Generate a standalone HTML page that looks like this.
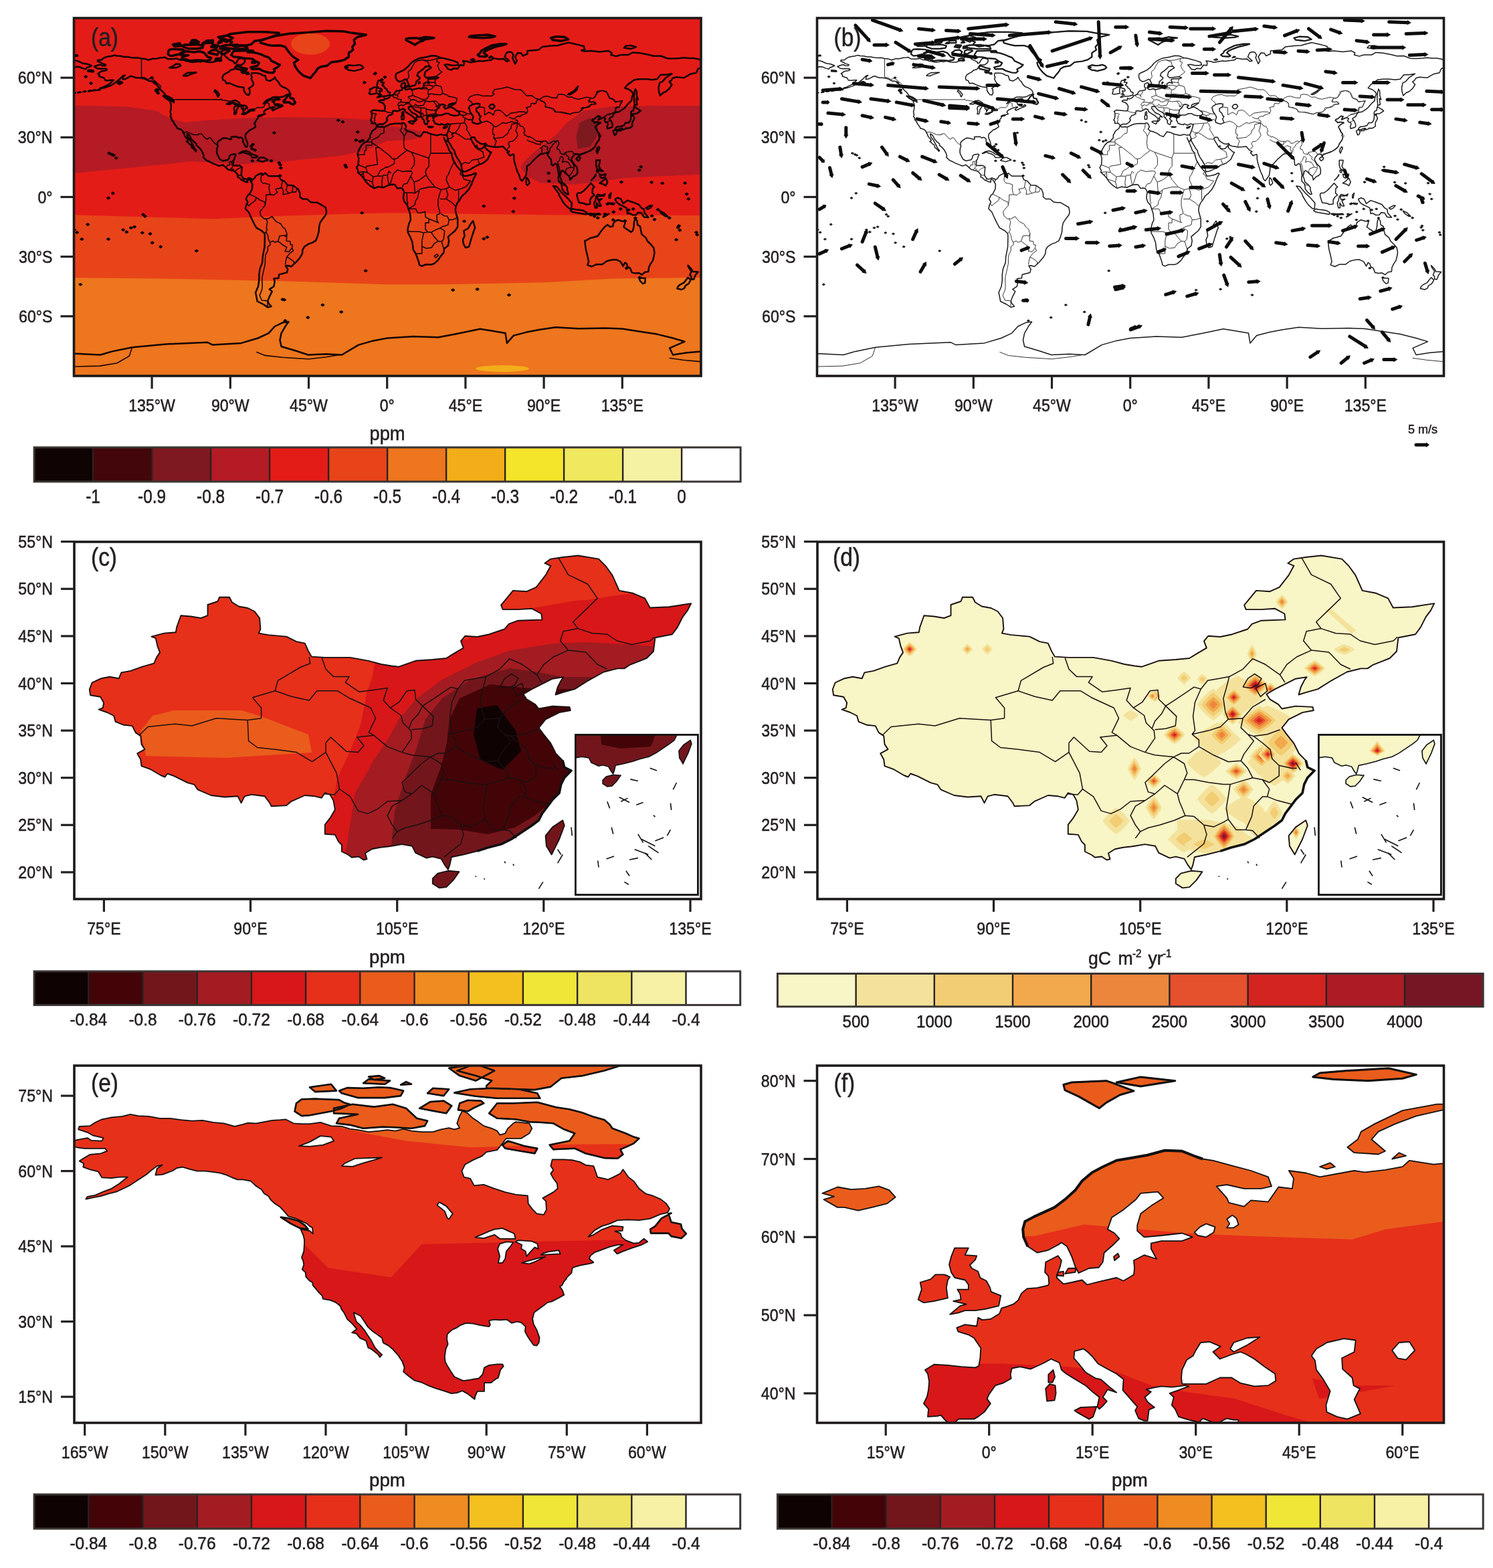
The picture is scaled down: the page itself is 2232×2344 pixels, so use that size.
<!DOCTYPE html>
<html><head><meta charset="utf-8"><title>figure</title><style>html,body{margin:0;padding:0;background:#fff;}svg{display:block;}</style></head><body>
<svg xmlns="http://www.w3.org/2000/svg" width="2232" height="2344" viewBox="0 0 2232 2344" font-family="Liberation Sans, Arial, Helvetica, sans-serif">
<rect width="2232" height="2344" fill="#fff"/>
<clipPath id="ca"><rect x="110.5" y="27" width="937.5" height="535"/></clipPath>
<g clip-path="url(#ca)">
<rect x="110.5" y="27" width="937.5" height="535" fill="#e41c18"/>
<path d="M107.3,321.2 L214.1,324.2 L318.3,327.2 L422.4,322.7 L578.7,318.3 L695.9,319.8 L813.1,321.2 L930.3,321.8 L1050.1,322.1 L1050.1,576.8 L107.3,576.8Z" fill="#e84419"/>
<path d="M107.3,415.2 L266.2,416.9 L422.4,420.2 L578.7,425.3 L656.8,425.3 L813.1,422.3 L917.3,416.4 L1050.1,414.9 L1050.1,576.8 L107.3,576.8Z" fill="#ed761e"/>
<path d="M107.3,157.8 L188.0,159.3 L232.3,165.2 L254.5,177.1 L276.6,183.1 L307.8,180.1 L371.9,176.2 L425.3,175.0 L505.3,176.2 L552.7,179.2 L578.7,188.1 L610.0,192.0 L630.0,196.4 L630.8,203.9 L615.2,208.9 L578.7,210.7 L545.4,225.3 L505.3,233.3 L425.3,241.3 L357.3,245.5 L287.0,241.3 L188.0,251.4 L113.3,258.5 L107.3,258.8ZM777.9,249.9 L782.4,242.5 L795.4,229.7 L833.9,199.1 L846.7,183.9 L872.0,165.8 L910.5,159.6 L987.6,158.1 L1050.1,158.1 L1050.1,260.6 L938.1,265.7 L860.0,275.8 L808.1,273.4 L787.6,263.0Z" fill="#b41b24"/>
<path d="M866.5,183.6 L881.9,176.2 L894.6,183.6 L892.3,204.2 L881.9,219.6 L864.1,222.3 L861.3,204.2Z" fill="#7e191f"/>
<ellipse cx="464.1" cy="65.7" rx="29" ry="16" fill="#e84419"/>
<ellipse cx="751.1" cy="551.0" rx="40" ry="5" fill="#f3ad19"/>
<path d="M211.5,87.4 L211.5,115.3 L216.7,116.2 L220.6,118.9 L225.8,116.8 L231.0,120.6 L237.5,126.6 L240.1,128.4 L240.1,131.0M258.1,148.9 L330.8,148.9 L330.8,147.7 L332.3,149.8 L336.5,150.1 L345.6,151.8 L357.8,156.3 L359.7,156.3 L364.1,159.9 L363.8,166.7 L362.3,169.7 L373.0,167.3 L372.7,165.5 L379.5,164.3 L384.2,160.8 L392.5,160.8 L394.8,159.0 L396.4,155.7 L398.5,153.5 L401.1,153.8 L402.1,154.8 L402.1,158.7 L403.9,160.5M273.7,197.9 L280.0,197.3 L289.6,201.5 L296.9,201.5 L296.9,200.0 L301.3,200.0 L306.5,206.2 L310.2,208.3 L312.0,205.9 L314.6,205.9 L319.6,212.8 L325.6,217.5M338.6,251.4 L338.8,249.6 L339.9,246.7 L343.3,246.7 L343.3,241.6 L346.5,241.6 L348.7,239.5M346.5,241.6 L346.4,247.2M349.0,247.8 L346.4,251.1 L345.3,252.3 L344.0,253.5M351.3,255.9 L354.7,253.2 L357.3,251.4 L362.0,249.9M355.5,261.5 L358.6,262.1 L361.0,262.1M362.8,270.4 L363.6,266.0M375.8,273.1 L377.6,268.9M345.9,251.7 L348.2,253.2 L350.0,253.2M393.0,259.4 L390.7,261.5 L389.9,269.8 L392.5,273.7 L396.4,274.0 L402.9,276.1 L402.1,281.1 L403.4,288.6 L404.5,290.9M404.5,290.9 L409.4,291.8 L412.0,289.2 L414.6,288.0 L412.0,282.6 L419.8,281.1 L420.6,279.0M420.6,279.0 L422.4,269.2M420.6,279.0 L423.7,285.6 L423.0,290.6 L427.6,290.0 L431.6,288.9M429.7,276.7 L427.6,284.1 L431.6,288.9M438.1,277.6 L436.8,287.1 L442.0,287.1 L444.3,282.3M431.6,288.9 L436.8,287.1M404.5,290.9 L397.7,291.2 L397.7,298.1 L396.4,307.0M373.2,290.3 L376.9,292.1 L382.1,294.5 L382.8,294.8M382.8,294.8 L388.6,299.0 L395.9,302.2 L396.4,307.0M369.6,304.6 L371.9,307.9 L374.8,304.6 L377.4,303.1 L382.1,299.3 L382.8,294.8M396.4,307.0 L388.6,316.2 L389.9,322.7 L395.1,327.2 L397.4,326.9M397.4,326.9 L399.8,331.6 L398.7,337.6 L398.2,340.6 L399.5,342.9 L397.7,346.5M397.7,346.5 L395.4,349.0M397.4,326.9 L400.3,327.2 L406.8,323.6 L409.4,327.2 L413.3,331.6 L419.8,334.6 L422.4,339.1 L426.9,342.9 L427.6,346.5 L428.9,348.6M397.7,346.5 L400.6,352.5 L401.3,357.8 L403.7,362.3M403.7,362.3 L408.1,360.2 L411.2,362.3 L415.7,360.5M415.7,360.5 L418.0,352.8 L424.8,351.9 L427.1,353.3 L428.9,348.6M428.9,348.6 L428.2,360.2 L433.6,360.8 L434.4,365.8 L437.3,366.1 L436.5,370.6M415.7,360.5 L422.4,365.8 L428.7,369.7 L426.1,375.6 L432.1,376.2 L436.5,370.6M436.5,370.6 L438.6,375.0 L433.6,378.3 L428.7,384.3M428.7,384.3 L427.1,391.1 L426.6,395.5M428.7,384.3 L432.9,386.3 L439.4,391.1 L439.6,394.7M403.7,362.3 L404.2,365.8 L400.3,368.8 L400.3,374.7 L397.2,380.7 L396.4,386.6 L396.4,394.1 L394.8,401.5 L393.5,407.4 L392.2,413.4 L391.7,419.3 L392.2,425.3 L391.7,432.7 L389.9,437.2 L388.1,441.6 L389.9,445.5 L391.4,449.0 L399.0,449.6 L400.0,450.8 L400.0,458.0M555.5,170.0 L557.3,169.4 L561.5,170.0 L562.6,170.9 L560.7,172.6 L560.5,176.5 L559.2,176.8 L560.5,178.9 L559.7,181.0 L559.4,183.9M574.0,165.5 L578.7,167.6 L582.6,168.2 L587.0,168.5M585.2,142.6 L589.6,145.9 L591.2,145.9 L593.8,147.4 L595.4,148.3 L600.1,148.9 L598.5,153.0 L596.7,153.3 L594.3,156.6 L596.9,158.1 L595.9,160.5 L596.9,163.1 L598.2,164.3M587.6,141.7 L590.4,141.4 L593.8,142.3 L594.3,143.5M594.3,143.5 L595.1,145.0 L594.6,145.6M594.3,143.5 L594.8,140.6 L596.9,139.1 L597.2,136.4M601.1,131.3 L604.5,131.6M615.7,134.3 L616.2,136.1 L616.7,138.2 L617.0,141.1 L617.8,142.9M617.8,142.9 L615.9,142.9 L610.2,145.0 L611.3,146.5 L614.6,149.5 L612.6,151.0 L612.6,153.3 L610.5,153.0 L606.0,153.3 L603.4,153.0 L601.1,152.7 L598.5,153.0M617.8,142.9 L621.7,144.7 L625.6,145.9 L628.2,147.4 L630.8,148.3 L637.3,148.6M614.6,149.5 L617.8,148.9 L622.7,150.1 L623.2,151.8M623.2,151.8 L627.7,152.4 L632.1,150.4 L636.3,150.7M606.0,155.1 L610.5,154.8 L614.4,156.3M596.7,158.1 L600.6,156.6 L602.1,158.1 L605.8,156.3 L606.0,155.1M614.4,156.3 L614.1,159.3M614.1,159.3 L619.1,158.4 L621.7,156.3 L620.6,155.1M636.3,150.7 L633.4,156.9 L631.6,157.5 L627.7,158.1 L623.8,158.1 L621.7,156.3M619.8,160.2 L624.3,160.5 L628.2,161.1 L629.2,163.1 L629.5,166.1 L626.9,168.2M628.2,161.1 L634.7,161.4 L637.8,163.1 L637.0,166.7 L638.3,169.7 L637.6,172.1 L633.4,172.9 L632.4,170.0 L629.7,168.2M630.8,176.5 L633.4,172.9M637.6,172.1 L642.5,171.2 L647.2,170.6 L648.0,171.8 L646.9,173.8M637.8,163.1 L643.8,164.6 L653.2,164.6M647.2,170.6 L651.6,169.7M636.3,150.7 L641.2,152.1 L648.0,151.2 L651.9,156.3 L652.1,159.3M648.0,151.2 L652.1,151.2 L654.2,153.3 L656.8,156.3 L652.1,159.3 L656.1,160.2M629.7,132.8 L638.1,132.8 L637.6,130.7 L634.2,130.4M637.3,148.6 L641.2,143.8 L640.2,141.1 L639.9,137.6 L640.9,134.3 L638.1,132.8M633.7,127.8 L641.2,127.2 L648.0,129.0M642.0,122.7 L647.7,123.3 L650.3,123.6M651.9,117.7 L650.1,122.1 L650.8,123.9 L651.9,127.5 L648.0,129.0 L646.4,131.3 L645.1,133.1 L640.9,134.3M651.9,127.5 L659.2,129.3 L661.5,137.0 L661.5,139.7 L658.1,141.7 L650.3,141.1 L644.3,140.3 L640.2,141.1M661.5,139.7 L668.3,142.0 L670.9,144.1 L676.6,145.0 L683.1,147.1 L682.1,152.4 L678.2,154.5M608.4,119.2 L611.3,114.7 L610.7,111.1 L610.2,107.3 L614.9,103.1 L616.5,99.2 L620.4,93.0 L625.6,90.6 L631.6,89.4M631.6,89.4 L640.2,92.7 L641.5,98.9M631.6,89.4 L637.3,90.6 L645.6,89.7 L653.7,87.4M653.7,87.4 L652.9,91.8 L656.8,93.3 L654.2,98.3 L656.8,104.3 L660.7,107.6 L651.1,114.7M653.7,87.4 L658.9,87.1M706.3,156.3 L705.5,153.3 L701.9,150.4 L699.8,148.9 L702.4,144.7 L708.9,142.0 L715.4,141.4 L721.9,143.5 L728.5,143.2 L735.0,143.5 L738.9,140.6 L736.3,138.5 L737.6,137.0 L738.9,134.0 L749.3,132.2 L758.4,130.1 L770.1,134.0 L777.9,134.0 L781.8,137.0 L787.1,143.2 L794.9,142.9 L801.4,147.4 L806.1,148.6M806.1,148.6 L813.1,144.4 L818.3,143.8 L824.8,145.9 L832.6,146.5 L833.9,141.4 L839.1,140.8 L844.3,142.0 L849.6,145.3 L854.8,145.0 L860.0,147.4 L865.2,148.3 L870.4,147.1 L876.9,145.3 L882.6,146.2M882.6,146.2 L885.8,147.1 L889.1,145.0 L891.2,140.3 L895.1,137.0 L900.3,135.5 L906.9,137.9 L910.8,146.5 L917.3,149.2 L919.9,152.7 L925.1,151.5 L929.5,151.0 L927.7,154.8 L925.3,160.5 L922.0,159.9 L919.9,161.1 L919.9,167.0 L918.8,168.5M918.8,168.5 L914.7,169.7 L912.1,170.0 L908.2,171.2 L904.2,174.1 L902.4,175.9M907.1,182.5 L909.5,181.6 L912.8,179.8M806.1,148.6 L807.9,150.1 L813.1,152.4 L815.7,156.0 L814.9,159.3 L820.9,161.1 L827.4,162.8 L831.3,167.3 L839.1,167.9 L844.3,169.1 L852.2,170.9 L857.4,168.5 L865.2,167.9 L869.1,164.6 L873.0,161.4 L880.8,159.9 L884.7,156.0 L890.7,155.7 L887.3,152.1 L884.2,152.7 L880.8,152.4 L882.6,146.2M724.3,160.8 L724.5,171.8 L731.1,167.9 L735.0,169.7 L737.6,172.1 L740.2,165.2 L746.7,164.6 L750.6,167.0 L757.1,173.8 L763.6,169.1 L770.1,168.2 L776.6,167.0 L784.4,167.3 L787.6,169.4M724.3,160.8 L716.7,159.9M719.1,183.6 L727.2,181.0 L732.4,183.1 L736.3,186.0 L738.1,188.7M738.1,188.7 L741.5,189.6 L746.7,186.6 L751.9,183.3M751.9,183.3 L755.8,184.5 L761.0,183.1 L764.9,181.9 L770.1,183.3 L773.8,183.9M761.0,175.0 L766.2,177.4 L770.6,177.4M773.8,183.9 L764.9,186.0 L763.9,192.0 L761.0,194.0 L759.2,199.7 L751.9,205.3 L740.2,206.8 L737.6,205.9M738.1,188.7 L736.3,194.9 L737.0,200.9 L739.4,201.2 L737.6,205.9M737.6,205.9 L742.0,210.7 L739.1,219.6M773.8,183.9 L772.7,191.1 L770.9,195.8 L772.7,197.9 L774.0,202.4 L771.2,206.8 L766.2,211.3 L761.8,211.6 L759.7,215.1 L762.3,218.7 L757.9,223.2M787.3,208.9 L792.3,211.6 L797.5,213.1 L802.7,215.4 L808.1,216.0 L808.4,211.9M809.7,229.1 L810.5,223.2 L808.1,221.4 L810.5,219.6 L812.6,217.5 L819.1,219.9 L817.8,222.6 L819.6,226.1 L819.1,231.5M819.1,231.5 L821.7,226.1 L822.2,221.7 L825.1,218.7 L826.6,215.7 L832.1,211.6M835.2,264.8 L837.1,258.8 L836.5,252.9 L835.2,246.9 L833.4,242.5 L836.3,239.5 L837.8,234.5 L839.4,233.9M839.4,233.9 L842.3,236.5 L840.4,242.5 L844.3,241.3 L849.6,242.8 L851.6,245.8 L853.7,249.9M844.9,227.9 L847.0,232.1 L850.9,235.1 L849.6,237.4 L853.5,240.4 L856.3,244.0 L858.7,249.9M853.7,249.9 L847.0,252.0 L845.4,255.9 L846.7,260.0M858.7,251.1 L855.5,257.4 L850.9,263.3M853.7,249.9 L858.7,251.1M839.4,275.2 L843.8,277.6 L844.6,276.1M672.5,188.1 L674.3,185.1 L677.7,185.1 L682.9,184.5 L688.9,184.2M688.9,184.2 L694.1,183.9 L695.4,176.5M687.0,171.2 L692.0,172.4 L692.3,175.3 L695.4,176.5M688.9,184.2 L685.5,192.3 L680.3,198.5 L674.5,198.5 L671.4,195.5M695.4,183.9 L697.2,188.1 L698.5,190.5 L697.2,193.5 L699.8,197.0 L703.7,203.9M680.3,198.5 L685.5,201.2 L695.1,207.7 L699.8,208.0 L703.7,208.3M680.3,198.5 L675.1,200.9 L677.7,203.9 L673.8,206.8 L669.9,207.1M690.2,245.8 L694.6,242.8 L701.1,244.3 L706.3,239.2 L714.1,238.0 L723.5,235.1 L721.9,227.0 L713.1,222.3M714.1,238.0 L717.0,245.2M682.9,165.5 L688.1,166.1 L693.3,167.6 L698.5,170.0 L705.0,170.3M695.4,176.5 L699.8,178.9 L703.7,178.6 L706.1,180.4M698.5,170.0 L695.9,172.1 L692.0,172.4M671.4,195.5 L670.1,196.1M574.3,190.2 L574.0,198.8 L569.3,200.3 L564.4,205.6 L556.0,209.2 L556.0,212.2M601.1,184.8 L600.6,191.4 L598.2,194.9 L602.1,199.4 L604.2,203.9 L603.4,214.3 L604.7,221.7 L608.7,224.7M608.7,195.8 L604.2,203.9M556.0,212.2 L556.0,213.4 L566.2,220.2 L581.8,232.1 L587.0,237.7 L589.6,237.4 L593.8,236.8 L598.2,232.7 L608.7,224.7M556.0,212.2 L544.3,212.2M556.0,213.4 L556.0,217.2 L547.4,217.2 L547.4,224.7 L544.8,226.1 L544.8,231.2 L534.4,231.2M566.2,220.2 L561.8,220.5 L564.4,245.8 L548.7,248.4 L546.9,250.8M546.9,250.8 L535.7,246.4M589.6,237.4 L589.6,244.6 L580.0,249.9 L577.4,249.6 L573.5,252.3 L568.3,255.0 L564.4,263.3 L557.9,264.2 L549.3,257.9 L546.9,250.8M549.3,257.9 L543.0,256.8 L535.2,257.6M543.0,256.8 L544.1,267.8 L548.7,269.2 L551.4,269.8 L556.6,272.2 L559.2,281.4M539.6,261.8 L543.0,258.8M557.9,264.2 L556.6,272.2M571.4,279.6 L570.9,272.2 L572.2,263.3 L564.4,263.3M581.8,276.4 L580.0,269.2 L579.2,261.8M582.9,276.1 L585.7,267.8 L588.1,259.7M572.2,262.1 L579.2,261.8 L581.3,256.2 L584.7,258.8M588.1,259.7 L594.3,254.1 L602.1,256.5 L611.3,255.6 L615.2,255.9M601.1,280.5 L603.7,275.2 L608.7,274.0 L611.3,269.2 L613.9,263.3 L616.5,258.8 L615.2,255.9M608.7,224.7 L615.2,227.6 L619.1,235.1 L619.6,241.0 L619.1,246.9 L614.4,252.9M615.2,227.6 L641.2,236.5 L641.2,235.1M641.2,236.5 L641.2,248.4 L637.3,252.9 L636.0,257.4 L637.3,261.8M613.9,263.3 L619.1,272.2 L626.9,269.2 L634.7,263.3 L637.3,261.8M643.8,200.6 L643.8,229.1 L641.2,235.1M643.8,229.1 L674.8,229.1M679.2,241.0 L673.8,252.0M673.8,252.0 L669.9,261.8 L668.0,263.3M637.3,261.8 L641.2,268.6 L650.3,279.6 L659.4,283.5 L667.0,282.0 L671.9,279.6 L667.2,269.2 L668.0,263.3M690.7,261.8 L693.3,267.8 L703.7,270.7 L695.9,279.6 L688.1,282.6 L685.5,282.9M685.5,282.9 L680.3,284.4 L671.9,279.6M685.5,282.9 L685.5,299.6M690.4,261.8 L687.6,260.3 L689.1,257.4M667.0,282.0 L669.6,291.5 L667.2,297.5 L676.4,303.4 L680.8,308.2M658.1,297.5 L667.2,297.5M659.4,283.5 L656.8,291.5 L655.0,299.0 L655.0,307.9 L658.1,319.2M658.1,319.2 L652.9,321.2 L653.4,330.2 L655.5,333.1 L649.0,330.2 L641.2,327.2 L636.0,324.2 L635.5,316.2 L629.5,318.3 L624.3,318.3 L621.7,312.3 L610.7,312.3M650.3,279.6 L641.2,279.6 L628.2,282.6 L626.9,284.1 L624.3,296.0 L621.2,300.4 L620.1,306.4 L610.7,312.3M620.4,288.6 L619.1,272.2M604.2,287.7 L608.1,288.0 L613.3,288.0 L620.4,288.6 L626.9,284.1M608.1,288.0 L608.7,301.9 L610.0,303.4 L607.6,306.1M609.4,345.9 L615.2,346.2 L626.9,346.2 L633.1,348.0 L639.6,346.8M641.2,327.2 L641.2,333.1 L636.0,333.1 L636.0,342.9 L639.6,346.8M630.8,359.9 L630.8,368.2 L630.8,378.9 L621.7,379.5M630.8,359.9 L633.4,348.0M630.8,368.2 L637.3,371.2 L645.1,370.3 L649.0,364.3 L655.0,360.5 L660.2,361.1M644.6,347.4 L651.6,343.5 L657.9,340.9 L664.6,345.0 L664.1,351.0 L663.1,357.8 L660.2,361.1M639.6,346.8 L644.6,347.4 L649.0,353.9 L655.0,360.5M660.2,361.1 L662.0,367.3 L664.4,374.4M657.9,340.9 L662.0,338.5 L665.9,337.6 L669.9,336.1 L671.2,328.7 L668.6,323.0 L664.6,322.7 L659.4,319.8M671.2,328.7 L677.7,328.1 L683.9,325.7M649.0,382.8 L652.9,379.8 L655.3,381.9 L651.6,385.4 L649.0,382.8M770.2,177.5 L770.9,175.4 L773.3,174.1 L775.5,173.6 L778.0,174.1 L778.7,172.2 L781.1,171.7 L784.2,170.4 L787.4,169.3 L788.0,167.5 L788.9,165.9 L788.3,163.8 L787.8,161.4 L786.7,160.9 L790.1,159.8 L793.2,159.6 L793.4,158.0 L794.5,154.3 L797.2,154.6 L799.9,155.1 L801.7,154.3 L801.7,150.9 L804.3,149.8 L804.8,148.5 L807.5,148.5 L808.1,150.1 L809.9,151.4 L812.4,151.9 L814.2,153.0 L815.5,155.1 L815.7,158.5 L815.3,159.8 L817.7,160.4 L822.7,160.9 L825.3,162.5 L827.6,163.0 L828.5,165.4 L829.4,167.2 L832.9,167.5 L839.6,167.5 L844.5,168.5 L847.9,169.6 L850.7,170.2 L852.5,170.4 L857.1,168.5 L861.6,168.2 L865.3,167.7 L867.1,166.4 L869.8,164.5 L869.1,162.3 L870.3,160.7 L873.5,161.0 L876.7,160.2 L880.8,158.6 L881.9,157.0 L884.4,155.9 L890.8,155.6 L890.6,153.7 L888.1,152.1 L884.4,152.4 L880.3,152.4 L879.9,151.0 L883.1,146.5 L886.7,146.7 L889.2,145.4 L891.7,141.6 L893.1,138.6 L891.5,137.8 L893.1,136.5 L896.3,136.0 L900.4,135.4 L905.9,136.5 L907.7,138.6 L909.5,141.6 L911.3,146.5 L915.0,147.3 L918.2,148.9 L919.6,151.8 L924.6,151.6 L930.5,150.5 L929.6,152.6 L928.2,154.8 L926.9,158.0 L925.5,160.2 L920.9,161.3 L920.5,165.6 L918.6,167.7 L916.4,168.8 L914.1,169.9 L912.7,171.0 L910.9,171.0 L907.2,172.0 L903.1,174.7 L899.5,177.4 L896.3,178.5 L894.4,179.2 L894.9,176.9 L895.8,174.7 L896.5,173.7 L893.6,174.2 L891.7,175.3 L888.1,177.4 L885.8,179.0 L886.7,180.7 L889.0,182.3 L889.9,183.6 L893.6,182.8 L898.1,183.1 L898.3,184.2 L895.4,184.8 L891.7,187.0 L889.9,189.6 L891.3,191.8 L893.1,194.5 L894.5,197.7 L896.3,199.9 L896.7,202.0 L898.6,203.1 L896.7,205.3 L895.8,207.4 L895.4,210.1 L893.6,212.3 L892.2,214.4 L890.8,216.6 L889.9,218.7 L888.1,220.3 L885.3,222.5 L882.6,224.7 L879.9,226.3 L876.2,227.3 L873.5,228.4 L869.8,229.5 L866.6,230.3 L866.2,232.7 L865.7,234.2 L864.8,232.7 L863.9,230.9 L861.6,230.2 L860.0,230.6 L857.1,229.0 L856.1,226.8 L853.4,226.3 L850.7,226.8 L849.7,227.0 L847.7,227.2 L845.4,227.8 L843.7,229.1 L844.1,230.9 L843.2,231.2 L841.9,230.1 L840.1,230.4 L839.2,229.6 L837.4,228.6 L837.4,226.4 L836.5,225.4 L835.6,223.3 L832.9,223.0 L832.9,220.1 L834.3,218.0 L835.6,215.4 L835.2,212.5 L834.3,210.6 L832.9,210.1 L832.0,211.7 L830.3,211.1 L827.6,210.9 L824.0,212.7 L822.7,214.0 L818.6,214.3 L818.2,213.3 L816.9,211.1 L813.3,210.6 L811.5,211.1 L810.6,213.3 L809.7,211.1 L806.1,211.4 L802.6,210.9 L799.0,209.0 L798.1,207.5 L796.3,206.9 L792.7,204.8 L790.9,204.0 L790.3,205.1 L789.2,204.6 L786.5,202.7 L784.0,201.7 L783.8,199.5 L782.9,197.7 L784.9,196.4 L784.0,194.8 L783.8,192.2 L782.5,191.1 L781.6,189.0 L779.3,188.7 L777.1,187.7 L776.7,185.8 L774.9,184.8 L772.6,183.8 L773.8,183.3 L774.0,181.7 L773.1,179.9 L770.4,179.4M109.9,548.0 L149.0,547.1 L175.0,542.7 L193.2,532.3 L197.7,519.2M383.4,526.3 L396.4,531.4 L422.4,534.3 L461.5,536.7 L487.5,533.7 L505.8,530.8M1000.6,535.2 L1021.4,538.2 L1047.5,540.6" fill="none" stroke="#1a0606" stroke-width="1.6" stroke-linejoin="round"/>
<path d="M338.6,251.4 L335.2,248.1 L332.6,246.4 L330.0,247.5 L327.4,248.0 L323.5,246.4 L319.6,244.9 L315.7,243.1 L312.5,241.3 L309.1,240.1 L306.5,237.7 L303.9,235.1 L304.5,232.7 L303.4,229.1 L301.3,225.3 L298.7,221.7 L296.6,219.6 L294.0,217.8 L293.5,215.1 L290.9,212.8 L289.1,211.3 L286.5,208.3 L284.9,205.3 L283.1,202.1 L279.7,200.0 L280.2,202.4 L281.0,205.3 L283.1,207.7 L284.9,210.4 L286.5,213.4 L288.3,216.6 L290.1,220.8 L291.4,222.6 L293.5,225.0 L292.5,226.4 L291.4,224.7 L288.3,221.7 L286.7,220.8 L285.7,216.6 L282.8,215.1 L281.0,212.5 L278.9,211.9 L281.3,209.8 L279.2,206.8 L276.6,203.9 L275.0,200.0 L273.7,197.9 L273.2,196.1 L271.4,194.3 L270.1,193.5 L268.0,192.6 L264.9,192.0 L264.3,189.9 L262.8,188.1 L261.2,185.7 L259.9,183.9 L259.7,182.2 L258.4,181.3 L256.5,178.9 L256.3,176.2 L254.7,174.4 L255.5,171.8 L255.2,169.7 L254.5,167.3 L255.5,163.7 L255.8,159.3 L255.8,156.9 L255.2,154.2 L253.9,150.7 L258.4,151.5 L259.9,153.3 L259.7,149.8 L258.4,148.9 L257.1,147.4 L254.5,145.9 L251.8,144.4 L247.9,142.9 L245.9,140.0 L244.0,137.6 L241.4,135.5 L239.3,133.1 L238.3,131.0 L236.2,129.6 L234.9,127.2 L232.3,125.1 L229.7,122.1 L225.8,121.2 L223.2,121.2 L220.6,120.0 L218.0,118.6 L214.9,117.4 L211.5,116.8 L207.6,116.2 L203.7,116.2 L199.8,115.0 L196.6,113.8 L193.8,114.4 L191.9,115.9 L189.3,117.1 L186.7,118.3 L183.4,118.6 L184.1,114.7 L186.7,112.6 L184.1,113.2 L181.5,115.6 L178.9,118.3 L177.1,119.7 L173.7,122.4 L171.1,124.5 L167.7,126.6 L164.6,128.4 L160.7,129.6 L156.8,131.0 L152.9,131.9 L149.5,132.8 L150.3,131.3 L154.2,130.4 L158.1,128.4 L162.0,126.6 L165.9,123.6 L168.2,121.2 L169.8,119.7 L165.9,119.7 L162.0,120.3 L157.3,120.0 L155.5,116.5 L151.6,115.3 L148.2,113.8 L148.5,111.7 L146.4,110.2 L149.5,107.9 L151.6,106.4 L156.8,105.8 L159.9,104.3 L158.9,102.8 L152.9,102.8 L149.0,102.8 L145.1,102.2 L142.5,100.7 L140.9,99.5 L145.1,97.8 L150.3,96.6 L152.1,98.1 L157.3,98.3 L158.1,96.6 L152.9,95.1 L150.3,93.3 L145.8,91.5 L146.4,89.7 L151.6,89.4 L154.2,87.4 L157.3,85.6 L162.0,84.4 L167.2,83.8 L171.1,82.6 L175.0,83.5 L180.2,83.8 L185.4,85.0 L190.6,85.0 L195.9,85.9 L201.1,86.5 L206.3,86.2 L211.5,87.4 L216.7,87.9 L221.9,89.7 L225.8,88.5 L228.4,87.6 L232.3,87.9 L236.2,87.1 L240.1,86.2 L244.0,85.9 L246.6,85.6 L250.5,87.9 L254.5,88.2 L258.4,88.2 L263.6,87.4 L268.8,89.4 L274.0,89.7 L277.9,91.2 L281.8,91.8 L287.0,93.0 L292.2,92.4 L296.1,91.8 L300.0,92.4 L303.9,91.2 L307.8,92.4 L313.1,93.0 L318.3,93.0 L322.2,91.5 L326.1,90.6 L328.7,91.5 L331.3,90.6 L330.0,87.9 L331.3,83.5 L332.6,80.5 L335.2,82.0 L337.8,85.0 L340.4,87.1 L343.0,89.4 L346.9,90.9 L349.5,92.4 L350.8,94.8 L353.4,93.9 L354.7,90.9 L357.3,87.9 L358.6,87.1 L365.1,87.9 L366.4,90.9 L365.1,93.9 L361.2,96.9 L353.9,96.9 L352.1,99.8 L349.5,103.7 L344.3,104.9 L342.2,107.3 L337.8,109.6 L333.9,112.3 L332.3,116.2 L333.4,119.7 L336.5,120.6 L338.3,124.8 L343.0,124.2 L348.2,126.6 L353.4,128.7 L358.6,130.1 L364.4,130.7 L364.6,135.5 L366.4,138.5 L368.8,141.4 L372.2,142.0 L373.5,139.1 L373.2,134.0 L371.7,132.2 L376.9,128.7 L378.9,126.6 L378.7,123.6 L376.9,120.6 L375.6,117.7 L376.9,115.6 L375.6,113.2 L376.3,109.3 L382.1,109.3 L386.0,109.6 L389.9,110.8 L392.5,112.6 L396.4,113.2 L397.7,117.7 L398.2,119.7 L401.6,120.6 L403.4,121.2 L406.0,119.7 L409.4,117.7 L410.7,115.3 L413.3,119.7 L415.9,122.1 L418.5,126.6 L421.7,129.6 L425.0,130.7 L428.9,132.8 L431.6,135.2 L433.4,138.5 L432.3,140.8 L428.9,141.7 L423.7,144.4 L418.5,145.3 L413.3,145.0 L408.1,145.3 L404.2,147.4 L400.3,148.9 L396.9,151.2 L393.8,155.1 L396.4,153.9 L400.3,151.0 L405.5,148.6 L410.7,149.2 L410.5,151.5 L406.8,151.8 L409.4,153.0 L410.2,155.4 L412.0,157.2 L415.9,159.0 L418.5,158.7 L420.9,156.3 L422.7,158.1 L419.8,159.9 L414.6,161.9 L410.7,163.7 L407.9,165.2 L406.3,163.1 L410.7,159.9 L408.1,159.9 L404.2,161.1 L400.3,162.8 L396.9,164.3 L394.8,166.4 L394.3,168.2 L396.4,170.3 L395.1,170.9 L392.5,171.5 L389.9,172.1 L386.5,173.2 L386.0,174.1 L385.7,176.5 L383.6,178.9 L383.1,180.1 L382.1,181.6 L381.0,183.9 L380.0,184.5 L381.3,186.9 L382.1,189.6 L379.5,191.4 L376.1,193.5 L374.0,194.0 L372.2,195.8 L369.8,197.9 L367.5,200.0 L366.7,203.9 L367.2,206.8 L368.8,210.4 L370.1,214.9 L369.8,217.8 L368.8,219.6 L367.2,219.3 L365.7,216.6 L364.4,214.3 L363.1,211.3 L363.3,208.3 L361.2,205.9 L359.1,205.3 L356.5,206.2 L354.2,204.2 L350.8,204.4 L348.2,204.2 L345.6,204.7 L346.1,207.4 L345.6,208.3 L343.8,208.0 L340.9,207.4 L337.8,206.5 L334.4,206.2 L331.8,207.4 L330.0,208.9 L327.4,210.4 L325.3,212.8 L325.0,215.7 L325.6,218.7 L324.5,221.7 L324.0,226.1 L324.3,229.1 L325.3,231.5 L327.4,235.7 L328.7,238.0 L331.3,239.5 L333.1,240.4 L336.5,239.8 L339.1,239.2 L340.7,238.9 L342.5,236.5 L343.3,232.7 L345.6,231.2 L349.5,230.6 L352.1,230.6 L352.6,231.8 L351.1,234.2 L350.6,236.5 L350.0,238.6 L348.7,239.5 L349.0,242.5 L348.2,246.9 L350.8,247.5 L354.7,247.2 L358.6,247.5 L361.8,249.9 L361.2,255.9 L360.7,261.8 L362.5,264.8 L365.1,267.8 L369.0,267.5 L371.7,266.0 L375.6,267.2 L377.1,268.9 L380.8,266.3 L382.1,263.3 L386.0,260.9 L391.2,258.8 L392.5,261.8 L396.4,258.8 L401.6,263.3 L412.0,263.3 L417.2,263.3 L419.8,268.9 L425.0,270.7 L430.2,276.7 L438.1,277.3 L443.3,281.1 L445.9,282.6 L448.5,289.2 L448.5,294.5 L452.4,297.5 L458.9,297.5 L464.1,301.9 L469.3,302.8 L474.5,302.8 L479.7,305.8 L486.8,310.0 L488.1,316.8 L487.0,321.2 L482.3,327.2 L478.4,333.1 L477.1,339.1 L476.6,346.5 L474.5,353.9 L471.9,359.9 L466.7,362.9 L461.5,364.6 L455.0,368.8 L452.4,373.3 L451.9,379.2 L448.5,385.1 L443.3,391.1 L439.6,394.7 L435.5,398.5 L430.2,397.0 L426.9,397.3 L430.2,402.4 L428.9,407.4 L417.2,410.4 L416.4,415.8 L409.4,416.4 L410.7,420.8 L409.4,428.2 L402.9,432.4 L406.8,435.7 L402.9,443.1 L400.3,449.9 L401.6,453.5 L405.5,458.0 L400.3,459.4 L393.8,455.0 L384.7,450.5 L382.1,437.2 L386.0,428.2 L387.3,419.3 L387.3,410.4 L388.6,401.5 L392.2,392.6 L392.7,383.7 L395.6,368.8 L395.9,353.9 L395.6,349.2 L391.2,345.0 L383.4,340.6 L380.0,334.6 L375.6,325.7 L371.7,316.8 L367.0,312.3 L367.7,307.9 L370.3,301.9 L367.7,297.5 L370.3,292.1 L373.0,290.0 L376.9,282.6 L377.4,275.2 L375.8,273.1 L374.3,269.8 L371.7,268.0 L369.3,270.7 L370.3,272.2 L367.2,271.9 L363.8,270.1 L361.2,269.2 L357.3,265.4 L355.2,264.8 L355.5,261.5 L353.4,258.8 L350.6,255.9 L348.2,255.3 L344.8,254.4 L340.7,253.2ZM464.1,116.8 L453.7,113.2 L448.5,108.8 L444.6,104.3 L440.7,98.3 L439.4,93.9 L445.9,89.4 L438.1,85.0 L435.5,82.0 L431.6,77.5 L426.3,70.1 L419.8,68.0 L406.8,68.3 L400.3,67.1 L389.9,64.2 L388.6,61.2 L401.6,56.7 L414.6,53.2 L432.9,50.2 L461.5,48.4 L487.5,46.3 L513.6,46.9 L526.6,49.3 L547.4,52.0 L534.4,55.3 L529.2,59.7 L530.5,65.7 L526.6,70.1 L527.9,74.6 L521.4,79.0 L521.4,85.0 L514.9,89.4 L507.1,91.5 L495.4,93.0 L488.8,98.3 L479.7,99.8 L474.5,102.8 L471.9,107.3 L468.0,111.7ZM521.4,104.9 L516.2,101.9 L520.1,100.7 L515.7,99.5 L521.4,97.2 L526.6,98.1 L531.8,97.8 L537.0,96.9 L540.9,98.3 L543.3,101.0 L540.2,103.4 L534.4,104.9 L529.2,106.1 L524.0,104.9ZM357.3,229.4 L362.5,226.4 L367.7,225.5 L373.0,227.6 L376.9,230.6 L381.8,232.1 L385.5,234.2 L383.4,235.4 L376.9,235.4 L375.6,233.0 L371.7,230.3 L366.4,228.8 L363.8,227.3 L359.9,229.1ZM384.7,239.8 L389.1,235.4 L393.8,235.4 L399.0,238.0 L400.6,239.2 L396.4,240.4 L392.5,241.9 L387.3,240.4ZM564.1,187.5 L562.3,186.0 L560.5,183.9 L559.2,184.2 L555.5,184.5 L555.8,181.6 L554.0,179.5 L555.3,176.8 L555.8,174.1 L556.0,171.2 L555.5,168.2 L554.5,166.7 L557.9,164.6 L563.1,164.9 L568.3,165.5 L573.5,165.8 L574.8,165.2 L575.3,162.2 L575.6,158.4 L573.0,154.5 L570.9,153.3 L567.0,152.1 L566.5,150.7 L569.6,149.5 L574.0,150.1 L574.5,146.8 L576.1,147.7 L579.2,147.4 L582.6,145.3 L583.4,143.2 L585.2,142.6 L587.8,141.7 L589.6,140.3 L590.9,137.6 L593.0,135.8 L596.9,135.5 L600.8,134.6 L601.4,134.0 L601.1,131.0 L599.8,129.6 L600.1,125.7 L604.7,123.3 L606.0,125.1 L605.5,127.5 L604.7,129.6 L604.2,131.6 L606.8,134.0 L610.0,133.4 L613.9,132.5 L615.7,134.3 L620.4,133.1 L626.9,131.6 L629.5,132.8 L633.4,130.4 L633.7,128.1 L633.4,125.1 L637.3,123.0 L642.0,124.5 L639.9,120.6 L639.9,118.6 L643.8,117.7 L651.6,117.7 L655.5,116.2 L651.6,114.7 L643.8,115.6 L637.3,116.2 L634.7,113.8 L634.7,111.7 L636.0,107.3 L639.9,104.3 L644.6,101.3 L642.5,98.9 L636.0,99.5 L634.2,101.9 L629.5,105.8 L625.1,108.8 L623.5,113.2 L626.1,114.7 L627.9,116.8 L625.6,119.2 L622.2,122.1 L621.7,125.7 L620.1,127.8 L616.5,128.1 L612.6,129.9 L611.3,127.5 L610.0,123.6 L608.1,119.7 L606.0,118.3 L604.7,119.2 L600.8,121.2 L596.9,122.1 L593.3,119.7 L591.7,116.2 L591.5,113.2 L592.2,110.2 L595.6,108.5 L599.5,106.7 L603.4,104.9 L607.3,101.9 L611.3,98.3 L613.9,94.8 L617.8,91.5 L621.7,89.4 L626.9,87.1 L632.1,86.2 L638.6,85.0 L645.1,83.2 L651.6,83.5 L656.8,85.6 L659.4,86.5 L663.3,87.1 L669.9,88.8 L677.7,90.9 L684.2,93.3 L685.5,96.9 L681.6,97.8 L675.1,97.8 L668.6,96.3 L664.6,96.9 L668.6,101.3 L669.3,103.1 L675.1,104.6 L677.7,102.2 L684.2,102.8 L688.1,97.2 L693.3,97.8 L693.8,93.9 L692.0,90.9 L698.5,91.8 L703.7,93.3 L716.7,90.9 L720.6,91.5 L728.5,90.6 L735.0,89.4 L737.6,87.1 L746.7,88.5 L753.2,87.9 L757.1,91.8 L761.0,90.9 L754.5,85.0 L757.1,79.0 L761.0,77.5 L764.9,78.1 L767.5,82.0 L766.2,86.5 L770.1,95.4 L772.7,90.9 L770.1,85.0 L774.0,79.0 L779.2,79.6 L781.8,83.5 L788.4,80.5 L788.4,76.1 L805.3,74.6 L810.5,70.1 L823.5,68.6 L833.9,68.0 L841.7,65.7 L850.3,63.6 L854.8,64.8 L865.2,67.1 L873.0,69.2 L874.3,74.6 L869.1,75.2 L874.3,76.7 L883.4,76.1 L896.4,77.5 L909.5,76.1 L914.7,79.0 L913.4,82.0 L921.2,84.1 L927.7,82.0 L939.4,82.0 L945.9,78.4 L956.3,79.3 L969.4,81.7 L977.2,83.8 L987.6,83.5 L995.4,86.5 L999.3,87.6 L1008.4,87.4 L1016.2,87.1 L1022.8,86.2 L1029.3,87.1 L1037.1,87.1 L1043.6,88.2 L1047.5,89.7 L1047.5,101.3 L1043.6,102.8 L1041.0,108.8 L1031.9,110.8 L1026.7,113.8 L1022.8,116.2 L1011.0,115.3 L1005.8,116.8 L1003.2,120.6 L1000.6,122.1 L1004.5,126.6 L1000.6,132.5 L995.4,137.0 L991.5,138.5 L986.8,142.9 L985.0,137.0 L984.5,131.0 L986.3,123.6 L990.2,122.1 L995.4,116.2 L1004.5,110.2 L995.4,111.7 L987.6,111.7 L982.4,118.3 L974.6,119.2 L966.8,118.3 L956.3,118.3 L948.5,119.2 L944.6,122.1 L938.1,126.6 L934.2,131.6 L940.7,134.0 L944.6,137.0 L946.7,140.0 L944.6,145.9 L944.1,150.4 L939.4,154.8 L932.9,162.2 L925.1,167.3 L919.9,167.9 L916.8,171.2 L916.0,174.1 L912.1,176.2 L910.8,177.7 L913.4,180.7 L915.7,186.0 L915.4,189.6 L913.4,190.8 L908.2,192.3 L907.6,189.0 L908.9,186.0 L908.2,183.1 L905.0,182.5 L903.7,180.1 L905.3,177.1 L902.4,175.9 L898.5,176.8 L894.4,179.2 L895.4,177.1 L897.2,174.1 L893.8,173.2 L891.2,175.6 L889.1,177.7 L886.0,178.3 L885.2,180.1 L887.3,181.6 L888.6,183.6 L892.5,182.2 L897.7,183.3 L895.1,185.1 L892.5,186.9 L889.9,189.6 L892.5,194.9 L893.8,197.9 L896.2,200.0 L895.1,202.4 L896.4,205.3 L895.7,208.3 L893.8,211.3 L891.2,214.9 L889.9,218.7 L887.3,221.7 L883.4,224.7 L879.5,226.7 L875.6,228.2 L873.0,229.1 L869.1,230.6 L866.5,232.1 L865.7,234.2 L864.4,230.6 L861.3,230.3 L858.7,231.2 L856.1,234.2 L854.0,238.0 L856.1,242.5 L858.7,246.1 L862.1,249.3 L863.4,254.4 L863.1,259.7 L860.0,262.7 L856.8,263.9 L852.2,268.9 L851.6,265.4 L850.9,263.3 L847.0,260.3 L844.3,257.4 L841.2,255.0 L839.1,255.9 L837.1,263.3 L838.6,267.2 L839.9,272.2 L842.5,274.3 L845.1,276.4 L848.0,280.2 L848.0,284.1 L850.1,290.3 L848.0,290.6 L844.3,287.7 L840.4,282.6 L839.9,278.2 L839.1,274.9 L835.2,270.7 L834.7,266.3 L835.5,261.8 L833.9,252.9 L832.6,245.5 L830.0,244.6 L826.6,247.5 L824.6,246.4 L824.0,238.6 L820.9,235.1 L818.8,232.1 L817.8,228.2 L814.4,229.1 L811.8,229.7 L807.9,230.3 L805.0,232.7 L800.1,237.1 L794.9,242.5 L792.3,245.5 L787.8,248.4 L787.6,254.4 L786.5,261.8 L785.2,263.9 L782.4,268.0 L780.5,270.4 L777.9,267.8 L776.1,261.8 L773.5,256.5 L771.4,249.9 L769.6,244.0 L768.3,238.0 L768.3,232.1 L767.5,230.6 L762.3,232.7 L758.4,228.2 L761.0,226.7 L757.1,224.7 L754.5,221.7 L752.2,219.0 L746.7,219.6 L740.2,219.9 L736.3,219.3 L731.1,218.4 L727.9,217.5 L725.8,214.3 L723.2,215.4 L719.3,215.1 L715.4,212.8 L711.5,209.8 L709.4,205.3 L705.0,205.3 L703.7,206.8 L705.0,209.8 L707.6,214.3 L709.4,217.2 L711.0,220.2 L712.8,217.5 L713.1,221.7 L716.7,222.6 L720.6,222.3 L724.5,217.8 L725.6,216.3 L725.3,220.8 L728.5,223.8 L732.4,227.3 L734.4,227.6 L731.1,233.6 L729.2,238.0 L725.8,241.0 L721.9,244.0 L715.4,246.4 L708.9,249.6 L703.7,252.9 L697.2,255.9 L692.0,256.8 L690.2,251.4 L689.4,245.5 L686.8,241.0 L682.9,235.1 L680.3,229.7 L679.0,224.7 L676.4,221.7 L673.8,217.2 L670.4,211.3 L669.6,206.8 L667.8,201.5 L669.3,197.9 L670.1,195.8 L671.4,192.0 L672.2,189.0 L673.0,185.7 L671.2,185.7 L668.6,185.1 L664.6,187.2 L659.4,185.1 L658.1,186.6 L654.2,185.7 L650.3,184.5 L649.0,181.6 L647.7,180.1 L648.5,177.1 L646.9,175.6 L650.3,174.4 L654.2,172.9 L652.9,172.6 L647.7,173.2 L643.8,172.9 L640.7,173.5 L638.1,174.1 L639.9,175.0 L637.6,177.1 L638.6,178.9 L641.2,181.0 L639.1,181.9 L638.6,186.0 L637.3,186.0 L635.2,185.1 L633.9,182.2 L634.7,180.7 L632.9,178.6 L630.8,176.2 L629.2,174.4 L629.5,170.3 L626.9,168.2 L623.0,166.1 L619.8,164.3 L617.8,161.7 L615.9,159.9 L614.4,158.7 L611.0,159.6 L610.7,162.2 L612.6,164.3 L615.2,167.6 L619.1,170.0 L620.9,170.3 L624.3,173.2 L626.9,175.3 L623.5,174.1 L621.7,177.1 L623.2,178.6 L621.7,180.4 L620.4,181.6 L619.6,180.7 L620.4,177.1 L617.8,175.0 L615.2,172.6 L611.3,170.3 L607.9,168.2 L606.0,166.7 L605.3,164.0 L602.1,162.5 L599.5,164.0 L596.9,165.2 L594.3,166.4 L590.4,165.5 L587.3,166.1 L586.8,168.5 L587.0,170.0 L583.9,171.8 L581.0,172.6 L578.7,175.9 L577.9,177.7 L579.2,179.5 L576.9,182.8 L574.5,184.5 L573.0,185.4 L567.2,185.4 L564.9,187.2ZM109.9,89.7 L117.7,91.8 L124.2,94.8 L130.7,95.7 L136.0,97.8 L136.7,98.3 L133.3,99.8 L129.4,101.3 L128.1,103.4 L122.9,101.9 L119.0,100.1 L113.8,99.8 L109.9,101.3ZM565.7,189.9 L570.9,189.6 L574.8,189.9 L578.7,187.8 L583.9,185.7 L589.1,184.8 L594.3,184.5 L599.5,184.8 L603.4,183.6 L606.0,186.0 L607.3,189.9 L605.3,192.9 L608.7,195.8 L612.6,196.7 L619.1,199.4 L623.0,202.4 L628.2,204.4 L630.8,200.9 L633.4,197.0 L638.6,197.9 L643.8,200.3 L652.9,202.4 L656.8,201.5 L659.4,200.9 L663.3,202.1 L667.8,201.5 L669.6,206.8 L668.0,211.3 L665.9,211.3 L663.6,205.9 L667.2,214.3 L669.9,220.2 L671.4,224.7 L675.1,229.1 L675.8,233.6 L677.7,239.5 L680.3,244.0 L682.9,248.4 L686.8,252.9 L690.2,256.8 L691.5,259.7 L693.3,263.3 L698.5,262.7 L705.0,261.2 L710.2,258.8 L712.0,259.4 L708.4,266.3 L705.0,275.2 L701.1,282.6 L695.9,288.6 L690.7,293.0 L686.8,299.6 L683.7,303.4 L681.6,308.8 L680.8,313.8 L681.6,318.3 L684.2,327.2 L684.2,339.1 L680.3,345.0 L673.8,350.4 L669.9,353.9 L671.2,359.9 L669.9,367.3 L664.1,371.8 L663.3,377.7 L659.4,382.2 L654.2,389.6 L649.0,394.1 L645.1,395.5 L636.0,395.5 L630.8,397.9 L626.9,396.1 L626.1,392.0 L624.3,386.6 L621.7,379.5 L617.8,373.3 L616.5,362.6 L613.9,355.4 L610.0,348.0 L609.4,343.5 L611.3,334.6 L613.9,328.7 L613.1,319.8 L610.7,312.3 L608.7,306.4 L604.7,301.9 L602.9,296.0 L603.4,291.5 L604.2,287.1 L601.6,282.0 L598.2,281.1 L594.3,281.7 L590.4,276.1 L586.5,275.8 L581.3,276.7 L573.5,280.2 L565.7,279.3 L559.2,281.4 L552.7,277.3 L547.4,272.2 L543.5,266.3 L539.6,261.8 L534.9,257.9 L535.2,254.4 L533.1,250.8 L535.7,245.5 L536.2,236.5 L534.4,230.6 L537.0,223.2 L540.9,216.6 L544.3,213.4 L548.7,211.3 L553.4,205.9 L553.2,202.4 L556.6,195.8 L561.8,192.0 L563.3,188.1ZM876.9,359.3 L882.1,356.0 L887.3,354.8 L893.8,352.8 L897.0,348.0 L900.3,343.5 L904.2,339.1 L908.2,336.1 L912.1,339.1 L916.0,338.5 L917.3,333.1 L919.9,330.8 L923.8,328.7 L930.3,330.8 L935.0,330.8 L934.2,334.6 L932.4,339.1 L935.5,341.8 L940.7,345.0 L943.3,347.1 L945.9,345.0 L947.5,339.1 L948.0,331.6 L949.8,326.3 L952.4,330.2 L953.2,336.1 L957.1,338.5 L957.6,342.1 L959.5,350.4 L965.5,355.4 L968.1,360.8 L972.0,364.3 L977.2,370.3 L978.5,377.7 L977.4,383.7 L975.9,389.6 L972.7,394.1 L969.9,400.0 L969.4,405.9 L964.2,406.8 L959.7,410.7 L955.0,408.0 L949.8,408.6 L944.6,407.4 L942.0,400.9 L938.1,398.5 L936.8,394.1 L934.2,392.6 L931.6,397.9 L927.7,391.1 L921.2,388.1 L914.7,388.4 L906.9,390.5 L900.3,395.3 L891.2,395.3 L884.7,398.5 L878.2,396.1 L880.0,391.1 L878.2,382.2 L875.6,371.8 L874.3,359.9ZM109.9,528.4 L150.0,530.5 L167.5,525.4 L197.7,519.2 L247.7,514.4 L310.4,511.8 L318.0,515.6 L360.7,512.9 L385.7,505.5 L401.6,498.1 L410.7,488.0 L422.4,482.3 L431.6,481.1 L427.6,486.2 L420.6,498.1 L418.5,508.5 L420.6,518.0 L443.3,524.8 L460.7,530.5 L487.5,529.3 L511.0,530.5 L536.0,515.6 L557.9,509.4 L578.7,505.5 L617.8,503.1 L655.3,504.3 L682.9,499.0 L717.8,491.8 L735.0,494.5 L755.5,498.1 L757.9,512.9 L767.8,501.6 L787.1,496.6 L805.5,493.0 L830.5,489.2 L865.2,491.2 L905.8,490.4 L930.3,491.5 L955.8,495.4 L982.4,499.6 L1006.1,505.5 L1023.5,510.6 L1001.1,520.4 L1006.1,530.5 L1026.7,527.2 L1047.5,525.4 L1047.5,562.0 L109.9,562.0ZM567.8,142.3 L570.1,141.7 L565.2,140.6 L568.0,140.0 L567.8,137.9 L566.7,136.1 L570.9,136.1 L570.9,134.3 L569.6,132.5 L565.7,131.6 L564.4,129.6 L563.6,126.6 L564.4,123.6 L565.7,120.3 L570.9,120.3 L569.6,123.0 L574.0,123.3 L573.5,124.8 L571.4,126.9 L572.2,128.1 L574.5,129.3 L575.3,131.6 L577.7,132.8 L579.0,135.2 L579.5,137.0 L583.1,138.5 L582.3,142.3 L577.4,143.5 L573.5,144.1 L569.6,144.1 L567.0,145.0 L563.9,145.6ZM557.9,140.6 L554.0,141.1 L551.9,140.0 L553.2,136.1 L552.7,133.4 L556.6,132.2 L558.4,130.4 L561.8,130.4 L563.9,131.3 L563.1,132.5 L562.6,135.5 L563.1,139.4ZM608.7,128.1 L611.5,128.1 L611.3,129.6 L607.3,130.1ZM604.7,129.6 L606.8,129.3 L606.8,131.0 L604.2,130.7ZM625.8,123.6 L627.4,122.4 L627.9,123.6 L626.1,125.1ZM611.0,182.2 L613.3,181.0 L619.3,180.7 L618.0,184.5 L616.5,185.4 L611.8,182.8ZM600.6,178.6 L600.1,173.8 L601.6,172.1 L603.7,172.6 L604.0,175.6 L603.4,178.3ZM601.1,171.5 L601.1,168.5 L602.9,166.7 L603.6,169.4 L602.7,171.5ZM639.9,189.6 L642.5,189.3 L647.2,189.6 L645.1,190.5 L641.2,190.2ZM662.8,191.4 L663.3,190.2 L665.9,189.6 L668.8,188.4 L667.2,190.8 L664.6,191.7ZM606.8,58.2 L610.0,57.3 L623.0,56.7 L625.6,57.6 L633.4,60.6 L628.2,62.1 L623.0,65.1 L620.4,67.1 L612.6,62.7 L607.3,60.3ZM636.0,55.3 L649.0,56.7 L636.0,58.8 L626.9,57.3ZM718.0,79.0 L719.3,76.1 L724.5,73.1 L735.0,68.0 L748.0,65.7 L757.1,65.7 L753.2,67.1 L740.2,70.1 L732.4,73.1 L725.8,76.1 L723.2,79.0 L728.5,83.5 L725.8,84.7 L716.7,84.1 L714.1,82.0ZM703.7,53.8 L714.1,52.9 L729.8,52.0 L740.2,54.4 L735.0,55.8 L721.9,56.7 L708.9,56.1 L701.1,55.3ZM823.5,56.7 L831.3,54.7 L844.3,55.3 L849.6,58.8 L839.1,61.2 L826.1,59.7ZM935.5,68.6 L943.3,68.0 L951.1,70.1 L943.3,73.1 L932.9,71.6ZM109.9,83.5 L115.1,82.0 L116.4,83.5 L112.5,84.1ZM703.7,89.4 L707.6,87.9 L709.4,89.4 L706.3,90.3ZM733.7,84.1 L736.3,85.3 L731.1,86.5ZM919.9,192.0 L922.5,189.6 L927.7,189.0 L932.9,187.5 L935.0,183.6 L939.4,183.6 L942.0,181.0 L943.3,177.1 L943.3,173.2 L946.7,171.5 L947.2,174.1 L948.5,176.8 L947.5,179.2 L945.9,181.6 L944.9,185.1 L945.4,188.4 L942.8,190.5 L940.2,191.7 L935.5,191.4 L935.0,192.6 L930.8,194.0 L930.3,191.7 L926.4,192.6 L922.5,194.0 L919.6,193.5ZM943.3,168.8 L944.1,166.1 L947.0,165.2 L948.0,159.3 L955.0,163.7 L957.6,165.8 L951.9,169.7 L946.4,170.3 L943.3,171.2ZM919.9,193.7 L922.5,196.4 L920.7,201.2 L918.6,201.8 L916.5,195.8ZM925.1,192.9 L929.5,192.9 L928.2,195.5 L923.8,195.5ZM948.5,153.3 L947.7,147.4 L948.5,138.5 L949.8,133.1 L951.7,136.1 L951.9,142.9 L953.7,148.9 L951.1,147.4 L952.4,156.3 L948.5,157.8ZM892.8,221.7 L895.1,219.3 L896.2,221.4 L893.8,226.7 L893.1,229.1 L891.5,226.1ZM863.1,235.1 L866.5,234.8 L867.8,236.0 L866.5,238.9 L864.1,240.4 L861.5,237.4ZM787.1,265.4 L789.7,268.0 L791.7,273.7 L788.6,277.0 L786.8,275.2 L786.5,270.7ZM891.2,239.5 L897.0,239.5 L896.4,244.0 L895.1,248.4 L897.7,252.9 L901.6,255.9 L899.0,255.9 L895.1,253.5 L892.8,252.3 L891.2,247.5ZM896.4,273.7 L900.3,271.3 L905.6,266.3 L908.2,272.2 L905.6,277.6 L901.6,275.2ZM896.4,260.3 L900.3,261.8 L905.6,260.3 L904.2,264.8 L900.3,266.3 L897.7,264.8ZM892.0,254.4 L895.1,255.3 L894.4,257.9 L892.5,257.4ZM887.3,266.3 L890.7,260.9 L889.9,263.3 L883.9,269.5ZM862.6,290.0 L864.1,288.6 L867.8,288.6 L873.0,285.0 L876.9,281.1 L880.8,276.7 L883.4,273.7 L887.3,278.2 L888.6,279.6 L886.0,281.7 L885.5,288.6 L888.6,291.5 L884.7,294.5 L882.1,299.0 L882.1,304.9 L876.9,305.8 L873.0,304.0 L869.1,303.4 L865.7,303.1 L863.9,297.5 L862.6,293.0ZM826.9,277.9 L832.6,279.0 L835.8,283.2 L840.4,288.6 L848.3,296.0 L850.9,299.0 L854.8,303.4 L854.2,311.7 L850.9,311.7 L845.1,306.4 L841.7,301.9 L839.1,297.5 L836.5,293.0 L835.2,289.2 L831.3,284.1ZM852.7,314.7 L856.1,312.3 L860.8,313.2 L866.5,313.8 L871.7,314.7 L876.9,317.7 L876.1,320.4 L867.8,318.9 L860.0,317.7 L854.8,316.5ZM888.1,303.4 L889.9,300.4 L891.2,293.9 L893.8,290.6 L902.9,293.0 L904.2,290.0 L899.0,293.0 L892.5,293.0 L893.8,298.4 L899.8,297.5 L895.1,300.4 L898.5,307.9 L895.1,307.9 L892.0,303.4 L892.5,310.8 L889.9,310.8ZM919.9,297.5 L923.8,295.7 L928.2,297.5 L931.6,304.3 L938.1,299.6 L945.9,302.2 L955.0,305.8 L958.9,310.8 L962.8,312.9 L963.6,318.3 L969.4,325.1 L962.8,324.5 L958.9,318.3 L953.7,317.7 L951.1,321.2 L945.9,321.5 L940.7,318.6 L938.1,319.5 L936.8,310.8 L930.3,307.6 L926.4,305.8 L922.5,302.8 L919.9,299.0ZM901.6,324.5 L904.2,321.2 L910.2,319.5 L905.6,322.7ZM878.2,319.5 L882.1,319.2 L888.6,319.8 L896.4,319.2 L897.7,320.7 L889.9,321.0 L882.1,321.0ZM910.8,291.5 L913.4,288.6 L912.1,296.0 L910.8,296.0ZM912.1,303.4 L918.6,304.0 L917.3,305.8 L912.6,304.9ZM965.5,310.8 L972.0,307.3 L975.1,307.3 L972.0,310.8 L968.1,312.9ZM986.3,315.3 L992.8,318.3 L998.0,323.6 L995.4,323.6 L988.9,319.2ZM707.1,330.2 L710.2,340.6 L708.4,345.0 L705.0,355.4 L701.1,368.8 L695.9,370.3 L692.8,364.3 L692.0,358.4 L694.6,352.5 L693.3,345.0 L699.8,341.5 L703.7,334.6ZM1028.5,396.7 L1033.2,401.5 L1035.8,405.9 L1043.6,406.5 L1039.7,411.0 L1037.1,417.8 L1033.9,417.2 L1033.2,412.8 L1031.3,411.0 L1033.7,405.9 L1029.3,399.4ZM1028.5,414.9 L1032.6,418.4 L1030.6,422.3 L1028.7,424.7 L1024.8,426.8 L1023.0,430.9 L1018.8,433.0 L1012.3,431.2 L1013.6,428.2 L1017.0,425.3 L1022.8,422.3 L1025.4,418.7ZM955.3,415.5 L964.9,416.1 L964.2,422.9 L961.0,424.1 L956.9,419.9ZM287.0,61.8 L297.4,62.7 L294.8,64.8 L284.4,64.2ZM287.0,60.3 L292.2,59.7 L294.8,61.2 L289.6,62.1ZM305.2,63.3 L307.8,64.8 L302.6,65.1ZM418.5,96.9 L415.9,99.8 L413.3,101.3 L409.4,103.4 L410.7,106.4 L408.1,108.8 L401.6,108.5 L392.5,105.8 L387.3,102.8 L376.9,103.4 L375.0,100.7 L384.7,98.3 L387.3,93.9 L382.1,91.5 L376.9,87.9 L370.3,87.4 L365.1,87.1 L358.6,85.6 L349.5,85.0 L345.6,82.0 L349.5,76.1 L357.3,76.1 L369.0,75.5 L378.2,78.4 L384.7,79.6 L391.2,81.7 L396.4,84.1 L401.6,85.9 L404.2,88.5 L405.5,90.9 L412.0,93.9 L415.9,96.0ZM314.4,89.4 L307.8,90.9 L300.0,90.3 L293.5,90.0 L284.4,90.9 L277.9,88.8 L271.4,87.9 L272.7,85.0 L281.8,82.6 L270.1,82.0 L270.1,79.0 L279.2,76.7 L289.6,78.1 L298.7,76.7 L305.2,79.0 L310.4,85.0 L315.7,86.5ZM251.8,76.1 L254.5,73.7 L261.0,73.4 L266.2,73.7 L272.7,74.0 L275.3,75.8 L277.9,76.7 L274.0,79.0 L268.8,80.8 L263.6,82.0 L258.4,83.2 L254.5,83.5 L251.1,80.8ZM344.3,65.7 L346.9,62.7 L339.1,59.7 L330.0,56.7 L336.5,53.8 L344.3,50.8 L370.3,47.8 L396.4,47.8 L417.2,49.3 L417.2,51.4 L409.4,53.8 L401.6,56.7 L391.2,59.7 L380.8,61.2 L375.6,66.3 L367.7,68.0 L354.7,67.4 L344.3,67.1ZM370.3,73.1 L359.9,73.1 L349.5,73.1 L339.1,71.9 L328.7,69.8 L336.5,67.7 L346.9,67.1 L359.9,67.7 L369.0,70.1ZM335.2,80.8 L330.5,79.9 L331.3,76.1 L335.2,74.3 L341.7,74.6 L343.0,76.1 L337.8,79.0ZM324.8,82.0 L318.3,80.5 L311.7,79.0 L317.0,75.2 L323.5,74.6 L327.4,77.5ZM272.7,68.6 L276.6,66.8 L284.4,67.1 L292.2,66.5 L297.4,66.8 L303.9,68.6 L302.6,71.6 L294.8,72.8 L281.8,72.8 L274.0,70.1ZM339.1,62.7 L331.3,59.7 L326.1,55.3 L339.1,52.9 L348.2,56.7ZM323.5,71.6 L315.7,70.1 L318.3,67.1 L326.1,67.7ZM271.4,68.6 L261.0,69.2 L258.4,66.5 L268.8,64.8ZM352.1,100.7 L354.7,98.3 L358.6,99.8 L362.5,101.3 L369.0,102.8 L367.7,105.8 L353.4,102.8ZM424.0,150.7 L426.3,148.9 L429.5,144.1 L434.2,141.1 L432.9,141.4 L434.2,146.5 L438.8,147.7 L439.4,150.4 L441.4,153.3 L439.1,156.0 L434.2,154.8 L432.9,153.0 L424.3,153.0ZM257.6,150.7 L253.7,150.1 L249.2,147.4 L244.3,143.5 L247.9,144.1 L253.2,145.9 L256.0,148.3ZM322.2,88.2 L326.1,87.1 L330.0,87.9 L328.7,90.0 L322.2,90.9ZM330.0,70.1 L335.2,70.1 L335.2,71.9 L328.7,72.5ZM370.3,75.8 L378.2,75.8 L379.5,78.4 L370.3,78.1ZM361.2,107.3 L366.4,107.3 L367.7,108.8 L362.5,108.8ZM369.0,109.0 L371.1,108.8 L371.7,110.5 L369.0,110.5ZM376.9,92.4 L380.8,91.8 L381.3,93.9 L376.9,93.9ZM307.8,61.2 L318.3,60.3 L318.3,64.2 L307.8,64.2ZM328.7,61.2 L331.3,63.3 L326.1,64.2ZM410.7,148.3 L417.2,147.7 L418.0,148.6 L413.3,148.9ZM411.0,156.0 L417.2,156.3 L415.9,157.5 L412.0,156.9ZM387.3,172.9 L391.4,172.4 L391.2,172.6 L386.0,173.8ZM232.3,135.5 L233.6,133.7 L237.0,134.0 L234.9,136.4ZM176.3,122.7 L180.2,122.1 L181.5,123.6 L176.3,124.2ZM132.0,105.2 L137.3,105.5 L139.1,106.7 L132.0,106.4ZM319.6,67.4 L323.5,68.9 L318.3,69.8ZM346.9,67.7 L354.7,66.8 L359.9,68.6 L352.1,69.8ZM651.4,169.7 L651.6,166.7 L653.4,162.8 L655.8,161.4 L656.8,159.3 L658.7,156.3 L662.0,156.0 L666.2,157.8 L663.3,159.9 L665.9,162.5 L670.6,160.8 L673.8,159.9 L675.8,160.8 L679.0,162.5 L682.9,165.5 L686.8,168.2 L687.0,170.9 L684.2,172.6 L679.0,172.9 L673.8,171.8 L670.4,169.7 L665.9,169.7 L660.7,172.1 L654.2,172.1 L651.6,172.1ZM671.2,156.3 L676.4,154.5 L681.1,154.2 L676.4,157.2 L671.2,159.9 L669.9,158.7ZM706.3,156.3 L712.8,154.8 L717.3,155.4 L716.7,159.9 L712.0,162.2 L712.3,166.4 L716.0,169.7 L716.5,172.6 L718.8,173.8 L716.7,178.0 L719.1,183.3 L714.1,185.4 L710.2,184.5 L706.3,182.8 L706.1,180.1 L707.6,174.7 L705.0,170.3 L702.4,166.7 L701.9,163.1 L700.6,161.4 L702.4,158.7 L705.0,157.2ZM731.1,159.3 L733.7,156.3 L737.6,156.0 L739.7,159.3 L736.3,162.8 L733.1,162.2ZM849.0,141.1 L853.5,138.5 L858.7,135.5 L863.9,129.0 L862.6,134.0 L857.4,138.5 L852.2,141.4ZM341.7,153.9 L345.6,151.8 L348.2,150.7 L352.1,150.1 L355.2,151.8 L357.8,153.3 L358.4,156.3 L357.3,156.3 L350.8,156.3 L348.2,153.9 L343.0,156.0 L338.8,155.4ZM350.0,170.6 L350.8,166.7 L349.8,162.2 L350.8,159.3 L353.9,158.1 L357.3,158.4 L356.0,160.8 L353.9,163.7 L353.4,168.2 L352.1,170.6ZM358.4,158.1 L359.9,157.2 L366.4,157.8 L369.0,159.3 L369.6,162.2 L367.7,161.4 L365.9,163.7 L363.8,166.7 L363.3,163.7 L361.2,162.2 L361.5,159.9ZM363.8,169.7 L369.0,167.9 L373.0,167.0 L367.7,170.0 L365.1,171.2 L361.5,170.6ZM371.9,164.9 L374.3,164.0 L379.5,163.1 L380.2,165.2 L375.6,165.5 L370.9,165.8ZM325.3,144.1 L324.0,140.0 L320.3,136.4 L321.4,134.6 L324.8,137.0 L327.9,141.4 L326.1,144.7ZM275.3,111.7 L280.5,108.8 L287.0,108.5 L293.5,108.2 L289.6,109.6 L284.4,111.4 L279.2,113.5 L274.0,113.2ZM253.2,101.3 L258.4,98.9 L263.6,95.4 L268.8,96.0 L270.1,98.3 L264.9,100.7 L258.4,101.6ZM145.1,134.9 L147.7,133.7 L149.5,134.3ZM138.6,135.5 L141.2,134.3 L143.0,134.9ZM132.0,136.4 L134.6,135.2 L136.5,135.8ZM124.2,137.3 L126.8,136.1 L128.7,136.7ZM116.4,138.5 L119.0,137.3 L120.8,137.9ZM108.6,139.4 L111.2,138.2 L113.0,138.8ZM100.8,139.7 L103.4,138.5 L105.2,139.1ZM93.0,139.1 L95.6,137.9 L97.4,138.5ZM85.2,137.9 L87.8,136.7 L89.6,137.3ZM77.4,137.0 L80.0,135.8 L81.8,136.4ZM69.5,136.4 L72.1,135.2 L74.0,135.8ZM172.2,236.2 L173.7,235.2 L175.3,236.2 L173.7,237.3ZM168.2,232.1 L169.8,231.0 L171.4,232.1 L169.8,233.2ZM165.6,230.9 L167.2,229.8 L168.8,230.9 L167.2,232.0ZM161.7,229.1 L163.3,228.0 L164.9,229.1 L163.3,230.2ZM187.8,346.8 L189.3,345.7 L190.9,346.8 L189.3,347.9ZM182.6,343.5 L184.1,342.5 L185.7,343.5 L184.1,344.6ZM212.5,320.7 L214.1,319.6 L215.6,320.7 L214.1,321.7ZM215.1,323.3 L216.7,322.3 L218.3,323.3 L216.7,324.4ZM199.5,339.1 L201.1,338.0 L202.6,339.1 L201.1,340.1ZM194.3,340.6 L195.9,339.5 L197.4,340.6 L195.9,341.6ZM211.2,348.0 L212.8,346.9 L214.3,348.0 L212.8,349.1ZM222.9,349.5 L224.5,348.4 L226.1,349.5 L224.5,350.6ZM226.1,362.9 L227.6,361.8 L229.2,362.9 L227.6,363.9ZM238.6,368.8 L240.1,367.7 L241.7,368.8 L240.1,369.9ZM292.2,375.0 L293.8,374.0 L295.3,375.0 L293.8,376.1ZM160.4,357.5 L162.0,356.4 L163.6,357.5 L162.0,358.6ZM129.7,335.5 L131.3,334.4 L132.8,335.5 L131.3,336.6ZM120.8,357.5 L122.4,356.4 L124.0,357.5 L122.4,358.6ZM113.6,347.4 L115.1,346.3 L116.7,347.4 L115.1,348.5ZM109.6,343.5 L111.2,342.5 L112.8,343.5 L111.2,344.6ZM1039.4,347.4 L1041.0,346.3 L1042.5,347.4 L1041.0,348.5ZM1012.1,340.0 L1013.6,338.9 L1015.2,340.0 L1013.6,341.0ZM1014.7,344.1 L1016.2,343.1 L1017.8,344.1 L1016.2,345.2ZM1009.5,358.4 L1011.0,357.3 L1012.6,358.4 L1011.0,359.5ZM988.6,274.0 L990.2,272.9 L991.8,274.0 L990.2,275.1ZM972.5,272.5 L974.0,271.4 L975.6,272.5 L974.0,273.6ZM927.4,272.2 L929.0,271.1 L930.6,272.2 L929.0,273.3ZM956.6,249.3 L958.2,248.3 L959.7,249.3 L958.2,250.4ZM954.3,254.4 L955.8,253.3 L957.4,254.4 L955.8,255.4ZM1022.5,273.7 L1024.1,272.6 L1025.6,273.7 L1024.1,274.8ZM1025.1,290.0 L1026.7,289.0 L1028.2,290.0 L1026.7,291.1ZM1027.7,297.5 L1029.3,296.4 L1030.8,297.5 L1029.3,298.5ZM167.2,288.9 L168.8,287.8 L170.3,288.9 L168.8,289.9ZM160.4,296.0 L162.0,294.9 L163.6,296.0 L162.0,297.1ZM118.8,425.3 L120.3,424.2 L121.9,425.3 L120.3,426.3ZM418.3,251.1 L419.8,250.0 L421.4,251.1 L419.8,252.2ZM417.5,246.4 L419.1,245.3 L420.6,246.4 L419.1,247.4ZM415.7,243.4 L417.2,242.3 L418.8,243.4 L417.2,244.5ZM403.9,240.4 L405.5,239.3 L407.1,240.4 L405.5,241.5ZM375.8,240.4 L377.4,239.3 L378.9,240.4 L377.4,241.5ZM417.0,262.7 L418.5,261.6 L420.1,262.7 L418.5,263.8ZM375.3,222.6 L376.9,221.5 L378.4,222.6 L376.9,223.6ZM374.0,218.7 L375.6,217.6 L377.1,218.7 L375.6,219.8ZM376.6,215.7 L378.2,214.7 L379.7,215.7 L378.2,216.8ZM379.7,224.4 L381.3,223.3 L382.8,224.4 L381.3,225.4ZM408.4,198.5 L409.9,197.4 L411.5,198.5 L409.9,199.6ZM510.7,182.2 L512.3,181.1 L513.9,182.2 L512.3,183.2ZM504.2,179.8 L505.8,178.7 L507.3,179.8 L505.8,180.9ZM533.1,197.3 L534.7,196.2 L536.2,197.3 L534.7,198.4ZM536.8,211.3 L538.3,210.2 L539.9,211.3 L538.3,212.4ZM540.7,209.8 L542.2,208.7 L543.8,209.8 L542.2,210.9ZM530.8,209.5 L532.3,208.4 L533.9,209.5 L532.3,210.6ZM514.6,246.9 L516.2,245.9 L517.8,246.9 L516.2,248.0ZM515.9,249.9 L517.5,248.9 L519.1,249.9 L517.5,251.0ZM562.3,341.8 L563.9,340.7 L565.4,341.8 L563.9,342.8ZM539.6,318.3 L541.2,317.2 L542.8,318.3 L541.2,319.3ZM545.1,404.8 L546.7,403.7 L548.2,404.8 L546.7,405.8ZM721.7,356.9 L723.2,355.8 L724.8,356.9 L723.2,358.0ZM726.9,354.5 L728.5,353.5 L730.0,354.5 L728.5,355.6ZM692.5,330.8 L694.1,329.7 L695.6,330.8 L694.1,331.8ZM721.7,308.2 L723.2,307.1 L724.8,308.2 L723.2,309.2ZM768.6,282.0 L770.1,280.9 L771.7,282.0 L770.1,283.1ZM767.3,296.3 L768.8,295.2 L770.4,296.3 L768.8,297.4ZM765.7,316.2 L767.3,315.1 L768.8,316.2 L767.3,317.3ZM818.6,258.8 L820.1,257.8 L821.7,258.8 L820.1,259.9ZM819.3,270.7 L820.9,269.7 L822.5,270.7 L820.9,271.8ZM759.4,441.0 L761.0,439.9 L762.6,441.0 L761.0,442.1ZM712.0,432.4 L713.6,431.3 L715.2,432.4 L713.6,433.5ZM675.6,433.6 L677.1,432.5 L678.7,433.6 L677.1,434.7ZM480.8,455.9 L482.3,454.8 L483.9,455.9 L482.3,456.9ZM423.5,448.2 L425.0,447.1 L426.6,448.2 L425.0,449.2ZM420.9,447.6 L422.4,446.5 L424.0,447.6 L422.4,448.6ZM508.6,466.3 L510.2,465.2 L511.8,466.3 L510.2,467.4ZM458.6,474.6 L460.2,473.5 L461.8,474.6 L460.2,475.7ZM424.8,479.4 L426.3,478.3 L427.9,479.4 L426.3,480.4ZM543.3,123.3 L544.8,122.2 L546.4,123.3 L544.8,124.4ZM558.9,110.2 L560.5,109.2 L562.0,110.2 L560.5,111.3ZM559.4,109.6 L561.0,108.6 L562.6,109.6 L561.0,110.7ZM573.8,115.3 L575.3,114.2 L576.9,115.3 L575.3,116.4ZM569.3,119.2 L570.9,118.1 L572.4,119.2 L570.9,120.2ZM902.7,320.1 L904.2,319.0 L905.8,320.1 L904.2,321.1ZM915.7,316.8 L917.3,315.7 L918.8,316.8 L917.3,317.9ZM926.1,312.3 L927.7,311.3 L929.3,312.3 L927.7,313.4ZM907.9,304.3 L909.5,303.2 L911.0,304.3 L909.5,305.4ZM906.6,304.9 L908.2,303.8 L909.7,304.9 L908.2,306.0ZM892.3,325.7 L893.8,324.6 L895.4,325.7 L893.8,326.8ZM887.1,323.3 L888.6,322.3 L890.2,323.3 L888.6,324.4ZM881.9,321.2 L883.4,320.2 L885.0,321.2 L883.4,322.3ZM938.1,313.8 L939.7,312.7 L941.2,313.8 L939.7,314.9ZM945.1,312.3 L946.7,311.3 L948.3,312.3 L946.7,313.4ZM973.0,322.7 L974.6,321.7 L976.1,322.7 L974.6,323.8ZM976.9,328.1 L978.5,327.0 L980.0,328.1 L978.5,329.2ZM982.1,313.2 L983.7,312.2 L985.2,313.2 L983.7,314.3ZM993.8,322.4 L995.4,321.4 L997.0,322.4 L995.4,323.5ZM999.1,325.7 L1000.6,324.6 L1002.2,325.7 L1000.6,326.8ZM1013.4,337.6 L1014.9,336.5 L1016.5,337.6 L1014.9,338.7ZM1040.7,351.0 L1042.3,349.9 L1043.8,351.0 L1042.3,352.0ZM225.5,116.2 L227.1,115.1 L228.7,116.2 L227.1,117.2ZM251.6,146.5 L253.2,145.4 L254.7,146.5 L253.2,147.6ZM233.4,137.0 L234.9,135.9 L236.5,137.0 L234.9,138.1ZM234.7,139.1 L236.2,138.0 L237.8,139.1 L236.2,140.1ZM229.4,123.6 L231.0,122.5 L232.6,123.6 L231.0,124.7ZM180.0,123.6 L181.5,122.5 L183.1,123.6 L181.5,124.7ZM177.4,125.1 L178.9,124.0 L180.5,125.1 L178.9,126.2ZM137.0,106.4 L138.6,105.3 L140.1,106.4 L138.6,107.4ZM134.4,124.5 L136.0,123.4 L137.5,124.5 L136.0,125.6ZM126.6,114.7 L128.1,113.6 L129.7,114.7 L128.1,115.8ZM948.3,326.0 L949.8,324.9 L951.4,326.0 L949.8,327.1ZM915.2,328.7 L916.8,327.6 L918.3,328.7 L916.8,329.7ZM932.6,330.2 L934.2,329.1 L935.8,330.2 L934.2,331.2ZM935.2,400.9 L936.8,399.8 L938.4,400.9 L936.8,402.0ZM954.8,414.9 L956.3,413.8 L957.9,414.9 L956.3,415.9Z" fill="none" stroke="#150404" stroke-width="2.5" stroke-linejoin="round"/>
<path d="M287.0,61.8 L297.4,62.7 L294.8,64.8 L284.4,64.2ZM287.0,60.3 L292.2,59.7 L294.8,61.2 L289.6,62.1ZM305.2,63.3 L307.8,64.8 L302.6,65.1ZM418.5,96.9 L415.9,99.8 L413.3,101.3 L409.4,103.4 L410.7,106.4 L408.1,108.8 L401.6,108.5 L392.5,105.8 L387.3,102.8 L376.9,103.4 L375.0,100.7 L384.7,98.3 L387.3,93.9 L382.1,91.5 L376.9,87.9 L370.3,87.4 L365.1,87.1 L358.6,85.6 L349.5,85.0 L345.6,82.0 L349.5,76.1 L357.3,76.1 L369.0,75.5 L378.2,78.4 L384.7,79.6 L391.2,81.7 L396.4,84.1 L401.6,85.9 L404.2,88.5 L405.5,90.9 L412.0,93.9 L415.9,96.0ZM314.4,89.4 L307.8,90.9 L300.0,90.3 L293.5,90.0 L284.4,90.9 L277.9,88.8 L271.4,87.9 L272.7,85.0 L281.8,82.6 L270.1,82.0 L270.1,79.0 L279.2,76.7 L289.6,78.1 L298.7,76.7 L305.2,79.0 L310.4,85.0 L315.7,86.5ZM251.8,76.1 L254.5,73.7 L261.0,73.4 L266.2,73.7 L272.7,74.0 L275.3,75.8 L277.9,76.7 L274.0,79.0 L268.8,80.8 L263.6,82.0 L258.4,83.2 L254.5,83.5 L251.1,80.8ZM344.3,65.7 L346.9,62.7 L339.1,59.7 L330.0,56.7 L336.5,53.8 L344.3,50.8 L370.3,47.8 L396.4,47.8 L417.2,49.3 L417.2,51.4 L409.4,53.8 L401.6,56.7 L391.2,59.7 L380.8,61.2 L375.6,66.3 L367.7,68.0 L354.7,67.4 L344.3,67.1ZM370.3,73.1 L359.9,73.1 L349.5,73.1 L339.1,71.9 L328.7,69.8 L336.5,67.7 L346.9,67.1 L359.9,67.7 L369.0,70.1ZM335.2,80.8 L330.5,79.9 L331.3,76.1 L335.2,74.3 L341.7,74.6 L343.0,76.1 L337.8,79.0ZM324.8,82.0 L318.3,80.5 L311.7,79.0 L317.0,75.2 L323.5,74.6 L327.4,77.5ZM272.7,68.6 L276.6,66.8 L284.4,67.1 L292.2,66.5 L297.4,66.8 L303.9,68.6 L302.6,71.6 L294.8,72.8 L281.8,72.8 L274.0,70.1ZM339.1,62.7 L331.3,59.7 L326.1,55.3 L339.1,52.9 L348.2,56.7ZM323.5,71.6 L315.7,70.1 L318.3,67.1 L326.1,67.7ZM271.4,68.6 L261.0,69.2 L258.4,66.5 L268.8,64.8ZM352.1,100.7 L354.7,98.3 L358.6,99.8 L362.5,101.3 L369.0,102.8 L367.7,105.8 L353.4,102.8ZM424.0,150.7 L426.3,148.9 L429.5,144.1 L434.2,141.1 L432.9,141.4 L434.2,146.5 L438.8,147.7 L439.4,150.4 L441.4,153.3 L439.1,156.0 L434.2,154.8 L432.9,153.0 L424.3,153.0ZM257.6,150.7 L253.7,150.1 L249.2,147.4 L244.3,143.5 L247.9,144.1 L253.2,145.9 L256.0,148.3ZM322.2,88.2 L326.1,87.1 L330.0,87.9 L328.7,90.0 L322.2,90.9ZM330.0,70.1 L335.2,70.1 L335.2,71.9 L328.7,72.5ZM370.3,75.8 L378.2,75.8 L379.5,78.4 L370.3,78.1ZM361.2,107.3 L366.4,107.3 L367.7,108.8 L362.5,108.8ZM369.0,109.0 L371.1,108.8 L371.7,110.5 L369.0,110.5ZM376.9,92.4 L380.8,91.8 L381.3,93.9 L376.9,93.9ZM307.8,61.2 L318.3,60.3 L318.3,64.2 L307.8,64.2ZM328.7,61.2 L331.3,63.3 L326.1,64.2ZM410.7,148.3 L417.2,147.7 L418.0,148.6 L413.3,148.9ZM411.0,156.0 L417.2,156.3 L415.9,157.5 L412.0,156.9ZM387.3,172.9 L391.4,172.4 L391.2,172.6 L386.0,173.8ZM232.3,135.5 L233.6,133.7 L237.0,134.0 L234.9,136.4ZM176.3,122.7 L180.2,122.1 L181.5,123.6 L176.3,124.2ZM132.0,105.2 L137.3,105.5 L139.1,106.7 L132.0,106.4ZM319.6,67.4 L323.5,68.9 L318.3,69.8ZM346.9,67.7 L354.7,66.8 L359.9,68.6 L352.1,69.8ZM464.1,116.8 L453.7,113.2 L448.5,108.8 L444.6,104.3 L440.7,98.3 L439.4,93.9 L445.9,89.4 L438.1,85.0 L435.5,82.0 L431.6,77.5 L426.3,70.1 L419.8,68.0 L406.8,68.3 L400.3,67.1 L389.9,64.2 L388.6,61.2 L401.6,56.7 L414.6,53.2 L432.9,50.2 L461.5,48.4 L487.5,46.3 L513.6,46.9 L526.6,49.3 L547.4,52.0 L534.4,55.3 L529.2,59.7 L530.5,65.7 L526.6,70.1 L527.9,74.6 L521.4,79.0 L521.4,85.0 L514.9,89.4 L507.1,91.5 L495.4,93.0 L488.8,98.3 L479.7,99.8 L474.5,102.8 L471.9,107.3 L468.0,111.7ZM606.8,58.2 L610.0,57.3 L623.0,56.7 L625.6,57.6 L633.4,60.6 L628.2,62.1 L623.0,65.1 L620.4,67.1 L612.6,62.7 L607.3,60.3ZM636.0,55.3 L649.0,56.7 L636.0,58.8 L626.9,57.3ZM718.0,79.0 L719.3,76.1 L724.5,73.1 L735.0,68.0 L748.0,65.7 L757.1,65.7 L753.2,67.1 L740.2,70.1 L732.4,73.1 L725.8,76.1 L723.2,79.0 L728.5,83.5 L725.8,84.7 L716.7,84.1 L714.1,82.0ZM703.7,53.8 L714.1,52.9 L729.8,52.0 L740.2,54.4 L735.0,55.8 L721.9,56.7 L708.9,56.1 L701.1,55.3ZM823.5,56.7 L831.3,54.7 L844.3,55.3 L849.6,58.8 L839.1,61.2 L826.1,59.7Z" fill="none" stroke="#150404" stroke-width="3.4" stroke-linejoin="round"/>
</g>
<rect x="110.5" y="27.0" width="937.5" height="535.0" fill="none" stroke="#1e1a1a" stroke-width="3.6"/>
<text x="136.0" y="68.9" font-size="38" text-anchor="start" textLength="40.9" lengthAdjust="spacingAndGlyphs" fill="#231f20" stroke="#231f20" stroke-width="0.55">(a)</text>
<line x1="227.1" y1="562.0" x2="227.1" y2="581.0" stroke="#231f20" stroke-width="3.2"/>
<text x="227.1" y="615.0" font-size="26" text-anchor="middle" textLength="69.7" lengthAdjust="spacingAndGlyphs" fill="#231f20" stroke="#231f20" stroke-width="0.55">135°W</text>
<line x1="344.3" y1="562.0" x2="344.3" y2="581.0" stroke="#231f20" stroke-width="3.2"/>
<text x="344.3" y="615.0" font-size="26" text-anchor="middle" textLength="56.8" lengthAdjust="spacingAndGlyphs" fill="#231f20" stroke="#231f20" stroke-width="0.55">90°W</text>
<line x1="461.5" y1="562.0" x2="461.5" y2="581.0" stroke="#231f20" stroke-width="3.2"/>
<text x="461.5" y="615.0" font-size="26" text-anchor="middle" textLength="56.8" lengthAdjust="spacingAndGlyphs" fill="#231f20" stroke="#231f20" stroke-width="0.55">45°W</text>
<line x1="578.7" y1="562.0" x2="578.7" y2="581.0" stroke="#231f20" stroke-width="3.2"/>
<text x="578.7" y="615.0" font-size="26" text-anchor="middle" textLength="22.1" lengthAdjust="spacingAndGlyphs" fill="#231f20" stroke="#231f20" stroke-width="0.55">0°</text>
<line x1="695.9" y1="562.0" x2="695.9" y2="581.0" stroke="#231f20" stroke-width="3.2"/>
<text x="695.9" y="615.0" font-size="26" text-anchor="middle" textLength="50.4" lengthAdjust="spacingAndGlyphs" fill="#231f20" stroke="#231f20" stroke-width="0.55">45°E</text>
<line x1="813.1" y1="562.0" x2="813.1" y2="581.0" stroke="#231f20" stroke-width="3.2"/>
<text x="813.1" y="615.0" font-size="26" text-anchor="middle" textLength="50.4" lengthAdjust="spacingAndGlyphs" fill="#231f20" stroke="#231f20" stroke-width="0.55">90°E</text>
<line x1="930.3" y1="562.0" x2="930.3" y2="581.0" stroke="#231f20" stroke-width="3.2"/>
<text x="930.3" y="615.0" font-size="26" text-anchor="middle" textLength="63.3" lengthAdjust="spacingAndGlyphs" fill="#231f20" stroke="#231f20" stroke-width="0.55">135°E</text>
<line x1="90.5" y1="116.2" x2="110.5" y2="116.2" stroke="#231f20" stroke-width="3.2"/>
<text x="78.5" y="125.3" font-size="26" text-anchor="end" textLength="51.7" lengthAdjust="spacingAndGlyphs" fill="#231f20" stroke="#231f20" stroke-width="0.55">60°N</text>
<line x1="90.5" y1="205.3" x2="110.5" y2="205.3" stroke="#231f20" stroke-width="3.2"/>
<text x="78.5" y="214.4" font-size="26" text-anchor="end" textLength="51.7" lengthAdjust="spacingAndGlyphs" fill="#231f20" stroke="#231f20" stroke-width="0.55">30°N</text>
<line x1="90.5" y1="294.5" x2="110.5" y2="294.5" stroke="#231f20" stroke-width="3.2"/>
<text x="78.5" y="303.6" font-size="26" text-anchor="end" textLength="22.1" lengthAdjust="spacingAndGlyphs" fill="#231f20" stroke="#231f20" stroke-width="0.55">0°</text>
<line x1="90.5" y1="383.7" x2="110.5" y2="383.7" stroke="#231f20" stroke-width="3.2"/>
<text x="78.5" y="392.8" font-size="26" text-anchor="end" textLength="50.4" lengthAdjust="spacingAndGlyphs" fill="#231f20" stroke="#231f20" stroke-width="0.55">30°S</text>
<line x1="90.5" y1="472.8" x2="110.5" y2="472.8" stroke="#231f20" stroke-width="3.2"/>
<text x="78.5" y="481.9" font-size="26" text-anchor="end" textLength="50.4" lengthAdjust="spacingAndGlyphs" fill="#231f20" stroke="#231f20" stroke-width="0.55">60°S</text>
<clipPath id="cb"><rect x="1221.5" y="27" width="937.0" height="535"/></clipPath>
<g clip-path="url(#cb)">
<path d="M1322.5,87.4 L1322.5,115.3 L1327.7,116.2 L1331.6,118.9 L1336.8,116.8 L1342.0,120.6 L1348.5,126.6 L1351.1,128.4 L1351.1,131.0M1369.1,148.9 L1441.8,148.9 L1441.8,147.7 L1443.3,149.8 L1447.5,150.1 L1456.6,151.8 L1468.8,156.3 L1470.7,156.3 L1475.1,159.9 L1474.8,166.7 L1473.3,169.7 L1484.0,167.3 L1483.7,165.5 L1490.5,164.3 L1495.2,160.8 L1503.5,160.8 L1505.8,159.0 L1507.4,155.7 L1509.5,153.5 L1512.1,153.8 L1513.1,154.8 L1513.1,158.7 L1514.9,160.5M1384.7,197.9 L1391.0,197.3 L1400.6,201.5 L1407.9,201.5 L1407.9,200.0 L1412.3,200.0 L1417.5,206.2 L1421.2,208.3 L1423.0,205.9 L1425.6,205.9 L1430.6,212.8 L1436.6,217.5M1449.6,251.4 L1449.8,249.6 L1450.9,246.7 L1454.3,246.7 L1454.3,241.6 L1457.5,241.6 L1459.7,239.5M1457.5,241.6 L1457.4,247.2M1460.0,247.8 L1457.4,251.1 L1456.3,252.3 L1455.0,253.5M1462.3,255.9 L1465.7,253.2 L1468.3,251.4 L1473.0,249.9M1466.5,261.5 L1469.6,262.1 L1472.0,262.1M1473.8,270.4 L1474.6,266.0M1486.8,273.1 L1488.6,268.9M1456.9,251.7 L1459.2,253.2 L1461.0,253.2M1504.0,259.4 L1501.7,261.5 L1500.9,269.8 L1503.5,273.7 L1507.4,274.0 L1513.9,276.1 L1513.1,281.1 L1514.4,288.6 L1515.5,290.9M1515.5,290.9 L1520.4,291.8 L1523.0,289.2 L1525.6,288.0 L1523.0,282.6 L1530.8,281.1 L1531.6,279.0M1531.6,279.0 L1533.4,269.2M1531.6,279.0 L1534.7,285.6 L1534.0,290.6 L1538.6,290.0 L1542.6,288.9M1540.7,276.7 L1538.6,284.1 L1542.6,288.9M1549.1,277.6 L1547.8,287.1 L1553.0,287.1 L1555.3,282.3M1542.6,288.9 L1547.8,287.1M1515.5,290.9 L1508.7,291.2 L1508.7,298.1 L1507.4,307.0M1484.2,290.3 L1487.9,292.1 L1493.1,294.5 L1493.8,294.8M1493.8,294.8 L1499.6,299.0 L1506.9,302.2 L1507.4,307.0M1480.6,304.6 L1482.9,307.9 L1485.8,304.6 L1488.4,303.1 L1493.1,299.3 L1493.8,294.8M1507.4,307.0 L1499.6,316.2 L1500.9,322.7 L1506.1,327.2 L1508.4,326.9M1508.4,326.9 L1510.8,331.6 L1509.7,337.6 L1509.2,340.6 L1510.5,342.9 L1508.7,346.5M1508.7,346.5 L1506.4,349.0M1508.4,326.9 L1511.3,327.2 L1517.8,323.6 L1520.4,327.2 L1524.3,331.6 L1530.8,334.6 L1533.4,339.1 L1537.9,342.9 L1538.6,346.5 L1539.9,348.6M1508.7,346.5 L1511.6,352.5 L1512.3,357.8 L1514.7,362.3M1514.7,362.3 L1519.1,360.2 L1522.2,362.3 L1526.7,360.5M1526.7,360.5 L1529.0,352.8 L1535.8,351.9 L1538.1,353.3 L1539.9,348.6M1539.9,348.6 L1539.2,360.2 L1544.6,360.8 L1545.4,365.8 L1548.3,366.1 L1547.5,370.6M1526.7,360.5 L1533.4,365.8 L1539.7,369.7 L1537.1,375.6 L1543.1,376.2 L1547.5,370.6M1547.5,370.6 L1549.6,375.0 L1544.6,378.3 L1539.7,384.3M1539.7,384.3 L1538.1,391.1 L1537.6,395.5M1539.7,384.3 L1543.9,386.3 L1550.4,391.1 L1550.6,394.7M1514.7,362.3 L1515.2,365.8 L1511.3,368.8 L1511.3,374.7 L1508.2,380.7 L1507.4,386.6 L1507.4,394.1 L1505.8,401.5 L1504.5,407.4 L1503.2,413.4 L1502.7,419.3 L1503.2,425.3 L1502.7,432.7 L1500.9,437.2 L1499.1,441.6 L1500.9,445.5 L1502.4,449.0 L1510.0,449.6 L1511.0,450.8 L1511.0,458.0M1666.5,170.0 L1668.3,169.4 L1672.5,170.0 L1673.6,170.9 L1671.7,172.6 L1671.5,176.5 L1670.2,176.8 L1671.5,178.9 L1670.7,181.0 L1670.4,183.9M1685.0,165.5 L1689.7,167.6 L1693.6,168.2 L1698.0,168.5M1696.2,142.6 L1700.6,145.9 L1702.2,145.9 L1704.8,147.4 L1706.4,148.3 L1711.1,148.9 L1709.5,153.0 L1707.7,153.3 L1705.3,156.6 L1707.9,158.1 L1706.9,160.5 L1707.9,163.1 L1709.2,164.3M1698.6,141.7 L1701.4,141.4 L1704.8,142.3 L1705.3,143.5M1705.3,143.5 L1706.1,145.0 L1705.6,145.6M1705.3,143.5 L1705.8,140.6 L1707.9,139.1 L1708.2,136.4M1712.1,131.3 L1715.5,131.6M1726.7,134.3 L1727.2,136.1 L1727.7,138.2 L1728.0,141.1 L1728.8,142.9M1728.8,142.9 L1726.9,142.9 L1721.2,145.0 L1722.3,146.5 L1725.6,149.5 L1723.6,151.0 L1723.6,153.3 L1721.5,153.0 L1717.0,153.3 L1714.4,153.0 L1712.1,152.7 L1709.5,153.0M1728.8,142.9 L1732.7,144.7 L1736.6,145.9 L1739.2,147.4 L1741.8,148.3 L1748.3,148.6M1725.6,149.5 L1728.8,148.9 L1733.7,150.1 L1734.2,151.8M1734.2,151.8 L1738.7,152.4 L1743.1,150.4 L1747.3,150.7M1717.0,155.1 L1721.5,154.8 L1725.4,156.3M1707.7,158.1 L1711.6,156.6 L1713.1,158.1 L1716.8,156.3 L1717.0,155.1M1725.4,156.3 L1725.1,159.3M1725.1,159.3 L1730.1,158.4 L1732.7,156.3 L1731.6,155.1M1747.3,150.7 L1744.4,156.9 L1742.6,157.5 L1738.7,158.1 L1734.8,158.1 L1732.7,156.3M1730.8,160.2 L1735.3,160.5 L1739.2,161.1 L1740.2,163.1 L1740.5,166.1 L1737.9,168.2M1739.2,161.1 L1745.7,161.4 L1748.8,163.1 L1748.0,166.7 L1749.3,169.7 L1748.6,172.1 L1744.4,172.9 L1743.4,170.0 L1740.7,168.2M1741.8,176.5 L1744.4,172.9M1748.6,172.1 L1753.5,171.2 L1758.2,170.6 L1759.0,171.8 L1757.9,173.8M1748.8,163.1 L1754.8,164.6 L1764.2,164.6M1758.2,170.6 L1762.6,169.7M1747.3,150.7 L1752.2,152.1 L1759.0,151.2 L1762.9,156.3 L1763.1,159.3M1759.0,151.2 L1763.1,151.2 L1765.2,153.3 L1767.8,156.3 L1763.1,159.3 L1767.1,160.2M1740.7,132.8 L1749.1,132.8 L1748.6,130.7 L1745.2,130.4M1748.3,148.6 L1752.2,143.8 L1751.2,141.1 L1750.9,137.6 L1751.9,134.3 L1749.1,132.8M1744.7,127.8 L1752.2,127.2 L1759.0,129.0M1753.0,122.7 L1758.7,123.3 L1761.3,123.6M1762.9,117.7 L1761.1,122.1 L1761.8,123.9 L1762.9,127.5 L1759.0,129.0 L1757.4,131.3 L1756.1,133.1 L1751.9,134.3M1762.9,127.5 L1770.2,129.3 L1772.5,137.0 L1772.5,139.7 L1769.1,141.7 L1761.3,141.1 L1755.3,140.3 L1751.2,141.1M1772.5,139.7 L1779.3,142.0 L1781.9,144.1 L1787.6,145.0 L1794.1,147.1 L1793.1,152.4 L1789.2,154.5M1719.4,119.2 L1722.3,114.7 L1721.7,111.1 L1721.2,107.3 L1725.9,103.1 L1727.5,99.2 L1731.4,93.0 L1736.6,90.6 L1742.6,89.4M1742.6,89.4 L1751.2,92.7 L1752.5,98.9M1742.6,89.4 L1748.3,90.6 L1756.6,89.7 L1764.7,87.4M1764.7,87.4 L1763.9,91.8 L1767.8,93.3 L1765.2,98.3 L1767.8,104.3 L1771.7,107.6 L1762.1,114.7M1764.7,87.4 L1769.9,87.1M1817.3,156.3 L1816.5,153.3 L1812.9,150.4 L1810.8,148.9 L1813.4,144.7 L1819.9,142.0 L1826.4,141.4 L1832.9,143.5 L1839.5,143.2 L1846.0,143.5 L1849.9,140.6 L1847.3,138.5 L1848.6,137.0 L1849.9,134.0 L1860.3,132.2 L1869.4,130.1 L1881.1,134.0 L1888.9,134.0 L1892.8,137.0 L1898.1,143.2 L1905.9,142.9 L1912.4,147.4 L1917.1,148.6M1917.1,148.6 L1924.1,144.4 L1929.3,143.8 L1935.8,145.9 L1943.6,146.5 L1944.9,141.4 L1950.1,140.8 L1955.3,142.0 L1960.6,145.3 L1965.8,145.0 L1971.0,147.4 L1976.2,148.3 L1981.4,147.1 L1987.9,145.3 L1993.6,146.2M1993.6,146.2 L1996.8,147.1 L2000.1,145.0 L2002.2,140.3 L2006.1,137.0 L2011.3,135.5 L2017.9,137.9 L2021.8,146.5 L2028.3,149.2 L2030.9,152.7 L2036.1,151.5 L2040.5,151.0 L2038.7,154.8 L2036.3,160.5 L2033.0,159.9 L2030.9,161.1 L2030.9,167.0 L2029.8,168.5M2029.8,168.5 L2025.7,169.7 L2023.1,170.0 L2019.2,171.2 L2015.2,174.1 L2013.4,175.9M2018.1,182.5 L2020.5,181.6 L2023.8,179.8M1917.1,148.6 L1918.9,150.1 L1924.1,152.4 L1926.7,156.0 L1925.9,159.3 L1931.9,161.1 L1938.4,162.8 L1942.3,167.3 L1950.1,167.9 L1955.3,169.1 L1963.2,170.9 L1968.4,168.5 L1976.2,167.9 L1980.1,164.6 L1984.0,161.4 L1991.8,159.9 L1995.7,156.0 L2001.7,155.7 L1998.3,152.1 L1995.2,152.7 L1991.8,152.4 L1993.6,146.2M1835.3,160.8 L1835.5,171.8 L1842.1,167.9 L1846.0,169.7 L1848.6,172.1 L1851.2,165.2 L1857.7,164.6 L1861.6,167.0 L1868.1,173.8 L1874.6,169.1 L1881.1,168.2 L1887.6,167.0 L1895.4,167.3 L1898.6,169.4M1835.3,160.8 L1827.7,159.9M1830.1,183.6 L1838.2,181.0 L1843.4,183.1 L1847.3,186.0 L1849.1,188.7M1849.1,188.7 L1852.5,189.6 L1857.7,186.6 L1862.9,183.3M1862.9,183.3 L1866.8,184.5 L1872.0,183.1 L1875.9,181.9 L1881.1,183.3 L1884.8,183.9M1872.0,175.0 L1877.2,177.4 L1881.6,177.4M1884.8,183.9 L1875.9,186.0 L1874.9,192.0 L1872.0,194.0 L1870.2,199.7 L1862.9,205.3 L1851.2,206.8 L1848.6,205.9M1849.1,188.7 L1847.3,194.9 L1848.0,200.9 L1850.4,201.2 L1848.6,205.9M1848.6,205.9 L1853.0,210.7 L1850.1,219.6M1884.8,183.9 L1883.7,191.1 L1881.9,195.8 L1883.7,197.9 L1885.0,202.4 L1882.2,206.8 L1877.2,211.3 L1872.8,211.6 L1870.7,215.1 L1873.3,218.7 L1868.9,223.2M1898.3,208.9 L1903.3,211.6 L1908.5,213.1 L1913.7,215.4 L1919.1,216.0 L1919.4,211.9M1920.7,229.1 L1921.5,223.2 L1919.1,221.4 L1921.5,219.6 L1923.6,217.5 L1930.1,219.9 L1928.8,222.6 L1930.6,226.1 L1930.1,231.5M1930.1,231.5 L1932.7,226.1 L1933.2,221.7 L1936.1,218.7 L1937.6,215.7 L1943.1,211.6M1946.2,264.8 L1948.1,258.8 L1947.5,252.9 L1946.2,246.9 L1944.4,242.5 L1947.3,239.5 L1948.8,234.5 L1950.4,233.9M1950.4,233.9 L1953.3,236.5 L1951.4,242.5 L1955.3,241.3 L1960.6,242.8 L1962.6,245.8 L1964.7,249.9M1955.9,227.9 L1958.0,232.1 L1961.9,235.1 L1960.6,237.4 L1964.5,240.4 L1967.3,244.0 L1969.7,249.9M1964.7,249.9 L1958.0,252.0 L1956.4,255.9 L1957.7,260.0M1969.7,251.1 L1966.5,257.4 L1961.9,263.3M1964.7,249.9 L1969.7,251.1M1950.4,275.2 L1954.8,277.6 L1955.6,276.1M1783.5,188.1 L1785.3,185.1 L1788.7,185.1 L1793.9,184.5 L1799.9,184.2M1799.9,184.2 L1805.1,183.9 L1806.4,176.5M1798.0,171.2 L1803.0,172.4 L1803.3,175.3 L1806.4,176.5M1799.9,184.2 L1796.5,192.3 L1791.3,198.5 L1785.5,198.5 L1782.4,195.5M1806.4,183.9 L1808.2,188.1 L1809.5,190.5 L1808.2,193.5 L1810.8,197.0 L1814.7,203.9M1791.3,198.5 L1796.5,201.2 L1806.1,207.7 L1810.8,208.0 L1814.7,208.3M1791.3,198.5 L1786.1,200.9 L1788.7,203.9 L1784.8,206.8 L1780.9,207.1M1801.2,245.8 L1805.6,242.8 L1812.1,244.3 L1817.3,239.2 L1825.1,238.0 L1834.5,235.1 L1832.9,227.0 L1824.1,222.3M1825.1,238.0 L1828.0,245.2M1793.9,165.5 L1799.1,166.1 L1804.3,167.6 L1809.5,170.0 L1816.0,170.3M1806.4,176.5 L1810.8,178.9 L1814.7,178.6 L1817.1,180.4M1809.5,170.0 L1806.9,172.1 L1803.0,172.4M1782.4,195.5 L1781.1,196.1M1685.3,190.2 L1685.0,198.8 L1680.3,200.3 L1675.4,205.6 L1667.0,209.2 L1667.0,212.2M1712.1,184.8 L1711.6,191.4 L1709.2,194.9 L1713.1,199.4 L1715.2,203.9 L1714.4,214.3 L1715.7,221.7 L1719.7,224.7M1719.7,195.8 L1715.2,203.9M1667.0,212.2 L1667.0,213.4 L1677.2,220.2 L1692.8,232.1 L1698.0,237.7 L1700.6,237.4 L1704.8,236.8 L1709.2,232.7 L1719.7,224.7M1667.0,212.2 L1655.3,212.2M1667.0,213.4 L1667.0,217.2 L1658.4,217.2 L1658.4,224.7 L1655.8,226.1 L1655.8,231.2 L1645.4,231.2M1677.2,220.2 L1672.8,220.5 L1675.4,245.8 L1659.7,248.4 L1657.9,250.8M1657.9,250.8 L1646.7,246.4M1700.6,237.4 L1700.6,244.6 L1691.0,249.9 L1688.4,249.6 L1684.5,252.3 L1679.3,255.0 L1675.4,263.3 L1668.9,264.2 L1660.3,257.9 L1657.9,250.8M1660.3,257.9 L1654.0,256.8 L1646.2,257.6M1654.0,256.8 L1655.1,267.8 L1659.7,269.2 L1662.4,269.8 L1667.6,272.2 L1670.2,281.4M1650.6,261.8 L1654.0,258.8M1668.9,264.2 L1667.6,272.2M1682.4,279.6 L1681.9,272.2 L1683.2,263.3 L1675.4,263.3M1692.8,276.4 L1691.0,269.2 L1690.2,261.8M1693.9,276.1 L1696.7,267.8 L1699.1,259.7M1683.2,262.1 L1690.2,261.8 L1692.3,256.2 L1695.7,258.8M1699.1,259.7 L1705.3,254.1 L1713.1,256.5 L1722.3,255.6 L1726.2,255.9M1712.1,280.5 L1714.7,275.2 L1719.7,274.0 L1722.3,269.2 L1724.9,263.3 L1727.5,258.8 L1726.2,255.9M1719.7,224.7 L1726.2,227.6 L1730.1,235.1 L1730.6,241.0 L1730.1,246.9 L1725.4,252.9M1726.2,227.6 L1752.2,236.5 L1752.2,235.1M1752.2,236.5 L1752.2,248.4 L1748.3,252.9 L1747.0,257.4 L1748.3,261.8M1724.9,263.3 L1730.1,272.2 L1737.9,269.2 L1745.7,263.3 L1748.3,261.8M1754.8,200.6 L1754.8,229.1 L1752.2,235.1M1754.8,229.1 L1785.8,229.1M1790.2,241.0 L1784.8,252.0M1784.8,252.0 L1780.9,261.8 L1779.0,263.3M1748.3,261.8 L1752.2,268.6 L1761.3,279.6 L1770.4,283.5 L1778.0,282.0 L1782.9,279.6 L1778.2,269.2 L1779.0,263.3M1801.7,261.8 L1804.3,267.8 L1814.7,270.7 L1806.9,279.6 L1799.1,282.6 L1796.5,282.9M1796.5,282.9 L1791.3,284.4 L1782.9,279.6M1796.5,282.9 L1796.5,299.6M1801.4,261.8 L1798.6,260.3 L1800.1,257.4M1778.0,282.0 L1780.6,291.5 L1778.2,297.5 L1787.4,303.4 L1791.8,308.2M1769.1,297.5 L1778.2,297.5M1770.4,283.5 L1767.8,291.5 L1766.0,299.0 L1766.0,307.9 L1769.1,319.2M1769.1,319.2 L1763.9,321.2 L1764.4,330.2 L1766.5,333.1 L1760.0,330.2 L1752.2,327.2 L1747.0,324.2 L1746.5,316.2 L1740.5,318.3 L1735.3,318.3 L1732.7,312.3 L1721.7,312.3M1761.3,279.6 L1752.2,279.6 L1739.2,282.6 L1737.9,284.1 L1735.3,296.0 L1732.2,300.4 L1731.1,306.4 L1721.7,312.3M1731.4,288.6 L1730.1,272.2M1715.2,287.7 L1719.1,288.0 L1724.3,288.0 L1731.4,288.6 L1737.9,284.1M1719.1,288.0 L1719.7,301.9 L1721.0,303.4 L1718.6,306.1M1720.4,345.9 L1726.2,346.2 L1737.9,346.2 L1744.1,348.0 L1750.6,346.8M1752.2,327.2 L1752.2,333.1 L1747.0,333.1 L1747.0,342.9 L1750.6,346.8M1741.8,359.9 L1741.8,368.2 L1741.8,378.9 L1732.7,379.5M1741.8,359.9 L1744.4,348.0M1741.8,368.2 L1748.3,371.2 L1756.1,370.3 L1760.0,364.3 L1766.0,360.5 L1771.2,361.1M1755.6,347.4 L1762.6,343.5 L1768.9,340.9 L1775.6,345.0 L1775.1,351.0 L1774.1,357.8 L1771.2,361.1M1750.6,346.8 L1755.6,347.4 L1760.0,353.9 L1766.0,360.5M1771.2,361.1 L1773.0,367.3 L1775.4,374.4M1768.9,340.9 L1773.0,338.5 L1776.9,337.6 L1780.9,336.1 L1782.2,328.7 L1779.6,323.0 L1775.6,322.7 L1770.4,319.8M1782.2,328.7 L1788.7,328.1 L1794.9,325.7M1760.0,382.8 L1763.9,379.8 L1766.3,381.9 L1762.6,385.4 L1760.0,382.8M1881.2,177.5 L1881.9,175.4 L1884.3,174.1 L1886.5,173.6 L1889.0,174.1 L1889.7,172.2 L1892.1,171.7 L1895.2,170.4 L1898.4,169.3 L1899.0,167.5 L1899.9,165.9 L1899.3,163.8 L1898.8,161.4 L1897.7,160.9 L1901.1,159.8 L1904.2,159.6 L1904.4,158.0 L1905.5,154.3 L1908.2,154.6 L1910.9,155.1 L1912.7,154.3 L1912.7,150.9 L1915.3,149.8 L1915.8,148.5 L1918.5,148.5 L1919.1,150.1 L1920.9,151.4 L1923.4,151.9 L1925.2,153.0 L1926.5,155.1 L1926.7,158.5 L1926.3,159.8 L1928.7,160.4 L1933.7,160.9 L1936.3,162.5 L1938.6,163.0 L1939.5,165.4 L1940.4,167.2 L1943.9,167.5 L1950.6,167.5 L1955.5,168.5 L1958.9,169.6 L1961.7,170.2 L1963.5,170.4 L1968.1,168.5 L1972.6,168.2 L1976.3,167.7 L1978.1,166.4 L1980.8,164.5 L1980.1,162.3 L1981.3,160.7 L1984.5,161.0 L1987.7,160.2 L1991.8,158.6 L1992.9,157.0 L1995.4,155.9 L2001.8,155.6 L2001.6,153.7 L1999.1,152.1 L1995.4,152.4 L1991.3,152.4 L1990.9,151.0 L1994.1,146.5 L1997.7,146.7 L2000.2,145.4 L2002.7,141.6 L2004.1,138.6 L2002.5,137.8 L2004.1,136.5 L2007.3,136.0 L2011.4,135.4 L2016.9,136.5 L2018.7,138.6 L2020.5,141.6 L2022.3,146.5 L2026.0,147.3 L2029.2,148.9 L2030.6,151.8 L2035.6,151.6 L2041.5,150.5 L2040.6,152.6 L2039.2,154.8 L2037.9,158.0 L2036.5,160.2 L2031.9,161.3 L2031.5,165.6 L2029.6,167.7 L2027.4,168.8 L2025.1,169.9 L2023.7,171.0 L2021.9,171.0 L2018.2,172.0 L2014.1,174.7 L2010.5,177.4 L2007.3,178.5 L2005.4,179.2 L2005.9,176.9 L2006.8,174.7 L2007.5,173.7 L2004.6,174.2 L2002.7,175.3 L1999.1,177.4 L1996.8,179.0 L1997.7,180.7 L2000.0,182.3 L2000.9,183.6 L2004.6,182.8 L2009.1,183.1 L2009.3,184.2 L2006.4,184.8 L2002.7,187.0 L2000.9,189.6 L2002.3,191.8 L2004.1,194.5 L2005.5,197.7 L2007.3,199.9 L2007.7,202.0 L2009.6,203.1 L2007.7,205.3 L2006.8,207.4 L2006.4,210.1 L2004.6,212.3 L2003.2,214.4 L2001.8,216.6 L2000.9,218.7 L1999.1,220.3 L1996.3,222.5 L1993.6,224.7 L1990.9,226.3 L1987.2,227.3 L1984.5,228.4 L1980.8,229.5 L1977.6,230.3 L1977.2,232.7 L1976.7,234.2 L1975.8,232.7 L1974.9,230.9 L1972.6,230.2 L1971.0,230.6 L1968.1,229.0 L1967.1,226.8 L1964.4,226.3 L1961.7,226.8 L1960.7,227.0 L1958.7,227.2 L1956.4,227.8 L1954.7,229.1 L1955.1,230.9 L1954.2,231.2 L1952.9,230.1 L1951.1,230.4 L1950.2,229.6 L1948.4,228.6 L1948.4,226.4 L1947.5,225.4 L1946.6,223.3 L1943.9,223.0 L1943.9,220.1 L1945.3,218.0 L1946.6,215.4 L1946.2,212.5 L1945.3,210.6 L1943.9,210.1 L1943.0,211.7 L1941.3,211.1 L1938.6,210.9 L1935.0,212.7 L1933.7,214.0 L1929.6,214.3 L1929.2,213.3 L1927.9,211.1 L1924.3,210.6 L1922.5,211.1 L1921.6,213.3 L1920.7,211.1 L1917.1,211.4 L1913.6,210.9 L1910.0,209.0 L1909.1,207.5 L1907.3,206.9 L1903.7,204.8 L1901.9,204.0 L1901.3,205.1 L1900.2,204.6 L1897.5,202.7 L1895.0,201.7 L1894.8,199.5 L1893.9,197.7 L1895.9,196.4 L1895.0,194.8 L1894.8,192.2 L1893.5,191.1 L1892.6,189.0 L1890.3,188.7 L1888.1,187.7 L1887.7,185.8 L1885.9,184.8 L1883.6,183.8 L1884.8,183.3 L1885.0,181.7 L1884.1,179.9 L1881.4,179.4M1220.9,548.0 L1260.0,547.1 L1286.0,542.7 L1304.2,532.3 L1308.7,519.2M1494.4,526.3 L1507.4,531.4 L1533.4,534.3 L1572.5,536.7 L1598.5,533.7 L1616.8,530.8M2111.6,535.2 L2132.4,538.2 L2158.5,540.6" fill="none" stroke="#333" stroke-width="1.0" stroke-linejoin="round"/>
<path d="M1449.6,251.4 L1446.2,248.1 L1443.6,246.4 L1441.0,247.5 L1438.4,248.0 L1434.5,246.4 L1430.6,244.9 L1426.7,243.1 L1423.5,241.3 L1420.1,240.1 L1417.5,237.7 L1414.9,235.1 L1415.5,232.7 L1414.4,229.1 L1412.3,225.3 L1409.7,221.7 L1407.6,219.6 L1405.0,217.8 L1404.5,215.1 L1401.9,212.8 L1400.1,211.3 L1397.5,208.3 L1395.9,205.3 L1394.1,202.1 L1390.7,200.0 L1391.2,202.4 L1392.0,205.3 L1394.1,207.7 L1395.9,210.4 L1397.5,213.4 L1399.3,216.6 L1401.1,220.8 L1402.4,222.6 L1404.5,225.0 L1403.5,226.4 L1402.4,224.7 L1399.3,221.7 L1397.7,220.8 L1396.7,216.6 L1393.8,215.1 L1392.0,212.5 L1389.9,211.9 L1392.3,209.8 L1390.2,206.8 L1387.6,203.9 L1386.0,200.0 L1384.7,197.9 L1384.2,196.1 L1382.4,194.3 L1381.1,193.5 L1379.0,192.6 L1375.9,192.0 L1375.3,189.9 L1373.8,188.1 L1372.2,185.7 L1370.9,183.9 L1370.7,182.2 L1369.4,181.3 L1367.5,178.9 L1367.3,176.2 L1365.7,174.4 L1366.5,171.8 L1366.2,169.7 L1365.5,167.3 L1366.5,163.7 L1366.8,159.3 L1366.8,156.9 L1366.2,154.2 L1364.9,150.7 L1369.4,151.5 L1370.9,153.3 L1370.7,149.8 L1369.4,148.9 L1368.1,147.4 L1365.5,145.9 L1362.8,144.4 L1358.9,142.9 L1356.9,140.0 L1355.0,137.6 L1352.4,135.5 L1350.3,133.1 L1349.3,131.0 L1347.2,129.6 L1345.9,127.2 L1343.3,125.1 L1340.7,122.1 L1336.8,121.2 L1334.2,121.2 L1331.6,120.0 L1329.0,118.6 L1325.9,117.4 L1322.5,116.8 L1318.6,116.2 L1314.7,116.2 L1310.8,115.0 L1307.6,113.8 L1304.8,114.4 L1302.9,115.9 L1300.3,117.1 L1297.7,118.3 L1294.4,118.6 L1295.1,114.7 L1297.7,112.6 L1295.1,113.2 L1292.5,115.6 L1289.9,118.3 L1288.1,119.7 L1284.7,122.4 L1282.1,124.5 L1278.7,126.6 L1275.6,128.4 L1271.7,129.6 L1267.8,131.0 L1263.9,131.9 L1260.5,132.8 L1261.3,131.3 L1265.2,130.4 L1269.1,128.4 L1273.0,126.6 L1276.9,123.6 L1279.2,121.2 L1280.8,119.7 L1276.9,119.7 L1273.0,120.3 L1268.3,120.0 L1266.5,116.5 L1262.6,115.3 L1259.2,113.8 L1259.5,111.7 L1257.4,110.2 L1260.5,107.9 L1262.6,106.4 L1267.8,105.8 L1270.9,104.3 L1269.9,102.8 L1263.9,102.8 L1260.0,102.8 L1256.1,102.2 L1253.5,100.7 L1251.9,99.5 L1256.1,97.8 L1261.3,96.6 L1263.1,98.1 L1268.3,98.3 L1269.1,96.6 L1263.9,95.1 L1261.3,93.3 L1256.8,91.5 L1257.4,89.7 L1262.6,89.4 L1265.2,87.4 L1268.3,85.6 L1273.0,84.4 L1278.2,83.8 L1282.1,82.6 L1286.0,83.5 L1291.2,83.8 L1296.4,85.0 L1301.6,85.0 L1306.9,85.9 L1312.1,86.5 L1317.3,86.2 L1322.5,87.4 L1327.7,87.9 L1332.9,89.7 L1336.8,88.5 L1339.4,87.6 L1343.3,87.9 L1347.2,87.1 L1351.1,86.2 L1355.0,85.9 L1357.6,85.6 L1361.5,87.9 L1365.5,88.2 L1369.4,88.2 L1374.6,87.4 L1379.8,89.4 L1385.0,89.7 L1388.9,91.2 L1392.8,91.8 L1398.0,93.0 L1403.2,92.4 L1407.1,91.8 L1411.0,92.4 L1414.9,91.2 L1418.8,92.4 L1424.1,93.0 L1429.3,93.0 L1433.2,91.5 L1437.1,90.6 L1439.7,91.5 L1442.3,90.6 L1441.0,87.9 L1442.3,83.5 L1443.6,80.5 L1446.2,82.0 L1448.8,85.0 L1451.4,87.1 L1454.0,89.4 L1457.9,90.9 L1460.5,92.4 L1461.8,94.8 L1464.4,93.9 L1465.7,90.9 L1468.3,87.9 L1469.6,87.1 L1476.1,87.9 L1477.4,90.9 L1476.1,93.9 L1472.2,96.9 L1464.9,96.9 L1463.1,99.8 L1460.5,103.7 L1455.3,104.9 L1453.2,107.3 L1448.8,109.6 L1444.9,112.3 L1443.3,116.2 L1444.4,119.7 L1447.5,120.6 L1449.3,124.8 L1454.0,124.2 L1459.2,126.6 L1464.4,128.7 L1469.6,130.1 L1475.4,130.7 L1475.6,135.5 L1477.4,138.5 L1479.8,141.4 L1483.2,142.0 L1484.5,139.1 L1484.2,134.0 L1482.7,132.2 L1487.9,128.7 L1489.9,126.6 L1489.7,123.6 L1487.9,120.6 L1486.6,117.7 L1487.9,115.6 L1486.6,113.2 L1487.3,109.3 L1493.1,109.3 L1497.0,109.6 L1500.9,110.8 L1503.5,112.6 L1507.4,113.2 L1508.7,117.7 L1509.2,119.7 L1512.6,120.6 L1514.4,121.2 L1517.0,119.7 L1520.4,117.7 L1521.7,115.3 L1524.3,119.7 L1526.9,122.1 L1529.5,126.6 L1532.7,129.6 L1536.0,130.7 L1539.9,132.8 L1542.6,135.2 L1544.4,138.5 L1543.3,140.8 L1539.9,141.7 L1534.7,144.4 L1529.5,145.3 L1524.3,145.0 L1519.1,145.3 L1515.2,147.4 L1511.3,148.9 L1507.9,151.2 L1504.8,155.1 L1507.4,153.9 L1511.3,151.0 L1516.5,148.6 L1521.7,149.2 L1521.5,151.5 L1517.8,151.8 L1520.4,153.0 L1521.2,155.4 L1523.0,157.2 L1526.9,159.0 L1529.5,158.7 L1531.9,156.3 L1533.7,158.1 L1530.8,159.9 L1525.6,161.9 L1521.7,163.7 L1518.9,165.2 L1517.3,163.1 L1521.7,159.9 L1519.1,159.9 L1515.2,161.1 L1511.3,162.8 L1507.9,164.3 L1505.8,166.4 L1505.3,168.2 L1507.4,170.3 L1506.1,170.9 L1503.5,171.5 L1500.9,172.1 L1497.5,173.2 L1497.0,174.1 L1496.7,176.5 L1494.6,178.9 L1494.1,180.1 L1493.1,181.6 L1492.0,183.9 L1491.0,184.5 L1492.3,186.9 L1493.1,189.6 L1490.5,191.4 L1487.1,193.5 L1485.0,194.0 L1483.2,195.8 L1480.8,197.9 L1478.5,200.0 L1477.7,203.9 L1478.2,206.8 L1479.8,210.4 L1481.1,214.9 L1480.8,217.8 L1479.8,219.6 L1478.2,219.3 L1476.7,216.6 L1475.4,214.3 L1474.1,211.3 L1474.3,208.3 L1472.2,205.9 L1470.1,205.3 L1467.5,206.2 L1465.2,204.2 L1461.8,204.4 L1459.2,204.2 L1456.6,204.7 L1457.1,207.4 L1456.6,208.3 L1454.8,208.0 L1451.9,207.4 L1448.8,206.5 L1445.4,206.2 L1442.8,207.4 L1441.0,208.9 L1438.4,210.4 L1436.3,212.8 L1436.0,215.7 L1436.6,218.7 L1435.5,221.7 L1435.0,226.1 L1435.3,229.1 L1436.3,231.5 L1438.4,235.7 L1439.7,238.0 L1442.3,239.5 L1444.1,240.4 L1447.5,239.8 L1450.1,239.2 L1451.7,238.9 L1453.5,236.5 L1454.3,232.7 L1456.6,231.2 L1460.5,230.6 L1463.1,230.6 L1463.6,231.8 L1462.1,234.2 L1461.6,236.5 L1461.0,238.6 L1459.7,239.5 L1460.0,242.5 L1459.2,246.9 L1461.8,247.5 L1465.7,247.2 L1469.6,247.5 L1472.8,249.9 L1472.2,255.9 L1471.7,261.8 L1473.5,264.8 L1476.1,267.8 L1480.0,267.5 L1482.7,266.0 L1486.6,267.2 L1488.1,268.9 L1491.8,266.3 L1493.1,263.3 L1497.0,260.9 L1502.2,258.8 L1503.5,261.8 L1507.4,258.8 L1512.6,263.3 L1523.0,263.3 L1528.2,263.3 L1530.8,268.9 L1536.0,270.7 L1541.2,276.7 L1549.1,277.3 L1554.3,281.1 L1556.9,282.6 L1559.5,289.2 L1559.5,294.5 L1563.4,297.5 L1569.9,297.5 L1575.1,301.9 L1580.3,302.8 L1585.5,302.8 L1590.7,305.8 L1597.8,310.0 L1599.1,316.8 L1598.0,321.2 L1593.3,327.2 L1589.4,333.1 L1588.1,339.1 L1587.6,346.5 L1585.5,353.9 L1582.9,359.9 L1577.7,362.9 L1572.5,364.6 L1566.0,368.8 L1563.4,373.3 L1562.9,379.2 L1559.5,385.1 L1554.3,391.1 L1550.6,394.7 L1546.5,398.5 L1541.2,397.0 L1537.9,397.3 L1541.2,402.4 L1539.9,407.4 L1528.2,410.4 L1527.4,415.8 L1520.4,416.4 L1521.7,420.8 L1520.4,428.2 L1513.9,432.4 L1517.8,435.7 L1513.9,443.1 L1511.3,449.9 L1512.6,453.5 L1516.5,458.0 L1511.3,459.4 L1504.8,455.0 L1495.7,450.5 L1493.1,437.2 L1497.0,428.2 L1498.3,419.3 L1498.3,410.4 L1499.6,401.5 L1503.2,392.6 L1503.7,383.7 L1506.6,368.8 L1506.9,353.9 L1506.6,349.2 L1502.2,345.0 L1494.4,340.6 L1491.0,334.6 L1486.6,325.7 L1482.7,316.8 L1478.0,312.3 L1478.7,307.9 L1481.3,301.9 L1478.7,297.5 L1481.3,292.1 L1484.0,290.0 L1487.9,282.6 L1488.4,275.2 L1486.8,273.1 L1485.3,269.8 L1482.7,268.0 L1480.3,270.7 L1481.3,272.2 L1478.2,271.9 L1474.8,270.1 L1472.2,269.2 L1468.3,265.4 L1466.2,264.8 L1466.5,261.5 L1464.4,258.8 L1461.6,255.9 L1459.2,255.3 L1455.8,254.4 L1451.7,253.2ZM1575.1,116.8 L1564.7,113.2 L1559.5,108.8 L1555.6,104.3 L1551.7,98.3 L1550.4,93.9 L1556.9,89.4 L1549.1,85.0 L1546.5,82.0 L1542.6,77.5 L1537.3,70.1 L1530.8,68.0 L1517.8,68.3 L1511.3,67.1 L1500.9,64.2 L1499.6,61.2 L1512.6,56.7 L1525.6,53.2 L1543.9,50.2 L1572.5,48.4 L1598.5,46.3 L1624.6,46.9 L1637.6,49.3 L1658.4,52.0 L1645.4,55.3 L1640.2,59.7 L1641.5,65.7 L1637.6,70.1 L1638.9,74.6 L1632.4,79.0 L1632.4,85.0 L1625.9,89.4 L1618.1,91.5 L1606.4,93.0 L1599.8,98.3 L1590.7,99.8 L1585.5,102.8 L1582.9,107.3 L1579.0,111.7ZM1632.4,104.9 L1627.2,101.9 L1631.1,100.7 L1626.7,99.5 L1632.4,97.2 L1637.6,98.1 L1642.8,97.8 L1648.0,96.9 L1651.9,98.3 L1654.3,101.0 L1651.2,103.4 L1645.4,104.9 L1640.2,106.1 L1635.0,104.9ZM1468.3,229.4 L1473.5,226.4 L1478.7,225.5 L1484.0,227.6 L1487.9,230.6 L1492.8,232.1 L1496.5,234.2 L1494.4,235.4 L1487.9,235.4 L1486.6,233.0 L1482.7,230.3 L1477.4,228.8 L1474.8,227.3 L1470.9,229.1ZM1495.7,239.8 L1500.1,235.4 L1504.8,235.4 L1510.0,238.0 L1511.6,239.2 L1507.4,240.4 L1503.5,241.9 L1498.3,240.4ZM1675.1,187.5 L1673.3,186.0 L1671.5,183.9 L1670.2,184.2 L1666.5,184.5 L1666.8,181.6 L1665.0,179.5 L1666.3,176.8 L1666.8,174.1 L1667.0,171.2 L1666.5,168.2 L1665.5,166.7 L1668.9,164.6 L1674.1,164.9 L1679.3,165.5 L1684.5,165.8 L1685.8,165.2 L1686.3,162.2 L1686.6,158.4 L1684.0,154.5 L1681.9,153.3 L1678.0,152.1 L1677.5,150.7 L1680.6,149.5 L1685.0,150.1 L1685.5,146.8 L1687.1,147.7 L1690.2,147.4 L1693.6,145.3 L1694.4,143.2 L1696.2,142.6 L1698.8,141.7 L1700.6,140.3 L1701.9,137.6 L1704.0,135.8 L1707.9,135.5 L1711.8,134.6 L1712.4,134.0 L1712.1,131.0 L1710.8,129.6 L1711.1,125.7 L1715.7,123.3 L1717.0,125.1 L1716.5,127.5 L1715.7,129.6 L1715.2,131.6 L1717.8,134.0 L1721.0,133.4 L1724.9,132.5 L1726.7,134.3 L1731.4,133.1 L1737.9,131.6 L1740.5,132.8 L1744.4,130.4 L1744.7,128.1 L1744.4,125.1 L1748.3,123.0 L1753.0,124.5 L1750.9,120.6 L1750.9,118.6 L1754.8,117.7 L1762.6,117.7 L1766.5,116.2 L1762.6,114.7 L1754.8,115.6 L1748.3,116.2 L1745.7,113.8 L1745.7,111.7 L1747.0,107.3 L1750.9,104.3 L1755.6,101.3 L1753.5,98.9 L1747.0,99.5 L1745.2,101.9 L1740.5,105.8 L1736.1,108.8 L1734.5,113.2 L1737.1,114.7 L1738.9,116.8 L1736.6,119.2 L1733.2,122.1 L1732.7,125.7 L1731.1,127.8 L1727.5,128.1 L1723.6,129.9 L1722.3,127.5 L1721.0,123.6 L1719.1,119.7 L1717.0,118.3 L1715.7,119.2 L1711.8,121.2 L1707.9,122.1 L1704.3,119.7 L1702.7,116.2 L1702.5,113.2 L1703.2,110.2 L1706.6,108.5 L1710.5,106.7 L1714.4,104.9 L1718.3,101.9 L1722.3,98.3 L1724.9,94.8 L1728.8,91.5 L1732.7,89.4 L1737.9,87.1 L1743.1,86.2 L1749.6,85.0 L1756.1,83.2 L1762.6,83.5 L1767.8,85.6 L1770.4,86.5 L1774.3,87.1 L1780.9,88.8 L1788.7,90.9 L1795.2,93.3 L1796.5,96.9 L1792.6,97.8 L1786.1,97.8 L1779.6,96.3 L1775.6,96.9 L1779.6,101.3 L1780.3,103.1 L1786.1,104.6 L1788.7,102.2 L1795.2,102.8 L1799.1,97.2 L1804.3,97.8 L1804.8,93.9 L1803.0,90.9 L1809.5,91.8 L1814.7,93.3 L1827.7,90.9 L1831.6,91.5 L1839.5,90.6 L1846.0,89.4 L1848.6,87.1 L1857.7,88.5 L1864.2,87.9 L1868.1,91.8 L1872.0,90.9 L1865.5,85.0 L1868.1,79.0 L1872.0,77.5 L1875.9,78.1 L1878.5,82.0 L1877.2,86.5 L1881.1,95.4 L1883.7,90.9 L1881.1,85.0 L1885.0,79.0 L1890.2,79.6 L1892.8,83.5 L1899.4,80.5 L1899.4,76.1 L1916.3,74.6 L1921.5,70.1 L1934.5,68.6 L1944.9,68.0 L1952.7,65.7 L1961.3,63.6 L1965.8,64.8 L1976.2,67.1 L1984.0,69.2 L1985.3,74.6 L1980.1,75.2 L1985.3,76.7 L1994.4,76.1 L2007.4,77.5 L2020.5,76.1 L2025.7,79.0 L2024.4,82.0 L2032.2,84.1 L2038.7,82.0 L2050.4,82.0 L2056.9,78.4 L2067.3,79.3 L2080.4,81.7 L2088.2,83.8 L2098.6,83.5 L2106.4,86.5 L2110.3,87.6 L2119.4,87.4 L2127.2,87.1 L2133.8,86.2 L2140.3,87.1 L2148.1,87.1 L2154.6,88.2 L2158.5,89.7 L2158.5,101.3 L2154.6,102.8 L2152.0,108.8 L2142.9,110.8 L2137.7,113.8 L2133.8,116.2 L2122.0,115.3 L2116.8,116.8 L2114.2,120.6 L2111.6,122.1 L2115.5,126.6 L2111.6,132.5 L2106.4,137.0 L2102.5,138.5 L2097.8,142.9 L2096.0,137.0 L2095.5,131.0 L2097.3,123.6 L2101.2,122.1 L2106.4,116.2 L2115.5,110.2 L2106.4,111.7 L2098.6,111.7 L2093.4,118.3 L2085.6,119.2 L2077.8,118.3 L2067.3,118.3 L2059.5,119.2 L2055.6,122.1 L2049.1,126.6 L2045.2,131.6 L2051.7,134.0 L2055.6,137.0 L2057.7,140.0 L2055.6,145.9 L2055.1,150.4 L2050.4,154.8 L2043.9,162.2 L2036.1,167.3 L2030.9,167.9 L2027.8,171.2 L2027.0,174.1 L2023.1,176.2 L2021.8,177.7 L2024.4,180.7 L2026.7,186.0 L2026.4,189.6 L2024.4,190.8 L2019.2,192.3 L2018.6,189.0 L2019.9,186.0 L2019.2,183.1 L2016.0,182.5 L2014.7,180.1 L2016.3,177.1 L2013.4,175.9 L2009.5,176.8 L2005.4,179.2 L2006.4,177.1 L2008.2,174.1 L2004.8,173.2 L2002.2,175.6 L2000.1,177.7 L1997.0,178.3 L1996.2,180.1 L1998.3,181.6 L1999.6,183.6 L2003.5,182.2 L2008.7,183.3 L2006.1,185.1 L2003.5,186.9 L2000.9,189.6 L2003.5,194.9 L2004.8,197.9 L2007.2,200.0 L2006.1,202.4 L2007.4,205.3 L2006.7,208.3 L2004.8,211.3 L2002.2,214.9 L2000.9,218.7 L1998.3,221.7 L1994.4,224.7 L1990.5,226.7 L1986.6,228.2 L1984.0,229.1 L1980.1,230.6 L1977.5,232.1 L1976.7,234.2 L1975.4,230.6 L1972.3,230.3 L1969.7,231.2 L1967.1,234.2 L1965.0,238.0 L1967.1,242.5 L1969.7,246.1 L1973.1,249.3 L1974.4,254.4 L1974.1,259.7 L1971.0,262.7 L1967.8,263.9 L1963.2,268.9 L1962.6,265.4 L1961.9,263.3 L1958.0,260.3 L1955.3,257.4 L1952.2,255.0 L1950.1,255.9 L1948.1,263.3 L1949.6,267.2 L1950.9,272.2 L1953.5,274.3 L1956.1,276.4 L1959.0,280.2 L1959.0,284.1 L1961.1,290.3 L1959.0,290.6 L1955.3,287.7 L1951.4,282.6 L1950.9,278.2 L1950.1,274.9 L1946.2,270.7 L1945.7,266.3 L1946.5,261.8 L1944.9,252.9 L1943.6,245.5 L1941.0,244.6 L1937.6,247.5 L1935.6,246.4 L1935.0,238.6 L1931.9,235.1 L1929.8,232.1 L1928.8,228.2 L1925.4,229.1 L1922.8,229.7 L1918.9,230.3 L1916.0,232.7 L1911.1,237.1 L1905.9,242.5 L1903.3,245.5 L1898.8,248.4 L1898.6,254.4 L1897.5,261.8 L1896.2,263.9 L1893.4,268.0 L1891.5,270.4 L1888.9,267.8 L1887.1,261.8 L1884.5,256.5 L1882.4,249.9 L1880.6,244.0 L1879.3,238.0 L1879.3,232.1 L1878.5,230.6 L1873.3,232.7 L1869.4,228.2 L1872.0,226.7 L1868.1,224.7 L1865.5,221.7 L1863.2,219.0 L1857.7,219.6 L1851.2,219.9 L1847.3,219.3 L1842.1,218.4 L1838.9,217.5 L1836.8,214.3 L1834.2,215.4 L1830.3,215.1 L1826.4,212.8 L1822.5,209.8 L1820.4,205.3 L1816.0,205.3 L1814.7,206.8 L1816.0,209.8 L1818.6,214.3 L1820.4,217.2 L1822.0,220.2 L1823.8,217.5 L1824.1,221.7 L1827.7,222.6 L1831.6,222.3 L1835.5,217.8 L1836.6,216.3 L1836.3,220.8 L1839.5,223.8 L1843.4,227.3 L1845.4,227.6 L1842.1,233.6 L1840.2,238.0 L1836.8,241.0 L1832.9,244.0 L1826.4,246.4 L1819.9,249.6 L1814.7,252.9 L1808.2,255.9 L1803.0,256.8 L1801.2,251.4 L1800.4,245.5 L1797.8,241.0 L1793.9,235.1 L1791.3,229.7 L1790.0,224.7 L1787.4,221.7 L1784.8,217.2 L1781.4,211.3 L1780.6,206.8 L1778.8,201.5 L1780.3,197.9 L1781.1,195.8 L1782.4,192.0 L1783.2,189.0 L1784.0,185.7 L1782.2,185.7 L1779.6,185.1 L1775.6,187.2 L1770.4,185.1 L1769.1,186.6 L1765.2,185.7 L1761.3,184.5 L1760.0,181.6 L1758.7,180.1 L1759.5,177.1 L1757.9,175.6 L1761.3,174.4 L1765.2,172.9 L1763.9,172.6 L1758.7,173.2 L1754.8,172.9 L1751.7,173.5 L1749.1,174.1 L1750.9,175.0 L1748.6,177.1 L1749.6,178.9 L1752.2,181.0 L1750.1,181.9 L1749.6,186.0 L1748.3,186.0 L1746.2,185.1 L1744.9,182.2 L1745.7,180.7 L1743.9,178.6 L1741.8,176.2 L1740.2,174.4 L1740.5,170.3 L1737.9,168.2 L1734.0,166.1 L1730.8,164.3 L1728.8,161.7 L1726.9,159.9 L1725.4,158.7 L1722.0,159.6 L1721.7,162.2 L1723.6,164.3 L1726.2,167.6 L1730.1,170.0 L1731.9,170.3 L1735.3,173.2 L1737.9,175.3 L1734.5,174.1 L1732.7,177.1 L1734.2,178.6 L1732.7,180.4 L1731.4,181.6 L1730.6,180.7 L1731.4,177.1 L1728.8,175.0 L1726.2,172.6 L1722.3,170.3 L1718.9,168.2 L1717.0,166.7 L1716.3,164.0 L1713.1,162.5 L1710.5,164.0 L1707.9,165.2 L1705.3,166.4 L1701.4,165.5 L1698.3,166.1 L1697.8,168.5 L1698.0,170.0 L1694.9,171.8 L1692.0,172.6 L1689.7,175.9 L1688.9,177.7 L1690.2,179.5 L1687.9,182.8 L1685.5,184.5 L1684.0,185.4 L1678.2,185.4 L1675.9,187.2ZM1220.9,89.7 L1228.7,91.8 L1235.2,94.8 L1241.7,95.7 L1247.0,97.8 L1247.7,98.3 L1244.3,99.8 L1240.4,101.3 L1239.1,103.4 L1233.9,101.9 L1230.0,100.1 L1224.8,99.8 L1220.9,101.3ZM1676.7,189.9 L1681.9,189.6 L1685.8,189.9 L1689.7,187.8 L1694.9,185.7 L1700.1,184.8 L1705.3,184.5 L1710.5,184.8 L1714.4,183.6 L1717.0,186.0 L1718.3,189.9 L1716.3,192.9 L1719.7,195.8 L1723.6,196.7 L1730.1,199.4 L1734.0,202.4 L1739.2,204.4 L1741.8,200.9 L1744.4,197.0 L1749.6,197.9 L1754.8,200.3 L1763.9,202.4 L1767.8,201.5 L1770.4,200.9 L1774.3,202.1 L1778.8,201.5 L1780.6,206.8 L1779.0,211.3 L1776.9,211.3 L1774.6,205.9 L1778.2,214.3 L1780.9,220.2 L1782.4,224.7 L1786.1,229.1 L1786.8,233.6 L1788.7,239.5 L1791.3,244.0 L1793.9,248.4 L1797.8,252.9 L1801.2,256.8 L1802.5,259.7 L1804.3,263.3 L1809.5,262.7 L1816.0,261.2 L1821.2,258.8 L1823.0,259.4 L1819.4,266.3 L1816.0,275.2 L1812.1,282.6 L1806.9,288.6 L1801.7,293.0 L1797.8,299.6 L1794.7,303.4 L1792.6,308.8 L1791.8,313.8 L1792.6,318.3 L1795.2,327.2 L1795.2,339.1 L1791.3,345.0 L1784.8,350.4 L1780.9,353.9 L1782.2,359.9 L1780.9,367.3 L1775.1,371.8 L1774.3,377.7 L1770.4,382.2 L1765.2,389.6 L1760.0,394.1 L1756.1,395.5 L1747.0,395.5 L1741.8,397.9 L1737.9,396.1 L1737.1,392.0 L1735.3,386.6 L1732.7,379.5 L1728.8,373.3 L1727.5,362.6 L1724.9,355.4 L1721.0,348.0 L1720.4,343.5 L1722.3,334.6 L1724.9,328.7 L1724.1,319.8 L1721.7,312.3 L1719.7,306.4 L1715.7,301.9 L1713.9,296.0 L1714.4,291.5 L1715.2,287.1 L1712.6,282.0 L1709.2,281.1 L1705.3,281.7 L1701.4,276.1 L1697.5,275.8 L1692.3,276.7 L1684.5,280.2 L1676.7,279.3 L1670.2,281.4 L1663.7,277.3 L1658.4,272.2 L1654.5,266.3 L1650.6,261.8 L1645.9,257.9 L1646.2,254.4 L1644.1,250.8 L1646.7,245.5 L1647.2,236.5 L1645.4,230.6 L1648.0,223.2 L1651.9,216.6 L1655.3,213.4 L1659.7,211.3 L1664.4,205.9 L1664.2,202.4 L1667.6,195.8 L1672.8,192.0 L1674.3,188.1ZM1987.9,359.3 L1993.1,356.0 L1998.3,354.8 L2004.8,352.8 L2008.0,348.0 L2011.3,343.5 L2015.2,339.1 L2019.2,336.1 L2023.1,339.1 L2027.0,338.5 L2028.3,333.1 L2030.9,330.8 L2034.8,328.7 L2041.3,330.8 L2046.0,330.8 L2045.2,334.6 L2043.4,339.1 L2046.5,341.8 L2051.7,345.0 L2054.3,347.1 L2056.9,345.0 L2058.5,339.1 L2059.0,331.6 L2060.8,326.3 L2063.4,330.2 L2064.2,336.1 L2068.1,338.5 L2068.6,342.1 L2070.5,350.4 L2076.5,355.4 L2079.1,360.8 L2083.0,364.3 L2088.2,370.3 L2089.5,377.7 L2088.4,383.7 L2086.9,389.6 L2083.7,394.1 L2080.9,400.0 L2080.4,405.9 L2075.2,406.8 L2070.7,410.7 L2066.0,408.0 L2060.8,408.6 L2055.6,407.4 L2053.0,400.9 L2049.1,398.5 L2047.8,394.1 L2045.2,392.6 L2042.6,397.9 L2038.7,391.1 L2032.2,388.1 L2025.7,388.4 L2017.9,390.5 L2011.3,395.3 L2002.2,395.3 L1995.7,398.5 L1989.2,396.1 L1991.0,391.1 L1989.2,382.2 L1986.6,371.8 L1985.3,359.9ZM1220.9,528.4 L1261.0,530.5 L1278.5,525.4 L1308.7,519.2 L1358.7,514.4 L1421.4,511.8 L1429.0,515.6 L1471.7,512.9 L1496.7,505.5 L1512.6,498.1 L1521.7,488.0 L1533.4,482.3 L1542.6,481.1 L1538.6,486.2 L1531.6,498.1 L1529.5,508.5 L1531.6,518.0 L1554.3,524.8 L1571.7,530.5 L1598.5,529.3 L1622.0,530.5 L1647.0,515.6 L1668.9,509.4 L1689.7,505.5 L1728.8,503.1 L1766.3,504.3 L1793.9,499.0 L1828.8,491.8 L1846.0,494.5 L1866.5,498.1 L1868.9,512.9 L1878.8,501.6 L1898.1,496.6 L1916.5,493.0 L1941.5,489.2 L1976.2,491.2 L2016.8,490.4 L2041.3,491.5 L2066.8,495.4 L2093.4,499.6 L2117.1,505.5 L2134.5,510.6 L2112.1,520.4 L2117.1,530.5 L2137.7,527.2 L2158.5,525.4 L2158.5,562.0 L1220.9,562.0ZM1678.8,142.3 L1681.1,141.7 L1676.2,140.6 L1679.0,140.0 L1678.8,137.9 L1677.7,136.1 L1681.9,136.1 L1681.9,134.3 L1680.6,132.5 L1676.7,131.6 L1675.4,129.6 L1674.6,126.6 L1675.4,123.6 L1676.7,120.3 L1681.9,120.3 L1680.6,123.0 L1685.0,123.3 L1684.5,124.8 L1682.4,126.9 L1683.2,128.1 L1685.5,129.3 L1686.3,131.6 L1688.7,132.8 L1690.0,135.2 L1690.5,137.0 L1694.1,138.5 L1693.3,142.3 L1688.4,143.5 L1684.5,144.1 L1680.6,144.1 L1678.0,145.0 L1674.9,145.6ZM1668.9,140.6 L1665.0,141.1 L1662.9,140.0 L1664.2,136.1 L1663.7,133.4 L1667.6,132.2 L1669.4,130.4 L1672.8,130.4 L1674.9,131.3 L1674.1,132.5 L1673.6,135.5 L1674.1,139.4ZM1719.7,128.1 L1722.5,128.1 L1722.3,129.6 L1718.3,130.1ZM1715.7,129.6 L1717.8,129.3 L1717.8,131.0 L1715.2,130.7ZM1736.8,123.6 L1738.4,122.4 L1738.9,123.6 L1737.1,125.1ZM1722.0,182.2 L1724.3,181.0 L1730.3,180.7 L1729.0,184.5 L1727.5,185.4 L1722.8,182.8ZM1711.6,178.6 L1711.1,173.8 L1712.6,172.1 L1714.7,172.6 L1715.0,175.6 L1714.4,178.3ZM1712.1,171.5 L1712.1,168.5 L1713.9,166.7 L1714.6,169.4 L1713.7,171.5ZM1750.9,189.6 L1753.5,189.3 L1758.2,189.6 L1756.1,190.5 L1752.2,190.2ZM1773.8,191.4 L1774.3,190.2 L1776.9,189.6 L1779.8,188.4 L1778.2,190.8 L1775.6,191.7ZM1717.8,58.2 L1721.0,57.3 L1734.0,56.7 L1736.6,57.6 L1744.4,60.6 L1739.2,62.1 L1734.0,65.1 L1731.4,67.1 L1723.6,62.7 L1718.3,60.3ZM1747.0,55.3 L1760.0,56.7 L1747.0,58.8 L1737.9,57.3ZM1829.0,79.0 L1830.3,76.1 L1835.5,73.1 L1846.0,68.0 L1859.0,65.7 L1868.1,65.7 L1864.2,67.1 L1851.2,70.1 L1843.4,73.1 L1836.8,76.1 L1834.2,79.0 L1839.5,83.5 L1836.8,84.7 L1827.7,84.1 L1825.1,82.0ZM1814.7,53.8 L1825.1,52.9 L1840.8,52.0 L1851.2,54.4 L1846.0,55.8 L1832.9,56.7 L1819.9,56.1 L1812.1,55.3ZM1934.5,56.7 L1942.3,54.7 L1955.3,55.3 L1960.6,58.8 L1950.1,61.2 L1937.1,59.7ZM2046.5,68.6 L2054.3,68.0 L2062.1,70.1 L2054.3,73.1 L2043.9,71.6ZM1220.9,83.5 L1226.1,82.0 L1227.4,83.5 L1223.5,84.1ZM1814.7,89.4 L1818.6,87.9 L1820.4,89.4 L1817.3,90.3ZM1844.7,84.1 L1847.3,85.3 L1842.1,86.5ZM2030.9,192.0 L2033.5,189.6 L2038.7,189.0 L2043.9,187.5 L2046.0,183.6 L2050.4,183.6 L2053.0,181.0 L2054.3,177.1 L2054.3,173.2 L2057.7,171.5 L2058.2,174.1 L2059.5,176.8 L2058.5,179.2 L2056.9,181.6 L2055.9,185.1 L2056.4,188.4 L2053.8,190.5 L2051.2,191.7 L2046.5,191.4 L2046.0,192.6 L2041.8,194.0 L2041.3,191.7 L2037.4,192.6 L2033.5,194.0 L2030.6,193.5ZM2054.3,168.8 L2055.1,166.1 L2058.0,165.2 L2059.0,159.3 L2066.0,163.7 L2068.6,165.8 L2062.9,169.7 L2057.4,170.3 L2054.3,171.2ZM2030.9,193.7 L2033.5,196.4 L2031.7,201.2 L2029.6,201.8 L2027.5,195.8ZM2036.1,192.9 L2040.5,192.9 L2039.2,195.5 L2034.8,195.5ZM2059.5,153.3 L2058.7,147.4 L2059.5,138.5 L2060.8,133.1 L2062.7,136.1 L2062.9,142.9 L2064.7,148.9 L2062.1,147.4 L2063.4,156.3 L2059.5,157.8ZM2003.8,221.7 L2006.1,219.3 L2007.2,221.4 L2004.8,226.7 L2004.1,229.1 L2002.5,226.1ZM1974.1,235.1 L1977.5,234.8 L1978.8,236.0 L1977.5,238.9 L1975.1,240.4 L1972.5,237.4ZM1898.1,265.4 L1900.7,268.0 L1902.7,273.7 L1899.6,277.0 L1897.8,275.2 L1897.5,270.7ZM2002.2,239.5 L2008.0,239.5 L2007.4,244.0 L2006.1,248.4 L2008.7,252.9 L2012.6,255.9 L2010.0,255.9 L2006.1,253.5 L2003.8,252.3 L2002.2,247.5ZM2007.4,273.7 L2011.3,271.3 L2016.6,266.3 L2019.2,272.2 L2016.6,277.6 L2012.6,275.2ZM2007.4,260.3 L2011.3,261.8 L2016.6,260.3 L2015.2,264.8 L2011.3,266.3 L2008.7,264.8ZM2003.0,254.4 L2006.1,255.3 L2005.4,257.9 L2003.5,257.4ZM1998.3,266.3 L2001.7,260.9 L2000.9,263.3 L1994.9,269.5ZM1973.6,290.0 L1975.1,288.6 L1978.8,288.6 L1984.0,285.0 L1987.9,281.1 L1991.8,276.7 L1994.4,273.7 L1998.3,278.2 L1999.6,279.6 L1997.0,281.7 L1996.5,288.6 L1999.6,291.5 L1995.7,294.5 L1993.1,299.0 L1993.1,304.9 L1987.9,305.8 L1984.0,304.0 L1980.1,303.4 L1976.7,303.1 L1974.9,297.5 L1973.6,293.0ZM1937.9,277.9 L1943.6,279.0 L1946.8,283.2 L1951.4,288.6 L1959.3,296.0 L1961.9,299.0 L1965.8,303.4 L1965.2,311.7 L1961.9,311.7 L1956.1,306.4 L1952.7,301.9 L1950.1,297.5 L1947.5,293.0 L1946.2,289.2 L1942.3,284.1ZM1963.7,314.7 L1967.1,312.3 L1971.8,313.2 L1977.5,313.8 L1982.7,314.7 L1987.9,317.7 L1987.1,320.4 L1978.8,318.9 L1971.0,317.7 L1965.8,316.5ZM1999.1,303.4 L2000.9,300.4 L2002.2,293.9 L2004.8,290.6 L2013.9,293.0 L2015.2,290.0 L2010.0,293.0 L2003.5,293.0 L2004.8,298.4 L2010.8,297.5 L2006.1,300.4 L2009.5,307.9 L2006.1,307.9 L2003.0,303.4 L2003.5,310.8 L2000.9,310.8ZM2030.9,297.5 L2034.8,295.7 L2039.2,297.5 L2042.6,304.3 L2049.1,299.6 L2056.9,302.2 L2066.0,305.8 L2069.9,310.8 L2073.8,312.9 L2074.6,318.3 L2080.4,325.1 L2073.8,324.5 L2069.9,318.3 L2064.7,317.7 L2062.1,321.2 L2056.9,321.5 L2051.7,318.6 L2049.1,319.5 L2047.8,310.8 L2041.3,307.6 L2037.4,305.8 L2033.5,302.8 L2030.9,299.0ZM2012.6,324.5 L2015.2,321.2 L2021.2,319.5 L2016.6,322.7ZM1989.2,319.5 L1993.1,319.2 L1999.6,319.8 L2007.4,319.2 L2008.7,320.7 L2000.9,321.0 L1993.1,321.0ZM2021.8,291.5 L2024.4,288.6 L2023.1,296.0 L2021.8,296.0ZM2023.1,303.4 L2029.6,304.0 L2028.3,305.8 L2023.6,304.9ZM2076.5,310.8 L2083.0,307.3 L2086.1,307.3 L2083.0,310.8 L2079.1,312.9ZM2097.3,315.3 L2103.8,318.3 L2109.0,323.6 L2106.4,323.6 L2099.9,319.2ZM1818.1,330.2 L1821.2,340.6 L1819.4,345.0 L1816.0,355.4 L1812.1,368.8 L1806.9,370.3 L1803.8,364.3 L1803.0,358.4 L1805.6,352.5 L1804.3,345.0 L1810.8,341.5 L1814.7,334.6ZM2139.5,396.7 L2144.2,401.5 L2146.8,405.9 L2154.6,406.5 L2150.7,411.0 L2148.1,417.8 L2144.9,417.2 L2144.2,412.8 L2142.3,411.0 L2144.7,405.9 L2140.3,399.4ZM2139.5,414.9 L2143.6,418.4 L2141.6,422.3 L2139.7,424.7 L2135.8,426.8 L2134.0,430.9 L2129.8,433.0 L2123.3,431.2 L2124.6,428.2 L2128.0,425.3 L2133.8,422.3 L2136.4,418.7ZM2066.3,415.5 L2075.9,416.1 L2075.2,422.9 L2072.0,424.1 L2067.9,419.9ZM1398.0,61.8 L1408.4,62.7 L1405.8,64.8 L1395.4,64.2ZM1398.0,60.3 L1403.2,59.7 L1405.8,61.2 L1400.6,62.1ZM1416.2,63.3 L1418.8,64.8 L1413.6,65.1ZM1529.5,96.9 L1526.9,99.8 L1524.3,101.3 L1520.4,103.4 L1521.7,106.4 L1519.1,108.8 L1512.6,108.5 L1503.5,105.8 L1498.3,102.8 L1487.9,103.4 L1486.0,100.7 L1495.7,98.3 L1498.3,93.9 L1493.1,91.5 L1487.9,87.9 L1481.3,87.4 L1476.1,87.1 L1469.6,85.6 L1460.5,85.0 L1456.6,82.0 L1460.5,76.1 L1468.3,76.1 L1480.0,75.5 L1489.2,78.4 L1495.7,79.6 L1502.2,81.7 L1507.4,84.1 L1512.6,85.9 L1515.2,88.5 L1516.5,90.9 L1523.0,93.9 L1526.9,96.0ZM1425.4,89.4 L1418.8,90.9 L1411.0,90.3 L1404.5,90.0 L1395.4,90.9 L1388.9,88.8 L1382.4,87.9 L1383.7,85.0 L1392.8,82.6 L1381.1,82.0 L1381.1,79.0 L1390.2,76.7 L1400.6,78.1 L1409.7,76.7 L1416.2,79.0 L1421.4,85.0 L1426.7,86.5ZM1362.8,76.1 L1365.5,73.7 L1372.0,73.4 L1377.2,73.7 L1383.7,74.0 L1386.3,75.8 L1388.9,76.7 L1385.0,79.0 L1379.8,80.8 L1374.6,82.0 L1369.4,83.2 L1365.5,83.5 L1362.1,80.8ZM1455.3,65.7 L1457.9,62.7 L1450.1,59.7 L1441.0,56.7 L1447.5,53.8 L1455.3,50.8 L1481.3,47.8 L1507.4,47.8 L1528.2,49.3 L1528.2,51.4 L1520.4,53.8 L1512.6,56.7 L1502.2,59.7 L1491.8,61.2 L1486.6,66.3 L1478.7,68.0 L1465.7,67.4 L1455.3,67.1ZM1481.3,73.1 L1470.9,73.1 L1460.5,73.1 L1450.1,71.9 L1439.7,69.8 L1447.5,67.7 L1457.9,67.1 L1470.9,67.7 L1480.0,70.1ZM1446.2,80.8 L1441.5,79.9 L1442.3,76.1 L1446.2,74.3 L1452.7,74.6 L1454.0,76.1 L1448.8,79.0ZM1435.8,82.0 L1429.3,80.5 L1422.7,79.0 L1428.0,75.2 L1434.5,74.6 L1438.4,77.5ZM1383.7,68.6 L1387.6,66.8 L1395.4,67.1 L1403.2,66.5 L1408.4,66.8 L1414.9,68.6 L1413.6,71.6 L1405.8,72.8 L1392.8,72.8 L1385.0,70.1ZM1450.1,62.7 L1442.3,59.7 L1437.1,55.3 L1450.1,52.9 L1459.2,56.7ZM1434.5,71.6 L1426.7,70.1 L1429.3,67.1 L1437.1,67.7ZM1382.4,68.6 L1372.0,69.2 L1369.4,66.5 L1379.8,64.8ZM1463.1,100.7 L1465.7,98.3 L1469.6,99.8 L1473.5,101.3 L1480.0,102.8 L1478.7,105.8 L1464.4,102.8ZM1535.0,150.7 L1537.3,148.9 L1540.5,144.1 L1545.2,141.1 L1543.9,141.4 L1545.2,146.5 L1549.8,147.7 L1550.4,150.4 L1552.4,153.3 L1550.1,156.0 L1545.2,154.8 L1543.9,153.0 L1535.3,153.0ZM1368.6,150.7 L1364.7,150.1 L1360.2,147.4 L1355.3,143.5 L1358.9,144.1 L1364.2,145.9 L1367.0,148.3ZM1433.2,88.2 L1437.1,87.1 L1441.0,87.9 L1439.7,90.0 L1433.2,90.9ZM1441.0,70.1 L1446.2,70.1 L1446.2,71.9 L1439.7,72.5ZM1481.3,75.8 L1489.2,75.8 L1490.5,78.4 L1481.3,78.1ZM1472.2,107.3 L1477.4,107.3 L1478.7,108.8 L1473.5,108.8ZM1480.0,109.0 L1482.1,108.8 L1482.7,110.5 L1480.0,110.5ZM1487.9,92.4 L1491.8,91.8 L1492.3,93.9 L1487.9,93.9ZM1418.8,61.2 L1429.3,60.3 L1429.3,64.2 L1418.8,64.2ZM1439.7,61.2 L1442.3,63.3 L1437.1,64.2ZM1521.7,148.3 L1528.2,147.7 L1529.0,148.6 L1524.3,148.9ZM1522.0,156.0 L1528.2,156.3 L1526.9,157.5 L1523.0,156.9ZM1498.3,172.9 L1502.4,172.4 L1502.2,172.6 L1497.0,173.8ZM1343.3,135.5 L1344.6,133.7 L1348.0,134.0 L1345.9,136.4ZM1287.3,122.7 L1291.2,122.1 L1292.5,123.6 L1287.3,124.2ZM1243.0,105.2 L1248.3,105.5 L1250.1,106.7 L1243.0,106.4ZM1430.6,67.4 L1434.5,68.9 L1429.3,69.8ZM1457.9,67.7 L1465.7,66.8 L1470.9,68.6 L1463.1,69.8ZM1762.4,169.7 L1762.6,166.7 L1764.4,162.8 L1766.8,161.4 L1767.8,159.3 L1769.7,156.3 L1773.0,156.0 L1777.2,157.8 L1774.3,159.9 L1776.9,162.5 L1781.6,160.8 L1784.8,159.9 L1786.8,160.8 L1790.0,162.5 L1793.9,165.5 L1797.8,168.2 L1798.0,170.9 L1795.2,172.6 L1790.0,172.9 L1784.8,171.8 L1781.4,169.7 L1776.9,169.7 L1771.7,172.1 L1765.2,172.1 L1762.6,172.1ZM1782.2,156.3 L1787.4,154.5 L1792.1,154.2 L1787.4,157.2 L1782.2,159.9 L1780.9,158.7ZM1817.3,156.3 L1823.8,154.8 L1828.3,155.4 L1827.7,159.9 L1823.0,162.2 L1823.3,166.4 L1827.0,169.7 L1827.5,172.6 L1829.8,173.8 L1827.7,178.0 L1830.1,183.3 L1825.1,185.4 L1821.2,184.5 L1817.3,182.8 L1817.1,180.1 L1818.6,174.7 L1816.0,170.3 L1813.4,166.7 L1812.9,163.1 L1811.6,161.4 L1813.4,158.7 L1816.0,157.2ZM1842.1,159.3 L1844.7,156.3 L1848.6,156.0 L1850.7,159.3 L1847.3,162.8 L1844.1,162.2ZM1960.0,141.1 L1964.5,138.5 L1969.7,135.5 L1974.9,129.0 L1973.6,134.0 L1968.4,138.5 L1963.2,141.4ZM1452.7,153.9 L1456.6,151.8 L1459.2,150.7 L1463.1,150.1 L1466.2,151.8 L1468.8,153.3 L1469.4,156.3 L1468.3,156.3 L1461.8,156.3 L1459.2,153.9 L1454.0,156.0 L1449.8,155.4ZM1461.0,170.6 L1461.8,166.7 L1460.8,162.2 L1461.8,159.3 L1464.9,158.1 L1468.3,158.4 L1467.0,160.8 L1464.9,163.7 L1464.4,168.2 L1463.1,170.6ZM1469.4,158.1 L1470.9,157.2 L1477.4,157.8 L1480.0,159.3 L1480.6,162.2 L1478.7,161.4 L1476.9,163.7 L1474.8,166.7 L1474.3,163.7 L1472.2,162.2 L1472.5,159.9ZM1474.8,169.7 L1480.0,167.9 L1484.0,167.0 L1478.7,170.0 L1476.1,171.2 L1472.5,170.6ZM1482.9,164.9 L1485.3,164.0 L1490.5,163.1 L1491.2,165.2 L1486.6,165.5 L1481.9,165.8ZM1436.3,144.1 L1435.0,140.0 L1431.3,136.4 L1432.4,134.6 L1435.8,137.0 L1438.9,141.4 L1437.1,144.7ZM1386.3,111.7 L1391.5,108.8 L1398.0,108.5 L1404.5,108.2 L1400.6,109.6 L1395.4,111.4 L1390.2,113.5 L1385.0,113.2ZM1364.2,101.3 L1369.4,98.9 L1374.6,95.4 L1379.8,96.0 L1381.1,98.3 L1375.9,100.7 L1369.4,101.6ZM1256.1,134.9 L1258.7,133.7 L1260.5,134.3ZM1249.6,135.5 L1252.2,134.3 L1254.0,134.9ZM1243.0,136.4 L1245.6,135.2 L1247.5,135.8ZM1235.2,137.3 L1237.8,136.1 L1239.7,136.7ZM1227.4,138.5 L1230.0,137.3 L1231.8,137.9ZM1219.6,139.4 L1222.2,138.2 L1224.0,138.8ZM1211.8,139.7 L1214.4,138.5 L1216.2,139.1ZM1204.0,139.1 L1206.6,137.9 L1208.4,138.5ZM1196.2,137.9 L1198.8,136.7 L1200.6,137.3ZM1188.4,137.0 L1191.0,135.8 L1192.8,136.4ZM1180.5,136.4 L1183.1,135.2 L1185.0,135.8ZM1283.2,236.2 L1284.7,235.2 L1286.3,236.2 L1284.7,237.3ZM1279.2,232.1 L1280.8,231.0 L1282.4,232.1 L1280.8,233.2ZM1276.6,230.9 L1278.2,229.8 L1279.8,230.9 L1278.2,232.0ZM1272.7,229.1 L1274.3,228.0 L1275.9,229.1 L1274.3,230.2ZM1298.8,346.8 L1300.3,345.7 L1301.9,346.8 L1300.3,347.9ZM1293.6,343.5 L1295.1,342.5 L1296.7,343.5 L1295.1,344.6ZM1323.5,320.7 L1325.1,319.6 L1326.6,320.7 L1325.1,321.7ZM1326.1,323.3 L1327.7,322.3 L1329.3,323.3 L1327.7,324.4ZM1310.5,339.1 L1312.1,338.0 L1313.6,339.1 L1312.1,340.1ZM1305.3,340.6 L1306.9,339.5 L1308.4,340.6 L1306.9,341.6ZM1322.2,348.0 L1323.8,346.9 L1325.3,348.0 L1323.8,349.1ZM1333.9,349.5 L1335.5,348.4 L1337.1,349.5 L1335.5,350.6ZM1337.1,362.9 L1338.6,361.8 L1340.2,362.9 L1338.6,363.9ZM1349.6,368.8 L1351.1,367.7 L1352.7,368.8 L1351.1,369.9ZM1403.2,375.0 L1404.8,374.0 L1406.3,375.0 L1404.8,376.1ZM1271.4,357.5 L1273.0,356.4 L1274.6,357.5 L1273.0,358.6ZM1240.7,335.5 L1242.3,334.4 L1243.8,335.5 L1242.3,336.6ZM1231.8,357.5 L1233.4,356.4 L1235.0,357.5 L1233.4,358.6ZM1224.6,347.4 L1226.1,346.3 L1227.7,347.4 L1226.1,348.5ZM1220.6,343.5 L1222.2,342.5 L1223.8,343.5 L1222.2,344.6ZM2150.4,347.4 L2152.0,346.3 L2153.5,347.4 L2152.0,348.5ZM2123.1,340.0 L2124.6,338.9 L2126.2,340.0 L2124.6,341.0ZM2125.7,344.1 L2127.2,343.1 L2128.8,344.1 L2127.2,345.2ZM2120.5,358.4 L2122.0,357.3 L2123.6,358.4 L2122.0,359.5ZM2099.6,274.0 L2101.2,272.9 L2102.8,274.0 L2101.2,275.1ZM2083.5,272.5 L2085.0,271.4 L2086.6,272.5 L2085.0,273.6ZM2038.4,272.2 L2040.0,271.1 L2041.6,272.2 L2040.0,273.3ZM2067.6,249.3 L2069.2,248.3 L2070.7,249.3 L2069.2,250.4ZM2065.3,254.4 L2066.8,253.3 L2068.4,254.4 L2066.8,255.4ZM2133.5,273.7 L2135.1,272.6 L2136.6,273.7 L2135.1,274.8ZM2136.1,290.0 L2137.7,289.0 L2139.2,290.0 L2137.7,291.1ZM2138.7,297.5 L2140.3,296.4 L2141.8,297.5 L2140.3,298.5ZM1278.2,288.9 L1279.8,287.8 L1281.3,288.9 L1279.8,289.9ZM1271.4,296.0 L1273.0,294.9 L1274.6,296.0 L1273.0,297.1ZM1229.8,425.3 L1231.3,424.2 L1232.9,425.3 L1231.3,426.3ZM1529.3,251.1 L1530.8,250.0 L1532.4,251.1 L1530.8,252.2ZM1528.5,246.4 L1530.1,245.3 L1531.6,246.4 L1530.1,247.4ZM1526.7,243.4 L1528.2,242.3 L1529.8,243.4 L1528.2,244.5ZM1514.9,240.4 L1516.5,239.3 L1518.1,240.4 L1516.5,241.5ZM1486.8,240.4 L1488.4,239.3 L1489.9,240.4 L1488.4,241.5ZM1528.0,262.7 L1529.5,261.6 L1531.1,262.7 L1529.5,263.8ZM1486.3,222.6 L1487.9,221.5 L1489.4,222.6 L1487.9,223.6ZM1485.0,218.7 L1486.6,217.6 L1488.1,218.7 L1486.6,219.8ZM1487.6,215.7 L1489.2,214.7 L1490.7,215.7 L1489.2,216.8ZM1490.7,224.4 L1492.3,223.3 L1493.8,224.4 L1492.3,225.4ZM1519.4,198.5 L1520.9,197.4 L1522.5,198.5 L1520.9,199.6ZM1621.7,182.2 L1623.3,181.1 L1624.9,182.2 L1623.3,183.2ZM1615.2,179.8 L1616.8,178.7 L1618.3,179.8 L1616.8,180.9ZM1644.1,197.3 L1645.7,196.2 L1647.2,197.3 L1645.7,198.4ZM1647.8,211.3 L1649.3,210.2 L1650.9,211.3 L1649.3,212.4ZM1651.7,209.8 L1653.2,208.7 L1654.8,209.8 L1653.2,210.9ZM1641.8,209.5 L1643.3,208.4 L1644.9,209.5 L1643.3,210.6ZM1625.6,246.9 L1627.2,245.9 L1628.8,246.9 L1627.2,248.0ZM1626.9,249.9 L1628.5,248.9 L1630.1,249.9 L1628.5,251.0ZM1673.3,341.8 L1674.9,340.7 L1676.4,341.8 L1674.9,342.8ZM1650.6,318.3 L1652.2,317.2 L1653.8,318.3 L1652.2,319.3ZM1656.1,404.8 L1657.7,403.7 L1659.2,404.8 L1657.7,405.8ZM1832.7,356.9 L1834.2,355.8 L1835.8,356.9 L1834.2,358.0ZM1837.9,354.5 L1839.5,353.5 L1841.0,354.5 L1839.5,355.6ZM1803.5,330.8 L1805.1,329.7 L1806.6,330.8 L1805.1,331.8ZM1832.7,308.2 L1834.2,307.1 L1835.8,308.2 L1834.2,309.2ZM1879.6,282.0 L1881.1,280.9 L1882.7,282.0 L1881.1,283.1ZM1878.3,296.3 L1879.8,295.2 L1881.4,296.3 L1879.8,297.4ZM1876.7,316.2 L1878.3,315.1 L1879.8,316.2 L1878.3,317.3ZM1929.6,258.8 L1931.1,257.8 L1932.7,258.8 L1931.1,259.9ZM1930.3,270.7 L1931.9,269.7 L1933.5,270.7 L1931.9,271.8ZM1870.4,441.0 L1872.0,439.9 L1873.6,441.0 L1872.0,442.1ZM1823.0,432.4 L1824.6,431.3 L1826.2,432.4 L1824.6,433.5ZM1786.6,433.6 L1788.1,432.5 L1789.7,433.6 L1788.1,434.7ZM1591.8,455.9 L1593.3,454.8 L1594.9,455.9 L1593.3,456.9ZM1534.5,448.2 L1536.0,447.1 L1537.6,448.2 L1536.0,449.2ZM1531.9,447.6 L1533.4,446.5 L1535.0,447.6 L1533.4,448.6ZM1619.6,466.3 L1621.2,465.2 L1622.8,466.3 L1621.2,467.4ZM1569.6,474.6 L1571.2,473.5 L1572.8,474.6 L1571.2,475.7ZM1535.8,479.4 L1537.3,478.3 L1538.9,479.4 L1537.3,480.4ZM1654.3,123.3 L1655.8,122.2 L1657.4,123.3 L1655.8,124.4ZM1669.9,110.2 L1671.5,109.2 L1673.0,110.2 L1671.5,111.3ZM1670.4,109.6 L1672.0,108.6 L1673.6,109.6 L1672.0,110.7ZM1684.8,115.3 L1686.3,114.2 L1687.9,115.3 L1686.3,116.4ZM1680.3,119.2 L1681.9,118.1 L1683.4,119.2 L1681.9,120.2ZM2013.7,320.1 L2015.2,319.0 L2016.8,320.1 L2015.2,321.1ZM2026.7,316.8 L2028.3,315.7 L2029.8,316.8 L2028.3,317.9ZM2037.1,312.3 L2038.7,311.3 L2040.3,312.3 L2038.7,313.4ZM2018.9,304.3 L2020.5,303.2 L2022.0,304.3 L2020.5,305.4ZM2017.6,304.9 L2019.2,303.8 L2020.7,304.9 L2019.2,306.0ZM2003.3,325.7 L2004.8,324.6 L2006.4,325.7 L2004.8,326.8ZM1998.1,323.3 L1999.6,322.3 L2001.2,323.3 L1999.6,324.4ZM1992.9,321.2 L1994.4,320.2 L1996.0,321.2 L1994.4,322.3ZM2049.1,313.8 L2050.7,312.7 L2052.2,313.8 L2050.7,314.9ZM2056.1,312.3 L2057.7,311.3 L2059.3,312.3 L2057.7,313.4ZM2084.0,322.7 L2085.6,321.7 L2087.1,322.7 L2085.6,323.8ZM2087.9,328.1 L2089.5,327.0 L2091.0,328.1 L2089.5,329.2ZM2093.1,313.2 L2094.7,312.2 L2096.2,313.2 L2094.7,314.3ZM2104.8,322.4 L2106.4,321.4 L2108.0,322.4 L2106.4,323.5ZM2110.1,325.7 L2111.6,324.6 L2113.2,325.7 L2111.6,326.8ZM2124.4,337.6 L2125.9,336.5 L2127.5,337.6 L2125.9,338.7ZM2151.7,351.0 L2153.3,349.9 L2154.8,351.0 L2153.3,352.0ZM1336.5,116.2 L1338.1,115.1 L1339.7,116.2 L1338.1,117.2ZM1362.6,146.5 L1364.2,145.4 L1365.7,146.5 L1364.2,147.6ZM1344.4,137.0 L1345.9,135.9 L1347.5,137.0 L1345.9,138.1ZM1345.7,139.1 L1347.2,138.0 L1348.8,139.1 L1347.2,140.1ZM1340.4,123.6 L1342.0,122.5 L1343.6,123.6 L1342.0,124.7ZM1291.0,123.6 L1292.5,122.5 L1294.1,123.6 L1292.5,124.7ZM1288.4,125.1 L1289.9,124.0 L1291.5,125.1 L1289.9,126.2ZM1248.0,106.4 L1249.6,105.3 L1251.1,106.4 L1249.6,107.4ZM1245.4,124.5 L1247.0,123.4 L1248.5,124.5 L1247.0,125.6ZM1237.6,114.7 L1239.1,113.6 L1240.7,114.7 L1239.1,115.8ZM2059.3,326.0 L2060.8,324.9 L2062.4,326.0 L2060.8,327.1ZM2026.2,328.7 L2027.8,327.6 L2029.3,328.7 L2027.8,329.7ZM2043.6,330.2 L2045.2,329.1 L2046.8,330.2 L2045.2,331.2ZM2046.2,400.9 L2047.8,399.8 L2049.4,400.9 L2047.8,402.0ZM2065.8,414.9 L2067.3,413.8 L2068.9,414.9 L2067.3,415.9Z" fill="none" stroke="#1a1a1a" stroke-width="1.5" stroke-linejoin="round"/>
<path d="M1398.0,61.8 L1408.4,62.7 L1405.8,64.8 L1395.4,64.2ZM1398.0,60.3 L1403.2,59.7 L1405.8,61.2 L1400.6,62.1ZM1416.2,63.3 L1418.8,64.8 L1413.6,65.1ZM1529.5,96.9 L1526.9,99.8 L1524.3,101.3 L1520.4,103.4 L1521.7,106.4 L1519.1,108.8 L1512.6,108.5 L1503.5,105.8 L1498.3,102.8 L1487.9,103.4 L1486.0,100.7 L1495.7,98.3 L1498.3,93.9 L1493.1,91.5 L1487.9,87.9 L1481.3,87.4 L1476.1,87.1 L1469.6,85.6 L1460.5,85.0 L1456.6,82.0 L1460.5,76.1 L1468.3,76.1 L1480.0,75.5 L1489.2,78.4 L1495.7,79.6 L1502.2,81.7 L1507.4,84.1 L1512.6,85.9 L1515.2,88.5 L1516.5,90.9 L1523.0,93.9 L1526.9,96.0ZM1425.4,89.4 L1418.8,90.9 L1411.0,90.3 L1404.5,90.0 L1395.4,90.9 L1388.9,88.8 L1382.4,87.9 L1383.7,85.0 L1392.8,82.6 L1381.1,82.0 L1381.1,79.0 L1390.2,76.7 L1400.6,78.1 L1409.7,76.7 L1416.2,79.0 L1421.4,85.0 L1426.7,86.5ZM1362.8,76.1 L1365.5,73.7 L1372.0,73.4 L1377.2,73.7 L1383.7,74.0 L1386.3,75.8 L1388.9,76.7 L1385.0,79.0 L1379.8,80.8 L1374.6,82.0 L1369.4,83.2 L1365.5,83.5 L1362.1,80.8ZM1455.3,65.7 L1457.9,62.7 L1450.1,59.7 L1441.0,56.7 L1447.5,53.8 L1455.3,50.8 L1481.3,47.8 L1507.4,47.8 L1528.2,49.3 L1528.2,51.4 L1520.4,53.8 L1512.6,56.7 L1502.2,59.7 L1491.8,61.2 L1486.6,66.3 L1478.7,68.0 L1465.7,67.4 L1455.3,67.1ZM1481.3,73.1 L1470.9,73.1 L1460.5,73.1 L1450.1,71.9 L1439.7,69.8 L1447.5,67.7 L1457.9,67.1 L1470.9,67.7 L1480.0,70.1ZM1446.2,80.8 L1441.5,79.9 L1442.3,76.1 L1446.2,74.3 L1452.7,74.6 L1454.0,76.1 L1448.8,79.0ZM1435.8,82.0 L1429.3,80.5 L1422.7,79.0 L1428.0,75.2 L1434.5,74.6 L1438.4,77.5ZM1383.7,68.6 L1387.6,66.8 L1395.4,67.1 L1403.2,66.5 L1408.4,66.8 L1414.9,68.6 L1413.6,71.6 L1405.8,72.8 L1392.8,72.8 L1385.0,70.1ZM1450.1,62.7 L1442.3,59.7 L1437.1,55.3 L1450.1,52.9 L1459.2,56.7ZM1434.5,71.6 L1426.7,70.1 L1429.3,67.1 L1437.1,67.7ZM1382.4,68.6 L1372.0,69.2 L1369.4,66.5 L1379.8,64.8ZM1463.1,100.7 L1465.7,98.3 L1469.6,99.8 L1473.5,101.3 L1480.0,102.8 L1478.7,105.8 L1464.4,102.8ZM1535.0,150.7 L1537.3,148.9 L1540.5,144.1 L1545.2,141.1 L1543.9,141.4 L1545.2,146.5 L1549.8,147.7 L1550.4,150.4 L1552.4,153.3 L1550.1,156.0 L1545.2,154.8 L1543.9,153.0 L1535.3,153.0ZM1368.6,150.7 L1364.7,150.1 L1360.2,147.4 L1355.3,143.5 L1358.9,144.1 L1364.2,145.9 L1367.0,148.3ZM1433.2,88.2 L1437.1,87.1 L1441.0,87.9 L1439.7,90.0 L1433.2,90.9ZM1441.0,70.1 L1446.2,70.1 L1446.2,71.9 L1439.7,72.5ZM1481.3,75.8 L1489.2,75.8 L1490.5,78.4 L1481.3,78.1ZM1472.2,107.3 L1477.4,107.3 L1478.7,108.8 L1473.5,108.8ZM1480.0,109.0 L1482.1,108.8 L1482.7,110.5 L1480.0,110.5ZM1487.9,92.4 L1491.8,91.8 L1492.3,93.9 L1487.9,93.9ZM1418.8,61.2 L1429.3,60.3 L1429.3,64.2 L1418.8,64.2ZM1439.7,61.2 L1442.3,63.3 L1437.1,64.2ZM1521.7,148.3 L1528.2,147.7 L1529.0,148.6 L1524.3,148.9ZM1522.0,156.0 L1528.2,156.3 L1526.9,157.5 L1523.0,156.9ZM1498.3,172.9 L1502.4,172.4 L1502.2,172.6 L1497.0,173.8ZM1343.3,135.5 L1344.6,133.7 L1348.0,134.0 L1345.9,136.4ZM1287.3,122.7 L1291.2,122.1 L1292.5,123.6 L1287.3,124.2ZM1243.0,105.2 L1248.3,105.5 L1250.1,106.7 L1243.0,106.4ZM1430.6,67.4 L1434.5,68.9 L1429.3,69.8ZM1457.9,67.7 L1465.7,66.8 L1470.9,68.6 L1463.1,69.8ZM1575.1,116.8 L1564.7,113.2 L1559.5,108.8 L1555.6,104.3 L1551.7,98.3 L1550.4,93.9 L1556.9,89.4 L1549.1,85.0 L1546.5,82.0 L1542.6,77.5 L1537.3,70.1 L1530.8,68.0 L1517.8,68.3 L1511.3,67.1 L1500.9,64.2 L1499.6,61.2 L1512.6,56.7 L1525.6,53.2 L1543.9,50.2 L1572.5,48.4 L1598.5,46.3 L1624.6,46.9 L1637.6,49.3 L1658.4,52.0 L1645.4,55.3 L1640.2,59.7 L1641.5,65.7 L1637.6,70.1 L1638.9,74.6 L1632.4,79.0 L1632.4,85.0 L1625.9,89.4 L1618.1,91.5 L1606.4,93.0 L1599.8,98.3 L1590.7,99.8 L1585.5,102.8 L1582.9,107.3 L1579.0,111.7ZM1717.8,58.2 L1721.0,57.3 L1734.0,56.7 L1736.6,57.6 L1744.4,60.6 L1739.2,62.1 L1734.0,65.1 L1731.4,67.1 L1723.6,62.7 L1718.3,60.3ZM1747.0,55.3 L1760.0,56.7 L1747.0,58.8 L1737.9,57.3ZM1829.0,79.0 L1830.3,76.1 L1835.5,73.1 L1846.0,68.0 L1859.0,65.7 L1868.1,65.7 L1864.2,67.1 L1851.2,70.1 L1843.4,73.1 L1836.8,76.1 L1834.2,79.0 L1839.5,83.5 L1836.8,84.7 L1827.7,84.1 L1825.1,82.0ZM1814.7,53.8 L1825.1,52.9 L1840.8,52.0 L1851.2,54.4 L1846.0,55.8 L1832.9,56.7 L1819.9,56.1 L1812.1,55.3ZM1934.5,56.7 L1942.3,54.7 L1955.3,55.3 L1960.6,58.8 L1950.1,61.2 L1937.1,59.7ZM1632.4,104.9 L1627.2,101.9 L1631.1,100.7 L1626.7,99.5 L1632.4,97.2 L1637.6,98.1 L1642.8,97.8 L1648.0,96.9 L1651.9,98.3 L1654.3,101.0 L1651.2,103.4 L1645.4,104.9 L1640.2,106.1 L1635.0,104.9Z" fill="none" stroke="#1a1a1a" stroke-width="2.2" stroke-linejoin="round"/>
<line x1="1304.4" y1="30.1" x2="1344.9" y2="44.7" stroke="#0d0d0d" stroke-width="5.0" stroke-linecap="round"/>
<path d="M1350.5,46.8 L1343.6,48.1 L1346.1,41.3Z" fill="#0d0d0d"/>
<line x1="1373.5" y1="42.9" x2="1393.1" y2="44.9" stroke="#0d0d0d" stroke-width="5.0" stroke-linecap="round"/>
<path d="M1399.1,45.5 L1392.8,48.5 L1393.5,41.3Z" fill="#0d0d0d"/>
<line x1="1414.5" y1="45.5" x2="1431.5" y2="46.4" stroke="#0d0d0d" stroke-width="5.0" stroke-linecap="round"/>
<path d="M1437.5,46.8 L1431.3,50.0 L1431.7,42.8Z" fill="#0d0d0d"/>
<line x1="1447.7" y1="42.9" x2="1503.2" y2="37.1" stroke="#0d0d0d" stroke-width="5.0" stroke-linecap="round"/>
<path d="M1509.2,36.5 L1503.6,40.7 L1502.8,33.6Z" fill="#0d0d0d"/>
<line x1="1578.2" y1="32.7" x2="1605.5" y2="35.8" stroke="#0d0d0d" stroke-width="5.0" stroke-linecap="round"/>
<path d="M1611.5,36.5 L1605.1,39.4 L1606.0,32.3Z" fill="#0d0d0d"/>
<line x1="1667.8" y1="40.4" x2="1682.3" y2="40.4" stroke="#0d0d0d" stroke-width="5.0" stroke-linecap="round"/>
<path d="M1688.3,40.4 L1682.3,44.0 L1682.3,36.8Z" fill="#0d0d0d"/>
<line x1="1278.9" y1="37.8" x2="1297.9" y2="58.9" stroke="#0d0d0d" stroke-width="5.0" stroke-linecap="round"/>
<path d="M1301.9,63.4 L1295.2,61.3 L1300.5,56.5Z" fill="#0d0d0d"/>
<line x1="1307.0" y1="67.2" x2="1324.0" y2="67.2" stroke="#0d0d0d" stroke-width="5.0" stroke-linecap="round"/>
<path d="M1330.0,67.2 L1324.0,70.8 L1324.0,63.6Z" fill="#0d0d0d"/>
<line x1="1339.0" y1="63.4" x2="1358.2" y2="75.5" stroke="#0d0d0d" stroke-width="5.0" stroke-linecap="round"/>
<path d="M1363.3,78.7 L1356.3,78.6 L1360.1,72.5Z" fill="#0d0d0d"/>
<line x1="1509.2" y1="53.1" x2="1567.1" y2="48.5" stroke="#0d0d0d" stroke-width="5.0" stroke-linecap="round"/>
<path d="M1573.1,48.0 L1567.4,52.1 L1566.9,44.9Z" fill="#0d0d0d"/>
<line x1="1573.1" y1="76.2" x2="1628.8" y2="57.6" stroke="#0d0d0d" stroke-width="5.0" stroke-linecap="round"/>
<path d="M1634.5,55.7 L1630.0,61.0 L1627.7,54.2Z" fill="#0d0d0d"/>
<line x1="1642.2" y1="32.7" x2="1644.5" y2="83.0" stroke="#0d0d0d" stroke-width="5.0" stroke-linecap="round"/>
<path d="M1644.8,89.0 L1640.9,83.1 L1648.1,82.8Z" fill="#0d0d0d"/>
<line x1="1660.1" y1="78.7" x2="1672.8" y2="71.5" stroke="#0d0d0d" stroke-width="5.0" stroke-linecap="round"/>
<path d="M1678.0,68.5 L1674.6,74.6 L1671.0,68.4Z" fill="#0d0d0d"/>
<line x1="1289.1" y1="89.0" x2="1299.1" y2="90.6" stroke="#0d0d0d" stroke-width="5.0" stroke-linecap="round"/>
<path d="M1304.4,91.5 L1298.5,94.2 L1299.7,87.1Z" fill="#0d0d0d"/>
<line x1="1327.5" y1="96.6" x2="1334.1" y2="95.0" stroke="#0d0d0d" stroke-width="5.0" stroke-linecap="round"/>
<path d="M1337.7,94.1 L1335.0,98.5 L1333.3,91.5Z" fill="#0d0d0d"/>
<line x1="1365.9" y1="96.6" x2="1393.2" y2="100.9" stroke="#0d0d0d" stroke-width="5.0" stroke-linecap="round"/>
<path d="M1399.1,101.8 L1392.6,104.4 L1393.7,97.3Z" fill="#0d0d0d"/>
<line x1="1539.9" y1="68.5" x2="1557.2" y2="96.7" stroke="#0d0d0d" stroke-width="5.0" stroke-linecap="round"/>
<path d="M1560.3,101.8 L1554.1,98.5 L1560.2,94.8Z" fill="#0d0d0d"/>
<line x1="1565.4" y1="99.2" x2="1592.9" y2="92.9" stroke="#0d0d0d" stroke-width="5.0" stroke-linecap="round"/>
<path d="M1598.7,91.5 L1593.7,96.4 L1592.1,89.4Z" fill="#0d0d0d"/>
<line x1="1675.5" y1="101.8" x2="1687.4" y2="101.8" stroke="#0d0d0d" stroke-width="5.0" stroke-linecap="round"/>
<path d="M1693.4,101.8 L1687.4,105.4 L1687.4,98.2Z" fill="#0d0d0d"/>
<line x1="1230.2" y1="135.0" x2="1255.0" y2="133.0" stroke="#0d0d0d" stroke-width="5.0" stroke-linecap="round"/>
<path d="M1260.9,132.5 L1255.3,136.6 L1254.7,129.4Z" fill="#0d0d0d"/>
<line x1="1276.3" y1="124.8" x2="1301.0" y2="126.9" stroke="#0d0d0d" stroke-width="5.0" stroke-linecap="round"/>
<path d="M1307.0,127.4 L1300.7,130.4 L1301.3,123.3Z" fill="#0d0d0d"/>
<line x1="1327.5" y1="127.4" x2="1382.9" y2="132.0" stroke="#0d0d0d" stroke-width="5.0" stroke-linecap="round"/>
<path d="M1388.9,132.5 L1382.6,135.6 L1383.2,128.4Z" fill="#0d0d0d"/>
<line x1="1404.2" y1="129.9" x2="1459.7" y2="132.2" stroke="#0d0d0d" stroke-width="5.0" stroke-linecap="round"/>
<path d="M1465.6,132.5 L1459.5,135.8 L1459.8,128.6Z" fill="#0d0d0d"/>
<line x1="1475.9" y1="127.4" x2="1490.4" y2="127.4" stroke="#0d0d0d" stroke-width="5.0" stroke-linecap="round"/>
<path d="M1496.4,127.4 L1490.4,131.0 L1490.4,123.8Z" fill="#0d0d0d"/>
<line x1="1537.3" y1="114.6" x2="1551.9" y2="118.2" stroke="#0d0d0d" stroke-width="5.0" stroke-linecap="round"/>
<path d="M1557.8,119.7 L1551.1,121.7 L1552.8,114.7Z" fill="#0d0d0d"/>
<line x1="1583.4" y1="132.5" x2="1603.2" y2="138.4" stroke="#0d0d0d" stroke-width="5.0" stroke-linecap="round"/>
<path d="M1608.9,140.1 L1602.2,141.9 L1604.2,135.0Z" fill="#0d0d0d"/>
<line x1="1616.6" y1="129.9" x2="1639.0" y2="136.0" stroke="#0d0d0d" stroke-width="5.0" stroke-linecap="round"/>
<path d="M1644.8,137.6 L1638.0,139.5 L1639.9,132.5Z" fill="#0d0d0d"/>
<line x1="1649.9" y1="124.8" x2="1674.6" y2="126.9" stroke="#0d0d0d" stroke-width="5.0" stroke-linecap="round"/>
<path d="M1680.6,127.4 L1674.3,130.4 L1674.9,123.3Z" fill="#0d0d0d"/>
<line x1="1230.2" y1="152.9" x2="1236.9" y2="152.9" stroke="#0d0d0d" stroke-width="5.0" stroke-linecap="round"/>
<path d="M1240.5,152.9 L1236.9,156.5 L1236.9,149.3Z" fill="#0d0d0d"/>
<line x1="1258.4" y1="147.8" x2="1283.2" y2="152.0" stroke="#0d0d0d" stroke-width="5.0" stroke-linecap="round"/>
<path d="M1289.1,152.9 L1282.6,155.5 L1283.8,148.4Z" fill="#0d0d0d"/>
<line x1="1301.9" y1="147.8" x2="1326.6" y2="150.9" stroke="#0d0d0d" stroke-width="5.0" stroke-linecap="round"/>
<path d="M1332.6,151.7 L1326.2,154.5 L1327.1,147.3Z" fill="#0d0d0d"/>
<line x1="1340.3" y1="152.9" x2="1362.5" y2="157.0" stroke="#0d0d0d" stroke-width="5.0" stroke-linecap="round"/>
<path d="M1368.4,158.1 L1361.9,160.5 L1363.2,153.4Z" fill="#0d0d0d"/>
<line x1="1381.2" y1="150.4" x2="1408.6" y2="156.7" stroke="#0d0d0d" stroke-width="5.0" stroke-linecap="round"/>
<path d="M1414.5,158.1 L1407.8,160.2 L1409.4,153.2Z" fill="#0d0d0d"/>
<line x1="1419.6" y1="158.1" x2="1444.3" y2="160.1" stroke="#0d0d0d" stroke-width="5.0" stroke-linecap="round"/>
<path d="M1450.3,160.6 L1444.0,163.7 L1444.6,156.5Z" fill="#0d0d0d"/>
<line x1="1458.0" y1="152.9" x2="1483.0" y2="161.3" stroke="#0d0d0d" stroke-width="5.0" stroke-linecap="round"/>
<path d="M1488.7,163.2 L1481.8,164.7 L1484.1,157.9Z" fill="#0d0d0d"/>
<line x1="1491.2" y1="147.8" x2="1544.1" y2="152.4" stroke="#0d0d0d" stroke-width="5.0" stroke-linecap="round"/>
<path d="M1550.1,152.9 L1543.8,156.0 L1544.4,148.8Z" fill="#0d0d0d"/>
<line x1="1552.7" y1="140.1" x2="1577.5" y2="146.4" stroke="#0d0d0d" stroke-width="5.0" stroke-linecap="round"/>
<path d="M1583.4,147.8 L1576.7,149.9 L1578.4,142.9Z" fill="#0d0d0d"/>
<line x1="1647.3" y1="150.4" x2="1655.6" y2="157.0" stroke="#0d0d0d" stroke-width="5.0" stroke-linecap="round"/>
<path d="M1660.1,160.6 L1653.4,159.8 L1657.9,154.2Z" fill="#0d0d0d"/>
<line x1="1368.4" y1="65.9" x2="1393.1" y2="63.9" stroke="#0d0d0d" stroke-width="5.0" stroke-linecap="round"/>
<path d="M1399.1,63.4 L1393.4,67.5 L1392.8,60.3Z" fill="#0d0d0d"/>
<line x1="1399.1" y1="60.8" x2="1431.6" y2="56.5" stroke="#0d0d0d" stroke-width="5.0" stroke-linecap="round"/>
<path d="M1437.5,55.7 L1432.0,60.1 L1431.1,52.9Z" fill="#0d0d0d"/>
<line x1="1437.5" y1="58.3" x2="1469.9" y2="58.3" stroke="#0d0d0d" stroke-width="5.0" stroke-linecap="round"/>
<path d="M1475.9,58.3 L1469.9,61.9 L1469.9,54.7Z" fill="#0d0d0d"/>
<line x1="1386.3" y1="76.2" x2="1408.7" y2="82.3" stroke="#0d0d0d" stroke-width="5.0" stroke-linecap="round"/>
<path d="M1414.5,83.9 L1407.7,85.7 L1409.6,78.8Z" fill="#0d0d0d"/>
<line x1="1424.7" y1="81.3" x2="1457.1" y2="85.6" stroke="#0d0d0d" stroke-width="5.0" stroke-linecap="round"/>
<path d="M1463.1,86.4 L1456.7,89.2 L1457.6,82.1Z" fill="#0d0d0d"/>
<line x1="1450.3" y1="50.6" x2="1482.7" y2="52.7" stroke="#0d0d0d" stroke-width="5.0" stroke-linecap="round"/>
<path d="M1488.7,53.1 L1482.5,56.3 L1482.9,49.2Z" fill="#0d0d0d"/>
<line x1="1373.5" y1="83.9" x2="1393.1" y2="85.8" stroke="#0d0d0d" stroke-width="5.0" stroke-linecap="round"/>
<path d="M1399.1,86.4 L1392.8,89.4 L1393.5,82.2Z" fill="#0d0d0d"/>
<line x1="2010.1" y1="30.1" x2="2034.8" y2="31.1" stroke="#0d0d0d" stroke-width="5.0" stroke-linecap="round"/>
<path d="M2040.8,31.4 L2034.7,34.7 L2035.0,27.6Z" fill="#0d0d0d"/>
<line x1="2076.6" y1="32.7" x2="2103.9" y2="33.7" stroke="#0d0d0d" stroke-width="5.0" stroke-linecap="round"/>
<path d="M2109.9,34.0 L2103.8,37.3 L2104.0,30.1Z" fill="#0d0d0d"/>
<line x1="1749.1" y1="40.4" x2="1771.2" y2="41.4" stroke="#0d0d0d" stroke-width="5.0" stroke-linecap="round"/>
<path d="M1777.2,41.6 L1771.1,45.0 L1771.4,37.8Z" fill="#0d0d0d"/>
<line x1="1779.8" y1="42.9" x2="1812.2" y2="42.9" stroke="#0d0d0d" stroke-width="5.0" stroke-linecap="round"/>
<path d="M1818.2,42.9 L1812.2,46.5 L1812.2,39.3Z" fill="#0d0d0d"/>
<line x1="1807.9" y1="54.4" x2="1837.9" y2="49.1" stroke="#0d0d0d" stroke-width="5.0" stroke-linecap="round"/>
<path d="M1843.8,48.0 L1838.5,52.6 L1837.2,45.5Z" fill="#0d0d0d"/>
<line x1="1823.3" y1="63.4" x2="1839.9" y2="43.7" stroke="#0d0d0d" stroke-width="5.0" stroke-linecap="round"/>
<path d="M1843.8,39.1 L1842.7,46.0 L1837.1,41.3Z" fill="#0d0d0d"/>
<line x1="1843.8" y1="46.8" x2="1876.2" y2="43.5" stroke="#0d0d0d" stroke-width="5.0" stroke-linecap="round"/>
<path d="M1882.1,42.9 L1876.5,47.1 L1875.8,39.9Z" fill="#0d0d0d"/>
<line x1="1889.8" y1="39.1" x2="1904.3" y2="40.9" stroke="#0d0d0d" stroke-width="5.0" stroke-linecap="round"/>
<path d="M1910.3,41.6 L1903.9,44.5 L1904.8,37.3Z" fill="#0d0d0d"/>
<line x1="1920.5" y1="53.1" x2="1938.0" y2="46.4" stroke="#0d0d0d" stroke-width="5.0" stroke-linecap="round"/>
<path d="M1943.6,44.2 L1939.3,49.7 L1936.7,43.0Z" fill="#0d0d0d"/>
<line x1="1956.4" y1="42.9" x2="1972.0" y2="54.7" stroke="#0d0d0d" stroke-width="5.0" stroke-linecap="round"/>
<path d="M1976.8,58.3 L1969.9,57.5 L1974.2,51.8Z" fill="#0d0d0d"/>
<line x1="1989.6" y1="44.2" x2="2001.9" y2="48.6" stroke="#0d0d0d" stroke-width="5.0" stroke-linecap="round"/>
<path d="M2007.5,50.6 L2000.7,52.0 L2003.1,45.2Z" fill="#0d0d0d"/>
<line x1="2053.6" y1="51.9" x2="2073.2" y2="51.9" stroke="#0d0d0d" stroke-width="5.0" stroke-linecap="round"/>
<path d="M2079.2,51.9 L2073.2,55.5 L2073.2,48.3Z" fill="#0d0d0d"/>
<line x1="2102.2" y1="50.6" x2="2129.5" y2="49.5" stroke="#0d0d0d" stroke-width="5.0" stroke-linecap="round"/>
<path d="M2135.5,49.3 L2129.6,53.1 L2129.3,45.9Z" fill="#0d0d0d"/>
<line x1="1697.9" y1="53.1" x2="1699.6" y2="65.1" stroke="#0d0d0d" stroke-width="5.0" stroke-linecap="round"/>
<path d="M1700.5,71.1 L1696.1,65.6 L1703.2,64.6Z" fill="#0d0d0d"/>
<line x1="1718.4" y1="48.0" x2="1732.9" y2="49.8" stroke="#0d0d0d" stroke-width="5.0" stroke-linecap="round"/>
<path d="M1738.9,50.6 L1732.5,53.4 L1733.3,46.3Z" fill="#0d0d0d"/>
<line x1="1718.4" y1="58.3" x2="1750.8" y2="60.4" stroke="#0d0d0d" stroke-width="5.0" stroke-linecap="round"/>
<path d="M1756.8,60.8 L1750.5,64.0 L1751.0,56.8Z" fill="#0d0d0d"/>
<line x1="1769.6" y1="67.2" x2="1781.5" y2="67.2" stroke="#0d0d0d" stroke-width="5.0" stroke-linecap="round"/>
<path d="M1787.5,67.2 L1781.5,70.8 L1781.5,63.6Z" fill="#0d0d0d"/>
<line x1="1800.3" y1="73.6" x2="1812.2" y2="73.6" stroke="#0d0d0d" stroke-width="5.0" stroke-linecap="round"/>
<path d="M1818.2,73.6 L1812.2,77.2 L1812.2,70.0Z" fill="#0d0d0d"/>
<line x1="1905.2" y1="77.5" x2="1919.7" y2="78.4" stroke="#0d0d0d" stroke-width="5.0" stroke-linecap="round"/>
<path d="M1925.6,78.7 L1919.4,82.0 L1919.9,74.8Z" fill="#0d0d0d"/>
<line x1="1941.0" y1="76.2" x2="1952.9" y2="77.0" stroke="#0d0d0d" stroke-width="5.0" stroke-linecap="round"/>
<path d="M1958.9,77.5 L1952.7,80.6 L1953.2,73.4Z" fill="#0d0d0d"/>
<line x1="1969.2" y1="74.9" x2="1986.2" y2="74.0" stroke="#0d0d0d" stroke-width="5.0" stroke-linecap="round"/>
<path d="M1992.2,73.6 L1986.4,77.5 L1986.0,70.4Z" fill="#0d0d0d"/>
<line x1="2028.0" y1="60.8" x2="2042.5" y2="62.6" stroke="#0d0d0d" stroke-width="5.0" stroke-linecap="round"/>
<path d="M2048.5,63.4 L2042.1,66.2 L2043.0,59.1Z" fill="#0d0d0d"/>
<line x1="2051.0" y1="71.1" x2="2096.2" y2="71.1" stroke="#0d0d0d" stroke-width="5.0" stroke-linecap="round"/>
<path d="M2102.2,71.1 L2096.2,74.7 L2096.2,67.5Z" fill="#0d0d0d"/>
<line x1="2107.3" y1="82.6" x2="2129.5" y2="81.6" stroke="#0d0d0d" stroke-width="5.0" stroke-linecap="round"/>
<path d="M2135.5,81.3 L2129.6,85.2 L2129.3,78.0Z" fill="#0d0d0d"/>
<line x1="1680.0" y1="101.8" x2="1690.0" y2="101.8" stroke="#0d0d0d" stroke-width="5.0" stroke-linecap="round"/>
<path d="M1695.4,101.8 L1690.0,105.4 L1690.0,98.2Z" fill="#0d0d0d"/>
<line x1="1782.4" y1="109.4" x2="1801.9" y2="109.4" stroke="#0d0d0d" stroke-width="5.0" stroke-linecap="round"/>
<path d="M1807.9,109.4 L1801.9,113.0 L1801.9,105.8Z" fill="#0d0d0d"/>
<line x1="1815.6" y1="112.0" x2="1835.2" y2="112.0" stroke="#0d0d0d" stroke-width="5.0" stroke-linecap="round"/>
<path d="M1841.2,112.0 L1835.2,115.6 L1835.2,108.4Z" fill="#0d0d0d"/>
<line x1="1851.4" y1="115.8" x2="1901.8" y2="121.6" stroke="#0d0d0d" stroke-width="5.0" stroke-linecap="round"/>
<path d="M1907.7,122.2 L1901.4,125.1 L1902.2,118.0Z" fill="#0d0d0d"/>
<line x1="1981.9" y1="106.9" x2="1993.9" y2="108.6" stroke="#0d0d0d" stroke-width="5.0" stroke-linecap="round"/>
<path d="M1999.9,109.4 L1993.4,112.2 L1994.4,105.0Z" fill="#0d0d0d"/>
<line x1="2007.5" y1="123.5" x2="2024.6" y2="123.5" stroke="#0d0d0d" stroke-width="5.0" stroke-linecap="round"/>
<path d="M2030.6,123.5 L2024.6,127.1 L2024.6,119.9Z" fill="#0d0d0d"/>
<line x1="2053.6" y1="123.5" x2="2073.2" y2="123.5" stroke="#0d0d0d" stroke-width="5.0" stroke-linecap="round"/>
<path d="M2079.2,123.5 L2073.2,127.1 L2073.2,119.9Z" fill="#0d0d0d"/>
<line x1="1918.0" y1="127.4" x2="1942.8" y2="131.5" stroke="#0d0d0d" stroke-width="5.0" stroke-linecap="round"/>
<path d="M1948.7,132.5 L1942.2,135.0 L1943.4,127.9Z" fill="#0d0d0d"/>
<line x1="1951.2" y1="124.8" x2="1973.6" y2="130.9" stroke="#0d0d0d" stroke-width="5.0" stroke-linecap="round"/>
<path d="M1979.4,132.5 L1972.7,134.4 L1974.5,127.4Z" fill="#0d0d0d"/>
<line x1="1795.1" y1="136.3" x2="1850.6" y2="137.5" stroke="#0d0d0d" stroke-width="5.0" stroke-linecap="round"/>
<path d="M1856.6,137.6 L1850.5,141.1 L1850.6,133.9Z" fill="#0d0d0d"/>
<line x1="1861.7" y1="144.0" x2="1883.8" y2="145.0" stroke="#0d0d0d" stroke-width="5.0" stroke-linecap="round"/>
<path d="M1889.8,145.3 L1883.7,148.6 L1884.0,141.4Z" fill="#0d0d0d"/>
<line x1="1894.9" y1="147.8" x2="1914.6" y2="149.8" stroke="#0d0d0d" stroke-width="5.0" stroke-linecap="round"/>
<path d="M1920.5,150.4 L1914.2,153.4 L1914.9,146.2Z" fill="#0d0d0d"/>
<line x1="2132.9" y1="136.3" x2="2154.0" y2="137.3" stroke="#0d0d0d" stroke-width="5.0" stroke-linecap="round"/>
<path d="M2160.0,137.6 L2153.9,140.9 L2154.2,133.7Z" fill="#0d0d0d"/>
<line x1="2033.1" y1="144.0" x2="2050.2" y2="144.9" stroke="#0d0d0d" stroke-width="5.0" stroke-linecap="round"/>
<path d="M2056.2,145.3 L2050.0,148.5 L2050.4,141.3Z" fill="#0d0d0d"/>
<line x1="2074.1" y1="149.1" x2="2093.7" y2="149.1" stroke="#0d0d0d" stroke-width="5.0" stroke-linecap="round"/>
<path d="M2099.7,149.1 L2093.7,152.7 L2093.7,145.5Z" fill="#0d0d0d"/>
<line x1="2104.8" y1="156.8" x2="2126.9" y2="156.8" stroke="#0d0d0d" stroke-width="5.0" stroke-linecap="round"/>
<path d="M2132.9,156.8 L2126.9,160.4 L2126.9,153.2Z" fill="#0d0d0d"/>
<line x1="1938.4" y1="155.5" x2="1955.5" y2="157.4" stroke="#0d0d0d" stroke-width="5.0" stroke-linecap="round"/>
<path d="M1961.5,158.1 L1955.1,161.0 L1955.9,153.8Z" fill="#0d0d0d"/>
<line x1="1718.4" y1="127.4" x2="1740.6" y2="129.4" stroke="#0d0d0d" stroke-width="5.0" stroke-linecap="round"/>
<path d="M1746.5,129.9 L1740.2,133.0 L1740.9,125.8Z" fill="#0d0d0d"/>
<line x1="1744.0" y1="142.7" x2="1776.4" y2="144.9" stroke="#0d0d0d" stroke-width="5.0" stroke-linecap="round"/>
<path d="M1782.4,145.3 L1776.1,148.5 L1776.6,141.3Z" fill="#0d0d0d"/>
<line x1="1237.9" y1="169.0" x2="1258.8" y2="170.9" stroke="#0d0d0d" stroke-width="5.0" stroke-linecap="round"/>
<path d="M1264.8,171.5 L1258.5,174.5 L1259.1,167.4Z" fill="#0d0d0d"/>
<line x1="1289.1" y1="172.8" x2="1301.1" y2="175.4" stroke="#0d0d0d" stroke-width="5.0" stroke-linecap="round"/>
<path d="M1307.0,176.6 L1300.4,178.9 L1301.9,171.9Z" fill="#0d0d0d"/>
<line x1="1323.6" y1="175.4" x2="1334.4" y2="177.8" stroke="#0d0d0d" stroke-width="5.0" stroke-linecap="round"/>
<path d="M1340.3,179.2 L1333.6,181.4 L1335.3,174.3Z" fill="#0d0d0d"/>
<line x1="1371.0" y1="177.9" x2="1383.0" y2="180.5" stroke="#0d0d0d" stroke-width="5.0" stroke-linecap="round"/>
<path d="M1388.9,181.8 L1382.3,184.0 L1383.8,177.0Z" fill="#0d0d0d"/>
<line x1="1406.8" y1="181.8" x2="1416.8" y2="183.4" stroke="#0d0d0d" stroke-width="5.0" stroke-linecap="round"/>
<path d="M1422.1,184.3 L1416.2,187.0 L1417.4,179.9Z" fill="#0d0d0d"/>
<line x1="1447.7" y1="184.3" x2="1459.7" y2="185.2" stroke="#0d0d0d" stroke-width="5.0" stroke-linecap="round"/>
<path d="M1465.6,185.6 L1459.4,188.8 L1459.9,181.6Z" fill="#0d0d0d"/>
<line x1="1481.0" y1="185.6" x2="1491.0" y2="182.3" stroke="#0d0d0d" stroke-width="5.0" stroke-linecap="round"/>
<path d="M1496.4,180.5 L1492.1,185.7 L1489.8,178.8Z" fill="#0d0d0d"/>
<line x1="1514.3" y1="177.9" x2="1526.2" y2="177.9" stroke="#0d0d0d" stroke-width="5.0" stroke-linecap="round"/>
<path d="M1532.2,177.9 L1526.2,181.5 L1526.2,174.3Z" fill="#0d0d0d"/>
<line x1="1547.5" y1="174.1" x2="1557.5" y2="176.6" stroke="#0d0d0d" stroke-width="5.0" stroke-linecap="round"/>
<path d="M1562.9,177.9 L1556.6,180.1 L1558.4,173.1Z" fill="#0d0d0d"/>
<line x1="1578.2" y1="169.0" x2="1590.2" y2="170.7" stroke="#0d0d0d" stroke-width="5.0" stroke-linecap="round"/>
<path d="M1596.2,171.5 L1589.7,174.2 L1590.7,167.1Z" fill="#0d0d0d"/>
<line x1="1608.9" y1="162.6" x2="1620.9" y2="163.4" stroke="#0d0d0d" stroke-width="5.0" stroke-linecap="round"/>
<path d="M1626.9,163.8 L1620.6,167.0 L1621.1,159.8Z" fill="#0d0d0d"/>
<line x1="1419.6" y1="161.3" x2="1444.3" y2="162.3" stroke="#0d0d0d" stroke-width="5.0" stroke-linecap="round"/>
<path d="M1450.3,162.6 L1444.2,165.9 L1444.5,158.7Z" fill="#0d0d0d"/>
<line x1="1264.8" y1="190.7" x2="1264.8" y2="201.5" stroke="#0d0d0d" stroke-width="5.0" stroke-linecap="round"/>
<path d="M1264.8,207.3 L1261.2,201.5 L1268.4,201.5Z" fill="#0d0d0d"/>
<line x1="1223.8" y1="185.6" x2="1228.0" y2="185.6" stroke="#0d0d0d" stroke-width="5.0" stroke-linecap="round"/>
<path d="M1230.2,185.6 L1228.0,189.2 L1228.0,182.0Z" fill="#0d0d0d"/>
<line x1="1255.8" y1="220.1" x2="1257.5" y2="230.9" stroke="#0d0d0d" stroke-width="5.0" stroke-linecap="round"/>
<path d="M1258.4,236.8 L1253.9,231.5 L1261.0,230.4Z" fill="#0d0d0d"/>
<line x1="1318.5" y1="220.1" x2="1325.2" y2="229.4" stroke="#0d0d0d" stroke-width="5.0" stroke-linecap="round"/>
<path d="M1328.8,234.2 L1322.3,231.5 L1328.1,227.2Z" fill="#0d0d0d"/>
<line x1="1345.4" y1="234.2" x2="1355.4" y2="239.2" stroke="#0d0d0d" stroke-width="5.0" stroke-linecap="round"/>
<path d="M1360.7,241.9 L1353.8,242.4 L1357.0,236.0Z" fill="#0d0d0d"/>
<line x1="1378.6" y1="234.2" x2="1396.1" y2="241.0" stroke="#0d0d0d" stroke-width="5.0" stroke-linecap="round"/>
<path d="M1401.7,243.2 L1394.8,244.3 L1397.4,237.6Z" fill="#0d0d0d"/>
<line x1="1289.1" y1="249.6" x2="1299.1" y2="245.4" stroke="#0d0d0d" stroke-width="5.0" stroke-linecap="round"/>
<path d="M1304.4,243.2 L1300.5,248.7 L1297.7,242.1Z" fill="#0d0d0d"/>
<line x1="1240.5" y1="250.8" x2="1243.0" y2="260.8" stroke="#0d0d0d" stroke-width="5.0" stroke-linecap="round"/>
<path d="M1244.3,266.2 L1239.5,261.7 L1246.5,259.9Z" fill="#0d0d0d"/>
<line x1="1225.1" y1="235.5" x2="1230.1" y2="240.5" stroke="#0d0d0d" stroke-width="5.0" stroke-linecap="round"/>
<path d="M1232.8,243.2 L1227.6,243.0 L1232.7,237.9Z" fill="#0d0d0d"/>
<line x1="1516.8" y1="199.7" x2="1518.6" y2="212.9" stroke="#0d0d0d" stroke-width="5.0" stroke-linecap="round"/>
<path d="M1519.4,218.9 L1515.0,213.4 L1522.2,212.4Z" fill="#0d0d0d"/>
<line x1="1475.9" y1="215.0" x2="1496.9" y2="232.9" stroke="#0d0d0d" stroke-width="5.0" stroke-linecap="round"/>
<path d="M1501.5,236.8 L1494.6,235.6 L1499.2,230.1Z" fill="#0d0d0d"/>
<line x1="1562.9" y1="232.9" x2="1572.9" y2="235.4" stroke="#0d0d0d" stroke-width="5.0" stroke-linecap="round"/>
<path d="M1578.2,236.8 L1572.0,238.9 L1573.7,231.9Z" fill="#0d0d0d"/>
<line x1="1601.3" y1="229.1" x2="1611.3" y2="234.1" stroke="#0d0d0d" stroke-width="5.0" stroke-linecap="round"/>
<path d="M1616.6,236.8 L1609.6,237.3 L1612.9,230.9Z" fill="#0d0d0d"/>
<line x1="1632.0" y1="221.4" x2="1644.5" y2="227.7" stroke="#0d0d0d" stroke-width="5.0" stroke-linecap="round"/>
<path d="M1649.9,230.4 L1642.9,230.9 L1646.1,224.5Z" fill="#0d0d0d"/>
<line x1="1299.3" y1="275.1" x2="1311.4" y2="277.7" stroke="#0d0d0d" stroke-width="5.0" stroke-linecap="round"/>
<path d="M1317.2,279.0 L1310.6,281.2 L1312.1,274.2Z" fill="#0d0d0d"/>
<line x1="1335.1" y1="268.8" x2="1342.6" y2="277.1" stroke="#0d0d0d" stroke-width="5.0" stroke-linecap="round"/>
<path d="M1346.7,281.5 L1340.0,279.5 L1345.3,274.7Z" fill="#0d0d0d"/>
<line x1="1364.6" y1="258.5" x2="1374.0" y2="266.2" stroke="#0d0d0d" stroke-width="5.0" stroke-linecap="round"/>
<path d="M1378.6,270.0 L1371.7,269.0 L1376.3,263.4Z" fill="#0d0d0d"/>
<line x1="1404.2" y1="261.1" x2="1414.4" y2="267.0" stroke="#0d0d0d" stroke-width="5.0" stroke-linecap="round"/>
<path d="M1419.6,270.0 L1412.6,270.1 L1416.2,263.9Z" fill="#0d0d0d"/>
<line x1="1436.2" y1="262.4" x2="1446.6" y2="269.3" stroke="#0d0d0d" stroke-width="5.0" stroke-linecap="round"/>
<path d="M1451.6,272.6 L1444.6,272.3 L1448.6,266.3Z" fill="#0d0d0d"/>
<line x1="1588.5" y1="261.1" x2="1597.0" y2="269.6" stroke="#0d0d0d" stroke-width="5.0" stroke-linecap="round"/>
<path d="M1601.3,273.9 L1594.5,272.2 L1599.6,267.1Z" fill="#0d0d0d"/>
<line x1="1619.2" y1="254.7" x2="1627.7" y2="263.2" stroke="#0d0d0d" stroke-width="5.0" stroke-linecap="round"/>
<path d="M1632.0,267.5 L1625.2,265.8 L1630.3,260.7Z" fill="#0d0d0d"/>
<line x1="1498.9" y1="249.6" x2="1504.2" y2="262.0" stroke="#0d0d0d" stroke-width="5.0" stroke-linecap="round"/>
<path d="M1506.6,267.5 L1500.9,263.4 L1507.5,260.5Z" fill="#0d0d0d"/>
<line x1="1915.4" y1="176.6" x2="1929.9" y2="177.5" stroke="#0d0d0d" stroke-width="5.0" stroke-linecap="round"/>
<path d="M1935.9,177.9 L1929.7,181.1 L1930.1,173.9Z" fill="#0d0d0d"/>
<line x1="1971.7" y1="171.5" x2="1983.7" y2="173.2" stroke="#0d0d0d" stroke-width="5.0" stroke-linecap="round"/>
<path d="M1989.6,174.1 L1983.2,176.8 L1984.2,169.7Z" fill="#0d0d0d"/>
<line x1="2086.9" y1="177.9" x2="2098.8" y2="179.6" stroke="#0d0d0d" stroke-width="5.0" stroke-linecap="round"/>
<path d="M2104.8,180.5 L2098.3,183.2 L2099.3,176.1Z" fill="#0d0d0d"/>
<line x1="2122.7" y1="183.0" x2="2134.7" y2="184.7" stroke="#0d0d0d" stroke-width="5.0" stroke-linecap="round"/>
<path d="M2140.6,185.6 L2134.1,188.3 L2135.2,181.2Z" fill="#0d0d0d"/>
<line x1="2010.1" y1="163.8" x2="2024.6" y2="164.7" stroke="#0d0d0d" stroke-width="5.0" stroke-linecap="round"/>
<path d="M2030.6,165.1 L2024.4,168.3 L2024.8,161.2Z" fill="#0d0d0d"/>
<line x1="2140.6" y1="163.8" x2="2154.0" y2="163.8" stroke="#0d0d0d" stroke-width="5.0" stroke-linecap="round"/>
<path d="M2160.0,163.8 L2154.0,167.4 L2154.0,160.2Z" fill="#0d0d0d"/>
<line x1="1946.1" y1="198.4" x2="1947.8" y2="208.4" stroke="#0d0d0d" stroke-width="5.0" stroke-linecap="round"/>
<path d="M1948.7,213.7 L1944.2,209.0 L1951.3,207.8Z" fill="#0d0d0d"/>
<line x1="1979.4" y1="213.7" x2="1976.1" y2="223.7" stroke="#0d0d0d" stroke-width="5.0" stroke-linecap="round"/>
<path d="M1974.3,229.1 L1972.6,222.6 L1979.5,224.9Z" fill="#0d0d0d"/>
<line x1="1910.3" y1="213.7" x2="1931.6" y2="235.1" stroke="#0d0d0d" stroke-width="5.0" stroke-linecap="round"/>
<path d="M1935.9,239.3 L1929.1,237.6 L1934.2,232.5Z" fill="#0d0d0d"/>
<line x1="1767.0" y1="248.3" x2="1781.6" y2="251.0" stroke="#0d0d0d" stroke-width="5.0" stroke-linecap="round"/>
<path d="M1787.5,252.1 L1780.9,254.6 L1782.2,247.5Z" fill="#0d0d0d"/>
<line x1="1797.7" y1="249.6" x2="1817.3" y2="249.6" stroke="#0d0d0d" stroke-width="5.0" stroke-linecap="round"/>
<path d="M1823.3,249.6 L1817.3,253.2 L1817.3,246.0Z" fill="#0d0d0d"/>
<line x1="1851.4" y1="245.7" x2="1871.1" y2="249.7" stroke="#0d0d0d" stroke-width="5.0" stroke-linecap="round"/>
<path d="M1877.0,250.8 L1870.4,253.2 L1871.9,246.1Z" fill="#0d0d0d"/>
<line x1="1889.8" y1="244.4" x2="1907.2" y2="250.2" stroke="#0d0d0d" stroke-width="5.0" stroke-linecap="round"/>
<path d="M1912.9,252.1 L1906.0,253.6 L1908.3,246.8Z" fill="#0d0d0d"/>
<line x1="2099.7" y1="245.7" x2="2116.9" y2="250.5" stroke="#0d0d0d" stroke-width="5.0" stroke-linecap="round"/>
<path d="M2122.7,252.1 L2115.9,254.0 L2117.9,247.0Z" fill="#0d0d0d"/>
<line x1="2068.9" y1="254.7" x2="2086.1" y2="257.5" stroke="#0d0d0d" stroke-width="5.0" stroke-linecap="round"/>
<path d="M2092.0,258.5 L2085.5,261.1 L2086.6,254.0Z" fill="#0d0d0d"/>
<line x1="2043.4" y1="267.5" x2="2053.3" y2="270.8" stroke="#0d0d0d" stroke-width="5.0" stroke-linecap="round"/>
<path d="M2058.7,272.6 L2052.2,274.2 L2054.5,267.4Z" fill="#0d0d0d"/>
<line x1="2125.2" y1="259.8" x2="2140.9" y2="271.5" stroke="#0d0d0d" stroke-width="5.0" stroke-linecap="round"/>
<path d="M2145.7,275.1 L2138.8,274.4 L2143.1,268.7Z" fill="#0d0d0d"/>
<line x1="2086.9" y1="277.7" x2="2099.6" y2="285.0" stroke="#0d0d0d" stroke-width="5.0" stroke-linecap="round"/>
<path d="M2104.8,287.9 L2097.8,288.1 L2101.3,281.8Z" fill="#0d0d0d"/>
<line x1="1841.2" y1="273.9" x2="1856.4" y2="282.4" stroke="#0d0d0d" stroke-width="5.0" stroke-linecap="round"/>
<path d="M1861.7,285.4 L1854.7,285.6 L1858.2,279.3Z" fill="#0d0d0d"/>
<line x1="1874.5" y1="266.2" x2="1887.7" y2="276.6" stroke="#0d0d0d" stroke-width="5.0" stroke-linecap="round"/>
<path d="M1892.4,280.3 L1885.4,279.4 L1889.9,273.7Z" fill="#0d0d0d"/>
<line x1="1905.2" y1="267.5" x2="1916.3" y2="278.6" stroke="#0d0d0d" stroke-width="5.0" stroke-linecap="round"/>
<path d="M1920.5,282.8 L1913.7,281.1 L1918.8,276.0Z" fill="#0d0d0d"/>
<line x1="1964.0" y1="224.0" x2="1974.4" y2="217.1" stroke="#0d0d0d" stroke-width="5.0" stroke-linecap="round"/>
<path d="M1979.4,213.7 L1976.4,220.1 L1972.4,214.1Z" fill="#0d0d0d"/>
<line x1="1736.3" y1="259.8" x2="1748.2" y2="260.6" stroke="#0d0d0d" stroke-width="5.0" stroke-linecap="round"/>
<path d="M1754.2,261.1 L1748.0,264.2 L1748.5,257.1Z" fill="#0d0d0d"/>
<line x1="1685.1" y1="244.4" x2="1691.8" y2="247.8" stroke="#0d0d0d" stroke-width="5.0" stroke-linecap="round"/>
<path d="M1695.4,249.6 L1690.2,251.0 L1693.4,244.5Z" fill="#0d0d0d"/>
<line x1="1685.1" y1="285.4" x2="1695.1" y2="285.4" stroke="#0d0d0d" stroke-width="5.0" stroke-linecap="round"/>
<path d="M1700.5,285.4 L1695.1,289.0 L1695.1,281.8Z" fill="#0d0d0d"/>
<line x1="1718.4" y1="286.7" x2="1730.4" y2="288.4" stroke="#0d0d0d" stroke-width="5.0" stroke-linecap="round"/>
<path d="M1736.3,289.2 L1729.8,291.9 L1730.9,284.8Z" fill="#0d0d0d"/>
<line x1="1751.6" y1="287.9" x2="1763.6" y2="287.9" stroke="#0d0d0d" stroke-width="5.0" stroke-linecap="round"/>
<path d="M1769.6,287.9 L1763.6,291.5 L1763.6,284.3Z" fill="#0d0d0d"/>
<line x1="1779.8" y1="280.3" x2="1794.3" y2="280.3" stroke="#0d0d0d" stroke-width="5.0" stroke-linecap="round"/>
<path d="M1800.3,280.3 L1794.3,283.9 L1794.3,276.7Z" fill="#0d0d0d"/>
<line x1="2010.1" y1="254.7" x2="2013.4" y2="263.0" stroke="#0d0d0d" stroke-width="5.0" stroke-linecap="round"/>
<path d="M2015.2,267.5 L2010.1,264.3 L2016.8,261.7Z" fill="#0d0d0d"/>
<line x1="2120.1" y1="293.1" x2="2126.8" y2="296.4" stroke="#0d0d0d" stroke-width="5.0" stroke-linecap="round"/>
<path d="M2130.4,298.2 L2125.2,299.6 L2128.4,293.2Z" fill="#0d0d0d"/>
<line x1="1744.0" y1="170.2" x2="1758.6" y2="173.9" stroke="#0d0d0d" stroke-width="5.0" stroke-linecap="round"/>
<path d="M1764.4,175.4 L1757.7,177.4 L1759.5,170.4Z" fill="#0d0d0d"/>
<line x1="1795.1" y1="175.4" x2="1807.3" y2="178.8" stroke="#0d0d0d" stroke-width="5.0" stroke-linecap="round"/>
<path d="M1813.1,180.5 L1806.3,182.3 L1808.3,175.4Z" fill="#0d0d0d"/>
<line x1="1225.1" y1="312.9" x2="1231.8" y2="308.8" stroke="#0d0d0d" stroke-width="5.0" stroke-linecap="round"/>
<path d="M1235.4,306.5 L1233.7,311.8 L1229.9,305.7Z" fill="#0d0d0d"/>
<line x1="1308.3" y1="304.0" x2="1320.0" y2="312.1" stroke="#0d0d0d" stroke-width="5.0" stroke-linecap="round"/>
<path d="M1324.9,315.5 L1317.9,315.0 L1322.0,309.1Z" fill="#0d0d0d"/>
<line x1="1289.1" y1="361.5" x2="1294.5" y2="347.9" stroke="#0d0d0d" stroke-width="5.0" stroke-linecap="round"/>
<path d="M1296.8,342.3 L1297.9,349.2 L1291.2,346.6Z" fill="#0d0d0d"/>
<line x1="1258.4" y1="371.8" x2="1269.4" y2="367.5" stroke="#0d0d0d" stroke-width="5.0" stroke-linecap="round"/>
<path d="M1275.0,365.4 L1270.7,370.9 L1268.1,364.2Z" fill="#0d0d0d"/>
<line x1="1225.1" y1="379.4" x2="1234.3" y2="375.3" stroke="#0d0d0d" stroke-width="5.0" stroke-linecap="round"/>
<path d="M1239.2,373.0 L1235.8,378.6 L1232.8,372.0Z" fill="#0d0d0d"/>
<line x1="1308.3" y1="369.2" x2="1311.9" y2="383.9" stroke="#0d0d0d" stroke-width="5.0" stroke-linecap="round"/>
<path d="M1313.4,389.7 L1308.5,384.7 L1315.4,383.0Z" fill="#0d0d0d"/>
<line x1="1364.6" y1="357.7" x2="1369.7" y2="346.5" stroke="#0d0d0d" stroke-width="5.0" stroke-linecap="round"/>
<path d="M1372.3,341.1 L1373.0,348.0 L1366.5,345.0Z" fill="#0d0d0d"/>
<line x1="1281.4" y1="396.1" x2="1291.0" y2="404.8" stroke="#0d0d0d" stroke-width="5.0" stroke-linecap="round"/>
<path d="M1295.5,408.9 L1288.6,407.5 L1293.5,402.2Z" fill="#0d0d0d"/>
<line x1="1376.1" y1="406.3" x2="1382.0" y2="396.1" stroke="#0d0d0d" stroke-width="5.0" stroke-linecap="round"/>
<path d="M1385.0,391.0 L1385.1,398.0 L1378.9,394.3Z" fill="#0d0d0d"/>
<line x1="1427.3" y1="394.8" x2="1435.6" y2="388.1" stroke="#0d0d0d" stroke-width="5.0" stroke-linecap="round"/>
<path d="M1440.1,384.6 L1437.8,391.0 L1433.3,385.3Z" fill="#0d0d0d"/>
<line x1="1664.0" y1="314.2" x2="1677.3" y2="311.5" stroke="#0d0d0d" stroke-width="5.0" stroke-linecap="round"/>
<path d="M1683.2,310.4 L1678.0,315.1 L1676.6,308.0Z" fill="#0d0d0d"/>
<line x1="1611.5" y1="334.7" x2="1628.6" y2="331.8" stroke="#0d0d0d" stroke-width="5.0" stroke-linecap="round"/>
<path d="M1634.5,330.8 L1629.2,335.4 L1628.0,328.3Z" fill="#0d0d0d"/>
<line x1="1674.2" y1="344.9" x2="1694.2" y2="339.9" stroke="#0d0d0d" stroke-width="5.0" stroke-linecap="round"/>
<path d="M1700.0,338.5 L1695.1,343.4 L1693.4,336.4Z" fill="#0d0d0d"/>
<line x1="1593.6" y1="356.4" x2="1608.1" y2="356.4" stroke="#0d0d0d" stroke-width="5.0" stroke-linecap="round"/>
<path d="M1614.1,356.4 L1608.1,360.0 L1608.1,352.8Z" fill="#0d0d0d"/>
<line x1="1624.3" y1="362.8" x2="1638.8" y2="362.8" stroke="#0d0d0d" stroke-width="5.0" stroke-linecap="round"/>
<path d="M1644.8,362.8 L1638.8,366.4 L1638.8,359.2Z" fill="#0d0d0d"/>
<line x1="1658.8" y1="367.9" x2="1672.0" y2="367.0" stroke="#0d0d0d" stroke-width="5.0" stroke-linecap="round"/>
<path d="M1678.0,366.6 L1672.3,370.6 L1671.8,363.5Z" fill="#0d0d0d"/>
<line x1="1527.1" y1="374.3" x2="1535.4" y2="371.0" stroke="#0d0d0d" stroke-width="5.0" stroke-linecap="round"/>
<path d="M1539.9,369.2 L1536.7,374.3 L1534.0,367.7Z" fill="#0d0d0d"/>
<line x1="1519.4" y1="420.4" x2="1531.4" y2="422.1" stroke="#0d0d0d" stroke-width="5.0" stroke-linecap="round"/>
<path d="M1537.3,422.9 L1530.8,425.7 L1531.9,418.5Z" fill="#0d0d0d"/>
<line x1="1666.5" y1="429.3" x2="1677.3" y2="427.7" stroke="#0d0d0d" stroke-width="5.0" stroke-linecap="round"/>
<path d="M1683.2,426.8 L1677.9,431.2 L1676.8,424.1Z" fill="#0d0d0d"/>
<line x1="1697.9" y1="318.0" x2="1710.0" y2="315.4" stroke="#0d0d0d" stroke-width="5.0" stroke-linecap="round"/>
<path d="M1715.8,314.2 L1710.7,319.0 L1709.2,311.9Z" fill="#0d0d0d"/>
<line x1="1736.3" y1="319.3" x2="1748.3" y2="317.6" stroke="#0d0d0d" stroke-width="5.0" stroke-linecap="round"/>
<path d="M1754.2,316.8 L1748.8,321.2 L1747.8,314.0Z" fill="#0d0d0d"/>
<line x1="1680.0" y1="343.6" x2="1694.6" y2="340.0" stroke="#0d0d0d" stroke-width="5.0" stroke-linecap="round"/>
<path d="M1700.5,338.5 L1695.5,343.4 L1693.8,336.5Z" fill="#0d0d0d"/>
<line x1="1713.3" y1="343.6" x2="1730.3" y2="341.7" stroke="#0d0d0d" stroke-width="5.0" stroke-linecap="round"/>
<path d="M1736.3,341.1 L1730.7,345.3 L1729.9,338.1Z" fill="#0d0d0d"/>
<line x1="1744.0" y1="350.0" x2="1766.3" y2="344.9" stroke="#0d0d0d" stroke-width="5.0" stroke-linecap="round"/>
<path d="M1772.1,343.6 L1767.1,348.5 L1765.5,341.4Z" fill="#0d0d0d"/>
<line x1="1697.9" y1="369.2" x2="1707.9" y2="367.5" stroke="#0d0d0d" stroke-width="5.0" stroke-linecap="round"/>
<path d="M1713.3,366.6 L1708.5,371.1 L1707.3,364.0Z" fill="#0d0d0d"/>
<line x1="1731.2" y1="376.9" x2="1739.5" y2="373.6" stroke="#0d0d0d" stroke-width="5.0" stroke-linecap="round"/>
<path d="M1744.0,371.8 L1740.8,376.9 L1738.2,370.2Z" fill="#0d0d0d"/>
<line x1="1761.9" y1="383.3" x2="1774.3" y2="378.0" stroke="#0d0d0d" stroke-width="5.0" stroke-linecap="round"/>
<path d="M1779.8,375.6 L1775.7,381.3 L1772.9,374.7Z" fill="#0d0d0d"/>
<line x1="1792.6" y1="371.8" x2="1807.4" y2="366.2" stroke="#0d0d0d" stroke-width="5.0" stroke-linecap="round"/>
<path d="M1813.1,364.1 L1808.7,369.6 L1806.2,362.8Z" fill="#0d0d0d"/>
<line x1="1805.4" y1="343.6" x2="1823.2" y2="333.7" stroke="#0d0d0d" stroke-width="5.0" stroke-linecap="round"/>
<path d="M1828.4,330.8 L1824.9,336.9 L1821.4,330.6Z" fill="#0d0d0d"/>
<line x1="1828.4" y1="305.2" x2="1835.9" y2="313.6" stroke="#0d0d0d" stroke-width="5.0" stroke-linecap="round"/>
<path d="M1839.9,318.0 L1833.2,316.0 L1838.6,311.2Z" fill="#0d0d0d"/>
<line x1="1861.7" y1="301.4" x2="1866.7" y2="311.4" stroke="#0d0d0d" stroke-width="5.0" stroke-linecap="round"/>
<path d="M1869.4,316.8 L1863.5,313.0 L1869.9,309.8Z" fill="#0d0d0d"/>
<line x1="1894.9" y1="297.6" x2="1897.4" y2="307.5" stroke="#0d0d0d" stroke-width="5.0" stroke-linecap="round"/>
<path d="M1898.8,312.9 L1893.9,308.4 L1900.9,306.7Z" fill="#0d0d0d"/>
<line x1="1925.6" y1="315.5" x2="1929.9" y2="304.4" stroke="#0d0d0d" stroke-width="5.0" stroke-linecap="round"/>
<path d="M1932.0,298.8 L1933.3,305.7 L1926.5,303.1Z" fill="#0d0d0d"/>
<line x1="1833.5" y1="369.2" x2="1840.4" y2="358.8" stroke="#0d0d0d" stroke-width="5.0" stroke-linecap="round"/>
<path d="M1843.8,353.9 L1843.4,360.8 L1837.4,356.8Z" fill="#0d0d0d"/>
<line x1="1861.7" y1="360.3" x2="1870.4" y2="369.9" stroke="#0d0d0d" stroke-width="5.0" stroke-linecap="round"/>
<path d="M1874.5,374.3 L1867.8,372.3 L1873.1,367.5Z" fill="#0d0d0d"/>
<line x1="1823.3" y1="380.7" x2="1825.0" y2="392.7" stroke="#0d0d0d" stroke-width="5.0" stroke-linecap="round"/>
<path d="M1825.9,398.6 L1821.4,393.2 L1828.6,392.2Z" fill="#0d0d0d"/>
<line x1="1839.9" y1="384.6" x2="1852.2" y2="395.8" stroke="#0d0d0d" stroke-width="5.0" stroke-linecap="round"/>
<path d="M1856.6,399.9 L1849.7,398.5 L1854.6,393.2Z" fill="#0d0d0d"/>
<line x1="1907.7" y1="362.8" x2="1919.7" y2="364.5" stroke="#0d0d0d" stroke-width="5.0" stroke-linecap="round"/>
<path d="M1925.6,365.4 L1919.2,368.1 L1920.2,361.0Z" fill="#0d0d0d"/>
<line x1="1955.1" y1="366.6" x2="1968.3" y2="367.5" stroke="#0d0d0d" stroke-width="5.0" stroke-linecap="round"/>
<path d="M1974.3,367.9 L1968.0,371.1 L1968.5,363.9Z" fill="#0d0d0d"/>
<line x1="1932.0" y1="344.9" x2="1946.6" y2="342.2" stroke="#0d0d0d" stroke-width="5.0" stroke-linecap="round"/>
<path d="M1952.5,341.1 L1947.3,345.7 L1946.0,338.6Z" fill="#0d0d0d"/>
<line x1="1961.5" y1="337.2" x2="1986.2" y2="337.2" stroke="#0d0d0d" stroke-width="5.0" stroke-linecap="round"/>
<path d="M1992.2,337.2 L1986.2,340.8 L1986.2,333.6Z" fill="#0d0d0d"/>
<line x1="2007.5" y1="344.9" x2="2024.9" y2="339.1" stroke="#0d0d0d" stroke-width="5.0" stroke-linecap="round"/>
<path d="M2030.6,337.2 L2026.0,342.5 L2023.7,335.7Z" fill="#0d0d0d"/>
<line x1="2048.5" y1="350.0" x2="2065.9" y2="343.2" stroke="#0d0d0d" stroke-width="5.0" stroke-linecap="round"/>
<path d="M2071.5,341.1 L2067.2,346.6 L2064.6,339.9Z" fill="#0d0d0d"/>
<line x1="2086.9" y1="357.7" x2="2100.5" y2="344.0" stroke="#0d0d0d" stroke-width="5.0" stroke-linecap="round"/>
<path d="M2104.8,339.8 L2103.1,346.6 L2098.0,341.5Z" fill="#0d0d0d"/>
<line x1="1987.1" y1="361.5" x2="1999.0" y2="363.2" stroke="#0d0d0d" stroke-width="5.0" stroke-linecap="round"/>
<path d="M2005.0,364.1 L1998.5,366.8 L1999.5,359.7Z" fill="#0d0d0d"/>
<line x1="2030.6" y1="367.9" x2="2042.5" y2="367.9" stroke="#0d0d0d" stroke-width="5.0" stroke-linecap="round"/>
<path d="M2048.5,367.9 L2042.5,371.5 L2042.5,364.3Z" fill="#0d0d0d"/>
<line x1="2066.4" y1="376.9" x2="2081.4" y2="370.3" stroke="#0d0d0d" stroke-width="5.0" stroke-linecap="round"/>
<path d="M2086.9,367.9 L2082.8,373.6 L2079.9,367.0Z" fill="#0d0d0d"/>
<line x1="2099.7" y1="391.0" x2="2108.2" y2="382.4" stroke="#0d0d0d" stroke-width="5.0" stroke-linecap="round"/>
<path d="M2112.4,378.2 L2110.7,385.0 L2105.7,379.9Z" fill="#0d0d0d"/>
<line x1="2117.6" y1="359.0" x2="2127.5" y2="355.6" stroke="#0d0d0d" stroke-width="5.0" stroke-linecap="round"/>
<path d="M2132.9,353.9 L2128.7,359.1 L2126.4,352.2Z" fill="#0d0d0d"/>
<line x1="2130.4" y1="393.5" x2="2133.7" y2="404.4" stroke="#0d0d0d" stroke-width="5.0" stroke-linecap="round"/>
<path d="M2135.5,410.1 L2130.3,405.5 L2137.2,403.4Z" fill="#0d0d0d"/>
<line x1="1829.7" y1="411.4" x2="1834.1" y2="423.7" stroke="#0d0d0d" stroke-width="5.0" stroke-linecap="round"/>
<path d="M1836.1,429.3 L1830.7,424.9 L1837.5,422.5Z" fill="#0d0d0d"/>
<line x1="1866.8" y1="421.7" x2="1878.7" y2="420.8" stroke="#0d0d0d" stroke-width="5.0" stroke-linecap="round"/>
<path d="M1884.7,420.4 L1879.0,424.4 L1878.5,417.2Z" fill="#0d0d0d"/>
<line x1="2125.2" y1="297.6" x2="2126.9" y2="302.5" stroke="#0d0d0d" stroke-width="5.0" stroke-linecap="round"/>
<path d="M2127.8,305.2 L2123.5,303.7 L2130.3,301.4Z" fill="#0d0d0d"/>
<line x1="1667.8" y1="432.7" x2="1677.8" y2="430.2" stroke="#0d0d0d" stroke-width="5.0" stroke-linecap="round"/>
<path d="M1683.2,428.8 L1678.7,433.7 L1676.9,426.7Z" fill="#0d0d0d"/>
<line x1="1626.9" y1="485.1" x2="1629.4" y2="474.3" stroke="#0d0d0d" stroke-width="5.0" stroke-linecap="round"/>
<path d="M1630.7,468.5 L1632.9,475.1 L1625.8,473.5Z" fill="#0d0d0d"/>
<line x1="1690.8" y1="491.5" x2="1696.8" y2="489.0" stroke="#0d0d0d" stroke-width="5.0" stroke-linecap="round"/>
<path d="M1700.0,487.7 L1698.2,492.4 L1695.4,485.7Z" fill="#0d0d0d"/>
<line x1="1529.6" y1="449.3" x2="1535.4" y2="449.3" stroke="#0d0d0d" stroke-width="5.0" stroke-linecap="round"/>
<path d="M1538.6,449.3 L1535.4,452.9 L1535.4,445.7Z" fill="#0d0d0d"/>
<line x1="1742.7" y1="440.4" x2="1753.6" y2="437.0" stroke="#0d0d0d" stroke-width="5.0" stroke-linecap="round"/>
<path d="M1759.3,435.2 L1754.6,440.4 L1752.5,433.6Z" fill="#0d0d0d"/>
<line x1="1774.7" y1="442.9" x2="1786.8" y2="439.4" stroke="#0d0d0d" stroke-width="5.0" stroke-linecap="round"/>
<path d="M1792.6,437.8 L1787.8,442.9 L1785.8,436.0Z" fill="#0d0d0d"/>
<line x1="1690.2" y1="492.8" x2="1702.5" y2="488.4" stroke="#0d0d0d" stroke-width="5.0" stroke-linecap="round"/>
<path d="M1708.1,486.4 L1703.7,491.8 L1701.3,485.0Z" fill="#0d0d0d"/>
<line x1="2033.1" y1="446.8" x2="2045.1" y2="445.0" stroke="#0d0d0d" stroke-width="5.0" stroke-linecap="round"/>
<path d="M2051.0,444.2 L2045.6,448.6 L2044.6,441.5Z" fill="#0d0d0d"/>
<line x1="2063.8" y1="435.2" x2="2076.0" y2="431.8" stroke="#0d0d0d" stroke-width="5.0" stroke-linecap="round"/>
<path d="M2081.7,430.1 L2077.0,435.2 L2075.0,428.3Z" fill="#0d0d0d"/>
<line x1="2081.7" y1="462.1" x2="2091.7" y2="458.8" stroke="#0d0d0d" stroke-width="5.0" stroke-linecap="round"/>
<path d="M2097.1,457.0 L2092.9,462.2 L2090.6,455.4Z" fill="#0d0d0d"/>
<line x1="2043.4" y1="478.7" x2="2052.1" y2="488.4" stroke="#0d0d0d" stroke-width="5.0" stroke-linecap="round"/>
<path d="M2056.2,492.8 L2049.5,490.8 L2054.8,485.9Z" fill="#0d0d0d"/>
<line x1="2017.8" y1="503.0" x2="2040.9" y2="517.7" stroke="#0d0d0d" stroke-width="5.0" stroke-linecap="round"/>
<path d="M2045.9,521.0 L2038.9,520.8 L2042.8,514.7Z" fill="#0d0d0d"/>
<line x1="2066.4" y1="496.6" x2="2075.3" y2="507.4" stroke="#0d0d0d" stroke-width="5.0" stroke-linecap="round"/>
<path d="M2079.2,512.0 L2072.6,509.7 L2078.1,505.1Z" fill="#0d0d0d"/>
<line x1="1958.9" y1="533.8" x2="1969.3" y2="526.8" stroke="#0d0d0d" stroke-width="5.0" stroke-linecap="round"/>
<path d="M1974.3,523.5 L1971.3,529.8 L1967.3,523.8Z" fill="#0d0d0d"/>
<line x1="2005.0" y1="542.7" x2="2014.4" y2="535.0" stroke="#0d0d0d" stroke-width="5.0" stroke-linecap="round"/>
<path d="M2019.0,531.2 L2016.7,537.8 L2012.1,532.2Z" fill="#0d0d0d"/>
<line x1="2039.5" y1="542.7" x2="2049.5" y2="538.5" stroke="#0d0d0d" stroke-width="5.0" stroke-linecap="round"/>
<path d="M2054.9,536.3 L2050.9,541.9 L2048.1,535.2Z" fill="#0d0d0d"/>
<line x1="2068.9" y1="537.6" x2="2083.4" y2="537.6" stroke="#0d0d0d" stroke-width="5.0" stroke-linecap="round"/>
<path d="M2089.4,537.6 L2083.4,541.2 L2083.4,534.0Z" fill="#0d0d0d"/>
</g>
<rect x="1221.5" y="27.0" width="937.0" height="535.0" fill="none" stroke="#1e1a1a" stroke-width="3.6"/>
<text x="1246.5" y="68.9" font-size="38" text-anchor="start" textLength="40.9" lengthAdjust="spacingAndGlyphs" fill="#231f20" stroke="#231f20" stroke-width="0.55">(b)</text>
<line x1="1338.1" y1="562.0" x2="1338.1" y2="581.0" stroke="#231f20" stroke-width="3.2"/>
<text x="1338.1" y="615.0" font-size="26" text-anchor="middle" textLength="69.7" lengthAdjust="spacingAndGlyphs" fill="#231f20" stroke="#231f20" stroke-width="0.55">135°W</text>
<line x1="1455.3" y1="562.0" x2="1455.3" y2="581.0" stroke="#231f20" stroke-width="3.2"/>
<text x="1455.3" y="615.0" font-size="26" text-anchor="middle" textLength="56.8" lengthAdjust="spacingAndGlyphs" fill="#231f20" stroke="#231f20" stroke-width="0.55">90°W</text>
<line x1="1572.5" y1="562.0" x2="1572.5" y2="581.0" stroke="#231f20" stroke-width="3.2"/>
<text x="1572.5" y="615.0" font-size="26" text-anchor="middle" textLength="56.8" lengthAdjust="spacingAndGlyphs" fill="#231f20" stroke="#231f20" stroke-width="0.55">45°W</text>
<line x1="1689.7" y1="562.0" x2="1689.7" y2="581.0" stroke="#231f20" stroke-width="3.2"/>
<text x="1689.7" y="615.0" font-size="26" text-anchor="middle" textLength="22.1" lengthAdjust="spacingAndGlyphs" fill="#231f20" stroke="#231f20" stroke-width="0.55">0°</text>
<line x1="1806.9" y1="562.0" x2="1806.9" y2="581.0" stroke="#231f20" stroke-width="3.2"/>
<text x="1806.9" y="615.0" font-size="26" text-anchor="middle" textLength="50.4" lengthAdjust="spacingAndGlyphs" fill="#231f20" stroke="#231f20" stroke-width="0.55">45°E</text>
<line x1="1924.1" y1="562.0" x2="1924.1" y2="581.0" stroke="#231f20" stroke-width="3.2"/>
<text x="1924.1" y="615.0" font-size="26" text-anchor="middle" textLength="50.4" lengthAdjust="spacingAndGlyphs" fill="#231f20" stroke="#231f20" stroke-width="0.55">90°E</text>
<line x1="2041.3" y1="562.0" x2="2041.3" y2="581.0" stroke="#231f20" stroke-width="3.2"/>
<text x="2041.3" y="615.0" font-size="26" text-anchor="middle" textLength="63.3" lengthAdjust="spacingAndGlyphs" fill="#231f20" stroke="#231f20" stroke-width="0.55">135°E</text>
<line x1="1201.5" y1="116.2" x2="1221.5" y2="116.2" stroke="#231f20" stroke-width="3.2"/>
<text x="1189.5" y="125.3" font-size="26" text-anchor="end" textLength="51.7" lengthAdjust="spacingAndGlyphs" fill="#231f20" stroke="#231f20" stroke-width="0.55">60°N</text>
<line x1="1201.5" y1="205.3" x2="1221.5" y2="205.3" stroke="#231f20" stroke-width="3.2"/>
<text x="1189.5" y="214.4" font-size="26" text-anchor="end" textLength="51.7" lengthAdjust="spacingAndGlyphs" fill="#231f20" stroke="#231f20" stroke-width="0.55">30°N</text>
<line x1="1201.5" y1="294.5" x2="1221.5" y2="294.5" stroke="#231f20" stroke-width="3.2"/>
<text x="1189.5" y="303.6" font-size="26" text-anchor="end" textLength="22.1" lengthAdjust="spacingAndGlyphs" fill="#231f20" stroke="#231f20" stroke-width="0.55">0°</text>
<line x1="1201.5" y1="383.7" x2="1221.5" y2="383.7" stroke="#231f20" stroke-width="3.2"/>
<text x="1189.5" y="392.8" font-size="26" text-anchor="end" textLength="50.4" lengthAdjust="spacingAndGlyphs" fill="#231f20" stroke="#231f20" stroke-width="0.55">30°S</text>
<line x1="1201.5" y1="472.8" x2="1221.5" y2="472.8" stroke="#231f20" stroke-width="3.2"/>
<text x="1189.5" y="481.9" font-size="26" text-anchor="end" textLength="50.4" lengthAdjust="spacingAndGlyphs" fill="#231f20" stroke="#231f20" stroke-width="0.55">60°S</text>
<text x="2127.0" y="648.0" font-size="19" text-anchor="middle" textLength="44.1" lengthAdjust="spacingAndGlyphs" fill="#231f20" stroke="#231f20" stroke-width="0.55">5 m/s</text>
<line x1="2117.0" y1="665.0" x2="2132.0" y2="665.0" stroke="#0d0d0d" stroke-width="5" stroke-linecap="round"/>
<path d="M2137.0,665.0 L2132.0,668.8 L2132.0,661.2Z" fill="#0d0d0d"/>
<clipPath id="clc"><path d="M133.8,1030.5 L137.6,1020.5 L151.3,1014.2 L163.9,1011.7 L177.7,1014.2 L181.4,1005.4 L195.2,1002.9 L212.7,996.7 L230.3,991.7 L234.0,982.9 L239.0,975.4 L235.3,965.3 L232.8,954.1 L226.5,951.6 L245.3,946.6 L262.8,945.3 L264.1,937.8 L270.4,920.2 L285.4,921.5 L300.4,924.0 L310.5,920.2 L310.5,904.0 L325.5,899.0 L328.0,892.7 L343.0,892.7 L346.8,900.2 L356.8,906.5 L370.6,909.0 L380.6,914.0 L388.1,924.0 L389.4,940.3 L386.9,946.6 L400.7,949.1 L428.2,951.6 L443.2,959.1 L455.8,961.6 L460.8,972.9 L465.8,981.6 L485.8,982.9 L523.4,982.9 L551.0,987.9 L570.0,993.0 L585.4,995.5 L595.6,996.8 L621.2,987.8 L646.8,986.0 L667.2,984.0 L677.5,977.6 L692.8,968.6 L689.0,958.4 L695.4,950.7 L713.3,952.0 L731.2,948.2 L754.2,940.5 L760.6,932.8 L774.7,927.7 L810.5,926.4 L809.3,917.5 L795.2,909.8 L774.7,911.1 L751.7,911.1 L749.1,904.7 L767.0,882.9 L787.5,884.2 L801.6,877.8 L815.6,859.9 L823.3,845.8 L814.4,842.0 L823.3,835.6 L841.2,833.0 L864.3,830.5 L895.0,835.6 L905.2,845.8 L915.4,859.9 L925.7,882.9 L946.2,886.8 L964.1,894.4 L971.7,908.5 L999.9,907.2 L1033.2,902.1 L1028.0,912.4 L1020.4,922.6 L1012.7,937.9 L1005.0,948.2 L979.4,953.3 L976.9,973.8 L966.6,984.0 L953.8,989.1 L941.0,994.2 L933.4,999.4 L923.1,999.4 L902.7,1004.5 L879.6,1017.3 L859.2,1030.1 L841.2,1035.2 L830.5,1038.5 L833.6,1027.5 L838.7,1017.3 L842.5,1012.1 L825.9,1014.7 L815.6,1019.8 L795.2,1030.1 L782.4,1037.7 L787.5,1045.4 L800.3,1053.1 L805.4,1059.5 L825.9,1055.6 L851.5,1056.9 L852.8,1062.0 L836.1,1065.1 L815.6,1075.4 L805.4,1088.1 L813.1,1098.4 L823.3,1111.2 L831.0,1126.5 L841.2,1136.8 L843.8,1147.0 L854.0,1152.1 L843.8,1162.4 L838.7,1172.6 L836.1,1185.4 L825.9,1195.6 L818.2,1205.9 L810.5,1216.1 L805.4,1226.3 L795.2,1234.0 L779.8,1244.2 L764.5,1254.5 L749.1,1262.1 L728.6,1267.3 L713.3,1272.4 L692.8,1277.5 L674.9,1281.3 L672.4,1292.9 L669.8,1299.8 L664.7,1292.9 L659.6,1283.9 L646.8,1280.6 L637.6,1282.6 L621.2,1274.9 L616.1,1264.7 L600.7,1262.1 L585.4,1264.7 L580.0,1265.5 L568.5,1266.7 L556.0,1269.2 L546.0,1275.5 L548.5,1284.3 L543.5,1285.5 L536.0,1280.5 L525.9,1281.7 L520.9,1278.0 L510.9,1273.0 L510.9,1263.0 L505.9,1257.9 L500.9,1247.9 L485.8,1246.7 L485.8,1232.9 L493.4,1222.9 L500.9,1210.3 L498.4,1196.6 L493.4,1187.8 L485.8,1185.3 L480.8,1192.8 L470.8,1190.3 L455.8,1189.0 L435.7,1197.8 L428.2,1204.1 L405.7,1205.3 L403.2,1200.3 L395.6,1190.3 L375.6,1187.8 L365.6,1190.3 L360.6,1200.3 L355.6,1190.3 L335.5,1191.5 L315.5,1189.0 L295.4,1180.3 L290.4,1172.8 L280.4,1170.2 L260.3,1160.2 L250.3,1156.5 L246.6,1161.5 L240.3,1159.0 L225.3,1150.2 L211.5,1145.2 L210.2,1135.2 L205.2,1126.4 L216.5,1120.1 L211.5,1112.6 L210.2,1100.1 L202.7,1095.1 L197.7,1085.1 L185.2,1083.8 L172.6,1078.8 L170.1,1070.0 L160.1,1065.0 L147.6,1060.6 L153.8,1058.1 L155.1,1050.5 L150.1,1041.8 L135.1,1039.3ZM841.2,1226.3 L843.8,1234.0 L836.1,1254.5 L828.4,1269.8 L824.6,1277.5 L816.9,1264.7 L815.6,1249.4 L825.9,1236.6ZM646.8,1313.3 L654.4,1305.6 L669.8,1301.8 L686.4,1303.1 L677.5,1315.9 L667.2,1326.1 L657.0,1327.4 L646.8,1321.0Z"/></clipPath>
<g clip-path="url(#clc)">
<rect x="111" y="810" width="937" height="534" fill="#e6301a"/>
<path d="M210.0,1093.0 L228.0,1070.0 L260.0,1062.0 L361.0,1062.0 L388.0,1070.0 L461.0,1098.0 L466.0,1125.0 L336.0,1133.0 L218.0,1130.0Z" fill="#ea5c1c"/>
<path d="M556.6,1013.0 L560.0,990.0 L700.0,955.0 L748.5,918.4 L802.2,908.1 L860.0,898.0 L877.0,897.0 L928.0,889.0 L1060.0,880.0 L1060.0,1350.0 L470.0,1350.0 L484.8,1250.0 L505.6,1160.7 L523.3,1123.1 L538.6,1084.7 L543.8,1059.1 L548.9,1033.5Z" fill="#d81719"/>
<path d="M546.0,1160.0 L559.0,1136.0 L580.0,1105.0 L597.0,1074.0 L623.0,1044.0 L661.0,1016.0 L713.0,990.0 L764.0,972.0 L826.0,962.0 L877.0,960.0 L980.0,966.0 L1060.0,966.0 L1060.0,1350.0 L500.0,1350.0 L516.0,1278.0 L523.0,1235.0 L531.0,1185.0Z" fill="#a31c22"/>
<path d="M585.0,1265.0 L590.0,1213.0 L606.0,1162.0 L621.0,1124.0 L636.0,1075.0 L661.0,1044.0 L700.0,1018.0 L729.0,1008.0 L762.0,999.0 L800.0,1004.0 L843.0,1012.0 L1060.0,1012.0 L1060.0,1350.0 L570.0,1350.0Z" fill="#73161c"/>
<path d="M644.0,1239.0 L644.0,1188.0 L660.0,1144.0 L668.0,1110.0 L672.0,1075.0 L687.0,1044.0 L733.0,1023.0 L800.0,1030.0 L880.0,1030.0 L880.0,1200.0 L813.0,1208.0 L800.0,1219.0 L770.0,1237.0 L729.0,1247.0 L685.0,1240.0Z" fill="#430408"/>
<path d="M713.0,1059.0 L743.0,1054.0 L771.0,1092.0 L779.0,1123.0 L751.0,1151.0 L718.0,1136.0 L708.0,1097.0Z" fill="#0f0203"/>
</g>
<path d="M208.0,1099.2 L221.1,1086.5 L262.1,1082.2 L286.9,1085.0 L323.4,1073.7 L370.2,1076.6 L390.6,1073.7M390.6,1073.7 L390.6,1058.2 L377.5,1042.7 L411.1,1032.8 L415.5,1017.3 L449.1,997.5 L463.7,991.8 L462.2,982.0M370.2,1076.6 L371.6,1107.6 L384.8,1117.5 L411.1,1120.3 L443.2,1124.6 L466.6,1138.7 L487.0,1124.6 L487.0,1110.5M487.0,1124.6 L503.1,1155.6 L507.5,1179.6 L500.2,1188.1 L484.1,1186.7M487.0,1110.5 L494.4,1102.0 L517.7,1123.2 L535.3,1124.6 L544.0,1114.7 L533.8,1102.0 L558.6,1099.2 L551.3,1094.9 L561.6,1073.7 L554.3,1058.2 L520.6,1042.7 L504.6,1032.8 L473.9,1032.8 L462.2,1046.9 L435.9,1041.3 L411.1,1032.8M481.2,983.4 L487.0,1000.3 L498.7,1011.6 L522.1,1011.6 L516.3,1020.1 L536.7,1034.2 L558.6,1031.4 L579.1,1028.6 L573.2,1046.9 L583.5,1058.2M583.5,1058.2 L596.6,1049.7 L608.3,1032.8 L620.0,1031.4 L621.5,1045.5 L631.7,1055.4 L625.8,1066.7 L615.6,1078.0 L611.2,1089.3 L602.5,1080.8 L599.5,1069.5 L583.5,1058.2M558.6,1099.2 L579.1,1116.1 L601.0,1124.6 L615.6,1103.4 L614.2,1092.1 L611.2,1089.3M631.7,1055.4 L647.8,1070.9 L646.3,1085.0 L631.7,1089.3 L615.6,1090.7M631.7,1055.4 L644.8,1046.9 L674.1,1027.1 L684.3,1030.0M684.3,1030.0 L675.5,1049.7 L672.6,1070.9 L675.5,1092.1 L671.1,1097.7M671.1,1097.7 L681.4,1106.2 L681.4,1116.1 L666.7,1126.0 L655.1,1126.0 L643.4,1131.6M601.0,1124.6 L615.6,1128.8 L630.2,1130.2 L643.4,1131.6M643.4,1131.6 L630.2,1141.5 L612.7,1158.5 L601.0,1169.8 L605.4,1183.9 L615.6,1186.7M684.3,1030.0 L694.5,1017.3 L710.6,1014.4 L726.7,1011.6M726.7,1011.6 L722.3,1028.6 L717.9,1044.1 L720.8,1063.9 L725.2,1075.2M725.2,1075.2 L713.5,1086.5 L696.0,1092.1 L671.1,1097.7M726.7,1011.6 L747.1,1000.3 L761.7,984.8 L780.7,993.3 L802.6,1008.8 L809.9,1020.1M780.7,1045.5 L761.7,1056.8 L747.1,1073.7 L725.2,1075.2M747.1,1027.1 L754.4,1014.4 L764.6,1007.4 L774.9,1014.4 L769.0,1024.3 L758.8,1028.6 L747.1,1027.1M766.1,1028.6 L780.7,1021.5 L783.6,1032.8 L773.4,1041.3 L766.1,1028.6M681.4,1116.1 L703.3,1128.8 L725.2,1138.7 L744.2,1137.3M744.2,1137.3 L748.6,1127.4 L763.2,1107.6 L754.4,1097.7M754.4,1097.7 L744.2,1087.9 L747.1,1073.7M802.6,1090.7 L783.6,1097.7 L763.2,1100.6 L754.4,1097.7M763.2,1100.6 L776.3,1110.5 L788.0,1120.3 L790.9,1134.5 L801.2,1144.3M801.2,1144.3 L820.2,1148.6 L827.5,1148.6M826.0,1140.1 L833.3,1151.4M744.2,1137.3 L754.4,1148.6 L761.7,1162.7 L776.3,1165.5 L786.6,1169.8 L801.2,1159.9 L801.2,1144.3M643.4,1131.6 L659.4,1141.5 L663.8,1155.6 L659.4,1165.5M659.4,1165.5 L674.1,1165.5 L696.0,1169.8 L717.9,1172.6 L728.1,1172.6M728.1,1172.6 L747.1,1166.9 L761.7,1162.7M728.1,1172.6 L725.2,1190.9 L722.3,1207.9 L725.2,1224.8 L717.9,1229.1M717.9,1229.1 L703.3,1236.1 L688.7,1233.3M688.7,1233.3 L674.1,1220.6 L660.9,1219.2M660.9,1219.2 L652.1,1198.0 L649.2,1186.7 L659.4,1165.5M776.3,1165.5 L786.6,1179.6 L783.6,1190.9M783.6,1190.9 L776.3,1190.9 L763.2,1205.1 L760.3,1220.6 L751.5,1240.4M751.5,1240.4 L736.9,1240.4 L725.2,1224.8M783.6,1190.9 L798.2,1196.6 L820.2,1202.2M751.5,1240.4 L761.7,1241.8 L771.9,1253.1M688.7,1233.3 L693.0,1247.4 L688.7,1261.5 L663.8,1281.3M660.9,1219.2 L644.8,1226.2 L622.9,1233.3 L605.4,1237.5 L593.7,1243.2 L586.4,1253.1M593.7,1243.2 L586.4,1233.3 L579.1,1219.2 L586.4,1205.1 L601.0,1196.6M601.0,1196.6 L615.6,1186.7 L630.2,1174.0 L649.2,1186.7M507.5,1179.6 L523.6,1190.9 L535.3,1212.1 L549.9,1216.4 L564.5,1209.3 L579.1,1198.0 L601.0,1196.6M834.8,833.7 L849.4,859.1 L878.6,873.2 L893.2,894.4 L871.3,915.6 L856.7,929.7 L864.0,939.6M864.0,939.6 L842.1,943.8 L837.7,958.0 L849.4,972.1M849.4,972.1 L827.5,982.0 L812.8,993.3 L802.6,1008.8M864.0,939.6 L885.9,946.7 L907.8,948.1 L922.4,958.0 L944.3,963.6 L972.1,958.0 L977.9,952.3M849.4,972.1 L875.7,974.9 L893.2,993.3 L907.8,1000.3" fill="none" stroke="#1a1010" stroke-width="1.5" stroke-linejoin="round"/>
<path d="M133.8,1030.5 L137.6,1020.5 L151.3,1014.2 L163.9,1011.7 L177.7,1014.2 L181.4,1005.4 L195.2,1002.9 L212.7,996.7 L230.3,991.7 L234.0,982.9 L239.0,975.4 L235.3,965.3 L232.8,954.1 L226.5,951.6 L245.3,946.6 L262.8,945.3 L264.1,937.8 L270.4,920.2 L285.4,921.5 L300.4,924.0 L310.5,920.2 L310.5,904.0 L325.5,899.0 L328.0,892.7 L343.0,892.7 L346.8,900.2 L356.8,906.5 L370.6,909.0 L380.6,914.0 L388.1,924.0 L389.4,940.3 L386.9,946.6 L400.7,949.1 L428.2,951.6 L443.2,959.1 L455.8,961.6 L460.8,972.9 L465.8,981.6 L485.8,982.9 L523.4,982.9 L551.0,987.9 L570.0,993.0 L585.4,995.5 L595.6,996.8 L621.2,987.8 L646.8,986.0 L667.2,984.0 L677.5,977.6 L692.8,968.6 L689.0,958.4 L695.4,950.7 L713.3,952.0 L731.2,948.2 L754.2,940.5 L760.6,932.8 L774.7,927.7 L810.5,926.4 L809.3,917.5 L795.2,909.8 L774.7,911.1 L751.7,911.1 L749.1,904.7 L767.0,882.9 L787.5,884.2 L801.6,877.8 L815.6,859.9 L823.3,845.8 L814.4,842.0 L823.3,835.6 L841.2,833.0 L864.3,830.5 L895.0,835.6 L905.2,845.8 L915.4,859.9 L925.7,882.9 L946.2,886.8 L964.1,894.4 L971.7,908.5 L999.9,907.2 L1033.2,902.1 L1028.0,912.4 L1020.4,922.6 L1012.7,937.9 L1005.0,948.2 L979.4,953.3 L976.9,973.8 L966.6,984.0 L953.8,989.1 L941.0,994.2 L933.4,999.4 L923.1,999.4 L902.7,1004.5 L879.6,1017.3 L859.2,1030.1 L841.2,1035.2 L830.5,1038.5 L833.6,1027.5 L838.7,1017.3 L842.5,1012.1 L825.9,1014.7 L815.6,1019.8 L795.2,1030.1 L782.4,1037.7 L787.5,1045.4 L800.3,1053.1 L805.4,1059.5 L825.9,1055.6 L851.5,1056.9 L852.8,1062.0 L836.1,1065.1 L815.6,1075.4 L805.4,1088.1 L813.1,1098.4 L823.3,1111.2 L831.0,1126.5 L841.2,1136.8 L843.8,1147.0 L854.0,1152.1 L843.8,1162.4 L838.7,1172.6 L836.1,1185.4 L825.9,1195.6 L818.2,1205.9 L810.5,1216.1 L805.4,1226.3 L795.2,1234.0 L779.8,1244.2 L764.5,1254.5 L749.1,1262.1 L728.6,1267.3 L713.3,1272.4 L692.8,1277.5 L674.9,1281.3 L672.4,1292.9 L669.8,1299.8 L664.7,1292.9 L659.6,1283.9 L646.8,1280.6 L637.6,1282.6 L621.2,1274.9 L616.1,1264.7 L600.7,1262.1 L585.4,1264.7 L580.0,1265.5 L568.5,1266.7 L556.0,1269.2 L546.0,1275.5 L548.5,1284.3 L543.5,1285.5 L536.0,1280.5 L525.9,1281.7 L520.9,1278.0 L510.9,1273.0 L510.9,1263.0 L505.9,1257.9 L500.9,1247.9 L485.8,1246.7 L485.8,1232.9 L493.4,1222.9 L500.9,1210.3 L498.4,1196.6 L493.4,1187.8 L485.8,1185.3 L480.8,1192.8 L470.8,1190.3 L455.8,1189.0 L435.7,1197.8 L428.2,1204.1 L405.7,1205.3 L403.2,1200.3 L395.6,1190.3 L375.6,1187.8 L365.6,1190.3 L360.6,1200.3 L355.6,1190.3 L335.5,1191.5 L315.5,1189.0 L295.4,1180.3 L290.4,1172.8 L280.4,1170.2 L260.3,1160.2 L250.3,1156.5 L246.6,1161.5 L240.3,1159.0 L225.3,1150.2 L211.5,1145.2 L210.2,1135.2 L205.2,1126.4 L216.5,1120.1 L211.5,1112.6 L210.2,1100.1 L202.7,1095.1 L197.7,1085.1 L185.2,1083.8 L172.6,1078.8 L170.1,1070.0 L160.1,1065.0 L147.6,1060.6 L153.8,1058.1 L155.1,1050.5 L150.1,1041.8 L135.1,1039.3ZM841.2,1226.3 L843.8,1234.0 L836.1,1254.5 L828.4,1269.8 L824.6,1277.5 L816.9,1264.7 L815.6,1249.4 L825.9,1236.6ZM646.8,1313.3 L654.4,1305.6 L669.8,1301.8 L686.4,1303.1 L677.5,1315.9 L667.2,1326.1 L657.0,1327.4 L646.8,1321.0Z" fill="none" stroke="#1a1010" stroke-width="1.9" stroke-linejoin="round"/>
<path d="M841.2,1136.8 L843.8,1147.0 L854.0,1152.1 L843.8,1162.4 L838.7,1172.6 L836.1,1185.4 L825.9,1195.6 L818.2,1205.9 L810.5,1216.1 L805.4,1226.3 L795.2,1234.0 L779.8,1244.2 L764.5,1254.5 L749.1,1262.1 L728.6,1267.3 L713.3,1272.4" fill="none" stroke="#111" stroke-width="3.6" stroke-linejoin="round"/>
<line x1="854.0" y1="1236.6" x2="855.3" y2="1249.4" stroke="#111" stroke-width="1.6"/>
<line x1="833.6" y1="1290.3" x2="841.2" y2="1277.5" stroke="#111" stroke-width="1.6"/>
<line x1="805.4" y1="1328.7" x2="811.8" y2="1318.4" stroke="#111" stroke-width="1.6"/>
<line x1="754.2" y1="1287.7" x2="755.5" y2="1290.3" stroke="#111" stroke-width="1.6"/>
<line x1="767.0" y1="1291.6" x2="768.3" y2="1294.1" stroke="#111" stroke-width="1.6"/>
<line x1="710.7" y1="1309.5" x2="712.0" y2="1310.8" stroke="#111" stroke-width="1.6"/>
<line x1="723.5" y1="1313.3" x2="724.8" y2="1314.6" stroke="#111" stroke-width="1.6"/>
<line x1="833.6" y1="1269.8" x2="838.7" y2="1277.5" stroke="#111" stroke-width="1.6"/>
<clipPath id="insc"><rect x="860.4" y="1098.4" width="183.0000000000001" height="239.19999999999982"/></clipPath>
<rect x="860.4" y="1098.4" width="183.0000000000001" height="239.19999999999982" fill="#fff"/>
<g clip-path="url(#insc)">
<clipPath id="inslc"><path d="M555.2,972.5 L557.8,965.7 L567.1,961.4 L575.5,959.7 L584.8,961.4 L587.3,955.4 L596.6,953.6 L608.5,949.4 L620.3,945.9 L622.8,939.9 L626.2,934.8 L623.7,927.9 L622.0,920.2 L617.7,918.5 L630.4,915.0 L642.2,914.2 L643.1,909.0 L647.3,897.0 L657.4,897.9 L667.6,899.6 L674.3,897.0 L674.3,885.9 L684.5,882.4 L686.2,878.1 L696.3,878.1 L698.8,883.3 L705.6,887.6 L714.9,889.3 L721.6,892.7 L726.7,899.6 L727.6,910.7 L725.9,915.0 L735.2,916.8 L753.7,918.5 L763.9,923.6 L772.3,925.3 L775.7,933.1 L779.1,939.1 L792.6,939.9 L817.9,939.9 L836.5,943.4 L849.3,946.8 L859.7,948.6 L866.6,949.4 L883.8,943.3 L901.1,942.1 L914.9,940.7 L921.8,936.3 L932.1,930.2 L929.5,923.2 L933.9,917.9 L945.9,918.8 L958.0,916.1 L973.5,910.9 L977.9,905.6 L987.3,902.1 L1011.5,901.3 L1010.6,895.1 L1001.1,889.9 L987.3,890.7 L971.8,890.7 L970.1,886.4 L982.2,871.5 L996.0,872.3 L1005.5,868.0 L1014.9,855.7 L1020.1,846.1 L1014.1,843.4 L1020.1,839.0 L1032.2,837.3 L1047.7,835.5 L1068.4,839.0 L1075.3,846.1 L1082.2,855.7 L1089.1,871.5 L1102.9,874.1 L1115.0,879.3 L1120.2,889.0 L1139.2,888.1 L1161.6,884.6 L1158.1,891.6 L1153.0,898.6 L1147.8,909.1 L1142.6,916.1 L1125.4,919.7 L1123.6,933.7 L1116.7,940.7 L1108.1,944.2 L1099.5,947.7 L1094.3,951.2 L1087.4,951.2 L1073.6,954.7 L1058.1,963.5 L1044.3,972.2 L1032.2,975.7 L1024.9,978.0 L1027.0,970.5 L1030.5,963.5 L1033.1,960.0 L1021.8,961.7 L1014.9,965.2 L1001.1,972.2 L992.5,977.5 L996.0,982.7 L1004.6,988.0 L1008.0,992.4 L1021.8,989.8 L1039.1,990.6 L1040.0,994.1 L1028.7,996.2 L1014.9,1003.2 L1008.0,1012.0 L1013.2,1019.0 L1020.1,1027.8 L1025.3,1038.3 L1032.2,1045.3 L1033.9,1052.3 L1040.8,1055.8 L1033.9,1062.8 L1030.5,1069.8 L1028.7,1078.6 L1021.8,1085.6 L1016.7,1092.6 L1011.5,1099.6 L1008.0,1106.6 L1001.1,1111.9 L990.8,1118.9 L980.4,1125.9 L970.1,1131.2 L956.3,1134.7 L945.9,1138.2 L932.1,1141.7 L920.1,1144.3 L918.3,1152.2 L916.6,1156.9 L913.2,1152.2 L909.7,1146.1 L901.1,1143.8 L894.9,1145.2 L883.8,1139.9 L880.4,1132.9 L870.0,1131.2 L859.7,1132.9 L856.1,1133.4 L848.3,1134.3 L839.9,1136.0 L833.1,1140.3 L834.8,1146.3 L831.4,1147.2 L826.4,1143.7 L819.6,1144.6 L816.2,1142.0 L809.5,1138.6 L809.5,1131.7 L806.1,1128.3 L802.7,1121.4 L792.6,1120.6 L792.6,1111.1 L797.7,1104.3 L802.7,1095.7 L801.0,1086.3 L797.7,1080.2 L792.6,1078.5 L789.2,1083.7 L782.5,1082.0 L772.3,1081.1 L758.8,1087.1 L753.7,1091.4 L738.5,1092.3 L736.8,1088.8 L731.8,1082.0 L718.3,1080.2 L711.5,1082.0 L708.1,1088.8 L704.7,1082.0 L691.2,1082.8 L677.7,1081.1 L664.2,1075.1 L660.8,1069.9 L654.1,1068.2 L640.6,1061.4 L633.8,1058.8 L631.3,1062.2 L627.0,1060.5 L616.9,1054.5 L607.6,1051.1 L606.8,1044.2 L603.4,1038.2 L611.0,1033.9 L607.6,1028.8 L606.8,1020.2 L601.7,1016.8 L598.3,1009.9 L589.9,1009.0 L581.4,1005.6 L579.7,999.6 L573.0,996.2 L564.5,993.1 L568.8,991.4 L569.6,986.3 L566.2,980.2 L556.1,978.5ZM1032.2,1106.6 L1033.9,1111.9 L1028.7,1125.9 L1023.6,1136.4 L1021.0,1141.7 L1015.8,1132.9 L1014.9,1122.4 L1021.8,1113.6ZM901.1,1166.2 L906.3,1161.0 L916.6,1158.3 L927.8,1159.2 L921.8,1168.0 L914.9,1175.0 L908.0,1175.9 L901.1,1171.5Z"/></clipPath>
<path d="M555.2,972.5 L557.8,965.7 L567.1,961.4 L575.5,959.7 L584.8,961.4 L587.3,955.4 L596.6,953.6 L608.5,949.4 L620.3,945.9 L622.8,939.9 L626.2,934.8 L623.7,927.9 L622.0,920.2 L617.7,918.5 L630.4,915.0 L642.2,914.2 L643.1,909.0 L647.3,897.0 L657.4,897.9 L667.6,899.6 L674.3,897.0 L674.3,885.9 L684.5,882.4 L686.2,878.1 L696.3,878.1 L698.8,883.3 L705.6,887.6 L714.9,889.3 L721.6,892.7 L726.7,899.6 L727.6,910.7 L725.9,915.0 L735.2,916.8 L753.7,918.5 L763.9,923.6 L772.3,925.3 L775.7,933.1 L779.1,939.1 L792.6,939.9 L817.9,939.9 L836.5,943.4 L849.3,946.8 L859.7,948.6 L866.6,949.4 L883.8,943.3 L901.1,942.1 L914.9,940.7 L921.8,936.3 L932.1,930.2 L929.5,923.2 L933.9,917.9 L945.9,918.8 L958.0,916.1 L973.5,910.9 L977.9,905.6 L987.3,902.1 L1011.5,901.3 L1010.6,895.1 L1001.1,889.9 L987.3,890.7 L971.8,890.7 L970.1,886.4 L982.2,871.5 L996.0,872.3 L1005.5,868.0 L1014.9,855.7 L1020.1,846.1 L1014.1,843.4 L1020.1,839.0 L1032.2,837.3 L1047.7,835.5 L1068.4,839.0 L1075.3,846.1 L1082.2,855.7 L1089.1,871.5 L1102.9,874.1 L1115.0,879.3 L1120.2,889.0 L1139.2,888.1 L1161.6,884.6 L1158.1,891.6 L1153.0,898.6 L1147.8,909.1 L1142.6,916.1 L1125.4,919.7 L1123.6,933.7 L1116.7,940.7 L1108.1,944.2 L1099.5,947.7 L1094.3,951.2 L1087.4,951.2 L1073.6,954.7 L1058.1,963.5 L1044.3,972.2 L1032.2,975.7 L1024.9,978.0 L1027.0,970.5 L1030.5,963.5 L1033.1,960.0 L1021.8,961.7 L1014.9,965.2 L1001.1,972.2 L992.5,977.5 L996.0,982.7 L1004.6,988.0 L1008.0,992.4 L1021.8,989.8 L1039.1,990.6 L1040.0,994.1 L1028.7,996.2 L1014.9,1003.2 L1008.0,1012.0 L1013.2,1019.0 L1020.1,1027.8 L1025.3,1038.3 L1032.2,1045.3 L1033.9,1052.3 L1040.8,1055.8 L1033.9,1062.8 L1030.5,1069.8 L1028.7,1078.6 L1021.8,1085.6 L1016.7,1092.6 L1011.5,1099.6 L1008.0,1106.6 L1001.1,1111.9 L990.8,1118.9 L980.4,1125.9 L970.1,1131.2 L956.3,1134.7 L945.9,1138.2 L932.1,1141.7 L920.1,1144.3 L918.3,1152.2 L916.6,1156.9 L913.2,1152.2 L909.7,1146.1 L901.1,1143.8 L894.9,1145.2 L883.8,1139.9 L880.4,1132.9 L870.0,1131.2 L859.7,1132.9 L856.1,1133.4 L848.3,1134.3 L839.9,1136.0 L833.1,1140.3 L834.8,1146.3 L831.4,1147.2 L826.4,1143.7 L819.6,1144.6 L816.2,1142.0 L809.5,1138.6 L809.5,1131.7 L806.1,1128.3 L802.7,1121.4 L792.6,1120.6 L792.6,1111.1 L797.7,1104.3 L802.7,1095.7 L801.0,1086.3 L797.7,1080.2 L792.6,1078.5 L789.2,1083.7 L782.5,1082.0 L772.3,1081.1 L758.8,1087.1 L753.7,1091.4 L738.5,1092.3 L736.8,1088.8 L731.8,1082.0 L718.3,1080.2 L711.5,1082.0 L708.1,1088.8 L704.7,1082.0 L691.2,1082.8 L677.7,1081.1 L664.2,1075.1 L660.8,1069.9 L654.1,1068.2 L640.6,1061.4 L633.8,1058.8 L631.3,1062.2 L627.0,1060.5 L616.9,1054.5 L607.6,1051.1 L606.8,1044.2 L603.4,1038.2 L611.0,1033.9 L607.6,1028.8 L606.8,1020.2 L601.7,1016.8 L598.3,1009.9 L589.9,1009.0 L581.4,1005.6 L579.7,999.6 L573.0,996.2 L564.5,993.1 L568.8,991.4 L569.6,986.3 L566.2,980.2 L556.1,978.5ZM1032.2,1106.6 L1033.9,1111.9 L1028.7,1125.9 L1023.6,1136.4 L1021.0,1141.7 L1015.8,1132.9 L1014.9,1122.4 L1021.8,1113.6ZM901.1,1166.2 L906.3,1161.0 L916.6,1158.3 L927.8,1159.2 L921.8,1168.0 L914.9,1175.0 L908.0,1175.9 L901.1,1171.5Z" fill="#73161c"/>
<path clip-path="url(#inslc)" d="M898,1098 L980,1098 L973,1116 L928,1119 L899,1113Z" fill="#430408"/>
<path d="M555.2,972.5 L557.8,965.7 L567.1,961.4 L575.5,959.7 L584.8,961.4 L587.3,955.4 L596.6,953.6 L608.5,949.4 L620.3,945.9 L622.8,939.9 L626.2,934.8 L623.7,927.9 L622.0,920.2 L617.7,918.5 L630.4,915.0 L642.2,914.2 L643.1,909.0 L647.3,897.0 L657.4,897.9 L667.6,899.6 L674.3,897.0 L674.3,885.9 L684.5,882.4 L686.2,878.1 L696.3,878.1 L698.8,883.3 L705.6,887.6 L714.9,889.3 L721.6,892.7 L726.7,899.6 L727.6,910.7 L725.9,915.0 L735.2,916.8 L753.7,918.5 L763.9,923.6 L772.3,925.3 L775.7,933.1 L779.1,939.1 L792.6,939.9 L817.9,939.9 L836.5,943.4 L849.3,946.8 L859.7,948.6 L866.6,949.4 L883.8,943.3 L901.1,942.1 L914.9,940.7 L921.8,936.3 L932.1,930.2 L929.5,923.2 L933.9,917.9 L945.9,918.8 L958.0,916.1 L973.5,910.9 L977.9,905.6 L987.3,902.1 L1011.5,901.3 L1010.6,895.1 L1001.1,889.9 L987.3,890.7 L971.8,890.7 L970.1,886.4 L982.2,871.5 L996.0,872.3 L1005.5,868.0 L1014.9,855.7 L1020.1,846.1 L1014.1,843.4 L1020.1,839.0 L1032.2,837.3 L1047.7,835.5 L1068.4,839.0 L1075.3,846.1 L1082.2,855.7 L1089.1,871.5 L1102.9,874.1 L1115.0,879.3 L1120.2,889.0 L1139.2,888.1 L1161.6,884.6 L1158.1,891.6 L1153.0,898.6 L1147.8,909.1 L1142.6,916.1 L1125.4,919.7 L1123.6,933.7 L1116.7,940.7 L1108.1,944.2 L1099.5,947.7 L1094.3,951.2 L1087.4,951.2 L1073.6,954.7 L1058.1,963.5 L1044.3,972.2 L1032.2,975.7 L1024.9,978.0 L1027.0,970.5 L1030.5,963.5 L1033.1,960.0 L1021.8,961.7 L1014.9,965.2 L1001.1,972.2 L992.5,977.5 L996.0,982.7 L1004.6,988.0 L1008.0,992.4 L1021.8,989.8 L1039.1,990.6 L1040.0,994.1 L1028.7,996.2 L1014.9,1003.2 L1008.0,1012.0 L1013.2,1019.0 L1020.1,1027.8 L1025.3,1038.3 L1032.2,1045.3 L1033.9,1052.3 L1040.8,1055.8 L1033.9,1062.8 L1030.5,1069.8 L1028.7,1078.6 L1021.8,1085.6 L1016.7,1092.6 L1011.5,1099.6 L1008.0,1106.6 L1001.1,1111.9 L990.8,1118.9 L980.4,1125.9 L970.1,1131.2 L956.3,1134.7 L945.9,1138.2 L932.1,1141.7 L920.1,1144.3 L918.3,1152.2 L916.6,1156.9 L913.2,1152.2 L909.7,1146.1 L901.1,1143.8 L894.9,1145.2 L883.8,1139.9 L880.4,1132.9 L870.0,1131.2 L859.7,1132.9 L856.1,1133.4 L848.3,1134.3 L839.9,1136.0 L833.1,1140.3 L834.8,1146.3 L831.4,1147.2 L826.4,1143.7 L819.6,1144.6 L816.2,1142.0 L809.5,1138.6 L809.5,1131.7 L806.1,1128.3 L802.7,1121.4 L792.6,1120.6 L792.6,1111.1 L797.7,1104.3 L802.7,1095.7 L801.0,1086.3 L797.7,1080.2 L792.6,1078.5 L789.2,1083.7 L782.5,1082.0 L772.3,1081.1 L758.8,1087.1 L753.7,1091.4 L738.5,1092.3 L736.8,1088.8 L731.8,1082.0 L718.3,1080.2 L711.5,1082.0 L708.1,1088.8 L704.7,1082.0 L691.2,1082.8 L677.7,1081.1 L664.2,1075.1 L660.8,1069.9 L654.1,1068.2 L640.6,1061.4 L633.8,1058.8 L631.3,1062.2 L627.0,1060.5 L616.9,1054.5 L607.6,1051.1 L606.8,1044.2 L603.4,1038.2 L611.0,1033.9 L607.6,1028.8 L606.8,1020.2 L601.7,1016.8 L598.3,1009.9 L589.9,1009.0 L581.4,1005.6 L579.7,999.6 L573.0,996.2 L564.5,993.1 L568.8,991.4 L569.6,986.3 L566.2,980.2 L556.1,978.5ZM1032.2,1106.6 L1033.9,1111.9 L1028.7,1125.9 L1023.6,1136.4 L1021.0,1141.7 L1015.8,1132.9 L1014.9,1122.4 L1021.8,1113.6ZM901.1,1166.2 L906.3,1161.0 L916.6,1158.3 L927.8,1159.2 L921.8,1168.0 L914.9,1175.0 L908.0,1175.9 L901.1,1171.5Z" fill="none" stroke="#111" stroke-width="1.6"/>
<line x1="907.8" y1="1198.2" x2="911.6" y2="1208.4" stroke="#111" stroke-width="1.6"/>
<line x1="925.7" y1="1191.8" x2="941.0" y2="1199.5" stroke="#111" stroke-width="1.6"/>
<line x1="928.2" y1="1198.2" x2="938.5" y2="1193.1" stroke="#111" stroke-width="1.6"/>
<line x1="951.3" y1="1203.3" x2="961.5" y2="1199.5" stroke="#111" stroke-width="1.6"/>
<line x1="1002.4" y1="1200.7" x2="1003.7" y2="1211.0" stroke="#111" stroke-width="1.6"/>
<line x1="1006.3" y1="1180.3" x2="1011.4" y2="1170.0" stroke="#111" stroke-width="1.6"/>
<line x1="914.2" y1="1236.6" x2="916.7" y2="1246.8" stroke="#111" stroke-width="1.6"/>
<line x1="953.8" y1="1246.8" x2="961.5" y2="1259.6" stroke="#111" stroke-width="1.6"/>
<line x1="958.9" y1="1254.5" x2="979.4" y2="1264.7" stroke="#111" stroke-width="1.6"/>
<line x1="969.2" y1="1264.7" x2="984.5" y2="1274.9" stroke="#111" stroke-width="1.6"/>
<line x1="948.7" y1="1269.8" x2="969.2" y2="1277.5" stroke="#111" stroke-width="1.6"/>
<line x1="979.4" y1="1257.0" x2="992.2" y2="1251.9" stroke="#111" stroke-width="1.6"/>
<line x1="893.7" y1="1286.5" x2="895.0" y2="1296.7" stroke="#111" stroke-width="1.6"/>
<line x1="906.5" y1="1283.9" x2="918.0" y2="1280.1" stroke="#111" stroke-width="1.6"/>
<line x1="935.9" y1="1301.8" x2="941.0" y2="1309.5" stroke="#111" stroke-width="1.6"/>
<line x1="933.4" y1="1318.4" x2="939.8" y2="1322.3" stroke="#111" stroke-width="1.6"/>
<line x1="997.3" y1="1249.4" x2="1002.4" y2="1240.4" stroke="#111" stroke-width="1.6"/>
<line x1="964.1" y1="1274.9" x2="974.3" y2="1285.2" stroke="#111" stroke-width="1.6"/>
<line x1="941.0" y1="1285.2" x2="953.8" y2="1282.6" stroke="#111" stroke-width="1.6"/>
<line x1="976.9" y1="1218.6" x2="979.4" y2="1221.2" stroke="#111" stroke-width="1.6"/>
<line x1="942.3" y1="1164.9" x2="953.8" y2="1167.5" stroke="#111" stroke-width="1.6"/>
<line x1="971.7" y1="1148.3" x2="982.0" y2="1152.1" stroke="#111" stroke-width="1.6"/>
</g>
<rect x="860.4" y="1098.4" width="183.0000000000001" height="239.19999999999982" fill="none" stroke="#111" stroke-width="2.8"/>
<rect x="111.0" y="810.0" width="937.0" height="534.0" fill="none" stroke="#1e1a1a" stroke-width="3.6"/>
<text x="136.0" y="846.4" font-size="38" text-anchor="start" textLength="39.0" lengthAdjust="spacingAndGlyphs" fill="#231f20" stroke="#231f20" stroke-width="0.55">(c)</text>
<line x1="155.4" y1="1344.0" x2="155.4" y2="1363.0" stroke="#231f20" stroke-width="3.2"/>
<text x="155.4" y="1397.0" font-size="26" text-anchor="middle" textLength="50.4" lengthAdjust="spacingAndGlyphs" fill="#231f20" stroke="#231f20" stroke-width="0.55">75°E</text>
<line x1="374.5" y1="1344.0" x2="374.5" y2="1363.0" stroke="#231f20" stroke-width="3.2"/>
<text x="374.5" y="1397.0" font-size="26" text-anchor="middle" textLength="50.4" lengthAdjust="spacingAndGlyphs" fill="#231f20" stroke="#231f20" stroke-width="0.55">90°E</text>
<line x1="593.7" y1="1344.0" x2="593.7" y2="1363.0" stroke="#231f20" stroke-width="3.2"/>
<text x="593.7" y="1397.0" font-size="26" text-anchor="middle" textLength="63.3" lengthAdjust="spacingAndGlyphs" fill="#231f20" stroke="#231f20" stroke-width="0.55">105°E</text>
<line x1="812.8" y1="1344.0" x2="812.8" y2="1363.0" stroke="#231f20" stroke-width="3.2"/>
<text x="812.8" y="1397.0" font-size="26" text-anchor="middle" textLength="63.3" lengthAdjust="spacingAndGlyphs" fill="#231f20" stroke="#231f20" stroke-width="0.55">120°E</text>
<line x1="1032.0" y1="1344.0" x2="1032.0" y2="1363.0" stroke="#231f20" stroke-width="3.2"/>
<text x="1032.0" y="1397.0" font-size="26" text-anchor="middle" textLength="63.3" lengthAdjust="spacingAndGlyphs" fill="#231f20" stroke="#231f20" stroke-width="0.55">135°E</text>
<line x1="91.0" y1="809.7" x2="111.0" y2="809.7" stroke="#231f20" stroke-width="3.2"/>
<text x="79.0" y="818.8" font-size="26" text-anchor="end" textLength="51.7" lengthAdjust="spacingAndGlyphs" fill="#231f20" stroke="#231f20" stroke-width="0.55">55°N</text>
<line x1="91.0" y1="880.3" x2="111.0" y2="880.3" stroke="#231f20" stroke-width="3.2"/>
<text x="79.0" y="889.4" font-size="26" text-anchor="end" textLength="51.7" lengthAdjust="spacingAndGlyphs" fill="#231f20" stroke="#231f20" stroke-width="0.55">50°N</text>
<line x1="91.0" y1="950.9" x2="111.0" y2="950.9" stroke="#231f20" stroke-width="3.2"/>
<text x="79.0" y="960.0" font-size="26" text-anchor="end" textLength="51.7" lengthAdjust="spacingAndGlyphs" fill="#231f20" stroke="#231f20" stroke-width="0.55">45°N</text>
<line x1="91.0" y1="1021.5" x2="111.0" y2="1021.5" stroke="#231f20" stroke-width="3.2"/>
<text x="79.0" y="1030.6" font-size="26" text-anchor="end" textLength="51.7" lengthAdjust="spacingAndGlyphs" fill="#231f20" stroke="#231f20" stroke-width="0.55">40°N</text>
<line x1="91.0" y1="1092.1" x2="111.0" y2="1092.1" stroke="#231f20" stroke-width="3.2"/>
<text x="79.0" y="1101.2" font-size="26" text-anchor="end" textLength="51.7" lengthAdjust="spacingAndGlyphs" fill="#231f20" stroke="#231f20" stroke-width="0.55">35°N</text>
<line x1="91.0" y1="1162.7" x2="111.0" y2="1162.7" stroke="#231f20" stroke-width="3.2"/>
<text x="79.0" y="1171.8" font-size="26" text-anchor="end" textLength="51.7" lengthAdjust="spacingAndGlyphs" fill="#231f20" stroke="#231f20" stroke-width="0.55">30°N</text>
<line x1="91.0" y1="1233.3" x2="111.0" y2="1233.3" stroke="#231f20" stroke-width="3.2"/>
<text x="79.0" y="1242.4" font-size="26" text-anchor="end" textLength="51.7" lengthAdjust="spacingAndGlyphs" fill="#231f20" stroke="#231f20" stroke-width="0.55">25°N</text>
<line x1="91.0" y1="1303.9" x2="111.0" y2="1303.9" stroke="#231f20" stroke-width="3.2"/>
<text x="79.0" y="1313.0" font-size="26" text-anchor="end" textLength="51.7" lengthAdjust="spacingAndGlyphs" fill="#231f20" stroke="#231f20" stroke-width="0.55">20°N</text>
<g transform="translate(1111,0)">
<clipPath id="cld"><path d="M133.8,1030.5 L137.6,1020.5 L151.3,1014.2 L163.9,1011.7 L177.7,1014.2 L181.4,1005.4 L195.2,1002.9 L212.7,996.7 L230.3,991.7 L234.0,982.9 L239.0,975.4 L235.3,965.3 L232.8,954.1 L226.5,951.6 L245.3,946.6 L262.8,945.3 L264.1,937.8 L270.4,920.2 L285.4,921.5 L300.4,924.0 L310.5,920.2 L310.5,904.0 L325.5,899.0 L328.0,892.7 L343.0,892.7 L346.8,900.2 L356.8,906.5 L370.6,909.0 L380.6,914.0 L388.1,924.0 L389.4,940.3 L386.9,946.6 L400.7,949.1 L428.2,951.6 L443.2,959.1 L455.8,961.6 L460.8,972.9 L465.8,981.6 L485.8,982.9 L523.4,982.9 L551.0,987.9 L570.0,993.0 L585.4,995.5 L595.6,996.8 L621.2,987.8 L646.8,986.0 L667.2,984.0 L677.5,977.6 L692.8,968.6 L689.0,958.4 L695.4,950.7 L713.3,952.0 L731.2,948.2 L754.2,940.5 L760.6,932.8 L774.7,927.7 L810.5,926.4 L809.3,917.5 L795.2,909.8 L774.7,911.1 L751.7,911.1 L749.1,904.7 L767.0,882.9 L787.5,884.2 L801.6,877.8 L815.6,859.9 L823.3,845.8 L814.4,842.0 L823.3,835.6 L841.2,833.0 L864.3,830.5 L895.0,835.6 L905.2,845.8 L915.4,859.9 L925.7,882.9 L946.2,886.8 L964.1,894.4 L971.7,908.5 L999.9,907.2 L1033.2,902.1 L1028.0,912.4 L1020.4,922.6 L1012.7,937.9 L1005.0,948.2 L979.4,953.3 L976.9,973.8 L966.6,984.0 L953.8,989.1 L941.0,994.2 L933.4,999.4 L923.1,999.4 L902.7,1004.5 L879.6,1017.3 L859.2,1030.1 L841.2,1035.2 L830.5,1038.5 L833.6,1027.5 L838.7,1017.3 L842.5,1012.1 L825.9,1014.7 L815.6,1019.8 L795.2,1030.1 L782.4,1037.7 L787.5,1045.4 L800.3,1053.1 L805.4,1059.5 L825.9,1055.6 L851.5,1056.9 L852.8,1062.0 L836.1,1065.1 L815.6,1075.4 L805.4,1088.1 L813.1,1098.4 L823.3,1111.2 L831.0,1126.5 L841.2,1136.8 L843.8,1147.0 L854.0,1152.1 L843.8,1162.4 L838.7,1172.6 L836.1,1185.4 L825.9,1195.6 L818.2,1205.9 L810.5,1216.1 L805.4,1226.3 L795.2,1234.0 L779.8,1244.2 L764.5,1254.5 L749.1,1262.1 L728.6,1267.3 L713.3,1272.4 L692.8,1277.5 L674.9,1281.3 L672.4,1292.9 L669.8,1299.8 L664.7,1292.9 L659.6,1283.9 L646.8,1280.6 L637.6,1282.6 L621.2,1274.9 L616.1,1264.7 L600.7,1262.1 L585.4,1264.7 L580.0,1265.5 L568.5,1266.7 L556.0,1269.2 L546.0,1275.5 L548.5,1284.3 L543.5,1285.5 L536.0,1280.5 L525.9,1281.7 L520.9,1278.0 L510.9,1273.0 L510.9,1263.0 L505.9,1257.9 L500.9,1247.9 L485.8,1246.7 L485.8,1232.9 L493.4,1222.9 L500.9,1210.3 L498.4,1196.6 L493.4,1187.8 L485.8,1185.3 L480.8,1192.8 L470.8,1190.3 L455.8,1189.0 L435.7,1197.8 L428.2,1204.1 L405.7,1205.3 L403.2,1200.3 L395.6,1190.3 L375.6,1187.8 L365.6,1190.3 L360.6,1200.3 L355.6,1190.3 L335.5,1191.5 L315.5,1189.0 L295.4,1180.3 L290.4,1172.8 L280.4,1170.2 L260.3,1160.2 L250.3,1156.5 L246.6,1161.5 L240.3,1159.0 L225.3,1150.2 L211.5,1145.2 L210.2,1135.2 L205.2,1126.4 L216.5,1120.1 L211.5,1112.6 L210.2,1100.1 L202.7,1095.1 L197.7,1085.1 L185.2,1083.8 L172.6,1078.8 L170.1,1070.0 L160.1,1065.0 L147.6,1060.6 L153.8,1058.1 L155.1,1050.5 L150.1,1041.8 L135.1,1039.3ZM841.2,1226.3 L843.8,1234.0 L836.1,1254.5 L828.4,1269.8 L824.6,1277.5 L816.9,1264.7 L815.6,1249.4 L825.9,1236.6ZM646.8,1313.3 L654.4,1305.6 L669.8,1301.8 L686.4,1303.1 L677.5,1315.9 L667.2,1326.1 L657.0,1327.4 L646.8,1321.0Z"/></clipPath>
<g clip-path="url(#cld)">
<rect x="111" y="810" width="937" height="534" fill="#f8f5c6"/>
<path d="M649.0,1225.6 L695.7,1225.6 L737.7,1234.9 L761.1,1253.6 L747.1,1272.3 L707.4,1277.0 L672.4,1272.3 L649.0,1265.3Z" fill="#f4e29c"/>
<path d="M870.8,912.0 L877.0,909.0 L916.0,942.0 L910.0,948.0Z" fill="#f4e29c"/>
<path d="M699.0,1040.0 Q715.0,1022.0 739.0,1010.0 Q763.0,1022.0 779.0,1040.0 Q763.0,1058.0 739.0,1070.0 Q715.0,1058.0 699.0,1040.0Z" fill="#f4e29c"/>
<path d="M739.0,1080.0 Q757.0,1065.0 784.0,1055.0 Q811.0,1065.0 829.0,1080.0 Q811.0,1095.0 784.0,1105.0 Q757.0,1095.0 739.0,1080.0Z" fill="#f4e29c"/>
<path d="M674.0,1105.0 Q688.0,1090.0 709.0,1080.0 Q730.0,1090.0 744.0,1105.0 Q730.0,1120.0 709.0,1130.0 Q688.0,1120.0 674.0,1105.0Z" fill="#f4e29c"/>
<path d="M754.0,1140.0 Q770.0,1119.0 794.0,1105.0 Q818.0,1119.0 834.0,1140.0 Q818.0,1161.0 794.0,1175.0 Q770.0,1161.0 754.0,1140.0Z" fill="#f4e29c"/>
<path d="M749.0,1230.0 Q757.8,1215.0 771.0,1205.0 Q784.2,1215.0 793.0,1230.0 Q784.2,1245.0 771.0,1255.0 Q757.8,1245.0 749.0,1230.0Z" fill="#f4e29c"/>
<path d="M774.0,1110.0 Q786.0,1092.0 804.0,1080.0 Q822.0,1092.0 834.0,1110.0 Q822.0,1128.0 804.0,1140.0 Q786.0,1128.0 774.0,1110.0Z" fill="#f4e29c"/>
<path d="M784.2,1110.0 Q792.1,1098.1 804.0,1090.2 Q815.9,1098.1 823.8,1110.0 Q815.9,1121.9 804.0,1129.8 Q792.1,1121.9 784.2,1110.0Z" fill="#f2cd73"/>
<path d="M793.7,1110.0 Q797.8,1103.8 804.0,1099.7 Q810.2,1103.8 814.3,1110.0 Q810.2,1116.2 804.0,1120.3 Q797.8,1116.2 793.7,1110.0Z" fill="#f1a94c"/>
<path d="M741.6,1076.9 Q753.6,1063.7 771.6,1054.9 Q789.6,1063.7 801.6,1076.9 Q789.6,1090.1 771.6,1098.9 Q753.6,1090.1 741.6,1076.9Z" fill="#f4e29c"/>
<path d="M747.1,1076.9 Q756.9,1066.1 771.6,1059.0 Q786.3,1066.1 796.1,1076.9 Q786.3,1087.7 771.6,1094.8 Q756.9,1087.7 747.1,1076.9Z" fill="#f2cd73"/>
<path d="M752.5,1076.9 Q760.1,1068.5 771.6,1062.9 Q783.1,1068.5 790.7,1076.9 Q783.1,1085.3 771.6,1090.9 Q760.1,1085.3 752.5,1076.9Z" fill="#f1a94c"/>
<path d="M757.6,1076.9 Q763.2,1070.7 771.6,1066.6 Q780.0,1070.7 785.6,1076.9 Q780.0,1083.1 771.6,1087.2 Q763.2,1083.1 757.6,1076.9Z" fill="#ed863d"/>
<path d="M762.4,1076.9 Q766.1,1072.8 771.6,1070.1 Q777.1,1072.8 780.8,1076.9 Q777.1,1081.0 771.6,1083.7 Q766.1,1081.0 762.4,1076.9Z" fill="#e5502d"/>
<path d="M766.8,1076.9 Q768.7,1074.8 771.6,1073.3 Q774.5,1074.8 776.4,1076.9 Q774.5,1079.0 771.6,1080.5 Q768.7,1079.0 766.8,1076.9Z" fill="#d42420"/>
<path d="M745.8,1024.8 Q753.8,1014.0 765.8,1006.8 Q777.8,1014.0 785.8,1024.8 Q777.8,1035.6 765.8,1042.8 Q753.8,1035.6 745.8,1024.8Z" fill="#f4e29c"/>
<path d="M748.6,1024.8 Q755.5,1015.5 765.8,1009.3 Q776.1,1015.5 783.0,1024.8 Q776.1,1034.1 765.8,1040.3 Q755.5,1034.1 748.6,1024.8Z" fill="#f2cd73"/>
<path d="M751.4,1024.8 Q757.1,1017.0 765.8,1011.8 Q774.5,1017.0 780.2,1024.8 Q774.5,1032.6 765.8,1037.8 Q757.1,1032.6 751.4,1024.8Z" fill="#f1a94c"/>
<path d="M754.0,1024.8 Q758.7,1018.4 765.8,1014.2 Q772.9,1018.4 777.6,1024.8 Q772.9,1031.2 765.8,1035.4 Q758.7,1031.2 754.0,1024.8Z" fill="#ed863d"/>
<path d="M756.6,1024.8 Q760.3,1019.8 765.8,1016.5 Q771.3,1019.8 775.0,1024.8 Q771.3,1029.8 765.8,1033.1 Q760.3,1029.8 756.6,1024.8Z" fill="#e5502d"/>
<path d="M759.0,1024.8 Q761.7,1021.2 765.8,1018.7 Q769.9,1021.2 772.6,1024.8 Q769.9,1028.4 765.8,1030.9 Q761.7,1028.4 759.0,1024.8Z" fill="#d42420"/>
<path d="M761.4,1024.8 Q763.1,1022.4 765.8,1020.8 Q768.5,1022.4 770.2,1024.8 Q768.5,1027.2 765.8,1028.8 Q763.1,1027.2 761.4,1024.8Z" fill="#ad1b25"/>
<path d="M763.5,1024.8 Q764.4,1023.5 765.8,1022.7 Q767.2,1023.5 768.1,1024.8 Q767.2,1026.1 765.8,1026.9 Q764.4,1026.1 763.5,1024.8Z" fill="#761625"/>
<path d="M778.0,1030.0 Q782.0,1024.0 788.0,1020.0 Q794.0,1024.0 798.0,1030.0 Q794.0,1036.0 788.0,1040.0 Q782.0,1036.0 778.0,1030.0Z" fill="#f4e29c"/>
<path d="M780.2,1030.0 Q783.3,1025.3 788.0,1022.2 Q792.7,1025.3 795.8,1030.0 Q792.7,1034.7 788.0,1037.8 Q783.3,1034.7 780.2,1030.0Z" fill="#f2cd73"/>
<path d="M782.3,1030.0 Q784.6,1026.6 788.0,1024.3 Q791.4,1026.6 793.7,1030.0 Q791.4,1033.4 788.0,1035.7 Q784.6,1033.4 782.3,1030.0Z" fill="#f1a94c"/>
<path d="M784.2,1030.0 Q785.7,1027.7 788.0,1026.2 Q790.3,1027.7 791.8,1030.0 Q790.3,1032.3 788.0,1033.8 Q785.7,1032.3 784.2,1030.0Z" fill="#ed863d"/>
<path d="M786.0,1030.0 Q786.8,1028.8 788.0,1028.0 Q789.2,1028.8 790.0,1030.0 Q789.2,1031.2 788.0,1032.0 Q786.8,1031.2 786.0,1030.0Z" fill="#e5502d"/>
<path d="M719.5,1042.4 Q725.1,1034.0 733.5,1028.4 Q741.9,1034.0 747.5,1042.4 Q741.9,1050.8 733.5,1056.4 Q725.1,1050.8 719.5,1042.4Z" fill="#f4e29c"/>
<path d="M722.1,1042.4 Q726.6,1035.5 733.5,1031.0 Q740.4,1035.5 744.9,1042.4 Q740.4,1049.3 733.5,1053.8 Q726.6,1049.3 722.1,1042.4Z" fill="#f2cd73"/>
<path d="M724.6,1042.4 Q728.1,1037.0 733.5,1033.5 Q738.9,1037.0 742.4,1042.4 Q738.9,1047.8 733.5,1051.3 Q728.1,1047.8 724.6,1042.4Z" fill="#f1a94c"/>
<path d="M726.9,1042.4 Q729.6,1038.5 733.5,1035.8 Q737.4,1038.5 740.1,1042.4 Q737.4,1046.3 733.5,1049.0 Q729.6,1046.3 726.9,1042.4Z" fill="#ed863d"/>
<path d="M729.2,1042.4 Q730.9,1039.8 733.5,1038.1 Q736.1,1039.8 737.8,1042.4 Q736.1,1045.0 733.5,1046.7 Q730.9,1045.0 729.2,1042.4Z" fill="#e5502d"/>
<path d="M731.2,1042.4 Q732.1,1041.0 733.5,1040.1 Q734.9,1041.0 735.8,1042.4 Q734.9,1043.8 733.5,1044.7 Q732.1,1043.8 731.2,1042.4Z" fill="#d42420"/>
<path d="M716.7,1067.8 Q722.7,1058.8 731.7,1052.8 Q740.7,1058.8 746.7,1067.8 Q740.7,1076.8 731.7,1082.8 Q722.7,1076.8 716.7,1067.8Z" fill="#f4e29c"/>
<path d="M719.1,1067.8 Q724.1,1060.2 731.7,1055.2 Q739.3,1060.2 744.3,1067.8 Q739.3,1075.4 731.7,1080.4 Q724.1,1075.4 719.1,1067.8Z" fill="#f2cd73"/>
<path d="M721.4,1067.8 Q725.5,1061.6 731.7,1057.5 Q737.9,1061.6 742.0,1067.8 Q737.9,1074.0 731.7,1078.1 Q725.5,1074.0 721.4,1067.8Z" fill="#f1a94c"/>
<path d="M723.7,1067.8 Q726.9,1063.0 731.7,1059.8 Q736.5,1063.0 739.7,1067.8 Q736.5,1072.6 731.7,1075.8 Q726.9,1072.6 723.7,1067.8Z" fill="#ed863d"/>
<path d="M725.8,1067.8 Q728.2,1064.3 731.7,1061.9 Q735.2,1064.3 737.6,1067.8 Q735.2,1071.3 731.7,1073.7 Q728.2,1071.3 725.8,1067.8Z" fill="#e5502d"/>
<path d="M727.8,1067.8 Q729.4,1065.5 731.7,1063.9 Q734.0,1065.5 735.6,1067.8 Q734.0,1070.1 731.7,1071.7 Q729.4,1070.1 727.8,1067.8Z" fill="#d42420"/>
<path d="M729.7,1067.8 Q730.5,1066.6 731.7,1065.8 Q732.9,1066.6 733.7,1067.8 Q732.9,1069.0 731.7,1069.8 Q730.5,1069.0 729.7,1067.8Z" fill="#ad1b25"/>
<path d="M678.7,1053.3 Q688.3,1038.9 702.7,1029.3 Q717.1,1038.9 726.7,1053.3 Q717.1,1067.7 702.7,1077.3 Q688.3,1067.7 678.7,1053.3Z" fill="#f4e29c"/>
<path d="M685.1,1053.3 Q692.1,1042.7 702.7,1035.7 Q713.3,1042.7 720.3,1053.3 Q713.3,1063.9 702.7,1070.9 Q692.1,1063.9 685.1,1053.3Z" fill="#f2cd73"/>
<path d="M691.1,1053.3 Q695.7,1046.3 702.7,1041.7 Q709.7,1046.3 714.3,1053.3 Q709.7,1060.3 702.7,1064.9 Q695.7,1060.3 691.1,1053.3Z" fill="#f1a94c"/>
<path d="M696.6,1053.3 Q699.1,1049.7 702.7,1047.2 Q706.3,1049.7 708.8,1053.3 Q706.3,1056.9 702.7,1059.4 Q699.1,1056.9 696.6,1053.3Z" fill="#ed863d"/>
<path d="M695.4,1098.6 Q703.4,1086.6 715.4,1078.6 Q727.4,1086.6 735.4,1098.6 Q727.4,1110.6 715.4,1118.6 Q703.4,1110.6 695.4,1098.6Z" fill="#f4e29c"/>
<path d="M700.7,1098.6 Q706.6,1089.8 715.4,1083.9 Q724.2,1089.8 730.1,1098.6 Q724.2,1107.4 715.4,1113.3 Q706.6,1107.4 700.7,1098.6Z" fill="#f2cd73"/>
<path d="M705.7,1098.6 Q709.6,1092.8 715.4,1088.9 Q721.2,1092.8 725.1,1098.6 Q721.2,1104.4 715.4,1108.3 Q709.6,1104.4 705.7,1098.6Z" fill="#f1a94c"/>
<path d="M710.3,1098.6 Q712.4,1095.6 715.4,1093.5 Q718.4,1095.6 720.5,1098.6 Q718.4,1101.6 715.4,1103.7 Q712.4,1101.6 710.3,1098.6Z" fill="#ed863d"/>
<path d="M628.7,1098.6 Q635.1,1090.2 644.7,1084.6 Q654.3,1090.2 660.7,1098.6 Q654.3,1107.0 644.7,1112.6 Q635.1,1107.0 628.7,1098.6Z" fill="#f4e29c"/>
<path d="M631.7,1098.6 Q636.9,1091.7 644.7,1087.2 Q652.5,1091.7 657.7,1098.6 Q652.5,1105.5 644.7,1110.0 Q636.9,1105.5 631.7,1098.6Z" fill="#f2cd73"/>
<path d="M634.5,1098.6 Q638.6,1093.2 644.7,1089.7 Q650.8,1093.2 654.9,1098.6 Q650.8,1104.0 644.7,1107.5 Q638.6,1104.0 634.5,1098.6Z" fill="#f1a94c"/>
<path d="M637.2,1098.6 Q640.2,1094.7 644.7,1092.0 Q649.2,1094.7 652.2,1098.6 Q649.2,1102.5 644.7,1105.2 Q640.2,1102.5 637.2,1098.6Z" fill="#ed863d"/>
<path d="M639.8,1098.6 Q641.7,1096.0 644.7,1094.3 Q647.7,1096.0 649.6,1098.6 Q647.7,1101.2 644.7,1102.9 Q641.7,1101.2 639.8,1098.6Z" fill="#e5502d"/>
<path d="M642.1,1098.6 Q643.2,1097.2 644.7,1096.3 Q646.2,1097.2 647.3,1098.6 Q646.2,1100.0 644.7,1100.9 Q643.2,1100.0 642.1,1098.6Z" fill="#d42420"/>
<path d="M606.7,1040.6 Q610.3,1035.2 615.7,1031.6 Q621.1,1035.2 624.7,1040.6 Q621.1,1046.0 615.7,1049.6 Q610.3,1046.0 606.7,1040.6Z" fill="#f4e29c"/>
<path d="M608.7,1040.6 Q611.5,1036.4 615.7,1033.6 Q619.9,1036.4 622.7,1040.6 Q619.9,1044.8 615.7,1047.6 Q611.5,1044.8 608.7,1040.6Z" fill="#f2cd73"/>
<path d="M610.5,1040.6 Q612.6,1037.5 615.7,1035.4 Q618.8,1037.5 620.9,1040.6 Q618.8,1043.7 615.7,1045.8 Q612.6,1043.7 610.5,1040.6Z" fill="#f1a94c"/>
<path d="M612.3,1040.6 Q613.7,1038.6 615.7,1037.2 Q617.7,1038.6 619.1,1040.6 Q617.7,1042.6 615.7,1044.0 Q613.7,1042.6 612.3,1040.6Z" fill="#ed863d"/>
<path d="M613.9,1040.6 Q614.6,1039.5 615.7,1038.8 Q616.8,1039.5 617.5,1040.6 Q616.8,1041.7 615.7,1042.4 Q614.6,1041.7 613.9,1040.6Z" fill="#e5502d"/>
<path d="M649.2,1013.4 Q653.2,1007.4 659.2,1003.4 Q665.2,1007.4 669.2,1013.4 Q665.2,1019.4 659.2,1023.4 Q653.2,1019.4 649.2,1013.4Z" fill="#f4e29c"/>
<path d="M654.0,1013.4 Q656.1,1010.3 659.2,1008.2 Q662.3,1010.3 664.4,1013.4 Q662.3,1016.5 659.2,1018.6 Q656.1,1016.5 654.0,1013.4Z" fill="#f2cd73"/>
<path d="M678.4,1015.2 Q681.6,1010.4 686.4,1007.2 Q691.2,1010.4 694.4,1015.2 Q691.2,1020.0 686.4,1023.2 Q681.6,1020.0 678.4,1015.2Z" fill="#f4e29c"/>
<path d="M682.2,1015.2 Q683.9,1012.7 686.4,1011.0 Q688.9,1012.7 690.6,1015.2 Q688.9,1017.7 686.4,1019.4 Q683.9,1017.7 682.2,1015.2Z" fill="#f2cd73"/>
<path d="M753.7,977.2 Q756.5,968.8 760.7,963.2 Q764.9,968.8 767.7,977.2 Q764.9,985.6 760.7,991.2 Q756.5,985.6 753.7,977.2Z" fill="#f4e29c"/>
<path d="M756.1,977.2 Q757.9,971.7 760.7,968.0 Q763.5,971.7 765.3,977.2 Q763.5,982.7 760.7,986.4 Q757.9,982.7 756.1,977.2Z" fill="#f2cd73"/>
<path d="M758.3,977.2 Q759.3,974.3 760.7,972.4 Q762.1,974.3 763.1,977.2 Q762.1,980.1 760.7,982.0 Q759.3,980.1 758.3,977.2Z" fill="#f1a94c"/>
<path d="M567.5,1069.6 Q572.3,1064.8 579.5,1061.6 Q586.7,1064.8 591.5,1069.6 Q586.7,1074.4 579.5,1077.6 Q572.3,1074.4 567.5,1069.6Z" fill="#f4e29c"/>
<path d="M574.9,1149.3 Q578.9,1139.1 584.9,1132.3 Q590.9,1139.1 594.9,1149.3 Q590.9,1159.5 584.9,1166.3 Q578.9,1159.5 574.9,1149.3Z" fill="#f4e29c"/>
<path d="M577.6,1149.3 Q580.5,1141.8 584.9,1136.8 Q589.3,1141.8 592.2,1149.3 Q589.3,1156.8 584.9,1161.8 Q580.5,1156.8 577.6,1149.3Z" fill="#f2cd73"/>
<path d="M580.1,1149.3 Q582.0,1144.4 584.9,1141.1 Q587.8,1144.4 589.7,1149.3 Q587.8,1154.2 584.9,1157.5 Q582.0,1154.2 580.1,1149.3Z" fill="#f1a94c"/>
<path d="M582.4,1149.3 Q583.4,1146.7 584.9,1145.0 Q586.4,1146.7 587.4,1149.3 Q586.4,1151.9 584.9,1153.6 Q583.4,1151.9 582.4,1149.3Z" fill="#ed863d"/>
<path d="M602.9,1167.5 Q607.3,1160.9 613.9,1156.5 Q620.5,1160.9 624.9,1167.5 Q620.5,1174.1 613.9,1178.5 Q607.3,1174.1 602.9,1167.5Z" fill="#f4e29c"/>
<path d="M605.3,1167.5 Q608.7,1162.3 613.9,1158.9 Q619.1,1162.3 622.5,1167.5 Q619.1,1172.7 613.9,1176.1 Q608.7,1172.7 605.3,1167.5Z" fill="#f2cd73"/>
<path d="M607.6,1167.5 Q610.1,1163.7 613.9,1161.2 Q617.7,1163.7 620.2,1167.5 Q617.7,1171.3 613.9,1173.8 Q610.1,1171.3 607.6,1167.5Z" fill="#f1a94c"/>
<path d="M609.7,1167.5 Q611.4,1165.0 613.9,1163.3 Q616.4,1165.0 618.1,1167.5 Q616.4,1170.0 613.9,1171.7 Q611.4,1170.0 609.7,1167.5Z" fill="#ed863d"/>
<path d="M611.7,1167.5 Q612.6,1166.2 613.9,1165.3 Q615.2,1166.2 616.1,1167.5 Q615.2,1168.8 613.9,1169.7 Q612.6,1168.8 611.7,1167.5Z" fill="#e5502d"/>
<path d="M601.9,1207.3 Q606.7,1196.5 613.9,1189.3 Q621.1,1196.5 625.9,1207.3 Q621.1,1218.1 613.9,1225.3 Q606.7,1218.1 601.9,1207.3Z" fill="#f4e29c"/>
<path d="M605.1,1207.3 Q608.6,1199.4 613.9,1194.1 Q619.2,1199.4 622.7,1207.3 Q619.2,1215.2 613.9,1220.5 Q608.6,1215.2 605.1,1207.3Z" fill="#f2cd73"/>
<path d="M608.1,1207.3 Q610.4,1202.1 613.9,1198.6 Q617.4,1202.1 619.7,1207.3 Q617.4,1212.5 613.9,1216.0 Q610.4,1212.5 608.1,1207.3Z" fill="#f1a94c"/>
<path d="M610.9,1207.3 Q612.1,1204.6 613.9,1202.7 Q615.7,1204.6 616.9,1207.3 Q615.7,1210.0 613.9,1211.9 Q612.1,1210.0 610.9,1207.3Z" fill="#ed863d"/>
<path d="M537.7,1227.3 Q545.7,1215.3 557.7,1207.3 Q569.7,1215.3 577.7,1227.3 Q569.7,1239.3 557.7,1247.3 Q545.7,1239.3 537.7,1227.3Z" fill="#f4e29c"/>
<path d="M547.2,1227.3 Q551.4,1221.0 557.7,1216.8 Q564.0,1221.0 568.2,1227.3 Q564.0,1233.6 557.7,1237.8 Q551.4,1233.6 547.2,1227.3Z" fill="#f2cd73"/>
<path d="M721.2,1153.0 Q727.6,1145.8 737.2,1141.0 Q746.8,1145.8 753.2,1153.0 Q746.8,1160.2 737.2,1165.0 Q727.6,1160.2 721.2,1153.0Z" fill="#f4e29c"/>
<path d="M724.7,1153.0 Q729.7,1147.4 737.2,1143.6 Q744.7,1147.4 749.7,1153.0 Q744.7,1158.6 737.2,1162.4 Q729.7,1158.6 724.7,1153.0Z" fill="#f2cd73"/>
<path d="M728.0,1153.0 Q731.7,1148.9 737.2,1146.1 Q742.7,1148.9 746.4,1153.0 Q742.7,1157.1 737.2,1159.9 Q731.7,1157.1 728.0,1153.0Z" fill="#f1a94c"/>
<path d="M731.2,1153.0 Q733.6,1150.3 737.2,1148.5 Q740.8,1150.3 743.2,1153.0 Q740.8,1155.7 737.2,1157.5 Q733.6,1155.7 731.2,1153.0Z" fill="#ed863d"/>
<path d="M734.0,1153.0 Q735.3,1151.6 737.2,1150.6 Q739.1,1151.6 740.4,1153.0 Q739.1,1154.4 737.2,1155.4 Q735.3,1154.4 734.0,1153.0Z" fill="#e5502d"/>
<path d="M678.9,1194.6 Q687.7,1181.4 700.9,1172.6 Q714.1,1181.4 722.9,1194.6 Q714.1,1207.8 700.9,1216.6 Q687.7,1207.8 678.9,1194.6Z" fill="#f4e29c"/>
<path d="M689.4,1194.6 Q694.0,1187.7 700.9,1183.1 Q707.8,1187.7 712.4,1194.6 Q707.8,1201.5 700.9,1206.1 Q694.0,1201.5 689.4,1194.6Z" fill="#f2cd73"/>
<path d="M733.0,1180.2 Q739.0,1171.2 748.0,1165.2 Q757.0,1171.2 763.0,1180.2 Q757.0,1189.2 748.0,1195.2 Q739.0,1189.2 733.0,1180.2Z" fill="#f4e29c"/>
<path d="M737.0,1180.2 Q741.4,1173.6 748.0,1169.2 Q754.6,1173.6 759.0,1180.2 Q754.6,1186.8 748.0,1191.2 Q741.4,1186.8 737.0,1180.2Z" fill="#f2cd73"/>
<path d="M740.8,1180.2 Q743.7,1175.9 748.0,1173.0 Q752.3,1175.9 755.2,1180.2 Q752.3,1184.5 748.0,1187.4 Q743.7,1184.5 740.8,1180.2Z" fill="#f1a94c"/>
<path d="M744.2,1180.2 Q745.7,1177.9 748.0,1176.4 Q750.3,1177.9 751.8,1180.2 Q750.3,1182.5 748.0,1184.0 Q745.7,1182.5 744.2,1180.2Z" fill="#ed863d"/>
<path d="M635.2,1254.5 Q644.8,1242.5 659.2,1234.5 Q673.6,1242.5 683.2,1254.5 Q673.6,1266.5 659.2,1274.5 Q644.8,1266.5 635.2,1254.5Z" fill="#f4e29c"/>
<path d="M646.6,1254.5 Q651.7,1248.2 659.2,1244.0 Q666.7,1248.2 671.8,1254.5 Q666.7,1260.8 659.2,1265.0 Q651.7,1260.8 646.6,1254.5Z" fill="#f2cd73"/>
<path d="M659.0,1262.0 Q671.0,1253.6 689.0,1248.0 Q707.0,1253.6 719.0,1262.0 Q707.0,1270.4 689.0,1276.0 Q671.0,1270.4 659.0,1262.0Z" fill="#f4e29c"/>
<path d="M673.3,1262.0 Q679.6,1257.6 689.0,1254.7 Q698.4,1257.6 704.7,1262.0 Q698.4,1266.4 689.0,1269.3 Q679.6,1266.4 673.3,1262.0Z" fill="#f2cd73"/>
<path d="M701.0,1250.0 Q708.2,1236.8 719.0,1228.0 Q729.8,1236.8 737.0,1250.0 Q729.8,1263.2 719.0,1272.0 Q708.2,1263.2 701.0,1250.0Z" fill="#f4e29c"/>
<path d="M703.5,1250.0 Q709.7,1238.7 719.0,1231.1 Q728.3,1238.7 734.5,1250.0 Q728.3,1261.3 719.0,1268.9 Q709.7,1261.3 703.5,1250.0Z" fill="#f2cd73"/>
<path d="M706.0,1250.0 Q711.2,1240.5 719.0,1234.1 Q726.8,1240.5 732.0,1250.0 Q726.8,1259.5 719.0,1265.9 Q711.2,1259.5 706.0,1250.0Z" fill="#f1a94c"/>
<path d="M708.4,1250.0 Q712.6,1242.2 719.0,1237.1 Q725.4,1242.2 729.6,1250.0 Q725.4,1257.8 719.0,1262.9 Q712.6,1257.8 708.4,1250.0Z" fill="#ed863d"/>
<path d="M710.7,1250.0 Q714.0,1243.9 719.0,1239.9 Q724.0,1243.9 727.3,1250.0 Q724.0,1256.1 719.0,1260.1 Q714.0,1256.1 710.7,1250.0Z" fill="#e5502d"/>
<path d="M712.9,1250.0 Q715.4,1245.5 719.0,1242.6 Q722.6,1245.5 725.1,1250.0 Q722.6,1254.5 719.0,1257.4 Q715.4,1254.5 712.9,1250.0Z" fill="#d42420"/>
<path d="M715.0,1250.0 Q716.6,1247.1 719.0,1245.1 Q721.4,1247.1 723.0,1250.0 Q721.4,1252.9 719.0,1254.9 Q716.6,1252.9 715.0,1250.0Z" fill="#ad1b25"/>
<path d="M716.9,1250.0 Q717.7,1248.5 719.0,1247.4 Q720.3,1248.5 721.1,1250.0 Q720.3,1251.5 719.0,1252.6 Q717.7,1251.5 716.9,1250.0Z" fill="#761625"/>
<path d="M757.2,1131.2 Q764.4,1120.4 775.2,1113.2 Q786.0,1120.4 793.2,1131.2 Q786.0,1142.0 775.2,1149.2 Q764.4,1142.0 757.2,1131.2Z" fill="#f4e29c"/>
<path d="M761.1,1131.2 Q766.8,1122.8 775.2,1117.1 Q783.6,1122.8 789.3,1131.2 Q783.6,1139.6 775.2,1145.3 Q766.8,1139.6 761.1,1131.2Z" fill="#f2cd73"/>
<path d="M764.9,1131.2 Q769.0,1125.0 775.2,1120.9 Q781.4,1125.0 785.5,1131.2 Q781.4,1137.4 775.2,1141.5 Q769.0,1137.4 764.9,1131.2Z" fill="#f1a94c"/>
<path d="M768.4,1131.2 Q771.1,1127.1 775.2,1124.4 Q779.3,1127.1 782.0,1131.2 Q779.3,1135.3 775.2,1138.0 Q771.1,1135.3 768.4,1131.2Z" fill="#ed863d"/>
<path d="M771.6,1131.2 Q773.1,1129.1 775.2,1127.6 Q777.3,1129.1 778.8,1131.2 Q777.3,1133.3 775.2,1134.8 Q773.1,1133.3 771.6,1131.2Z" fill="#e5502d"/>
<path d="M770.4,1127.5 Q776.0,1119.1 784.4,1113.5 Q792.8,1119.1 798.4,1127.5 Q792.8,1135.9 784.4,1141.5 Q776.0,1135.9 770.4,1127.5Z" fill="#f4e29c"/>
<path d="M773.0,1127.5 Q777.5,1120.6 784.4,1116.1 Q791.3,1120.6 795.8,1127.5 Q791.3,1134.4 784.4,1138.9 Q777.5,1134.4 773.0,1127.5Z" fill="#f2cd73"/>
<path d="M775.5,1127.5 Q779.0,1122.1 784.4,1118.6 Q789.8,1122.1 793.3,1127.5 Q789.8,1132.9 784.4,1136.4 Q779.0,1132.9 775.5,1127.5Z" fill="#f1a94c"/>
<path d="M777.8,1127.5 Q780.5,1123.6 784.4,1120.9 Q788.3,1123.6 791.0,1127.5 Q788.3,1131.4 784.4,1134.1 Q780.5,1131.4 777.8,1127.5Z" fill="#ed863d"/>
<path d="M780.1,1127.5 Q781.8,1124.9 784.4,1123.2 Q787.0,1124.9 788.7,1127.5 Q787.0,1130.1 784.4,1131.8 Q781.8,1130.1 780.1,1127.5Z" fill="#e5502d"/>
<path d="M782.1,1127.5 Q783.0,1126.1 784.4,1125.2 Q785.8,1126.1 786.7,1127.5 Q785.8,1128.9 784.4,1129.8 Q783.0,1128.9 782.1,1127.5Z" fill="#d42420"/>
<path d="M805.8,1141.5 Q812.2,1132.5 821.8,1126.5 Q831.4,1132.5 837.8,1141.5 Q831.4,1150.5 821.8,1156.5 Q812.2,1150.5 805.8,1141.5Z" fill="#f4e29c"/>
<path d="M808.1,1141.5 Q813.6,1133.8 821.8,1128.6 Q830.0,1133.8 835.5,1141.5 Q830.0,1149.2 821.8,1154.4 Q813.6,1149.2 808.1,1141.5Z" fill="#f2cd73"/>
<path d="M810.3,1141.5 Q814.9,1135.0 821.8,1130.7 Q828.7,1135.0 833.3,1141.5 Q828.7,1148.0 821.8,1152.3 Q814.9,1148.0 810.3,1141.5Z" fill="#f1a94c"/>
<path d="M812.4,1141.5 Q816.2,1136.2 821.8,1132.7 Q827.4,1136.2 831.2,1141.5 Q827.4,1146.8 821.8,1150.3 Q816.2,1146.8 812.4,1141.5Z" fill="#ed863d"/>
<path d="M814.4,1141.5 Q817.4,1137.4 821.8,1134.6 Q826.2,1137.4 829.2,1141.5 Q826.2,1145.6 821.8,1148.4 Q817.4,1145.6 814.4,1141.5Z" fill="#e5502d"/>
<path d="M816.4,1141.5 Q818.6,1138.5 821.8,1136.4 Q825.0,1138.5 827.2,1141.5 Q825.0,1144.5 821.8,1146.6 Q818.6,1144.5 816.4,1141.5Z" fill="#d42420"/>
<path d="M818.2,1141.5 Q819.7,1139.5 821.8,1138.2 Q823.9,1139.5 825.4,1141.5 Q823.9,1143.5 821.8,1144.8 Q819.7,1143.5 818.2,1141.5Z" fill="#ad1b25"/>
<path d="M819.9,1141.5 Q820.7,1140.5 821.8,1139.8 Q822.9,1140.5 823.7,1141.5 Q822.9,1142.5 821.8,1143.2 Q820.7,1142.5 819.9,1141.5Z" fill="#761625"/>
<path d="M802.0,1160.0 Q806.8,1152.8 814.0,1148.0 Q821.2,1152.8 826.0,1160.0 Q821.2,1167.2 814.0,1172.0 Q806.8,1167.2 802.0,1160.0Z" fill="#f4e29c"/>
<path d="M806.1,1160.0 Q809.3,1155.3 814.0,1152.1 Q818.7,1155.3 821.9,1160.0 Q818.7,1164.7 814.0,1167.9 Q809.3,1164.7 806.1,1160.0Z" fill="#f2cd73"/>
<path d="M809.9,1160.0 Q811.5,1157.5 814.0,1155.9 Q816.5,1157.5 818.1,1160.0 Q816.5,1162.5 814.0,1164.1 Q811.5,1162.5 809.9,1160.0Z" fill="#f1a94c"/>
<path d="M782.0,1215.0 Q786.8,1204.2 794.0,1197.0 Q801.2,1204.2 806.0,1215.0 Q801.2,1225.8 794.0,1233.0 Q786.8,1225.8 782.0,1215.0Z" fill="#f4e29c"/>
<path d="M787.7,1215.0 Q790.2,1209.3 794.0,1205.6 Q797.8,1209.3 800.3,1215.0 Q797.8,1220.7 794.0,1224.4 Q790.2,1220.7 787.7,1215.0Z" fill="#f2cd73"/>
<path d="M838.5,999.1 Q844.9,991.9 854.5,987.1 Q864.1,991.9 870.5,999.1 Q864.1,1006.3 854.5,1011.1 Q844.9,1006.3 838.5,999.1Z" fill="#f4e29c"/>
<path d="M841.5,999.1 Q846.7,993.2 854.5,989.3 Q862.3,993.2 867.5,999.1 Q862.3,1005.0 854.5,1008.9 Q846.7,1005.0 841.5,999.1Z" fill="#f2cd73"/>
<path d="M844.3,999.1 Q848.4,994.5 854.5,991.4 Q860.6,994.5 864.7,999.1 Q860.6,1003.7 854.5,1006.8 Q848.4,1003.7 844.3,999.1Z" fill="#f1a94c"/>
<path d="M847.0,999.1 Q850.0,995.7 854.5,993.5 Q859.0,995.7 862.0,999.1 Q859.0,1002.5 854.5,1004.7 Q850.0,1002.5 847.0,999.1Z" fill="#ed863d"/>
<path d="M849.6,999.1 Q851.5,996.9 854.5,995.4 Q857.5,996.9 859.4,999.1 Q857.5,1001.3 854.5,1002.8 Q851.5,1001.3 849.6,999.1Z" fill="#e5502d"/>
<path d="M851.9,999.1 Q853.0,997.9 854.5,997.2 Q856.0,997.9 857.1,999.1 Q856.0,1000.3 854.5,1001.0 Q853.0,1000.3 851.9,999.1Z" fill="#d42420"/>
<path d="M882.9,971.1 Q889.3,966.3 898.9,963.1 Q908.5,966.3 914.9,971.1 Q908.5,975.9 898.9,979.1 Q889.3,975.9 882.9,971.1Z" fill="#f4e29c"/>
<path d="M890.5,971.1 Q893.9,968.6 898.9,966.9 Q903.9,968.6 907.3,971.1 Q903.9,973.6 898.9,975.3 Q893.9,973.6 890.5,971.1Z" fill="#f2cd73"/>
<path d="M796.5,899.8 Q800.1,893.2 805.5,888.8 Q810.9,893.2 814.5,899.8 Q810.9,906.4 805.5,910.8 Q800.1,906.4 796.5,899.8Z" fill="#f4e29c"/>
<path d="M798.9,899.8 Q801.5,895.0 805.5,891.7 Q809.5,895.0 812.1,899.8 Q809.5,904.6 805.5,907.9 Q801.5,904.6 798.9,899.8Z" fill="#f2cd73"/>
<path d="M801.2,899.8 Q802.9,896.6 805.5,894.5 Q808.1,896.6 809.8,899.8 Q808.1,903.0 805.5,905.1 Q802.9,903.0 801.2,899.8Z" fill="#f1a94c"/>
<path d="M803.2,899.8 Q804.1,898.1 805.5,897.0 Q806.9,898.1 807.8,899.8 Q806.9,901.5 805.5,902.6 Q804.1,901.5 803.2,899.8Z" fill="#ed863d"/>
<path d="M237.9,970.4 Q242.3,963.8 248.9,959.4 Q255.5,963.8 259.9,970.4 Q255.5,977.0 248.9,981.4 Q242.3,977.0 237.9,970.4Z" fill="#f4e29c"/>
<path d="M239.9,970.4 Q243.5,965.0 248.9,961.4 Q254.3,965.0 257.9,970.4 Q254.3,975.8 248.9,979.4 Q243.5,975.8 239.9,970.4Z" fill="#f2cd73"/>
<path d="M241.9,970.4 Q244.7,966.2 248.9,963.4 Q253.1,966.2 255.9,970.4 Q253.1,974.6 248.9,977.4 Q244.7,974.6 241.9,970.4Z" fill="#f1a94c"/>
<path d="M243.8,970.4 Q245.8,967.3 248.9,965.3 Q252.0,967.3 254.0,970.4 Q252.0,973.5 248.9,975.5 Q245.8,973.5 243.8,970.4Z" fill="#ed863d"/>
<path d="M245.5,970.4 Q246.9,968.4 248.9,967.0 Q250.9,968.4 252.3,970.4 Q250.9,972.4 248.9,973.8 Q246.9,972.4 245.5,970.4Z" fill="#e5502d"/>
<path d="M247.1,970.4 Q247.8,969.3 248.9,968.6 Q250.0,969.3 250.7,970.4 Q250.0,971.5 248.9,972.2 Q247.8,971.5 247.1,970.4Z" fill="#d42420"/>
<path d="M327.2,970.4 Q330.4,965.6 335.2,962.4 Q340.0,965.6 343.2,970.4 Q340.0,975.2 335.2,978.4 Q330.4,975.2 327.2,970.4Z" fill="#f4e29c"/>
<path d="M329.9,970.4 Q332.0,967.2 335.2,965.1 Q338.4,967.2 340.5,970.4 Q338.4,973.6 335.2,975.7 Q332.0,973.6 329.9,970.4Z" fill="#f2cd73"/>
<path d="M332.4,970.4 Q333.5,968.7 335.2,967.6 Q336.9,968.7 338.0,970.4 Q336.9,972.1 335.2,973.2 Q333.5,972.1 332.4,970.4Z" fill="#f1a94c"/>
<path d="M356.9,970.4 Q360.1,965.6 364.9,962.4 Q369.7,965.6 372.9,970.4 Q369.7,975.2 364.9,978.4 Q360.1,975.2 356.9,970.4Z" fill="#f4e29c"/>
<path d="M360.7,970.4 Q362.4,967.9 364.9,966.2 Q367.4,967.9 369.1,970.4 Q367.4,972.9 364.9,974.6 Q362.4,972.9 360.7,970.4Z" fill="#f2cd73"/>
<path d="M604.8,1040.6 Q607.6,1036.4 611.8,1033.6 Q616.0,1036.4 618.8,1040.6 Q616.0,1044.8 611.8,1047.6 Q607.6,1044.8 604.8,1040.6Z" fill="#f4e29c"/>
<path d="M606.7,1040.6 Q608.7,1037.5 611.8,1035.5 Q614.9,1037.5 616.9,1040.6 Q614.9,1043.7 611.8,1045.7 Q608.7,1043.7 606.7,1040.6Z" fill="#f2cd73"/>
<path d="M608.4,1040.6 Q609.8,1038.6 611.8,1037.2 Q613.8,1038.6 615.2,1040.6 Q613.8,1042.6 611.8,1044.0 Q609.8,1042.6 608.4,1040.6Z" fill="#f1a94c"/>
<path d="M610.0,1040.6 Q610.7,1039.5 611.8,1038.8 Q612.9,1039.5 613.6,1040.6 Q612.9,1041.7 611.8,1042.4 Q610.7,1041.7 610.0,1040.6Z" fill="#ed863d"/>
<path d="M820.5,1244.3 Q822.9,1238.3 826.5,1234.3 Q830.1,1238.3 832.5,1244.3 Q830.1,1250.3 826.5,1254.3 Q822.9,1250.3 820.5,1244.3Z" fill="#f4e29c"/>
<path d="M822.1,1244.3 Q823.9,1239.9 826.5,1237.0 Q829.1,1239.9 830.9,1244.3 Q829.1,1248.7 826.5,1251.6 Q823.9,1248.7 822.1,1244.3Z" fill="#f2cd73"/>
<path d="M823.6,1244.3 Q824.8,1241.4 826.5,1239.5 Q828.2,1241.4 829.4,1244.3 Q828.2,1247.2 826.5,1249.1 Q824.8,1247.2 823.6,1244.3Z" fill="#f1a94c"/>
<path d="M825.0,1244.3 Q825.6,1242.8 826.5,1241.8 Q827.4,1242.8 828.0,1244.3 Q827.4,1245.8 826.5,1246.8 Q825.6,1245.8 825.0,1244.3Z" fill="#ed863d"/>
<path d="M663.0,1140.0 Q673.4,1126.8 689.0,1118.0 Q704.6,1126.8 715.0,1140.0 Q704.6,1153.2 689.0,1162.0 Q673.4,1153.2 663.0,1140.0Z" fill="#f4e29c"/>
<path d="M719.0,1210.0 Q731.0,1198.0 749.0,1190.0 Q767.0,1198.0 779.0,1210.0 Q767.0,1222.0 749.0,1230.0 Q731.0,1222.0 719.0,1210.0Z" fill="#f4e29c"/>
</g>
<path d="M208.0,1099.2 L221.1,1086.5 L262.1,1082.2 L286.9,1085.0 L323.4,1073.7 L370.2,1076.6 L390.6,1073.7M390.6,1073.7 L390.6,1058.2 L377.5,1042.7 L411.1,1032.8 L415.5,1017.3 L449.1,997.5 L463.7,991.8 L462.2,982.0M370.2,1076.6 L371.6,1107.6 L384.8,1117.5 L411.1,1120.3 L443.2,1124.6 L466.6,1138.7 L487.0,1124.6 L487.0,1110.5M487.0,1124.6 L503.1,1155.6 L507.5,1179.6 L500.2,1188.1 L484.1,1186.7M487.0,1110.5 L494.4,1102.0 L517.7,1123.2 L535.3,1124.6 L544.0,1114.7 L533.8,1102.0 L558.6,1099.2 L551.3,1094.9 L561.6,1073.7 L554.3,1058.2 L520.6,1042.7 L504.6,1032.8 L473.9,1032.8 L462.2,1046.9 L435.9,1041.3 L411.1,1032.8M481.2,983.4 L487.0,1000.3 L498.7,1011.6 L522.1,1011.6 L516.3,1020.1 L536.7,1034.2 L558.6,1031.4 L579.1,1028.6 L573.2,1046.9 L583.5,1058.2M583.5,1058.2 L596.6,1049.7 L608.3,1032.8 L620.0,1031.4 L621.5,1045.5 L631.7,1055.4 L625.8,1066.7 L615.6,1078.0 L611.2,1089.3 L602.5,1080.8 L599.5,1069.5 L583.5,1058.2M558.6,1099.2 L579.1,1116.1 L601.0,1124.6 L615.6,1103.4 L614.2,1092.1 L611.2,1089.3M631.7,1055.4 L647.8,1070.9 L646.3,1085.0 L631.7,1089.3 L615.6,1090.7M631.7,1055.4 L644.8,1046.9 L674.1,1027.1 L684.3,1030.0M684.3,1030.0 L675.5,1049.7 L672.6,1070.9 L675.5,1092.1 L671.1,1097.7M671.1,1097.7 L681.4,1106.2 L681.4,1116.1 L666.7,1126.0 L655.1,1126.0 L643.4,1131.6M601.0,1124.6 L615.6,1128.8 L630.2,1130.2 L643.4,1131.6M643.4,1131.6 L630.2,1141.5 L612.7,1158.5 L601.0,1169.8 L605.4,1183.9 L615.6,1186.7M684.3,1030.0 L694.5,1017.3 L710.6,1014.4 L726.7,1011.6M726.7,1011.6 L722.3,1028.6 L717.9,1044.1 L720.8,1063.9 L725.2,1075.2M725.2,1075.2 L713.5,1086.5 L696.0,1092.1 L671.1,1097.7M726.7,1011.6 L747.1,1000.3 L761.7,984.8 L780.7,993.3 L802.6,1008.8 L809.9,1020.1M780.7,1045.5 L761.7,1056.8 L747.1,1073.7 L725.2,1075.2M747.1,1027.1 L754.4,1014.4 L764.6,1007.4 L774.9,1014.4 L769.0,1024.3 L758.8,1028.6 L747.1,1027.1M766.1,1028.6 L780.7,1021.5 L783.6,1032.8 L773.4,1041.3 L766.1,1028.6M681.4,1116.1 L703.3,1128.8 L725.2,1138.7 L744.2,1137.3M744.2,1137.3 L748.6,1127.4 L763.2,1107.6 L754.4,1097.7M754.4,1097.7 L744.2,1087.9 L747.1,1073.7M802.6,1090.7 L783.6,1097.7 L763.2,1100.6 L754.4,1097.7M763.2,1100.6 L776.3,1110.5 L788.0,1120.3 L790.9,1134.5 L801.2,1144.3M801.2,1144.3 L820.2,1148.6 L827.5,1148.6M826.0,1140.1 L833.3,1151.4M744.2,1137.3 L754.4,1148.6 L761.7,1162.7 L776.3,1165.5 L786.6,1169.8 L801.2,1159.9 L801.2,1144.3M643.4,1131.6 L659.4,1141.5 L663.8,1155.6 L659.4,1165.5M659.4,1165.5 L674.1,1165.5 L696.0,1169.8 L717.9,1172.6 L728.1,1172.6M728.1,1172.6 L747.1,1166.9 L761.7,1162.7M728.1,1172.6 L725.2,1190.9 L722.3,1207.9 L725.2,1224.8 L717.9,1229.1M717.9,1229.1 L703.3,1236.1 L688.7,1233.3M688.7,1233.3 L674.1,1220.6 L660.9,1219.2M660.9,1219.2 L652.1,1198.0 L649.2,1186.7 L659.4,1165.5M776.3,1165.5 L786.6,1179.6 L783.6,1190.9M783.6,1190.9 L776.3,1190.9 L763.2,1205.1 L760.3,1220.6 L751.5,1240.4M751.5,1240.4 L736.9,1240.4 L725.2,1224.8M783.6,1190.9 L798.2,1196.6 L820.2,1202.2M751.5,1240.4 L761.7,1241.8 L771.9,1253.1M688.7,1233.3 L693.0,1247.4 L688.7,1261.5 L663.8,1281.3M660.9,1219.2 L644.8,1226.2 L622.9,1233.3 L605.4,1237.5 L593.7,1243.2 L586.4,1253.1M593.7,1243.2 L586.4,1233.3 L579.1,1219.2 L586.4,1205.1 L601.0,1196.6M601.0,1196.6 L615.6,1186.7 L630.2,1174.0 L649.2,1186.7M507.5,1179.6 L523.6,1190.9 L535.3,1212.1 L549.9,1216.4 L564.5,1209.3 L579.1,1198.0 L601.0,1196.6M834.8,833.7 L849.4,859.1 L878.6,873.2 L893.2,894.4 L871.3,915.6 L856.7,929.7 L864.0,939.6M864.0,939.6 L842.1,943.8 L837.7,958.0 L849.4,972.1M849.4,972.1 L827.5,982.0 L812.8,993.3 L802.6,1008.8M864.0,939.6 L885.9,946.7 L907.8,948.1 L922.4,958.0 L944.3,963.6 L972.1,958.0 L977.9,952.3M849.4,972.1 L875.7,974.9 L893.2,993.3 L907.8,1000.3" fill="none" stroke="#1a1010" stroke-width="1.5" stroke-linejoin="round"/>
<path d="M133.8,1030.5 L137.6,1020.5 L151.3,1014.2 L163.9,1011.7 L177.7,1014.2 L181.4,1005.4 L195.2,1002.9 L212.7,996.7 L230.3,991.7 L234.0,982.9 L239.0,975.4 L235.3,965.3 L232.8,954.1 L226.5,951.6 L245.3,946.6 L262.8,945.3 L264.1,937.8 L270.4,920.2 L285.4,921.5 L300.4,924.0 L310.5,920.2 L310.5,904.0 L325.5,899.0 L328.0,892.7 L343.0,892.7 L346.8,900.2 L356.8,906.5 L370.6,909.0 L380.6,914.0 L388.1,924.0 L389.4,940.3 L386.9,946.6 L400.7,949.1 L428.2,951.6 L443.2,959.1 L455.8,961.6 L460.8,972.9 L465.8,981.6 L485.8,982.9 L523.4,982.9 L551.0,987.9 L570.0,993.0 L585.4,995.5 L595.6,996.8 L621.2,987.8 L646.8,986.0 L667.2,984.0 L677.5,977.6 L692.8,968.6 L689.0,958.4 L695.4,950.7 L713.3,952.0 L731.2,948.2 L754.2,940.5 L760.6,932.8 L774.7,927.7 L810.5,926.4 L809.3,917.5 L795.2,909.8 L774.7,911.1 L751.7,911.1 L749.1,904.7 L767.0,882.9 L787.5,884.2 L801.6,877.8 L815.6,859.9 L823.3,845.8 L814.4,842.0 L823.3,835.6 L841.2,833.0 L864.3,830.5 L895.0,835.6 L905.2,845.8 L915.4,859.9 L925.7,882.9 L946.2,886.8 L964.1,894.4 L971.7,908.5 L999.9,907.2 L1033.2,902.1 L1028.0,912.4 L1020.4,922.6 L1012.7,937.9 L1005.0,948.2 L979.4,953.3 L976.9,973.8 L966.6,984.0 L953.8,989.1 L941.0,994.2 L933.4,999.4 L923.1,999.4 L902.7,1004.5 L879.6,1017.3 L859.2,1030.1 L841.2,1035.2 L830.5,1038.5 L833.6,1027.5 L838.7,1017.3 L842.5,1012.1 L825.9,1014.7 L815.6,1019.8 L795.2,1030.1 L782.4,1037.7 L787.5,1045.4 L800.3,1053.1 L805.4,1059.5 L825.9,1055.6 L851.5,1056.9 L852.8,1062.0 L836.1,1065.1 L815.6,1075.4 L805.4,1088.1 L813.1,1098.4 L823.3,1111.2 L831.0,1126.5 L841.2,1136.8 L843.8,1147.0 L854.0,1152.1 L843.8,1162.4 L838.7,1172.6 L836.1,1185.4 L825.9,1195.6 L818.2,1205.9 L810.5,1216.1 L805.4,1226.3 L795.2,1234.0 L779.8,1244.2 L764.5,1254.5 L749.1,1262.1 L728.6,1267.3 L713.3,1272.4 L692.8,1277.5 L674.9,1281.3 L672.4,1292.9 L669.8,1299.8 L664.7,1292.9 L659.6,1283.9 L646.8,1280.6 L637.6,1282.6 L621.2,1274.9 L616.1,1264.7 L600.7,1262.1 L585.4,1264.7 L580.0,1265.5 L568.5,1266.7 L556.0,1269.2 L546.0,1275.5 L548.5,1284.3 L543.5,1285.5 L536.0,1280.5 L525.9,1281.7 L520.9,1278.0 L510.9,1273.0 L510.9,1263.0 L505.9,1257.9 L500.9,1247.9 L485.8,1246.7 L485.8,1232.9 L493.4,1222.9 L500.9,1210.3 L498.4,1196.6 L493.4,1187.8 L485.8,1185.3 L480.8,1192.8 L470.8,1190.3 L455.8,1189.0 L435.7,1197.8 L428.2,1204.1 L405.7,1205.3 L403.2,1200.3 L395.6,1190.3 L375.6,1187.8 L365.6,1190.3 L360.6,1200.3 L355.6,1190.3 L335.5,1191.5 L315.5,1189.0 L295.4,1180.3 L290.4,1172.8 L280.4,1170.2 L260.3,1160.2 L250.3,1156.5 L246.6,1161.5 L240.3,1159.0 L225.3,1150.2 L211.5,1145.2 L210.2,1135.2 L205.2,1126.4 L216.5,1120.1 L211.5,1112.6 L210.2,1100.1 L202.7,1095.1 L197.7,1085.1 L185.2,1083.8 L172.6,1078.8 L170.1,1070.0 L160.1,1065.0 L147.6,1060.6 L153.8,1058.1 L155.1,1050.5 L150.1,1041.8 L135.1,1039.3ZM841.2,1226.3 L843.8,1234.0 L836.1,1254.5 L828.4,1269.8 L824.6,1277.5 L816.9,1264.7 L815.6,1249.4 L825.9,1236.6ZM646.8,1313.3 L654.4,1305.6 L669.8,1301.8 L686.4,1303.1 L677.5,1315.9 L667.2,1326.1 L657.0,1327.4 L646.8,1321.0Z" fill="none" stroke="#1a1010" stroke-width="1.9" stroke-linejoin="round"/>
<path d="M841.2,1136.8 L843.8,1147.0 L854.0,1152.1 L843.8,1162.4 L838.7,1172.6 L836.1,1185.4 L825.9,1195.6 L818.2,1205.9 L810.5,1216.1 L805.4,1226.3 L795.2,1234.0 L779.8,1244.2 L764.5,1254.5 L749.1,1262.1 L728.6,1267.3 L713.3,1272.4" fill="none" stroke="#111" stroke-width="3.6" stroke-linejoin="round"/>
<line x1="854.0" y1="1236.6" x2="855.3" y2="1249.4" stroke="#111" stroke-width="1.6"/>
<line x1="833.6" y1="1290.3" x2="841.2" y2="1277.5" stroke="#111" stroke-width="1.6"/>
<line x1="805.4" y1="1328.7" x2="811.8" y2="1318.4" stroke="#111" stroke-width="1.6"/>
<line x1="754.2" y1="1287.7" x2="755.5" y2="1290.3" stroke="#111" stroke-width="1.6"/>
<line x1="767.0" y1="1291.6" x2="768.3" y2="1294.1" stroke="#111" stroke-width="1.6"/>
<line x1="710.7" y1="1309.5" x2="712.0" y2="1310.8" stroke="#111" stroke-width="1.6"/>
<line x1="723.5" y1="1313.3" x2="724.8" y2="1314.6" stroke="#111" stroke-width="1.6"/>
<line x1="833.6" y1="1269.8" x2="838.7" y2="1277.5" stroke="#111" stroke-width="1.6"/>
<clipPath id="insd"><rect x="860.4" y="1098.4" width="183.0000000000001" height="239.19999999999982"/></clipPath>
<rect x="860.4" y="1098.4" width="183.0000000000001" height="239.19999999999982" fill="#fff"/>
<g clip-path="url(#insd)">
<clipPath id="insld"><path d="M555.2,972.5 L557.8,965.7 L567.1,961.4 L575.5,959.7 L584.8,961.4 L587.3,955.4 L596.6,953.6 L608.5,949.4 L620.3,945.9 L622.8,939.9 L626.2,934.8 L623.7,927.9 L622.0,920.2 L617.7,918.5 L630.4,915.0 L642.2,914.2 L643.1,909.0 L647.3,897.0 L657.4,897.9 L667.6,899.6 L674.3,897.0 L674.3,885.9 L684.5,882.4 L686.2,878.1 L696.3,878.1 L698.8,883.3 L705.6,887.6 L714.9,889.3 L721.6,892.7 L726.7,899.6 L727.6,910.7 L725.9,915.0 L735.2,916.8 L753.7,918.5 L763.9,923.6 L772.3,925.3 L775.7,933.1 L779.1,939.1 L792.6,939.9 L817.9,939.9 L836.5,943.4 L849.3,946.8 L859.7,948.6 L866.6,949.4 L883.8,943.3 L901.1,942.1 L914.9,940.7 L921.8,936.3 L932.1,930.2 L929.5,923.2 L933.9,917.9 L945.9,918.8 L958.0,916.1 L973.5,910.9 L977.9,905.6 L987.3,902.1 L1011.5,901.3 L1010.6,895.1 L1001.1,889.9 L987.3,890.7 L971.8,890.7 L970.1,886.4 L982.2,871.5 L996.0,872.3 L1005.5,868.0 L1014.9,855.7 L1020.1,846.1 L1014.1,843.4 L1020.1,839.0 L1032.2,837.3 L1047.7,835.5 L1068.4,839.0 L1075.3,846.1 L1082.2,855.7 L1089.1,871.5 L1102.9,874.1 L1115.0,879.3 L1120.2,889.0 L1139.2,888.1 L1161.6,884.6 L1158.1,891.6 L1153.0,898.6 L1147.8,909.1 L1142.6,916.1 L1125.4,919.7 L1123.6,933.7 L1116.7,940.7 L1108.1,944.2 L1099.5,947.7 L1094.3,951.2 L1087.4,951.2 L1073.6,954.7 L1058.1,963.5 L1044.3,972.2 L1032.2,975.7 L1024.9,978.0 L1027.0,970.5 L1030.5,963.5 L1033.1,960.0 L1021.8,961.7 L1014.9,965.2 L1001.1,972.2 L992.5,977.5 L996.0,982.7 L1004.6,988.0 L1008.0,992.4 L1021.8,989.8 L1039.1,990.6 L1040.0,994.1 L1028.7,996.2 L1014.9,1003.2 L1008.0,1012.0 L1013.2,1019.0 L1020.1,1027.8 L1025.3,1038.3 L1032.2,1045.3 L1033.9,1052.3 L1040.8,1055.8 L1033.9,1062.8 L1030.5,1069.8 L1028.7,1078.6 L1021.8,1085.6 L1016.7,1092.6 L1011.5,1099.6 L1008.0,1106.6 L1001.1,1111.9 L990.8,1118.9 L980.4,1125.9 L970.1,1131.2 L956.3,1134.7 L945.9,1138.2 L932.1,1141.7 L920.1,1144.3 L918.3,1152.2 L916.6,1156.9 L913.2,1152.2 L909.7,1146.1 L901.1,1143.8 L894.9,1145.2 L883.8,1139.9 L880.4,1132.9 L870.0,1131.2 L859.7,1132.9 L856.1,1133.4 L848.3,1134.3 L839.9,1136.0 L833.1,1140.3 L834.8,1146.3 L831.4,1147.2 L826.4,1143.7 L819.6,1144.6 L816.2,1142.0 L809.5,1138.6 L809.5,1131.7 L806.1,1128.3 L802.7,1121.4 L792.6,1120.6 L792.6,1111.1 L797.7,1104.3 L802.7,1095.7 L801.0,1086.3 L797.7,1080.2 L792.6,1078.5 L789.2,1083.7 L782.5,1082.0 L772.3,1081.1 L758.8,1087.1 L753.7,1091.4 L738.5,1092.3 L736.8,1088.8 L731.8,1082.0 L718.3,1080.2 L711.5,1082.0 L708.1,1088.8 L704.7,1082.0 L691.2,1082.8 L677.7,1081.1 L664.2,1075.1 L660.8,1069.9 L654.1,1068.2 L640.6,1061.4 L633.8,1058.8 L631.3,1062.2 L627.0,1060.5 L616.9,1054.5 L607.6,1051.1 L606.8,1044.2 L603.4,1038.2 L611.0,1033.9 L607.6,1028.8 L606.8,1020.2 L601.7,1016.8 L598.3,1009.9 L589.9,1009.0 L581.4,1005.6 L579.7,999.6 L573.0,996.2 L564.5,993.1 L568.8,991.4 L569.6,986.3 L566.2,980.2 L556.1,978.5ZM1032.2,1106.6 L1033.9,1111.9 L1028.7,1125.9 L1023.6,1136.4 L1021.0,1141.7 L1015.8,1132.9 L1014.9,1122.4 L1021.8,1113.6ZM901.1,1166.2 L906.3,1161.0 L916.6,1158.3 L927.8,1159.2 L921.8,1168.0 L914.9,1175.0 L908.0,1175.9 L901.1,1171.5Z"/></clipPath>
<path d="M555.2,972.5 L557.8,965.7 L567.1,961.4 L575.5,959.7 L584.8,961.4 L587.3,955.4 L596.6,953.6 L608.5,949.4 L620.3,945.9 L622.8,939.9 L626.2,934.8 L623.7,927.9 L622.0,920.2 L617.7,918.5 L630.4,915.0 L642.2,914.2 L643.1,909.0 L647.3,897.0 L657.4,897.9 L667.6,899.6 L674.3,897.0 L674.3,885.9 L684.5,882.4 L686.2,878.1 L696.3,878.1 L698.8,883.3 L705.6,887.6 L714.9,889.3 L721.6,892.7 L726.7,899.6 L727.6,910.7 L725.9,915.0 L735.2,916.8 L753.7,918.5 L763.9,923.6 L772.3,925.3 L775.7,933.1 L779.1,939.1 L792.6,939.9 L817.9,939.9 L836.5,943.4 L849.3,946.8 L859.7,948.6 L866.6,949.4 L883.8,943.3 L901.1,942.1 L914.9,940.7 L921.8,936.3 L932.1,930.2 L929.5,923.2 L933.9,917.9 L945.9,918.8 L958.0,916.1 L973.5,910.9 L977.9,905.6 L987.3,902.1 L1011.5,901.3 L1010.6,895.1 L1001.1,889.9 L987.3,890.7 L971.8,890.7 L970.1,886.4 L982.2,871.5 L996.0,872.3 L1005.5,868.0 L1014.9,855.7 L1020.1,846.1 L1014.1,843.4 L1020.1,839.0 L1032.2,837.3 L1047.7,835.5 L1068.4,839.0 L1075.3,846.1 L1082.2,855.7 L1089.1,871.5 L1102.9,874.1 L1115.0,879.3 L1120.2,889.0 L1139.2,888.1 L1161.6,884.6 L1158.1,891.6 L1153.0,898.6 L1147.8,909.1 L1142.6,916.1 L1125.4,919.7 L1123.6,933.7 L1116.7,940.7 L1108.1,944.2 L1099.5,947.7 L1094.3,951.2 L1087.4,951.2 L1073.6,954.7 L1058.1,963.5 L1044.3,972.2 L1032.2,975.7 L1024.9,978.0 L1027.0,970.5 L1030.5,963.5 L1033.1,960.0 L1021.8,961.7 L1014.9,965.2 L1001.1,972.2 L992.5,977.5 L996.0,982.7 L1004.6,988.0 L1008.0,992.4 L1021.8,989.8 L1039.1,990.6 L1040.0,994.1 L1028.7,996.2 L1014.9,1003.2 L1008.0,1012.0 L1013.2,1019.0 L1020.1,1027.8 L1025.3,1038.3 L1032.2,1045.3 L1033.9,1052.3 L1040.8,1055.8 L1033.9,1062.8 L1030.5,1069.8 L1028.7,1078.6 L1021.8,1085.6 L1016.7,1092.6 L1011.5,1099.6 L1008.0,1106.6 L1001.1,1111.9 L990.8,1118.9 L980.4,1125.9 L970.1,1131.2 L956.3,1134.7 L945.9,1138.2 L932.1,1141.7 L920.1,1144.3 L918.3,1152.2 L916.6,1156.9 L913.2,1152.2 L909.7,1146.1 L901.1,1143.8 L894.9,1145.2 L883.8,1139.9 L880.4,1132.9 L870.0,1131.2 L859.7,1132.9 L856.1,1133.4 L848.3,1134.3 L839.9,1136.0 L833.1,1140.3 L834.8,1146.3 L831.4,1147.2 L826.4,1143.7 L819.6,1144.6 L816.2,1142.0 L809.5,1138.6 L809.5,1131.7 L806.1,1128.3 L802.7,1121.4 L792.6,1120.6 L792.6,1111.1 L797.7,1104.3 L802.7,1095.7 L801.0,1086.3 L797.7,1080.2 L792.6,1078.5 L789.2,1083.7 L782.5,1082.0 L772.3,1081.1 L758.8,1087.1 L753.7,1091.4 L738.5,1092.3 L736.8,1088.8 L731.8,1082.0 L718.3,1080.2 L711.5,1082.0 L708.1,1088.8 L704.7,1082.0 L691.2,1082.8 L677.7,1081.1 L664.2,1075.1 L660.8,1069.9 L654.1,1068.2 L640.6,1061.4 L633.8,1058.8 L631.3,1062.2 L627.0,1060.5 L616.9,1054.5 L607.6,1051.1 L606.8,1044.2 L603.4,1038.2 L611.0,1033.9 L607.6,1028.8 L606.8,1020.2 L601.7,1016.8 L598.3,1009.9 L589.9,1009.0 L581.4,1005.6 L579.7,999.6 L573.0,996.2 L564.5,993.1 L568.8,991.4 L569.6,986.3 L566.2,980.2 L556.1,978.5ZM1032.2,1106.6 L1033.9,1111.9 L1028.7,1125.9 L1023.6,1136.4 L1021.0,1141.7 L1015.8,1132.9 L1014.9,1122.4 L1021.8,1113.6ZM901.1,1166.2 L906.3,1161.0 L916.6,1158.3 L927.8,1159.2 L921.8,1168.0 L914.9,1175.0 L908.0,1175.9 L901.1,1171.5Z" fill="#f8f5c6"/>
<path d="M555.2,972.5 L557.8,965.7 L567.1,961.4 L575.5,959.7 L584.8,961.4 L587.3,955.4 L596.6,953.6 L608.5,949.4 L620.3,945.9 L622.8,939.9 L626.2,934.8 L623.7,927.9 L622.0,920.2 L617.7,918.5 L630.4,915.0 L642.2,914.2 L643.1,909.0 L647.3,897.0 L657.4,897.9 L667.6,899.6 L674.3,897.0 L674.3,885.9 L684.5,882.4 L686.2,878.1 L696.3,878.1 L698.8,883.3 L705.6,887.6 L714.9,889.3 L721.6,892.7 L726.7,899.6 L727.6,910.7 L725.9,915.0 L735.2,916.8 L753.7,918.5 L763.9,923.6 L772.3,925.3 L775.7,933.1 L779.1,939.1 L792.6,939.9 L817.9,939.9 L836.5,943.4 L849.3,946.8 L859.7,948.6 L866.6,949.4 L883.8,943.3 L901.1,942.1 L914.9,940.7 L921.8,936.3 L932.1,930.2 L929.5,923.2 L933.9,917.9 L945.9,918.8 L958.0,916.1 L973.5,910.9 L977.9,905.6 L987.3,902.1 L1011.5,901.3 L1010.6,895.1 L1001.1,889.9 L987.3,890.7 L971.8,890.7 L970.1,886.4 L982.2,871.5 L996.0,872.3 L1005.5,868.0 L1014.9,855.7 L1020.1,846.1 L1014.1,843.4 L1020.1,839.0 L1032.2,837.3 L1047.7,835.5 L1068.4,839.0 L1075.3,846.1 L1082.2,855.7 L1089.1,871.5 L1102.9,874.1 L1115.0,879.3 L1120.2,889.0 L1139.2,888.1 L1161.6,884.6 L1158.1,891.6 L1153.0,898.6 L1147.8,909.1 L1142.6,916.1 L1125.4,919.7 L1123.6,933.7 L1116.7,940.7 L1108.1,944.2 L1099.5,947.7 L1094.3,951.2 L1087.4,951.2 L1073.6,954.7 L1058.1,963.5 L1044.3,972.2 L1032.2,975.7 L1024.9,978.0 L1027.0,970.5 L1030.5,963.5 L1033.1,960.0 L1021.8,961.7 L1014.9,965.2 L1001.1,972.2 L992.5,977.5 L996.0,982.7 L1004.6,988.0 L1008.0,992.4 L1021.8,989.8 L1039.1,990.6 L1040.0,994.1 L1028.7,996.2 L1014.9,1003.2 L1008.0,1012.0 L1013.2,1019.0 L1020.1,1027.8 L1025.3,1038.3 L1032.2,1045.3 L1033.9,1052.3 L1040.8,1055.8 L1033.9,1062.8 L1030.5,1069.8 L1028.7,1078.6 L1021.8,1085.6 L1016.7,1092.6 L1011.5,1099.6 L1008.0,1106.6 L1001.1,1111.9 L990.8,1118.9 L980.4,1125.9 L970.1,1131.2 L956.3,1134.7 L945.9,1138.2 L932.1,1141.7 L920.1,1144.3 L918.3,1152.2 L916.6,1156.9 L913.2,1152.2 L909.7,1146.1 L901.1,1143.8 L894.9,1145.2 L883.8,1139.9 L880.4,1132.9 L870.0,1131.2 L859.7,1132.9 L856.1,1133.4 L848.3,1134.3 L839.9,1136.0 L833.1,1140.3 L834.8,1146.3 L831.4,1147.2 L826.4,1143.7 L819.6,1144.6 L816.2,1142.0 L809.5,1138.6 L809.5,1131.7 L806.1,1128.3 L802.7,1121.4 L792.6,1120.6 L792.6,1111.1 L797.7,1104.3 L802.7,1095.7 L801.0,1086.3 L797.7,1080.2 L792.6,1078.5 L789.2,1083.7 L782.5,1082.0 L772.3,1081.1 L758.8,1087.1 L753.7,1091.4 L738.5,1092.3 L736.8,1088.8 L731.8,1082.0 L718.3,1080.2 L711.5,1082.0 L708.1,1088.8 L704.7,1082.0 L691.2,1082.8 L677.7,1081.1 L664.2,1075.1 L660.8,1069.9 L654.1,1068.2 L640.6,1061.4 L633.8,1058.8 L631.3,1062.2 L627.0,1060.5 L616.9,1054.5 L607.6,1051.1 L606.8,1044.2 L603.4,1038.2 L611.0,1033.9 L607.6,1028.8 L606.8,1020.2 L601.7,1016.8 L598.3,1009.9 L589.9,1009.0 L581.4,1005.6 L579.7,999.6 L573.0,996.2 L564.5,993.1 L568.8,991.4 L569.6,986.3 L566.2,980.2 L556.1,978.5ZM1032.2,1106.6 L1033.9,1111.9 L1028.7,1125.9 L1023.6,1136.4 L1021.0,1141.7 L1015.8,1132.9 L1014.9,1122.4 L1021.8,1113.6ZM901.1,1166.2 L906.3,1161.0 L916.6,1158.3 L927.8,1159.2 L921.8,1168.0 L914.9,1175.0 L908.0,1175.9 L901.1,1171.5Z" fill="none" stroke="#111" stroke-width="1.6"/>
<path d="M935.9,1122.8 L947.9,1107.2 L959.9,1122.8 L947.9,1130.0Z" fill="#f4e29c"/>
<path d="M937.7,1122.8 L947.9,1109.6 L958.1,1122.8 L947.9,1128.9Z" fill="#f2cd73"/>
<path d="M939.6,1122.8 L947.9,1112.0 L956.2,1122.8 L947.9,1127.8Z" fill="#f1a94c"/>
<path d="M941.4,1122.8 L947.9,1114.4 L954.4,1122.8 L947.9,1126.7Z" fill="#ed863d"/>
<path d="M943.3,1122.8 L947.9,1116.8 L952.5,1122.8 L947.9,1125.6Z" fill="#e5502d"/>
<path d="M945.1,1122.8 L947.9,1119.2 L950.7,1122.8 L947.9,1124.5Z" fill="#d42420"/>
<line x1="907.8" y1="1198.2" x2="911.6" y2="1208.4" stroke="#111" stroke-width="1.6"/>
<line x1="925.7" y1="1191.8" x2="941.0" y2="1199.5" stroke="#111" stroke-width="1.6"/>
<line x1="928.2" y1="1198.2" x2="938.5" y2="1193.1" stroke="#111" stroke-width="1.6"/>
<line x1="951.3" y1="1203.3" x2="961.5" y2="1199.5" stroke="#111" stroke-width="1.6"/>
<line x1="1002.4" y1="1200.7" x2="1003.7" y2="1211.0" stroke="#111" stroke-width="1.6"/>
<line x1="1006.3" y1="1180.3" x2="1011.4" y2="1170.0" stroke="#111" stroke-width="1.6"/>
<line x1="914.2" y1="1236.6" x2="916.7" y2="1246.8" stroke="#111" stroke-width="1.6"/>
<line x1="953.8" y1="1246.8" x2="961.5" y2="1259.6" stroke="#111" stroke-width="1.6"/>
<line x1="958.9" y1="1254.5" x2="979.4" y2="1264.7" stroke="#111" stroke-width="1.6"/>
<line x1="969.2" y1="1264.7" x2="984.5" y2="1274.9" stroke="#111" stroke-width="1.6"/>
<line x1="948.7" y1="1269.8" x2="969.2" y2="1277.5" stroke="#111" stroke-width="1.6"/>
<line x1="979.4" y1="1257.0" x2="992.2" y2="1251.9" stroke="#111" stroke-width="1.6"/>
<line x1="893.7" y1="1286.5" x2="895.0" y2="1296.7" stroke="#111" stroke-width="1.6"/>
<line x1="906.5" y1="1283.9" x2="918.0" y2="1280.1" stroke="#111" stroke-width="1.6"/>
<line x1="935.9" y1="1301.8" x2="941.0" y2="1309.5" stroke="#111" stroke-width="1.6"/>
<line x1="933.4" y1="1318.4" x2="939.8" y2="1322.3" stroke="#111" stroke-width="1.6"/>
<line x1="997.3" y1="1249.4" x2="1002.4" y2="1240.4" stroke="#111" stroke-width="1.6"/>
<line x1="964.1" y1="1274.9" x2="974.3" y2="1285.2" stroke="#111" stroke-width="1.6"/>
<line x1="941.0" y1="1285.2" x2="953.8" y2="1282.6" stroke="#111" stroke-width="1.6"/>
<line x1="976.9" y1="1218.6" x2="979.4" y2="1221.2" stroke="#111" stroke-width="1.6"/>
<line x1="942.3" y1="1164.9" x2="953.8" y2="1167.5" stroke="#111" stroke-width="1.6"/>
<line x1="971.7" y1="1148.3" x2="982.0" y2="1152.1" stroke="#111" stroke-width="1.6"/>
</g>
<rect x="860.4" y="1098.4" width="183.0000000000001" height="239.19999999999982" fill="none" stroke="#111" stroke-width="2.8"/>
</g>
<rect x="1222.0" y="810.0" width="936.5" height="534.0" fill="none" stroke="#1e1a1a" stroke-width="3.6"/>
<text x="1245.0" y="846.4" font-size="38" text-anchor="start" textLength="40.9" lengthAdjust="spacingAndGlyphs" fill="#231f20" stroke="#231f20" stroke-width="0.55">(d)</text>
<line x1="1266.4" y1="1344.0" x2="1266.4" y2="1363.0" stroke="#231f20" stroke-width="3.2"/>
<text x="1266.4" y="1397.0" font-size="26" text-anchor="middle" textLength="50.4" lengthAdjust="spacingAndGlyphs" fill="#231f20" stroke="#231f20" stroke-width="0.55">75°E</text>
<line x1="1485.5" y1="1344.0" x2="1485.5" y2="1363.0" stroke="#231f20" stroke-width="3.2"/>
<text x="1485.5" y="1397.0" font-size="26" text-anchor="middle" textLength="50.4" lengthAdjust="spacingAndGlyphs" fill="#231f20" stroke="#231f20" stroke-width="0.55">90°E</text>
<line x1="1704.7" y1="1344.0" x2="1704.7" y2="1363.0" stroke="#231f20" stroke-width="3.2"/>
<text x="1704.7" y="1397.0" font-size="26" text-anchor="middle" textLength="63.3" lengthAdjust="spacingAndGlyphs" fill="#231f20" stroke="#231f20" stroke-width="0.55">105°E</text>
<line x1="1923.8" y1="1344.0" x2="1923.8" y2="1363.0" stroke="#231f20" stroke-width="3.2"/>
<text x="1923.8" y="1397.0" font-size="26" text-anchor="middle" textLength="63.3" lengthAdjust="spacingAndGlyphs" fill="#231f20" stroke="#231f20" stroke-width="0.55">120°E</text>
<line x1="2143.0" y1="1344.0" x2="2143.0" y2="1363.0" stroke="#231f20" stroke-width="3.2"/>
<text x="2143.0" y="1397.0" font-size="26" text-anchor="middle" textLength="63.3" lengthAdjust="spacingAndGlyphs" fill="#231f20" stroke="#231f20" stroke-width="0.55">135°E</text>
<line x1="1202.0" y1="809.7" x2="1222.0" y2="809.7" stroke="#231f20" stroke-width="3.2"/>
<text x="1190.0" y="818.8" font-size="26" text-anchor="end" textLength="51.7" lengthAdjust="spacingAndGlyphs" fill="#231f20" stroke="#231f20" stroke-width="0.55">55°N</text>
<line x1="1202.0" y1="880.3" x2="1222.0" y2="880.3" stroke="#231f20" stroke-width="3.2"/>
<text x="1190.0" y="889.4" font-size="26" text-anchor="end" textLength="51.7" lengthAdjust="spacingAndGlyphs" fill="#231f20" stroke="#231f20" stroke-width="0.55">50°N</text>
<line x1="1202.0" y1="950.9" x2="1222.0" y2="950.9" stroke="#231f20" stroke-width="3.2"/>
<text x="1190.0" y="960.0" font-size="26" text-anchor="end" textLength="51.7" lengthAdjust="spacingAndGlyphs" fill="#231f20" stroke="#231f20" stroke-width="0.55">45°N</text>
<line x1="1202.0" y1="1021.5" x2="1222.0" y2="1021.5" stroke="#231f20" stroke-width="3.2"/>
<text x="1190.0" y="1030.6" font-size="26" text-anchor="end" textLength="51.7" lengthAdjust="spacingAndGlyphs" fill="#231f20" stroke="#231f20" stroke-width="0.55">40°N</text>
<line x1="1202.0" y1="1092.1" x2="1222.0" y2="1092.1" stroke="#231f20" stroke-width="3.2"/>
<text x="1190.0" y="1101.2" font-size="26" text-anchor="end" textLength="51.7" lengthAdjust="spacingAndGlyphs" fill="#231f20" stroke="#231f20" stroke-width="0.55">35°N</text>
<line x1="1202.0" y1="1162.7" x2="1222.0" y2="1162.7" stroke="#231f20" stroke-width="3.2"/>
<text x="1190.0" y="1171.8" font-size="26" text-anchor="end" textLength="51.7" lengthAdjust="spacingAndGlyphs" fill="#231f20" stroke="#231f20" stroke-width="0.55">30°N</text>
<line x1="1202.0" y1="1233.3" x2="1222.0" y2="1233.3" stroke="#231f20" stroke-width="3.2"/>
<text x="1190.0" y="1242.4" font-size="26" text-anchor="end" textLength="51.7" lengthAdjust="spacingAndGlyphs" fill="#231f20" stroke="#231f20" stroke-width="0.55">25°N</text>
<line x1="1202.0" y1="1303.9" x2="1222.0" y2="1303.9" stroke="#231f20" stroke-width="3.2"/>
<text x="1190.0" y="1313.0" font-size="26" text-anchor="end" textLength="51.7" lengthAdjust="spacingAndGlyphs" fill="#231f20" stroke="#231f20" stroke-width="0.55">20°N</text>
<clipPath id="ce"><rect x="111" y="1593" width="937" height="534"/></clipPath>
<clipPath id="le"><path d="M709.6,2091.8 L699.2,2083.6 L691.2,2079.1 L683.2,2082.1 L675.2,2083.2 L663.2,2079.1 L651.2,2075.3 L639.1,2070.8 L629.5,2066.3 L619.1,2063.3 L611.1,2057.3 L603.1,2050.6 L604.7,2044.6 L601.5,2035.6 L595.1,2025.8 L587.1,2016.8 L580.7,2011.6 L572.7,2007.1 L571.1,2000.3 L563.1,1994.3 L557.5,1990.6 L549.5,1983.1 L544.7,1975.6 L539.1,1967.3 L528.7,1962.1 L530.3,1968.1 L532.7,1975.6 L539.1,1981.6 L544.7,1988.3 L549.5,1995.8 L555.1,2004.1 L560.7,2014.6 L564.7,2019.1 L571.1,2025.1 L567.9,2028.8 L564.7,2024.3 L555.1,2016.8 L550.3,2014.6 L547.1,2004.1 L538.3,2000.3 L532.7,1993.6 L526.2,1992.1 L533.5,1986.8 L527.1,1979.3 L519.0,1971.8 L514.2,1962.1 L510.2,1956.8 L508.6,1952.3 L503.0,1947.8 L499.0,1945.6 L492.6,1943.3 L483.0,1941.8 L481.4,1936.6 L476.6,1932.1 L471.8,1926.1 L467.8,1921.6 L467.0,1917.1 L463.0,1914.8 L457.4,1908.8 L456.6,1902.1 L451.8,1897.6 L454.2,1890.8 L453.4,1885.6 L451.0,1879.6 L454.2,1870.6 L455.0,1859.3 L455.0,1853.3 L453.4,1846.6 L449.4,1837.6 L463.0,1839.8 L467.8,1844.3 L467.0,1835.3 L463.0,1833.1 L459.0,1829.3 L451.0,1825.6 L443.0,1821.8 L431.0,1818.1 L424.6,1810.6 L419.0,1804.6 L410.9,1799.3 L404.5,1793.3 L401.3,1788.1 L394.9,1784.3 L390.9,1778.3 L382.9,1773.1 L374.9,1765.6 L362.9,1763.3 L354.9,1763.3 L346.9,1760.3 L338.9,1756.6 L329.3,1753.6 L318.9,1752.1 L306.9,1750.6 L294.8,1750.6 L282.8,1747.6 L273.2,1744.6 L264.4,1746.1 L258.8,1749.8 L250.8,1752.8 L242.8,1755.8 L232.4,1756.6 L234.8,1746.8 L242.8,1741.6 L234.8,1743.1 L226.8,1749.1 L218.8,1755.8 L213.2,1759.6 L202.8,1766.3 L194.8,1771.6 L184.4,1776.8 L174.7,1781.3 L162.7,1784.3 L150.7,1788.1 L138.7,1790.3 L128.3,1792.6 L130.7,1788.8 L142.7,1786.6 L154.7,1781.3 L166.7,1776.8 L178.7,1769.3 L186.0,1763.3 L190.8,1759.6 L178.7,1759.6 L166.7,1761.1 L152.3,1760.3 L146.7,1751.3 L134.7,1748.3 L124.3,1744.6 L125.1,1739.3 L118.7,1735.6 L128.3,1729.6 L134.7,1725.8 L150.7,1724.3 L160.3,1720.6 L157.1,1716.8 L138.7,1716.8 L126.7,1716.8 L114.7,1715.3 L106.7,1711.6 L101.9,1708.6 L114.7,1704.1 L130.7,1701.1 L136.3,1704.8 L152.3,1705.6 L154.7,1701.1 L138.7,1697.3 L130.7,1692.8 L117.1,1688.3 L118.7,1683.8 L134.7,1683.1 L142.7,1677.8 L152.3,1673.3 L166.7,1670.3 L182.7,1668.8 L194.8,1665.8 L206.8,1668.1 L222.8,1668.8 L238.8,1671.8 L254.8,1671.8 L270.8,1674.1 L286.8,1675.6 L302.9,1674.8 L318.9,1677.8 L334.9,1679.3 L350.9,1683.8 L362.9,1680.8 L370.9,1678.6 L382.9,1679.3 L394.9,1677.1 L406.9,1674.8 L419.0,1674.1 L427.0,1673.3 L439.0,1679.3 L451.0,1680.1 L463.0,1680.1 L479.0,1677.8 L495.0,1683.1 L511.0,1683.8 L523.0,1687.6 L535.1,1689.1 L551.1,1692.1 L567.1,1690.6 L579.1,1689.1 L591.1,1690.6 L603.1,1687.6 L615.1,1690.6 L631.1,1692.1 L647.2,1692.1 L659.2,1688.3 L671.2,1686.1 L679.2,1688.3 L687.2,1686.1 L683.2,1679.3 L687.2,1668.1 L691.2,1660.6 L699.2,1664.3 L707.2,1671.8 L715.2,1677.1 L723.2,1683.1 L735.2,1686.8 L743.2,1690.6 L747.2,1696.6 L755.2,1694.3 L759.3,1686.8 L767.3,1679.3 L771.3,1677.1 L791.3,1679.3 L795.3,1686.8 L791.3,1694.3 L779.3,1701.8 L756.9,1701.8 L751.2,1709.3 L743.2,1719.1 L727.2,1722.1 L720.8,1728.1 L707.2,1734.1 L695.2,1740.8 L690.4,1750.6 L693.6,1759.6 L703.2,1761.8 L708.8,1772.3 L723.2,1770.8 L739.2,1776.8 L755.2,1782.1 L771.3,1785.8 L788.9,1787.3 L789.7,1799.3 L795.3,1806.8 L802.5,1814.3 L812.9,1815.8 L816.9,1808.3 L816.1,1795.6 L811.3,1791.1 L827.3,1782.1 L833.7,1776.8 L832.9,1769.3 L827.3,1761.8 L823.3,1754.3 L827.3,1749.1 L823.3,1743.1 L825.7,1733.3 L843.3,1733.3 L855.3,1734.1 L867.3,1737.1 L875.4,1741.6 L887.4,1743.1 L891.4,1754.3 L893.0,1759.6 L903.4,1761.8 L909.0,1763.3 L917.0,1759.6 L927.4,1754.3 L931.4,1748.3 L939.4,1759.6 L947.4,1765.6 L955.4,1776.8 L965.0,1784.3 L975.4,1787.3 L987.5,1792.6 L995.5,1798.6 L1001.1,1806.8 L997.9,1812.8 L987.5,1815.1 L971.4,1821.8 L955.4,1824.1 L939.4,1823.3 L923.4,1824.1 L911.4,1829.3 L899.4,1833.1 L889.0,1839.1 L879.4,1848.8 L887.4,1845.8 L899.4,1838.3 L915.4,1832.3 L931.4,1833.8 L930.6,1839.8 L919.4,1840.6 L927.4,1843.6 L929.8,1849.6 L935.4,1854.1 L947.4,1858.6 L955.4,1857.8 L962.6,1851.8 L968.2,1856.3 L959.4,1860.8 L943.4,1866.1 L931.4,1870.6 L922.6,1874.3 L917.8,1869.1 L931.4,1860.8 L923.4,1860.8 L911.4,1863.8 L899.4,1868.3 L889.0,1872.1 L882.6,1877.3 L881.0,1881.8 L887.4,1887.1 L883.4,1888.6 L875.4,1890.1 L867.3,1891.6 L856.9,1894.6 L855.3,1896.8 L854.5,1902.8 L848.1,1908.8 L846.5,1911.8 L843.3,1915.6 L840.1,1921.6 L836.9,1923.1 L840.9,1929.1 L843.3,1935.8 L835.3,1940.3 L824.9,1945.6 L818.5,1947.1 L812.9,1951.6 L805.7,1956.8 L798.5,1962.1 L796.1,1971.8 L797.7,1979.3 L802.5,1988.3 L806.5,1999.6 L805.7,2007.1 L802.5,2011.6 L797.7,2010.8 L792.9,2004.1 L788.9,1998.1 L784.9,1990.6 L785.7,1983.1 L779.3,1977.1 L772.9,1975.6 L764.9,1977.8 L757.7,1972.6 L747.2,1973.3 L739.2,1972.6 L731.2,1974.1 L732.8,1980.8 L731.2,1983.1 L725.6,1982.3 L716.8,1980.8 L707.2,1978.6 L696.8,1977.8 L688.8,1980.8 L683.2,1984.6 L675.2,1988.3 L668.8,1994.3 L668.0,2001.8 L669.6,2009.3 L666.4,2016.8 L664.8,2028.1 L665.6,2035.6 L668.8,2041.6 L675.2,2052.1 L679.2,2058.1 L687.2,2061.8 L692.8,2064.1 L703.2,2062.6 L711.2,2061.1 L716.0,2060.3 L721.6,2054.3 L724.0,2044.6 L731.2,2040.8 L743.2,2039.3 L751.2,2039.3 L752.8,2042.3 L748.0,2048.3 L746.4,2054.3 L744.8,2059.6 L740.8,2061.8 L734.0,2067.1 L724.0,2067.1 L724.0,2079.8 L713.6,2079.8 L710.4,2087.3ZM551.1,1613.3 L583.1,1615.6 L575.1,1620.8 L543.1,1619.3ZM551.1,1609.6 L567.1,1608.1 L575.1,1611.8 L559.1,1614.1ZM607.1,1617.1 L615.1,1620.8 L599.1,1621.6ZM955.4,1701.8 L947.4,1709.3 L939.4,1713.1 L927.4,1718.3 L931.4,1725.8 L923.4,1731.8 L903.4,1731.1 L875.4,1724.3 L859.3,1716.8 L827.3,1718.3 L821.7,1711.6 L851.3,1705.6 L859.3,1694.3 L843.3,1688.3 L827.3,1679.3 L807.3,1677.8 L791.3,1677.1 L771.3,1673.3 L743.2,1671.8 L731.2,1664.3 L743.2,1649.3 L767.3,1649.3 L803.3,1647.8 L831.3,1655.3 L851.3,1658.3 L871.4,1663.6 L887.4,1669.6 L903.4,1674.1 L911.4,1680.8 L915.4,1686.8 L935.4,1694.3 L947.4,1699.6ZM635.1,1683.1 L615.1,1686.8 L591.1,1685.3 L571.1,1684.6 L543.1,1686.8 L523.0,1681.6 L503.0,1679.3 L507.0,1671.8 L535.1,1665.8 L499.0,1664.3 L499.0,1656.8 L527.1,1650.8 L559.1,1654.6 L587.1,1650.8 L607.1,1656.8 L623.1,1671.8 L639.1,1675.6ZM443.0,1649.3 L451.0,1643.3 L471.0,1642.6 L487.0,1643.3 L507.0,1644.1 L515.0,1648.6 L523.0,1650.8 L511.0,1656.8 L495.0,1661.3 L479.0,1664.3 L463.0,1667.3 L451.0,1668.1 L440.6,1661.3ZM727.2,1623.1 L735.2,1615.6 L711.2,1608.1 L683.2,1600.6 L703.2,1593.1 L727.2,1585.6 L807.3,1578.1 L887.4,1578.1 L951.4,1581.8 L951.4,1587.1 L927.4,1593.1 L903.4,1600.6 L871.4,1608.1 L839.3,1611.8 L823.3,1624.6 L799.3,1629.1 L759.3,1627.6 L727.2,1626.8ZM807.3,1641.8 L775.3,1641.8 L743.2,1641.8 L711.2,1638.8 L679.2,1633.6 L703.2,1628.3 L735.2,1626.8 L775.3,1628.3 L803.3,1634.3ZM699.2,1661.3 L684.8,1659.1 L687.2,1649.3 L699.2,1644.8 L719.2,1645.6 L723.2,1649.3 L707.2,1656.8ZM667.2,1664.3 L647.2,1660.6 L627.1,1656.8 L643.2,1647.1 L663.2,1645.6 L675.2,1653.1ZM507.0,1630.6 L519.0,1626.1 L543.1,1626.8 L567.1,1625.3 L583.1,1626.1 L603.1,1630.6 L599.1,1638.1 L575.1,1641.1 L535.1,1641.1 L511.0,1634.3ZM711.2,1615.6 L687.2,1608.1 L671.2,1596.8 L711.2,1590.8 L739.2,1600.6ZM663.2,1638.1 L639.1,1634.3 L647.2,1626.8 L671.2,1628.3ZM503.0,1630.6 L471.0,1632.1 L463.0,1625.3 L495.0,1620.8ZM751.2,1711.6 L759.3,1705.6 L771.3,1709.3 L783.3,1713.1 L803.3,1716.8 L799.3,1724.3 L755.2,1716.8ZM972.2,1837.6 L979.4,1833.1 L989.1,1821.1 L1003.5,1813.6 L999.5,1814.3 L1003.5,1827.1 L1017.9,1830.1 L1019.5,1836.8 L1025.9,1844.3 L1018.7,1851.1 L1003.5,1848.1 L999.5,1843.6 L973.0,1843.6ZM460.6,1837.6 L448.6,1836.1 L435.0,1829.3 L419.8,1819.6 L431.0,1821.1 L447.0,1825.6 L455.8,1831.6Z"/></clipPath>
<g clip-path="url(#ce)">
<g clip-path="url(#le)">
<rect x="111" y="1593" width="937" height="534" fill="#e6301a"/>
<path d="M6.6,1525.6 L1127.6,1525.6 L1127.6,1709.3 L847.3,1710.8 L703.2,1715.3 L607.1,1705.6 L551.1,1695.1 L487.0,1680.8 L431.0,1668.1 L6.6,1668.1Z" fill="#ea5c1c"/>
<path d="M366.9,1851.8 L455.0,1860.1 L490.2,1895.3 L584.7,1909.6 L630.3,1860.1 L860.1,1854.8 L1127.6,1850.3 L1127.6,2200.6 L366.9,2200.6Z" fill="#d81719"/>
</g>
<path d="M719.2,1845.8 L731.2,1840.6 L739.2,1837.6 L751.2,1836.1 L760.9,1840.6 L768.9,1844.3 L770.5,1851.8 L767.3,1851.8 L747.2,1851.8 L739.2,1845.8 L723.2,1851.1 L710.4,1849.6ZM744.8,1887.8 L747.2,1878.1 L744.0,1866.8 L747.2,1859.3 L756.9,1856.3 L767.3,1857.1 L763.3,1863.1 L756.9,1870.6 L755.2,1881.8 L751.2,1887.8ZM770.5,1856.3 L775.3,1854.1 L795.3,1855.6 L803.3,1859.3 L804.9,1866.8 L799.3,1864.6 L793.7,1870.6 L787.3,1878.1 L785.7,1870.6 L779.3,1866.8 L780.1,1860.8ZM787.3,1885.6 L803.3,1881.1 L815.3,1878.8 L799.3,1886.3 L791.3,1889.3 L780.1,1887.8ZM812.1,1873.6 L819.3,1871.3 L835.3,1869.1 L837.7,1874.3 L823.3,1875.1 L808.9,1875.8ZM668.8,1821.1 L664.8,1810.6 L653.6,1801.6 L656.8,1797.1 L667.2,1803.1 L676.8,1814.3 L671.2,1822.6ZM515.0,1739.3 L531.1,1731.8 L551.1,1731.1 L571.1,1730.3 L559.1,1734.1 L543.1,1738.6 L527.1,1743.8 L511.0,1743.1ZM447.0,1713.1 L463.0,1707.1 L479.0,1698.1 L495.0,1699.6 L499.0,1705.6 L483.0,1711.6 L463.0,1713.8Z" fill="#fff"/>
<path d="M709.6,2091.8 L699.2,2083.6 L691.2,2079.1 L683.2,2082.1 L675.2,2083.2 L663.2,2079.1 L651.2,2075.3 L639.1,2070.8 L629.5,2066.3 L619.1,2063.3 L611.1,2057.3 L603.1,2050.6 L604.7,2044.6 L601.5,2035.6 L595.1,2025.8 L587.1,2016.8 L580.7,2011.6 L572.7,2007.1 L571.1,2000.3 L563.1,1994.3 L557.5,1990.6 L549.5,1983.1 L544.7,1975.6 L539.1,1967.3 L528.7,1962.1 L530.3,1968.1 L532.7,1975.6 L539.1,1981.6 L544.7,1988.3 L549.5,1995.8 L555.1,2004.1 L560.7,2014.6 L564.7,2019.1 L571.1,2025.1 L567.9,2028.8 L564.7,2024.3 L555.1,2016.8 L550.3,2014.6 L547.1,2004.1 L538.3,2000.3 L532.7,1993.6 L526.2,1992.1 L533.5,1986.8 L527.1,1979.3 L519.0,1971.8 L514.2,1962.1 L510.2,1956.8 L508.6,1952.3 L503.0,1947.8 L499.0,1945.6 L492.6,1943.3 L483.0,1941.8 L481.4,1936.6 L476.6,1932.1 L471.8,1926.1 L467.8,1921.6 L467.0,1917.1 L463.0,1914.8 L457.4,1908.8 L456.6,1902.1 L451.8,1897.6 L454.2,1890.8 L453.4,1885.6 L451.0,1879.6 L454.2,1870.6 L455.0,1859.3 L455.0,1853.3 L453.4,1846.6 L449.4,1837.6 L463.0,1839.8 L467.8,1844.3 L467.0,1835.3 L463.0,1833.1 L459.0,1829.3 L451.0,1825.6 L443.0,1821.8 L431.0,1818.1 L424.6,1810.6 L419.0,1804.6 L410.9,1799.3 L404.5,1793.3 L401.3,1788.1 L394.9,1784.3 L390.9,1778.3 L382.9,1773.1 L374.9,1765.6 L362.9,1763.3 L354.9,1763.3 L346.9,1760.3 L338.9,1756.6 L329.3,1753.6 L318.9,1752.1 L306.9,1750.6 L294.8,1750.6 L282.8,1747.6 L273.2,1744.6 L264.4,1746.1 L258.8,1749.8 L250.8,1752.8 L242.8,1755.8 L232.4,1756.6 L234.8,1746.8 L242.8,1741.6 L234.8,1743.1 L226.8,1749.1 L218.8,1755.8 L213.2,1759.6 L202.8,1766.3 L194.8,1771.6 L184.4,1776.8 L174.7,1781.3 L162.7,1784.3 L150.7,1788.1 L138.7,1790.3 L128.3,1792.6 L130.7,1788.8 L142.7,1786.6 L154.7,1781.3 L166.7,1776.8 L178.7,1769.3 L186.0,1763.3 L190.8,1759.6 L178.7,1759.6 L166.7,1761.1 L152.3,1760.3 L146.7,1751.3 L134.7,1748.3 L124.3,1744.6 L125.1,1739.3 L118.7,1735.6 L128.3,1729.6 L134.7,1725.8 L150.7,1724.3 L160.3,1720.6 L157.1,1716.8 L138.7,1716.8 L126.7,1716.8 L114.7,1715.3 L106.7,1711.6 L101.9,1708.6 L114.7,1704.1 L130.7,1701.1 L136.3,1704.8 L152.3,1705.6 L154.7,1701.1 L138.7,1697.3 L130.7,1692.8 L117.1,1688.3 L118.7,1683.8 L134.7,1683.1 L142.7,1677.8 L152.3,1673.3 L166.7,1670.3 L182.7,1668.8 L194.8,1665.8 L206.8,1668.1 L222.8,1668.8 L238.8,1671.8 L254.8,1671.8 L270.8,1674.1 L286.8,1675.6 L302.9,1674.8 L318.9,1677.8 L334.9,1679.3 L350.9,1683.8 L362.9,1680.8 L370.9,1678.6 L382.9,1679.3 L394.9,1677.1 L406.9,1674.8 L419.0,1674.1 L427.0,1673.3 L439.0,1679.3 L451.0,1680.1 L463.0,1680.1 L479.0,1677.8 L495.0,1683.1 L511.0,1683.8 L523.0,1687.6 L535.1,1689.1 L551.1,1692.1 L567.1,1690.6 L579.1,1689.1 L591.1,1690.6 L603.1,1687.6 L615.1,1690.6 L631.1,1692.1 L647.2,1692.1 L659.2,1688.3 L671.2,1686.1 L679.2,1688.3 L687.2,1686.1 L683.2,1679.3 L687.2,1668.1 L691.2,1660.6 L699.2,1664.3 L707.2,1671.8 L715.2,1677.1 L723.2,1683.1 L735.2,1686.8 L743.2,1690.6 L747.2,1696.6 L755.2,1694.3 L759.3,1686.8 L767.3,1679.3 L771.3,1677.1 L791.3,1679.3 L795.3,1686.8 L791.3,1694.3 L779.3,1701.8 L756.9,1701.8 L751.2,1709.3 L743.2,1719.1 L727.2,1722.1 L720.8,1728.1 L707.2,1734.1 L695.2,1740.8 L690.4,1750.6 L693.6,1759.6 L703.2,1761.8 L708.8,1772.3 L723.2,1770.8 L739.2,1776.8 L755.2,1782.1 L771.3,1785.8 L788.9,1787.3 L789.7,1799.3 L795.3,1806.8 L802.5,1814.3 L812.9,1815.8 L816.9,1808.3 L816.1,1795.6 L811.3,1791.1 L827.3,1782.1 L833.7,1776.8 L832.9,1769.3 L827.3,1761.8 L823.3,1754.3 L827.3,1749.1 L823.3,1743.1 L825.7,1733.3 L843.3,1733.3 L855.3,1734.1 L867.3,1737.1 L875.4,1741.6 L887.4,1743.1 L891.4,1754.3 L893.0,1759.6 L903.4,1761.8 L909.0,1763.3 L917.0,1759.6 L927.4,1754.3 L931.4,1748.3 L939.4,1759.6 L947.4,1765.6 L955.4,1776.8 L965.0,1784.3 L975.4,1787.3 L987.5,1792.6 L995.5,1798.6 L1001.1,1806.8 L997.9,1812.8 L987.5,1815.1 L971.4,1821.8 L955.4,1824.1 L939.4,1823.3 L923.4,1824.1 L911.4,1829.3 L899.4,1833.1 L889.0,1839.1 L879.4,1848.8 L887.4,1845.8 L899.4,1838.3 L915.4,1832.3 L931.4,1833.8 L930.6,1839.8 L919.4,1840.6 L927.4,1843.6 L929.8,1849.6 L935.4,1854.1 L947.4,1858.6 L955.4,1857.8 L962.6,1851.8 L968.2,1856.3 L959.4,1860.8 L943.4,1866.1 L931.4,1870.6 L922.6,1874.3 L917.8,1869.1 L931.4,1860.8 L923.4,1860.8 L911.4,1863.8 L899.4,1868.3 L889.0,1872.1 L882.6,1877.3 L881.0,1881.8 L887.4,1887.1 L883.4,1888.6 L875.4,1890.1 L867.3,1891.6 L856.9,1894.6 L855.3,1896.8 L854.5,1902.8 L848.1,1908.8 L846.5,1911.8 L843.3,1915.6 L840.1,1921.6 L836.9,1923.1 L840.9,1929.1 L843.3,1935.8 L835.3,1940.3 L824.9,1945.6 L818.5,1947.1 L812.9,1951.6 L805.7,1956.8 L798.5,1962.1 L796.1,1971.8 L797.7,1979.3 L802.5,1988.3 L806.5,1999.6 L805.7,2007.1 L802.5,2011.6 L797.7,2010.8 L792.9,2004.1 L788.9,1998.1 L784.9,1990.6 L785.7,1983.1 L779.3,1977.1 L772.9,1975.6 L764.9,1977.8 L757.7,1972.6 L747.2,1973.3 L739.2,1972.6 L731.2,1974.1 L732.8,1980.8 L731.2,1983.1 L725.6,1982.3 L716.8,1980.8 L707.2,1978.6 L696.8,1977.8 L688.8,1980.8 L683.2,1984.6 L675.2,1988.3 L668.8,1994.3 L668.0,2001.8 L669.6,2009.3 L666.4,2016.8 L664.8,2028.1 L665.6,2035.6 L668.8,2041.6 L675.2,2052.1 L679.2,2058.1 L687.2,2061.8 L692.8,2064.1 L703.2,2062.6 L711.2,2061.1 L716.0,2060.3 L721.6,2054.3 L724.0,2044.6 L731.2,2040.8 L743.2,2039.3 L751.2,2039.3 L752.8,2042.3 L748.0,2048.3 L746.4,2054.3 L744.8,2059.6 L740.8,2061.8 L734.0,2067.1 L724.0,2067.1 L724.0,2079.8 L713.6,2079.8 L710.4,2087.3ZM551.1,1613.3 L583.1,1615.6 L575.1,1620.8 L543.1,1619.3ZM551.1,1609.6 L567.1,1608.1 L575.1,1611.8 L559.1,1614.1ZM607.1,1617.1 L615.1,1620.8 L599.1,1621.6ZM955.4,1701.8 L947.4,1709.3 L939.4,1713.1 L927.4,1718.3 L931.4,1725.8 L923.4,1731.8 L903.4,1731.1 L875.4,1724.3 L859.3,1716.8 L827.3,1718.3 L821.7,1711.6 L851.3,1705.6 L859.3,1694.3 L843.3,1688.3 L827.3,1679.3 L807.3,1677.8 L791.3,1677.1 L771.3,1673.3 L743.2,1671.8 L731.2,1664.3 L743.2,1649.3 L767.3,1649.3 L803.3,1647.8 L831.3,1655.3 L851.3,1658.3 L871.4,1663.6 L887.4,1669.6 L903.4,1674.1 L911.4,1680.8 L915.4,1686.8 L935.4,1694.3 L947.4,1699.6ZM635.1,1683.1 L615.1,1686.8 L591.1,1685.3 L571.1,1684.6 L543.1,1686.8 L523.0,1681.6 L503.0,1679.3 L507.0,1671.8 L535.1,1665.8 L499.0,1664.3 L499.0,1656.8 L527.1,1650.8 L559.1,1654.6 L587.1,1650.8 L607.1,1656.8 L623.1,1671.8 L639.1,1675.6ZM443.0,1649.3 L451.0,1643.3 L471.0,1642.6 L487.0,1643.3 L507.0,1644.1 L515.0,1648.6 L523.0,1650.8 L511.0,1656.8 L495.0,1661.3 L479.0,1664.3 L463.0,1667.3 L451.0,1668.1 L440.6,1661.3ZM727.2,1623.1 L735.2,1615.6 L711.2,1608.1 L683.2,1600.6 L703.2,1593.1 L727.2,1585.6 L807.3,1578.1 L887.4,1578.1 L951.4,1581.8 L951.4,1587.1 L927.4,1593.1 L903.4,1600.6 L871.4,1608.1 L839.3,1611.8 L823.3,1624.6 L799.3,1629.1 L759.3,1627.6 L727.2,1626.8ZM807.3,1641.8 L775.3,1641.8 L743.2,1641.8 L711.2,1638.8 L679.2,1633.6 L703.2,1628.3 L735.2,1626.8 L775.3,1628.3 L803.3,1634.3ZM699.2,1661.3 L684.8,1659.1 L687.2,1649.3 L699.2,1644.8 L719.2,1645.6 L723.2,1649.3 L707.2,1656.8ZM667.2,1664.3 L647.2,1660.6 L627.1,1656.8 L643.2,1647.1 L663.2,1645.6 L675.2,1653.1ZM507.0,1630.6 L519.0,1626.1 L543.1,1626.8 L567.1,1625.3 L583.1,1626.1 L603.1,1630.6 L599.1,1638.1 L575.1,1641.1 L535.1,1641.1 L511.0,1634.3ZM711.2,1615.6 L687.2,1608.1 L671.2,1596.8 L711.2,1590.8 L739.2,1600.6ZM663.2,1638.1 L639.1,1634.3 L647.2,1626.8 L671.2,1628.3ZM503.0,1630.6 L471.0,1632.1 L463.0,1625.3 L495.0,1620.8ZM751.2,1711.6 L759.3,1705.6 L771.3,1709.3 L783.3,1713.1 L803.3,1716.8 L799.3,1724.3 L755.2,1716.8ZM972.2,1837.6 L979.4,1833.1 L989.1,1821.1 L1003.5,1813.6 L999.5,1814.3 L1003.5,1827.1 L1017.9,1830.1 L1019.5,1836.8 L1025.9,1844.3 L1018.7,1851.1 L1003.5,1848.1 L999.5,1843.6 L973.0,1843.6ZM460.6,1837.6 L448.6,1836.1 L435.0,1829.3 L419.8,1819.6 L431.0,1821.1 L447.0,1825.6 L455.8,1831.6ZM719.2,1845.8 L731.2,1840.6 L739.2,1837.6 L751.2,1836.1 L760.9,1840.6 L768.9,1844.3 L770.5,1851.8 L767.3,1851.8 L747.2,1851.8 L739.2,1845.8 L723.2,1851.1 L710.4,1849.6ZM744.8,1887.8 L747.2,1878.1 L744.0,1866.8 L747.2,1859.3 L756.9,1856.3 L767.3,1857.1 L763.3,1863.1 L756.9,1870.6 L755.2,1881.8 L751.2,1887.8ZM770.5,1856.3 L775.3,1854.1 L795.3,1855.6 L803.3,1859.3 L804.9,1866.8 L799.3,1864.6 L793.7,1870.6 L787.3,1878.1 L785.7,1870.6 L779.3,1866.8 L780.1,1860.8ZM787.3,1885.6 L803.3,1881.1 L815.3,1878.8 L799.3,1886.3 L791.3,1889.3 L780.1,1887.8ZM812.1,1873.6 L819.3,1871.3 L835.3,1869.1 L837.7,1874.3 L823.3,1875.1 L808.9,1875.8ZM668.8,1821.1 L664.8,1810.6 L653.6,1801.6 L656.8,1797.1 L667.2,1803.1 L676.8,1814.3 L671.2,1822.6ZM515.0,1739.3 L531.1,1731.8 L551.1,1731.1 L571.1,1730.3 L559.1,1734.1 L543.1,1738.6 L527.1,1743.8 L511.0,1743.1ZM447.0,1713.1 L463.0,1707.1 L479.0,1698.1 L495.0,1699.6 L499.0,1705.6 L483.0,1711.6 L463.0,1713.8Z" fill="none" stroke="#111" stroke-width="1.8" stroke-linejoin="round"/>
<path d="M551.1,1613.3 L583.1,1615.6 L575.1,1620.8 L543.1,1619.3ZM551.1,1609.6 L567.1,1608.1 L575.1,1611.8 L559.1,1614.1ZM607.1,1617.1 L615.1,1620.8 L599.1,1621.6ZM955.4,1701.8 L947.4,1709.3 L939.4,1713.1 L927.4,1718.3 L931.4,1725.8 L923.4,1731.8 L903.4,1731.1 L875.4,1724.3 L859.3,1716.8 L827.3,1718.3 L821.7,1711.6 L851.3,1705.6 L859.3,1694.3 L843.3,1688.3 L827.3,1679.3 L807.3,1677.8 L791.3,1677.1 L771.3,1673.3 L743.2,1671.8 L731.2,1664.3 L743.2,1649.3 L767.3,1649.3 L803.3,1647.8 L831.3,1655.3 L851.3,1658.3 L871.4,1663.6 L887.4,1669.6 L903.4,1674.1 L911.4,1680.8 L915.4,1686.8 L935.4,1694.3 L947.4,1699.6ZM635.1,1683.1 L615.1,1686.8 L591.1,1685.3 L571.1,1684.6 L543.1,1686.8 L523.0,1681.6 L503.0,1679.3 L507.0,1671.8 L535.1,1665.8 L499.0,1664.3 L499.0,1656.8 L527.1,1650.8 L559.1,1654.6 L587.1,1650.8 L607.1,1656.8 L623.1,1671.8 L639.1,1675.6ZM443.0,1649.3 L451.0,1643.3 L471.0,1642.6 L487.0,1643.3 L507.0,1644.1 L515.0,1648.6 L523.0,1650.8 L511.0,1656.8 L495.0,1661.3 L479.0,1664.3 L463.0,1667.3 L451.0,1668.1 L440.6,1661.3ZM727.2,1623.1 L735.2,1615.6 L711.2,1608.1 L683.2,1600.6 L703.2,1593.1 L727.2,1585.6 L807.3,1578.1 L887.4,1578.1 L951.4,1581.8 L951.4,1587.1 L927.4,1593.1 L903.4,1600.6 L871.4,1608.1 L839.3,1611.8 L823.3,1624.6 L799.3,1629.1 L759.3,1627.6 L727.2,1626.8ZM807.3,1641.8 L775.3,1641.8 L743.2,1641.8 L711.2,1638.8 L679.2,1633.6 L703.2,1628.3 L735.2,1626.8 L775.3,1628.3 L803.3,1634.3ZM699.2,1661.3 L684.8,1659.1 L687.2,1649.3 L699.2,1644.8 L719.2,1645.6 L723.2,1649.3 L707.2,1656.8ZM667.2,1664.3 L647.2,1660.6 L627.1,1656.8 L643.2,1647.1 L663.2,1645.6 L675.2,1653.1ZM507.0,1630.6 L519.0,1626.1 L543.1,1626.8 L567.1,1625.3 L583.1,1626.1 L603.1,1630.6 L599.1,1638.1 L575.1,1641.1 L535.1,1641.1 L511.0,1634.3ZM711.2,1615.6 L687.2,1608.1 L671.2,1596.8 L711.2,1590.8 L739.2,1600.6ZM663.2,1638.1 L639.1,1634.3 L647.2,1626.8 L671.2,1628.3ZM503.0,1630.6 L471.0,1632.1 L463.0,1625.3 L495.0,1620.8ZM751.2,1711.6 L759.3,1705.6 L771.3,1709.3 L783.3,1713.1 L803.3,1716.8 L799.3,1724.3 L755.2,1716.8ZM972.2,1837.6 L979.4,1833.1 L989.1,1821.1 L1003.5,1813.6 L999.5,1814.3 L1003.5,1827.1 L1017.9,1830.1 L1019.5,1836.8 L1025.9,1844.3 L1018.7,1851.1 L1003.5,1848.1 L999.5,1843.6 L973.0,1843.6ZM460.6,1837.6 L448.6,1836.1 L435.0,1829.3 L419.8,1819.6 L431.0,1821.1 L447.0,1825.6 L455.8,1831.6Z" fill="none" stroke="#111" stroke-width="2.6" stroke-linejoin="round"/>
</g>
<rect x="111.0" y="1593.0" width="937.0" height="534.0" fill="none" stroke="#1e1a1a" stroke-width="3.6"/>
<text x="136.0" y="1632.4" font-size="38" text-anchor="start" textLength="40.9" lengthAdjust="spacingAndGlyphs" fill="#231f20" stroke="#231f20" stroke-width="0.55">(e)</text>
<line x1="126.7" y1="2127.0" x2="126.7" y2="2146.0" stroke="#231f20" stroke-width="3.2"/>
<text x="126.7" y="2180.0" font-size="26" text-anchor="middle" textLength="69.7" lengthAdjust="spacingAndGlyphs" fill="#231f20" stroke="#231f20" stroke-width="0.55">165°W</text>
<line x1="246.8" y1="2127.0" x2="246.8" y2="2146.0" stroke="#231f20" stroke-width="3.2"/>
<text x="246.8" y="2180.0" font-size="26" text-anchor="middle" textLength="69.7" lengthAdjust="spacingAndGlyphs" fill="#231f20" stroke="#231f20" stroke-width="0.55">150°W</text>
<line x1="366.9" y1="2127.0" x2="366.9" y2="2146.0" stroke="#231f20" stroke-width="3.2"/>
<text x="366.9" y="2180.0" font-size="26" text-anchor="middle" textLength="69.7" lengthAdjust="spacingAndGlyphs" fill="#231f20" stroke="#231f20" stroke-width="0.55">135°W</text>
<line x1="487.0" y1="2127.0" x2="487.0" y2="2146.0" stroke="#231f20" stroke-width="3.2"/>
<text x="487.0" y="2180.0" font-size="26" text-anchor="middle" textLength="69.7" lengthAdjust="spacingAndGlyphs" fill="#231f20" stroke="#231f20" stroke-width="0.55">120°W</text>
<line x1="607.1" y1="2127.0" x2="607.1" y2="2146.0" stroke="#231f20" stroke-width="3.2"/>
<text x="607.1" y="2180.0" font-size="26" text-anchor="middle" textLength="69.7" lengthAdjust="spacingAndGlyphs" fill="#231f20" stroke="#231f20" stroke-width="0.55">105°W</text>
<line x1="727.2" y1="2127.0" x2="727.2" y2="2146.0" stroke="#231f20" stroke-width="3.2"/>
<text x="727.2" y="2180.0" font-size="26" text-anchor="middle" textLength="56.8" lengthAdjust="spacingAndGlyphs" fill="#231f20" stroke="#231f20" stroke-width="0.55">90°W</text>
<line x1="847.3" y1="2127.0" x2="847.3" y2="2146.0" stroke="#231f20" stroke-width="3.2"/>
<text x="847.3" y="2180.0" font-size="26" text-anchor="middle" textLength="56.8" lengthAdjust="spacingAndGlyphs" fill="#231f20" stroke="#231f20" stroke-width="0.55">75°W</text>
<line x1="967.4" y1="2127.0" x2="967.4" y2="2146.0" stroke="#231f20" stroke-width="3.2"/>
<text x="967.4" y="2180.0" font-size="26" text-anchor="middle" textLength="56.8" lengthAdjust="spacingAndGlyphs" fill="#231f20" stroke="#231f20" stroke-width="0.55">60°W</text>
<line x1="91.0" y1="1638.1" x2="111.0" y2="1638.1" stroke="#231f20" stroke-width="3.2"/>
<text x="79.0" y="1647.2" font-size="26" text-anchor="end" textLength="51.7" lengthAdjust="spacingAndGlyphs" fill="#231f20" stroke="#231f20" stroke-width="0.55">75°N</text>
<line x1="91.0" y1="1750.6" x2="111.0" y2="1750.6" stroke="#231f20" stroke-width="3.2"/>
<text x="79.0" y="1759.7" font-size="26" text-anchor="end" textLength="51.7" lengthAdjust="spacingAndGlyphs" fill="#231f20" stroke="#231f20" stroke-width="0.55">60°N</text>
<line x1="91.0" y1="1863.1" x2="111.0" y2="1863.1" stroke="#231f20" stroke-width="3.2"/>
<text x="79.0" y="1872.2" font-size="26" text-anchor="end" textLength="51.7" lengthAdjust="spacingAndGlyphs" fill="#231f20" stroke="#231f20" stroke-width="0.55">45°N</text>
<line x1="91.0" y1="1975.6" x2="111.0" y2="1975.6" stroke="#231f20" stroke-width="3.2"/>
<text x="79.0" y="1984.7" font-size="26" text-anchor="end" textLength="51.7" lengthAdjust="spacingAndGlyphs" fill="#231f20" stroke="#231f20" stroke-width="0.55">30°N</text>
<line x1="91.0" y1="2088.1" x2="111.0" y2="2088.1" stroke="#231f20" stroke-width="3.2"/>
<text x="79.0" y="2097.2" font-size="26" text-anchor="end" textLength="51.7" lengthAdjust="spacingAndGlyphs" fill="#231f20" stroke="#231f20" stroke-width="0.55">15°N</text>
<clipPath id="cf"><rect x="1221.5" y="1593" width="937.0" height="534"/></clipPath>
<clipPath id="lf"><path d="M1421.0,2129.6 L1413.8,2123.8 L1406.6,2115.6 L1401.5,2116.8 L1387.0,2117.9 L1388.1,2106.3 L1380.9,2098.1 L1386.0,2087.6 L1388.1,2077.1 L1389.1,2065.4 L1387.0,2053.7 L1382.9,2047.9 L1396.3,2039.7 L1416.9,2040.9 L1437.5,2043.2 L1458.1,2044.4 L1463.2,2042.0 L1465.3,2030.3 L1466.3,2015.2 L1456.0,2000.0 L1447.8,1995.3 L1432.4,1990.6 L1430.3,1984.8 L1442.7,1980.1 L1460.2,1982.5 L1462.2,1969.6 L1468.4,1973.1 L1480.8,1971.9 L1494.2,1963.8 L1497.2,1955.6 L1504.5,1953.3 L1514.8,1949.7 L1522.0,1943.9 L1527.1,1933.4 L1535.4,1926.4 L1550.8,1925.2 L1566.2,1921.7 L1568.3,1919.4 L1567.3,1907.7 L1562.1,1901.9 L1563.2,1886.7 L1581.7,1877.3 L1586.9,1884.3 L1584.8,1893.7 L1581.7,1901.9 L1579.6,1910.0 L1589.9,1919.4 L1602.3,1917.0 L1617.8,1913.5 L1625.0,1920.5 L1643.5,1915.9 L1669.2,1910.0 L1679.6,1914.7 L1695.0,1905.4 L1696.0,1896.0 L1695.0,1884.3 L1710.5,1876.2 L1729.0,1882.0 L1720.8,1866.8 L1720.8,1858.6 L1736.2,1855.1 L1767.1,1855.1 L1782.6,1849.3 L1767.1,1843.5 L1736.2,1847.0 L1710.5,1849.3 L1700.2,1840.0 L1700.2,1831.8 L1705.3,1814.3 L1720.8,1802.6 L1739.3,1790.9 L1731.1,1781.6 L1705.3,1783.9 L1698.1,1793.2 L1679.6,1808.4 L1662.0,1820.1 L1655.9,1837.6 L1666.2,1843.5 L1673.4,1851.6 L1664.1,1861.0 L1650.7,1872.7 L1648.7,1886.7 L1642.5,1894.9 L1628.1,1896.0 L1612.6,1903.0 L1607.5,1893.7 L1602.3,1878.5 L1595.1,1863.3 L1586.9,1857.5 L1581.7,1861.0 L1566.2,1869.2 L1550.8,1872.7 L1536.4,1863.3 L1530.2,1849.3 L1529.2,1837.6 L1532.3,1825.9 L1545.7,1818.9 L1561.1,1811.9 L1576.5,1804.9 L1592.0,1793.2 L1607.5,1779.2 L1617.8,1765.2 L1633.2,1752.4 L1648.7,1744.2 L1669.2,1734.8 L1689.9,1731.3 L1715.6,1726.7 L1741.4,1719.7 L1767.1,1720.8 L1787.7,1729.0 L1798.0,1732.5 L1813.5,1734.8 L1839.2,1741.8 L1870.1,1750.0 L1895.9,1759.4 L1901.0,1773.4 L1885.6,1776.9 L1859.8,1776.9 L1834.1,1771.0 L1818.6,1773.4 L1834.1,1790.9 L1837.1,1797.9 L1859.8,1803.7 L1870.1,1794.4 L1895.9,1796.7 L1911.3,1774.5 L1931.9,1776.9 L1934.0,1761.7 L1926.8,1750.0 L1952.5,1753.5 L1973.1,1759.4 L2024.6,1750.0 L2040.1,1752.4 L2070.9,1748.9 L2096.7,1744.2 L2107.0,1734.8 L2143.1,1740.7 L2168.8,1738.3 L2184.2,1753.5 L2199.7,1750.0 L2173.9,1726.7 L2184.2,1703.3 L2199.7,1697.5 L2215.2,1699.8 L2225.4,1715.0 L2220.3,1732.5 L2235.8,1767.5 L2246.1,1750.0 L2235.8,1726.7 L2251.2,1703.3 L2271.8,1705.6 L2282.1,1720.8 L2307.9,1709.1 L2307.9,1691.6 L2374.8,1685.8 L2395.4,1668.3 L2446.9,1662.4 L2488.1,1660.1 L2519.0,1650.7 L2553.0,1642.6 L2570.5,1647.2 L2611.7,1656.6 L2642.6,1664.8 L2647.8,1685.8 L2627.2,1688.1 L2647.8,1694.0 L2683.8,1691.6 L2735.3,1697.5 L2786.8,1691.6 L2807.4,1703.3 L2802.2,1715.0 L2833.2,1723.2 L2858.9,1715.0 L2905.2,1715.0 L2931.0,1701.0 L2972.2,1704.5 L3023.7,1713.8 L3054.6,1722.0 L3095.8,1720.8 L3126.7,1732.5 L3142.2,1737.2 L3178.2,1736.0 L3209.1,1734.8 L3234.9,1731.3 L3260.6,1734.8 L3291.5,1734.8 L3317.2,1739.5 L3332.7,1745.3 L3332.7,1790.9 L3317.2,1796.7 L3307.0,1820.1 L3270.9,1828.3 L3250.3,1840.0 L3234.9,1849.3 L3188.5,1845.8 L3167.9,1851.6 L3157.6,1866.8 L3147.3,1872.7 L3162.8,1890.2 L3147.3,1913.5 L3126.7,1931.1 L3111.2,1936.9 L3092.7,1954.4 L3085.5,1931.1 L3083.4,1907.7 L3090.7,1878.5 L3106.1,1872.7 L3126.7,1849.3 L3162.8,1825.9 L3126.7,1831.8 L3095.8,1831.8 L3075.2,1857.5 L3044.3,1861.0 L3013.4,1857.5 L2972.2,1857.5 L2941.3,1861.0 L2925.9,1872.7 L2900.1,1890.2 L2884.7,1910.0 L2910.4,1919.4 L2925.9,1931.1 L2934.1,1942.7 L2925.9,1966.1 L2923.8,1983.6 L2905.2,2001.1 L2879.5,2030.3 L2848.6,2050.2 L2828.0,2052.5 L2815.6,2065.4 L2812.6,2077.1 L2797.1,2085.2 L2791.9,2091.1 L2802.2,2102.8 L2811.5,2123.8 L2810.5,2137.8 L2802.2,2142.5 L2781.7,2148.3 L2779.6,2135.5 L2784.7,2123.8 L2781.7,2112.1 L2769.3,2109.8 L2764.1,2100.4 L2770.3,2088.7 L2759.0,2084.1 L2743.5,2087.6 L2727.1,2096.9 L2731.2,2088.7 L2738.4,2077.1 L2725.0,2073.6 L2714.7,2082.9 L2706.5,2091.1 L2694.1,2093.4 L2691.0,2100.4 L2699.2,2106.3 L2704.4,2114.4 L2719.9,2108.6 L2740.4,2113.3 L2730.2,2120.3 L2719.9,2127.3 L2709.6,2137.8 L2719.9,2158.8 L2725.0,2170.5 L2734.3,2178.7 L2730.2,2188.0 L2735.3,2199.7 L2732.2,2211.4 L2725.0,2223.1 L2714.7,2237.1 L2709.6,2252.3 L2699.2,2263.9 L2683.8,2275.6 L2668.4,2283.8 L2652.9,2289.6 L2642.6,2293.1 L2627.2,2299.0 L2616.9,2304.8 L2613.8,2313.0 L2608.6,2299.0 L2596.2,2297.8 L2585.9,2301.3 L2575.7,2313.0 L2567.4,2328.2 L2575.7,2345.7 L2585.9,2359.7 L2599.3,2372.6 L2604.5,2392.4 L2603.5,2413.4 L2591.1,2425.1 L2578.7,2429.8 L2560.2,2449.7 L2558.1,2435.6 L2555.1,2427.5 L2539.6,2415.8 L2529.3,2404.1 L2516.9,2394.8 L2508.7,2398.3 L2500.5,2427.5 L2506.6,2442.6 L2511.8,2462.5 L2522.1,2470.7 L2532.4,2478.9 L2543.7,2494.0 L2543.7,2509.2 L2552.0,2533.7 L2543.7,2534.9 L2529.3,2523.2 L2513.9,2503.4 L2511.8,2485.9 L2508.7,2473.0 L2493.2,2456.7 L2491.2,2439.1 L2494.3,2421.6 L2488.1,2386.6 L2483.0,2357.4 L2472.7,2353.9 L2459.3,2365.6 L2451.0,2360.9 L2449.0,2330.5 L2436.6,2316.5 L2428.4,2304.8 L2424.2,2289.6 L2410.9,2293.1 L2400.6,2295.5 L2385.1,2297.8 L2373.8,2307.2 L2354.2,2324.7 L2333.6,2345.7 L2323.3,2357.4 L2305.8,2369.1 L2304.8,2392.4 L2300.6,2421.6 L2295.5,2429.8 L2284.2,2446.1 L2276.9,2455.5 L2266.7,2445.0 L2259.4,2421.6 L2249.1,2400.6 L2240.9,2374.9 L2233.7,2351.5 L2228.5,2328.2 L2228.5,2304.8 L2225.4,2299.0 L2204.9,2307.2 L2189.4,2289.6 L2199.7,2283.8 L2184.2,2275.6 L2173.9,2263.9 L2164.7,2253.4 L2143.1,2255.8 L2117.3,2256.9 L2101.9,2254.6 L2081.2,2251.1 L2068.9,2247.6 L2060.7,2234.7 L2050.4,2239.4 L2034.9,2238.2 L2019.5,2228.9 L2004.0,2217.2 L1995.8,2199.7 L1978.2,2199.7 L1973.1,2205.5 L1978.2,2217.2 L1988.6,2234.7 L1995.8,2246.4 L2001.9,2258.1 L2009.2,2247.6 L2010.2,2263.9 L2024.6,2267.4 L2040.1,2266.3 L2055.5,2248.8 L2059.6,2242.9 L2058.6,2260.4 L2070.9,2272.1 L2086.4,2286.1 L2094.6,2287.3 L2081.2,2310.7 L2074.0,2328.2 L2060.7,2339.9 L2045.2,2351.5 L2019.5,2360.9 L1993.7,2373.7 L1973.1,2386.6 L1947.4,2398.3 L1926.8,2401.8 L1919.5,2380.7 L1916.5,2357.4 L1906.2,2339.9 L1890.7,2316.5 L1880.4,2295.5 L1875.2,2275.6 L1865.0,2263.9 L1854.7,2246.4 L1841.3,2223.1 L1838.2,2205.5 L1831.0,2184.5 L1837.1,2170.5 L1840.2,2162.3 L1845.4,2147.1 L1848.5,2135.5 L1851.6,2122.6 L1844.4,2122.6 L1834.1,2120.3 L1818.6,2128.5 L1798.0,2120.3 L1792.9,2126.1 L1777.4,2122.6 L1762.0,2117.9 L1756.8,2106.3 L1751.7,2100.4 L1754.7,2088.7 L1748.6,2082.9 L1762.0,2078.2 L1777.4,2072.4 L1772.2,2071.2 L1751.7,2073.6 L1736.2,2072.4 L1723.8,2074.7 L1713.5,2077.1 L1720.8,2080.6 L1711.5,2088.7 L1715.6,2095.7 L1725.9,2103.9 L1717.7,2107.4 L1715.6,2123.8 L1710.5,2123.8 L1702.2,2120.3 L1697.1,2108.6 L1700.2,2102.8 L1692.9,2094.6 L1684.7,2085.2 L1678.5,2078.2 L1679.6,2061.9 L1669.2,2053.7 L1653.8,2045.5 L1641.4,2038.5 L1633.2,2028.0 L1626.0,2021.0 L1619.8,2016.3 L1606.4,2019.8 L1605.4,2030.3 L1612.6,2038.5 L1622.9,2051.4 L1638.4,2060.7 L1645.6,2061.9 L1659.0,2073.6 L1669.2,2081.7 L1655.9,2077.1 L1648.7,2088.7 L1654.8,2094.6 L1648.7,2101.6 L1643.5,2106.3 L1640.4,2102.8 L1643.5,2088.7 L1633.2,2080.6 L1622.9,2071.2 L1607.5,2061.9 L1594.1,2053.7 L1586.9,2047.9 L1583.8,2037.3 L1571.4,2031.5 L1561.1,2037.3 L1550.8,2042.0 L1540.5,2046.7 L1525.0,2043.2 L1512.7,2045.5 L1510.6,2054.9 L1511.7,2060.7 L1499.3,2067.7 L1488.0,2071.2 L1478.7,2084.1 L1475.6,2091.1 L1480.8,2098.1 L1471.5,2110.9 L1462.2,2117.9 L1456.0,2121.4 L1433.4,2121.4 L1424.1,2128.5ZM1435.4,1952.1 L1444.7,1949.7 L1425.1,1945.1 L1436.5,1942.7 L1435.4,1934.6 L1431.3,1927.6 L1447.8,1927.6 L1447.8,1920.5 L1442.7,1913.5 L1427.2,1910.0 L1422.0,1901.9 L1419.0,1890.2 L1422.0,1878.5 L1427.2,1865.7 L1447.8,1865.7 L1442.7,1876.2 L1460.2,1877.3 L1458.1,1883.2 L1449.9,1891.3 L1453.0,1896.0 L1462.2,1900.7 L1465.3,1910.0 L1474.6,1914.7 L1479.7,1924.1 L1481.8,1931.1 L1496.2,1936.9 L1493.1,1952.1 L1473.5,1956.8 L1458.1,1959.1 L1442.7,1959.1 L1432.4,1962.6 L1420.0,1964.9ZM1396.3,1945.1 L1380.9,1947.4 L1372.6,1942.7 L1377.8,1927.6 L1375.7,1917.0 L1391.2,1912.4 L1398.4,1905.4 L1411.8,1905.4 L1420.0,1908.9 L1416.9,1913.5 L1414.8,1925.2 L1416.9,1940.4ZM1252.1,1804.9 L1231.5,1793.2 L1247.0,1788.6 L1229.4,1783.9 L1252.1,1774.5 L1272.7,1778.1 L1293.3,1776.9 L1313.9,1773.4 L1329.3,1779.2 L1338.6,1789.7 L1326.3,1799.1 L1303.6,1804.9 L1283.0,1809.6 L1262.4,1804.9ZM1589.9,1621.5 L1602.3,1618.0 L1653.8,1615.7 L1664.1,1619.2 L1695.0,1630.9 L1674.4,1636.7 L1653.8,1648.4 L1643.5,1656.6 L1612.6,1639.1 L1592.0,1629.7ZM1705.3,1609.9 L1756.8,1615.7 L1705.3,1623.9 L1669.2,1618.0ZM2029.8,1703.3 L2034.9,1691.6 L2055.5,1679.9 L2096.7,1660.1 L2148.2,1650.7 L2184.2,1650.7 L2168.8,1656.6 L2117.3,1668.3 L2086.4,1679.9 L2060.7,1691.6 L2050.4,1703.3 L2070.9,1720.8 L2060.7,1725.5 L2024.6,1723.2 L2014.3,1715.0ZM1973.1,1604.0 L2014.3,1600.5 L2076.1,1597.0 L2117.3,1606.4 L2096.7,1612.2 L2045.2,1615.7 L1993.7,1613.4 L1962.8,1609.9ZM1973.1,1744.2 L1988.6,1738.3 L1995.8,1744.2 L1983.4,1747.7ZM2091.6,1723.2 L2101.9,1727.8 L2081.2,1732.5ZM1606.4,2108.6 L1615.7,2103.9 L1639.4,2102.8 L1634.2,2117.9 L1628.1,2121.4 L1609.5,2110.9ZM1565.2,2094.6 L1563.2,2075.9 L1569.3,2068.9 L1577.6,2071.2 L1578.6,2082.9 L1576.5,2093.4ZM1567.3,2066.5 L1567.3,2054.9 L1574.5,2047.9 L1577.1,2058.4 L1573.5,2066.5ZM1720.8,2137.8 L1731.1,2136.6 L1749.6,2137.8 L1741.4,2141.3 L1725.9,2140.1ZM1811.4,2144.8 L1813.5,2140.1 L1823.8,2137.8 L1835.1,2133.1 L1828.9,2142.5 L1818.6,2146.0ZM1597.2,1896.0 L1608.5,1896.0 L1607.5,1901.9 L1592.0,1904.2ZM1581.7,1901.9 L1589.9,1900.7 L1589.9,1907.7 L1579.6,1906.5ZM1665.1,1878.5 L1671.3,1873.8 L1673.4,1878.5 L1666.2,1884.3Z"/></clipPath>
<g clip-path="url(#cf)">
<g clip-path="url(#lf)">
<rect x="1221.5" y="1593" width="937.0" height="534" fill="#e6301a"/>
<path d="M1169.7,1498.9 L2199.7,1498.9 L2199.7,1825.9 L2159.5,1825.9 L2072.0,1837.6 L2021.5,1852.8 L1871.1,1848.1 L1771.2,1843.5 L1620.8,1830.6 L1545.7,1848.1 L1169.7,1848.1Z" fill="#ea5c1c"/>
<path d="M1169.7,2038.5 L1385.0,2038.5 L1500.3,2038.5 L1596.1,2043.2 L1671.3,2051.4 L1720.8,2071.2 L1771.2,2080.6 L1846.4,2091.1 L1921.6,2115.6 L1972.1,2129.6 L2199.7,2129.6 L2199.7,2199.7 L1169.7,2199.7ZM1961.8,2060.7 L2021.5,2071.2 L2086.4,2071.2 L2021.5,2082.9 L1972.1,2091.1Z" fill="#d81719"/>
</g>
<path d="M1766.1,2059.5 L1767.1,2047.9 L1774.3,2032.7 L1783.6,2026.8 L1787.7,2018.7 L1794.9,2007.0 L1808.3,2005.8 L1824.8,2012.8 L1813.5,2021.0 L1823.8,2031.5 L1842.3,2024.5 L1854.7,2021.0 L1862.9,2024.5 L1875.2,2031.5 L1890.7,2043.2 L1906.2,2053.7 L1907.2,2064.2 L1895.9,2071.2 L1875.2,2072.4 L1854.7,2067.7 L1841.3,2059.5 L1823.8,2059.5 L1803.2,2068.9 L1777.4,2068.9 L1767.1,2068.9ZM1844.4,2007.0 L1865.0,2000.0 L1883.5,1998.8 L1865.0,2010.5 L1844.4,2021.0 L1839.2,2016.3ZM1983.4,2007.0 L2009.2,2001.1 L2026.7,2003.5 L2024.6,2021.0 L2006.1,2030.3 L2007.1,2046.7 L2021.5,2059.5 L2023.6,2071.2 L2032.8,2075.9 L2024.6,2092.2 L2033.9,2113.3 L2014.3,2121.4 L1998.9,2117.9 L1983.4,2110.9 L1982.4,2100.4 L1988.6,2079.4 L1978.2,2061.9 L1968.0,2047.9 L1965.9,2033.8 L1960.7,2026.8 L1968.0,2016.3 L1978.2,2010.5ZM2081.2,2018.7 L2091.6,2007.0 L2107.0,2005.8 L2115.2,2018.7 L2101.9,2032.7 L2089.5,2030.3ZM1785.6,1842.3 L1793.9,1834.1 L1803.2,1829.4 L1816.5,1834.1 L1814.5,1842.3 L1803.2,1849.3 L1790.8,1847.0ZM1838.2,1829.4 L1834.1,1822.4 L1842.3,1816.6 L1848.5,1821.3 L1851.6,1830.6 L1844.4,1835.3 L1834.1,1835.3Z" fill="#fff"/>
<path d="M1421.0,2129.6 L1413.8,2123.8 L1406.6,2115.6 L1401.5,2116.8 L1387.0,2117.9 L1388.1,2106.3 L1380.9,2098.1 L1386.0,2087.6 L1388.1,2077.1 L1389.1,2065.4 L1387.0,2053.7 L1382.9,2047.9 L1396.3,2039.7 L1416.9,2040.9 L1437.5,2043.2 L1458.1,2044.4 L1463.2,2042.0 L1465.3,2030.3 L1466.3,2015.2 L1456.0,2000.0 L1447.8,1995.3 L1432.4,1990.6 L1430.3,1984.8 L1442.7,1980.1 L1460.2,1982.5 L1462.2,1969.6 L1468.4,1973.1 L1480.8,1971.9 L1494.2,1963.8 L1497.2,1955.6 L1504.5,1953.3 L1514.8,1949.7 L1522.0,1943.9 L1527.1,1933.4 L1535.4,1926.4 L1550.8,1925.2 L1566.2,1921.7 L1568.3,1919.4 L1567.3,1907.7 L1562.1,1901.9 L1563.2,1886.7 L1581.7,1877.3 L1586.9,1884.3 L1584.8,1893.7 L1581.7,1901.9 L1579.6,1910.0 L1589.9,1919.4 L1602.3,1917.0 L1617.8,1913.5 L1625.0,1920.5 L1643.5,1915.9 L1669.2,1910.0 L1679.6,1914.7 L1695.0,1905.4 L1696.0,1896.0 L1695.0,1884.3 L1710.5,1876.2 L1729.0,1882.0 L1720.8,1866.8 L1720.8,1858.6 L1736.2,1855.1 L1767.1,1855.1 L1782.6,1849.3 L1767.1,1843.5 L1736.2,1847.0 L1710.5,1849.3 L1700.2,1840.0 L1700.2,1831.8 L1705.3,1814.3 L1720.8,1802.6 L1739.3,1790.9 L1731.1,1781.6 L1705.3,1783.9 L1698.1,1793.2 L1679.6,1808.4 L1662.0,1820.1 L1655.9,1837.6 L1666.2,1843.5 L1673.4,1851.6 L1664.1,1861.0 L1650.7,1872.7 L1648.7,1886.7 L1642.5,1894.9 L1628.1,1896.0 L1612.6,1903.0 L1607.5,1893.7 L1602.3,1878.5 L1595.1,1863.3 L1586.9,1857.5 L1581.7,1861.0 L1566.2,1869.2 L1550.8,1872.7 L1536.4,1863.3 L1530.2,1849.3 L1529.2,1837.6 L1532.3,1825.9 L1545.7,1818.9 L1561.1,1811.9 L1576.5,1804.9 L1592.0,1793.2 L1607.5,1779.2 L1617.8,1765.2 L1633.2,1752.4 L1648.7,1744.2 L1669.2,1734.8 L1689.9,1731.3 L1715.6,1726.7 L1741.4,1719.7 L1767.1,1720.8 L1787.7,1729.0 L1798.0,1732.5 L1813.5,1734.8 L1839.2,1741.8 L1870.1,1750.0 L1895.9,1759.4 L1901.0,1773.4 L1885.6,1776.9 L1859.8,1776.9 L1834.1,1771.0 L1818.6,1773.4 L1834.1,1790.9 L1837.1,1797.9 L1859.8,1803.7 L1870.1,1794.4 L1895.9,1796.7 L1911.3,1774.5 L1931.9,1776.9 L1934.0,1761.7 L1926.8,1750.0 L1952.5,1753.5 L1973.1,1759.4 L2024.6,1750.0 L2040.1,1752.4 L2070.9,1748.9 L2096.7,1744.2 L2107.0,1734.8 L2143.1,1740.7 L2168.8,1738.3 L2184.2,1753.5 L2199.7,1750.0 L2173.9,1726.7 L2184.2,1703.3 L2199.7,1697.5 L2215.2,1699.8 L2225.4,1715.0 L2220.3,1732.5 L2235.8,1767.5 L2246.1,1750.0 L2235.8,1726.7 L2251.2,1703.3 L2271.8,1705.6 L2282.1,1720.8 L2307.9,1709.1 L2307.9,1691.6 L2374.8,1685.8 L2395.4,1668.3 L2446.9,1662.4 L2488.1,1660.1 L2519.0,1650.7 L2553.0,1642.6 L2570.5,1647.2 L2611.7,1656.6 L2642.6,1664.8 L2647.8,1685.8 L2627.2,1688.1 L2647.8,1694.0 L2683.8,1691.6 L2735.3,1697.5 L2786.8,1691.6 L2807.4,1703.3 L2802.2,1715.0 L2833.2,1723.2 L2858.9,1715.0 L2905.2,1715.0 L2931.0,1701.0 L2972.2,1704.5 L3023.7,1713.8 L3054.6,1722.0 L3095.8,1720.8 L3126.7,1732.5 L3142.2,1737.2 L3178.2,1736.0 L3209.1,1734.8 L3234.9,1731.3 L3260.6,1734.8 L3291.5,1734.8 L3317.2,1739.5 L3332.7,1745.3 L3332.7,1790.9 L3317.2,1796.7 L3307.0,1820.1 L3270.9,1828.3 L3250.3,1840.0 L3234.9,1849.3 L3188.5,1845.8 L3167.9,1851.6 L3157.6,1866.8 L3147.3,1872.7 L3162.8,1890.2 L3147.3,1913.5 L3126.7,1931.1 L3111.2,1936.9 L3092.7,1954.4 L3085.5,1931.1 L3083.4,1907.7 L3090.7,1878.5 L3106.1,1872.7 L3126.7,1849.3 L3162.8,1825.9 L3126.7,1831.8 L3095.8,1831.8 L3075.2,1857.5 L3044.3,1861.0 L3013.4,1857.5 L2972.2,1857.5 L2941.3,1861.0 L2925.9,1872.7 L2900.1,1890.2 L2884.7,1910.0 L2910.4,1919.4 L2925.9,1931.1 L2934.1,1942.7 L2925.9,1966.1 L2923.8,1983.6 L2905.2,2001.1 L2879.5,2030.3 L2848.6,2050.2 L2828.0,2052.5 L2815.6,2065.4 L2812.6,2077.1 L2797.1,2085.2 L2791.9,2091.1 L2802.2,2102.8 L2811.5,2123.8 L2810.5,2137.8 L2802.2,2142.5 L2781.7,2148.3 L2779.6,2135.5 L2784.7,2123.8 L2781.7,2112.1 L2769.3,2109.8 L2764.1,2100.4 L2770.3,2088.7 L2759.0,2084.1 L2743.5,2087.6 L2727.1,2096.9 L2731.2,2088.7 L2738.4,2077.1 L2725.0,2073.6 L2714.7,2082.9 L2706.5,2091.1 L2694.1,2093.4 L2691.0,2100.4 L2699.2,2106.3 L2704.4,2114.4 L2719.9,2108.6 L2740.4,2113.3 L2730.2,2120.3 L2719.9,2127.3 L2709.6,2137.8 L2719.9,2158.8 L2725.0,2170.5 L2734.3,2178.7 L2730.2,2188.0 L2735.3,2199.7 L2732.2,2211.4 L2725.0,2223.1 L2714.7,2237.1 L2709.6,2252.3 L2699.2,2263.9 L2683.8,2275.6 L2668.4,2283.8 L2652.9,2289.6 L2642.6,2293.1 L2627.2,2299.0 L2616.9,2304.8 L2613.8,2313.0 L2608.6,2299.0 L2596.2,2297.8 L2585.9,2301.3 L2575.7,2313.0 L2567.4,2328.2 L2575.7,2345.7 L2585.9,2359.7 L2599.3,2372.6 L2604.5,2392.4 L2603.5,2413.4 L2591.1,2425.1 L2578.7,2429.8 L2560.2,2449.7 L2558.1,2435.6 L2555.1,2427.5 L2539.6,2415.8 L2529.3,2404.1 L2516.9,2394.8 L2508.7,2398.3 L2500.5,2427.5 L2506.6,2442.6 L2511.8,2462.5 L2522.1,2470.7 L2532.4,2478.9 L2543.7,2494.0 L2543.7,2509.2 L2552.0,2533.7 L2543.7,2534.9 L2529.3,2523.2 L2513.9,2503.4 L2511.8,2485.9 L2508.7,2473.0 L2493.2,2456.7 L2491.2,2439.1 L2494.3,2421.6 L2488.1,2386.6 L2483.0,2357.4 L2472.7,2353.9 L2459.3,2365.6 L2451.0,2360.9 L2449.0,2330.5 L2436.6,2316.5 L2428.4,2304.8 L2424.2,2289.6 L2410.9,2293.1 L2400.6,2295.5 L2385.1,2297.8 L2373.8,2307.2 L2354.2,2324.7 L2333.6,2345.7 L2323.3,2357.4 L2305.8,2369.1 L2304.8,2392.4 L2300.6,2421.6 L2295.5,2429.8 L2284.2,2446.1 L2276.9,2455.5 L2266.7,2445.0 L2259.4,2421.6 L2249.1,2400.6 L2240.9,2374.9 L2233.7,2351.5 L2228.5,2328.2 L2228.5,2304.8 L2225.4,2299.0 L2204.9,2307.2 L2189.4,2289.6 L2199.7,2283.8 L2184.2,2275.6 L2173.9,2263.9 L2164.7,2253.4 L2143.1,2255.8 L2117.3,2256.9 L2101.9,2254.6 L2081.2,2251.1 L2068.9,2247.6 L2060.7,2234.7 L2050.4,2239.4 L2034.9,2238.2 L2019.5,2228.9 L2004.0,2217.2 L1995.8,2199.7 L1978.2,2199.7 L1973.1,2205.5 L1978.2,2217.2 L1988.6,2234.7 L1995.8,2246.4 L2001.9,2258.1 L2009.2,2247.6 L2010.2,2263.9 L2024.6,2267.4 L2040.1,2266.3 L2055.5,2248.8 L2059.6,2242.9 L2058.6,2260.4 L2070.9,2272.1 L2086.4,2286.1 L2094.6,2287.3 L2081.2,2310.7 L2074.0,2328.2 L2060.7,2339.9 L2045.2,2351.5 L2019.5,2360.9 L1993.7,2373.7 L1973.1,2386.6 L1947.4,2398.3 L1926.8,2401.8 L1919.5,2380.7 L1916.5,2357.4 L1906.2,2339.9 L1890.7,2316.5 L1880.4,2295.5 L1875.2,2275.6 L1865.0,2263.9 L1854.7,2246.4 L1841.3,2223.1 L1838.2,2205.5 L1831.0,2184.5 L1837.1,2170.5 L1840.2,2162.3 L1845.4,2147.1 L1848.5,2135.5 L1851.6,2122.6 L1844.4,2122.6 L1834.1,2120.3 L1818.6,2128.5 L1798.0,2120.3 L1792.9,2126.1 L1777.4,2122.6 L1762.0,2117.9 L1756.8,2106.3 L1751.7,2100.4 L1754.7,2088.7 L1748.6,2082.9 L1762.0,2078.2 L1777.4,2072.4 L1772.2,2071.2 L1751.7,2073.6 L1736.2,2072.4 L1723.8,2074.7 L1713.5,2077.1 L1720.8,2080.6 L1711.5,2088.7 L1715.6,2095.7 L1725.9,2103.9 L1717.7,2107.4 L1715.6,2123.8 L1710.5,2123.8 L1702.2,2120.3 L1697.1,2108.6 L1700.2,2102.8 L1692.9,2094.6 L1684.7,2085.2 L1678.5,2078.2 L1679.6,2061.9 L1669.2,2053.7 L1653.8,2045.5 L1641.4,2038.5 L1633.2,2028.0 L1626.0,2021.0 L1619.8,2016.3 L1606.4,2019.8 L1605.4,2030.3 L1612.6,2038.5 L1622.9,2051.4 L1638.4,2060.7 L1645.6,2061.9 L1659.0,2073.6 L1669.2,2081.7 L1655.9,2077.1 L1648.7,2088.7 L1654.8,2094.6 L1648.7,2101.6 L1643.5,2106.3 L1640.4,2102.8 L1643.5,2088.7 L1633.2,2080.6 L1622.9,2071.2 L1607.5,2061.9 L1594.1,2053.7 L1586.9,2047.9 L1583.8,2037.3 L1571.4,2031.5 L1561.1,2037.3 L1550.8,2042.0 L1540.5,2046.7 L1525.0,2043.2 L1512.7,2045.5 L1510.6,2054.9 L1511.7,2060.7 L1499.3,2067.7 L1488.0,2071.2 L1478.7,2084.1 L1475.6,2091.1 L1480.8,2098.1 L1471.5,2110.9 L1462.2,2117.9 L1456.0,2121.4 L1433.4,2121.4 L1424.1,2128.5ZM1435.4,1952.1 L1444.7,1949.7 L1425.1,1945.1 L1436.5,1942.7 L1435.4,1934.6 L1431.3,1927.6 L1447.8,1927.6 L1447.8,1920.5 L1442.7,1913.5 L1427.2,1910.0 L1422.0,1901.9 L1419.0,1890.2 L1422.0,1878.5 L1427.2,1865.7 L1447.8,1865.7 L1442.7,1876.2 L1460.2,1877.3 L1458.1,1883.2 L1449.9,1891.3 L1453.0,1896.0 L1462.2,1900.7 L1465.3,1910.0 L1474.6,1914.7 L1479.7,1924.1 L1481.8,1931.1 L1496.2,1936.9 L1493.1,1952.1 L1473.5,1956.8 L1458.1,1959.1 L1442.7,1959.1 L1432.4,1962.6 L1420.0,1964.9ZM1396.3,1945.1 L1380.9,1947.4 L1372.6,1942.7 L1377.8,1927.6 L1375.7,1917.0 L1391.2,1912.4 L1398.4,1905.4 L1411.8,1905.4 L1420.0,1908.9 L1416.9,1913.5 L1414.8,1925.2 L1416.9,1940.4ZM1252.1,1804.9 L1231.5,1793.2 L1247.0,1788.6 L1229.4,1783.9 L1252.1,1774.5 L1272.7,1778.1 L1293.3,1776.9 L1313.9,1773.4 L1329.3,1779.2 L1338.6,1789.7 L1326.3,1799.1 L1303.6,1804.9 L1283.0,1809.6 L1262.4,1804.9ZM1589.9,1621.5 L1602.3,1618.0 L1653.8,1615.7 L1664.1,1619.2 L1695.0,1630.9 L1674.4,1636.7 L1653.8,1648.4 L1643.5,1656.6 L1612.6,1639.1 L1592.0,1629.7ZM1705.3,1609.9 L1756.8,1615.7 L1705.3,1623.9 L1669.2,1618.0ZM2029.8,1703.3 L2034.9,1691.6 L2055.5,1679.9 L2096.7,1660.1 L2148.2,1650.7 L2184.2,1650.7 L2168.8,1656.6 L2117.3,1668.3 L2086.4,1679.9 L2060.7,1691.6 L2050.4,1703.3 L2070.9,1720.8 L2060.7,1725.5 L2024.6,1723.2 L2014.3,1715.0ZM1973.1,1604.0 L2014.3,1600.5 L2076.1,1597.0 L2117.3,1606.4 L2096.7,1612.2 L2045.2,1615.7 L1993.7,1613.4 L1962.8,1609.9ZM1973.1,1744.2 L1988.6,1738.3 L1995.8,1744.2 L1983.4,1747.7ZM2091.6,1723.2 L2101.9,1727.8 L2081.2,1732.5ZM1606.4,2108.6 L1615.7,2103.9 L1639.4,2102.8 L1634.2,2117.9 L1628.1,2121.4 L1609.5,2110.9ZM1565.2,2094.6 L1563.2,2075.9 L1569.3,2068.9 L1577.6,2071.2 L1578.6,2082.9 L1576.5,2093.4ZM1567.3,2066.5 L1567.3,2054.9 L1574.5,2047.9 L1577.1,2058.4 L1573.5,2066.5ZM1720.8,2137.8 L1731.1,2136.6 L1749.6,2137.8 L1741.4,2141.3 L1725.9,2140.1ZM1811.4,2144.8 L1813.5,2140.1 L1823.8,2137.8 L1835.1,2133.1 L1828.9,2142.5 L1818.6,2146.0ZM1597.2,1896.0 L1608.5,1896.0 L1607.5,1901.9 L1592.0,1904.2ZM1581.7,1901.9 L1589.9,1900.7 L1589.9,1907.7 L1579.6,1906.5ZM1665.1,1878.5 L1671.3,1873.8 L1673.4,1878.5 L1666.2,1884.3ZM1766.1,2059.5 L1767.1,2047.9 L1774.3,2032.7 L1783.6,2026.8 L1787.7,2018.7 L1794.9,2007.0 L1808.3,2005.8 L1824.8,2012.8 L1813.5,2021.0 L1823.8,2031.5 L1842.3,2024.5 L1854.7,2021.0 L1862.9,2024.5 L1875.2,2031.5 L1890.7,2043.2 L1906.2,2053.7 L1907.2,2064.2 L1895.9,2071.2 L1875.2,2072.4 L1854.7,2067.7 L1841.3,2059.5 L1823.8,2059.5 L1803.2,2068.9 L1777.4,2068.9 L1767.1,2068.9ZM1844.4,2007.0 L1865.0,2000.0 L1883.5,1998.8 L1865.0,2010.5 L1844.4,2021.0 L1839.2,2016.3ZM1983.4,2007.0 L2009.2,2001.1 L2026.7,2003.5 L2024.6,2021.0 L2006.1,2030.3 L2007.1,2046.7 L2021.5,2059.5 L2023.6,2071.2 L2032.8,2075.9 L2024.6,2092.2 L2033.9,2113.3 L2014.3,2121.4 L1998.9,2117.9 L1983.4,2110.9 L1982.4,2100.4 L1988.6,2079.4 L1978.2,2061.9 L1968.0,2047.9 L1965.9,2033.8 L1960.7,2026.8 L1968.0,2016.3 L1978.2,2010.5ZM2081.2,2018.7 L2091.6,2007.0 L2107.0,2005.8 L2115.2,2018.7 L2101.9,2032.7 L2089.5,2030.3ZM1785.6,1842.3 L1793.9,1834.1 L1803.2,1829.4 L1816.5,1834.1 L1814.5,1842.3 L1803.2,1849.3 L1790.8,1847.0ZM1838.2,1829.4 L1834.1,1822.4 L1842.3,1816.6 L1848.5,1821.3 L1851.6,1830.6 L1844.4,1835.3 L1834.1,1835.3Z" fill="none" stroke="#111" stroke-width="1.8" stroke-linejoin="round"/>
<path d="M1536.4,1863.3 L1530.2,1849.3 L1529.2,1837.6 L1532.3,1825.9 L1545.7,1818.9 L1561.1,1811.9 L1576.5,1804.9 L1592.0,1793.2 L1607.5,1779.2 L1617.8,1765.2 L1633.2,1752.4 L1648.7,1744.2 L1669.2,1734.8 L1689.9,1731.3 L1715.6,1726.7 L1741.4,1719.7 L1767.1,1720.8 L1787.7,1729.0 L1798.0,1732.5" fill="none" stroke="#111" stroke-width="4" stroke-linejoin="round"/>
<path d="M1589.9,1621.5 L1602.3,1618.0 L1653.8,1615.7 L1664.1,1619.2 L1695.0,1630.9 L1674.4,1636.7 L1653.8,1648.4 L1643.5,1656.6 L1612.6,1639.1 L1592.0,1629.7ZM1705.3,1609.9 L1756.8,1615.7 L1705.3,1623.9 L1669.2,1618.0ZM1973.1,1604.0 L2014.3,1600.5 L2076.1,1597.0 L2117.3,1606.4 L2096.7,1612.2 L2045.2,1615.7 L1993.7,1613.4 L1962.8,1609.9Z" fill="none" stroke="#111" stroke-width="3" stroke-linejoin="round"/>
</g>
<rect x="1221.5" y="1593.0" width="937.0" height="534.0" fill="none" stroke="#1e1a1a" stroke-width="3.6"/>
<text x="1246.5" y="1632.4" font-size="38" text-anchor="start" textLength="31.6" lengthAdjust="spacingAndGlyphs" fill="#231f20" stroke="#231f20" stroke-width="0.55">(f)</text>
<line x1="1324.2" y1="2127.0" x2="1324.2" y2="2146.0" stroke="#231f20" stroke-width="3.2"/>
<text x="1324.2" y="2180.0" font-size="26" text-anchor="middle" textLength="56.8" lengthAdjust="spacingAndGlyphs" fill="#231f20" stroke="#231f20" stroke-width="0.55">15°W</text>
<line x1="1478.7" y1="2127.0" x2="1478.7" y2="2146.0" stroke="#231f20" stroke-width="3.2"/>
<text x="1478.7" y="2180.0" font-size="26" text-anchor="middle" textLength="22.1" lengthAdjust="spacingAndGlyphs" fill="#231f20" stroke="#231f20" stroke-width="0.55">0°</text>
<line x1="1633.2" y1="2127.0" x2="1633.2" y2="2146.0" stroke="#231f20" stroke-width="3.2"/>
<text x="1633.2" y="2180.0" font-size="26" text-anchor="middle" textLength="50.4" lengthAdjust="spacingAndGlyphs" fill="#231f20" stroke="#231f20" stroke-width="0.55">15°E</text>
<line x1="1787.7" y1="2127.0" x2="1787.7" y2="2146.0" stroke="#231f20" stroke-width="3.2"/>
<text x="1787.7" y="2180.0" font-size="26" text-anchor="middle" textLength="50.4" lengthAdjust="spacingAndGlyphs" fill="#231f20" stroke="#231f20" stroke-width="0.55">30°E</text>
<line x1="1942.2" y1="2127.0" x2="1942.2" y2="2146.0" stroke="#231f20" stroke-width="3.2"/>
<text x="1942.2" y="2180.0" font-size="26" text-anchor="middle" textLength="50.4" lengthAdjust="spacingAndGlyphs" fill="#231f20" stroke="#231f20" stroke-width="0.55">45°E</text>
<line x1="2096.7" y1="2127.0" x2="2096.7" y2="2146.0" stroke="#231f20" stroke-width="3.2"/>
<text x="2096.7" y="2180.0" font-size="26" text-anchor="middle" textLength="50.4" lengthAdjust="spacingAndGlyphs" fill="#231f20" stroke="#231f20" stroke-width="0.55">60°E</text>
<line x1="1201.5" y1="1615.7" x2="1221.5" y2="1615.7" stroke="#231f20" stroke-width="3.2"/>
<text x="1189.5" y="1624.8" font-size="26" text-anchor="end" textLength="51.7" lengthAdjust="spacingAndGlyphs" fill="#231f20" stroke="#231f20" stroke-width="0.55">80°N</text>
<line x1="1201.5" y1="1732.5" x2="1221.5" y2="1732.5" stroke="#231f20" stroke-width="3.2"/>
<text x="1189.5" y="1741.6" font-size="26" text-anchor="end" textLength="51.7" lengthAdjust="spacingAndGlyphs" fill="#231f20" stroke="#231f20" stroke-width="0.55">70°N</text>
<line x1="1201.5" y1="1849.3" x2="1221.5" y2="1849.3" stroke="#231f20" stroke-width="3.2"/>
<text x="1189.5" y="1858.4" font-size="26" text-anchor="end" textLength="51.7" lengthAdjust="spacingAndGlyphs" fill="#231f20" stroke="#231f20" stroke-width="0.55">60°N</text>
<line x1="1201.5" y1="1966.1" x2="1221.5" y2="1966.1" stroke="#231f20" stroke-width="3.2"/>
<text x="1189.5" y="1975.2" font-size="26" text-anchor="end" textLength="51.7" lengthAdjust="spacingAndGlyphs" fill="#231f20" stroke="#231f20" stroke-width="0.55">50°N</text>
<line x1="1201.5" y1="2082.9" x2="1221.5" y2="2082.9" stroke="#231f20" stroke-width="3.2"/>
<text x="1189.5" y="2092.0" font-size="26" text-anchor="end" textLength="51.7" lengthAdjust="spacingAndGlyphs" fill="#231f20" stroke="#231f20" stroke-width="0.55">40°N</text>
<rect x="51.10" y="668.8" width="88.60" height="51.200000000000045" fill="#100304"/>
<rect x="139.10" y="668.8" width="88.60" height="51.200000000000045" fill="#43060a"/>
<rect x="227.10" y="668.8" width="88.60" height="51.200000000000045" fill="#7e191f"/>
<rect x="315.10" y="668.8" width="88.60" height="51.200000000000045" fill="#b41b24"/>
<rect x="403.10" y="668.8" width="88.60" height="51.200000000000045" fill="#e41c18"/>
<rect x="491.10" y="668.8" width="88.60" height="51.200000000000045" fill="#e84419"/>
<rect x="579.10" y="668.8" width="88.60" height="51.200000000000045" fill="#ed761e"/>
<rect x="667.10" y="668.8" width="88.60" height="51.200000000000045" fill="#f3ad19"/>
<rect x="755.10" y="668.8" width="88.60" height="51.200000000000045" fill="#f4e42a"/>
<rect x="843.10" y="668.8" width="88.60" height="51.200000000000045" fill="#f0e85f"/>
<rect x="931.10" y="668.8" width="88.60" height="51.200000000000045" fill="#f6f2a4"/>
<rect x="1019.10" y="668.8" width="88.60" height="51.200000000000045" fill="#ffffff"/>
<line x1="139.10" y1="668.8" x2="139.10" y2="720" stroke="#2a2220" stroke-width="2.4"/>
<line x1="227.10" y1="668.8" x2="227.10" y2="720" stroke="#2a2220" stroke-width="2.4"/>
<line x1="315.10" y1="668.8" x2="315.10" y2="720" stroke="#2a2220" stroke-width="2.4"/>
<line x1="403.10" y1="668.8" x2="403.10" y2="720" stroke="#2a2220" stroke-width="2.4"/>
<line x1="491.10" y1="668.8" x2="491.10" y2="720" stroke="#2a2220" stroke-width="2.4"/>
<line x1="579.10" y1="668.8" x2="579.10" y2="720" stroke="#2a2220" stroke-width="2.4"/>
<line x1="667.10" y1="668.8" x2="667.10" y2="720" stroke="#2a2220" stroke-width="2.4"/>
<line x1="755.10" y1="668.8" x2="755.10" y2="720" stroke="#2a2220" stroke-width="2.4"/>
<line x1="843.10" y1="668.8" x2="843.10" y2="720" stroke="#2a2220" stroke-width="2.4"/>
<line x1="931.10" y1="668.8" x2="931.10" y2="720" stroke="#2a2220" stroke-width="2.4"/>
<line x1="1019.10" y1="668.8" x2="1019.10" y2="720" stroke="#2a2220" stroke-width="2.4"/>
<rect x="51.1" y="668.8" width="1056.0" height="51.200000000000045" fill="none" stroke="#3a3532" stroke-width="3"/>
<text x="139.1" y="751.5" font-size="29" text-anchor="middle" textLength="21.7" lengthAdjust="spacingAndGlyphs" fill="#231f20" stroke="#231f20" stroke-width="0.55">-1</text>
<text x="227.1" y="751.5" font-size="29" text-anchor="middle" textLength="42.0" lengthAdjust="spacingAndGlyphs" fill="#231f20" stroke="#231f20" stroke-width="0.55">-0.9</text>
<text x="315.1" y="751.5" font-size="29" text-anchor="middle" textLength="42.0" lengthAdjust="spacingAndGlyphs" fill="#231f20" stroke="#231f20" stroke-width="0.55">-0.8</text>
<text x="403.1" y="751.5" font-size="29" text-anchor="middle" textLength="42.0" lengthAdjust="spacingAndGlyphs" fill="#231f20" stroke="#231f20" stroke-width="0.55">-0.7</text>
<text x="491.1" y="751.5" font-size="29" text-anchor="middle" textLength="42.0" lengthAdjust="spacingAndGlyphs" fill="#231f20" stroke="#231f20" stroke-width="0.55">-0.6</text>
<text x="579.1" y="751.5" font-size="29" text-anchor="middle" textLength="42.0" lengthAdjust="spacingAndGlyphs" fill="#231f20" stroke="#231f20" stroke-width="0.55">-0.5</text>
<text x="667.1" y="751.5" font-size="29" text-anchor="middle" textLength="42.0" lengthAdjust="spacingAndGlyphs" fill="#231f20" stroke="#231f20" stroke-width="0.55">-0.4</text>
<text x="755.1" y="751.5" font-size="29" text-anchor="middle" textLength="42.0" lengthAdjust="spacingAndGlyphs" fill="#231f20" stroke="#231f20" stroke-width="0.55">-0.3</text>
<text x="843.1" y="751.5" font-size="29" text-anchor="middle" textLength="42.0" lengthAdjust="spacingAndGlyphs" fill="#231f20" stroke="#231f20" stroke-width="0.55">-0.2</text>
<text x="931.1" y="751.5" font-size="29" text-anchor="middle" textLength="42.0" lengthAdjust="spacingAndGlyphs" fill="#231f20" stroke="#231f20" stroke-width="0.55">-0.1</text>
<text x="1019.1" y="751.5" font-size="29" text-anchor="middle" textLength="13.5" lengthAdjust="spacingAndGlyphs" fill="#231f20" stroke="#231f20" stroke-width="0.55">0</text>
<text x="579.0" y="657.8" font-size="29" text-anchor="middle" textLength="53.0" lengthAdjust="spacingAndGlyphs" fill="#231f20" stroke="#231f20" stroke-width="0.55">ppm</text>
<rect x="51.10" y="1452" width="81.80" height="50.40000000000009" fill="#0f0203"/>
<rect x="132.30" y="1452" width="81.80" height="50.40000000000009" fill="#430408"/>
<rect x="213.50" y="1452" width="81.80" height="50.40000000000009" fill="#73161c"/>
<rect x="294.70" y="1452" width="81.80" height="50.40000000000009" fill="#a31c22"/>
<rect x="375.90" y="1452" width="81.80" height="50.40000000000009" fill="#d81719"/>
<rect x="457.10" y="1452" width="81.80" height="50.40000000000009" fill="#e6301a"/>
<rect x="538.30" y="1452" width="81.80" height="50.40000000000009" fill="#ea5c1c"/>
<rect x="619.50" y="1452" width="81.80" height="50.40000000000009" fill="#ef8c21"/>
<rect x="700.70" y="1452" width="81.80" height="50.40000000000009" fill="#f4c01f"/>
<rect x="781.90" y="1452" width="81.80" height="50.40000000000009" fill="#f0e637"/>
<rect x="863.10" y="1452" width="81.80" height="50.40000000000009" fill="#efe461"/>
<rect x="944.30" y="1452" width="81.80" height="50.40000000000009" fill="#f6f1a5"/>
<rect x="1025.50" y="1452" width="81.80" height="50.40000000000009" fill="#ffffff"/>
<line x1="132.30" y1="1452" x2="132.30" y2="1502.4" stroke="#2a2220" stroke-width="2.4"/>
<line x1="213.50" y1="1452" x2="213.50" y2="1502.4" stroke="#2a2220" stroke-width="2.4"/>
<line x1="294.70" y1="1452" x2="294.70" y2="1502.4" stroke="#2a2220" stroke-width="2.4"/>
<line x1="375.90" y1="1452" x2="375.90" y2="1502.4" stroke="#2a2220" stroke-width="2.4"/>
<line x1="457.10" y1="1452" x2="457.10" y2="1502.4" stroke="#2a2220" stroke-width="2.4"/>
<line x1="538.30" y1="1452" x2="538.30" y2="1502.4" stroke="#2a2220" stroke-width="2.4"/>
<line x1="619.50" y1="1452" x2="619.50" y2="1502.4" stroke="#2a2220" stroke-width="2.4"/>
<line x1="700.70" y1="1452" x2="700.70" y2="1502.4" stroke="#2a2220" stroke-width="2.4"/>
<line x1="781.90" y1="1452" x2="781.90" y2="1502.4" stroke="#2a2220" stroke-width="2.4"/>
<line x1="863.10" y1="1452" x2="863.10" y2="1502.4" stroke="#2a2220" stroke-width="2.4"/>
<line x1="944.30" y1="1452" x2="944.30" y2="1502.4" stroke="#2a2220" stroke-width="2.4"/>
<line x1="1025.50" y1="1452" x2="1025.50" y2="1502.4" stroke="#2a2220" stroke-width="2.4"/>
<rect x="51.1" y="1452" width="1055.6000000000001" height="50.40000000000009" fill="none" stroke="#3a3532" stroke-width="3"/>
<text x="132.3" y="1532.7" font-size="25" text-anchor="middle" textLength="55.8" lengthAdjust="spacingAndGlyphs" fill="#231f20" stroke="#231f20" stroke-width="0.55">-0.84</text>
<text x="213.5" y="1532.7" font-size="25" text-anchor="middle" textLength="42.2" lengthAdjust="spacingAndGlyphs" fill="#231f20" stroke="#231f20" stroke-width="0.55">-0.8</text>
<text x="294.7" y="1532.7" font-size="25" text-anchor="middle" textLength="55.8" lengthAdjust="spacingAndGlyphs" fill="#231f20" stroke="#231f20" stroke-width="0.55">-0.76</text>
<text x="375.9" y="1532.7" font-size="25" text-anchor="middle" textLength="55.8" lengthAdjust="spacingAndGlyphs" fill="#231f20" stroke="#231f20" stroke-width="0.55">-0.72</text>
<text x="457.1" y="1532.7" font-size="25" text-anchor="middle" textLength="55.8" lengthAdjust="spacingAndGlyphs" fill="#231f20" stroke="#231f20" stroke-width="0.55">-0.68</text>
<text x="538.3" y="1532.7" font-size="25" text-anchor="middle" textLength="55.8" lengthAdjust="spacingAndGlyphs" fill="#231f20" stroke="#231f20" stroke-width="0.55">-0.64</text>
<text x="619.5" y="1532.7" font-size="25" text-anchor="middle" textLength="42.2" lengthAdjust="spacingAndGlyphs" fill="#231f20" stroke="#231f20" stroke-width="0.55">-0.6</text>
<text x="700.7" y="1532.7" font-size="25" text-anchor="middle" textLength="55.8" lengthAdjust="spacingAndGlyphs" fill="#231f20" stroke="#231f20" stroke-width="0.55">-0.56</text>
<text x="781.9" y="1532.7" font-size="25" text-anchor="middle" textLength="55.8" lengthAdjust="spacingAndGlyphs" fill="#231f20" stroke="#231f20" stroke-width="0.55">-0.52</text>
<text x="863.1" y="1532.7" font-size="25" text-anchor="middle" textLength="55.8" lengthAdjust="spacingAndGlyphs" fill="#231f20" stroke="#231f20" stroke-width="0.55">-0.48</text>
<text x="944.3" y="1532.7" font-size="25" text-anchor="middle" textLength="55.8" lengthAdjust="spacingAndGlyphs" fill="#231f20" stroke="#231f20" stroke-width="0.55">-0.44</text>
<text x="1025.5" y="1532.7" font-size="25" text-anchor="middle" textLength="42.2" lengthAdjust="spacingAndGlyphs" fill="#231f20" stroke="#231f20" stroke-width="0.55">-0.4</text>
<text x="579.0" y="1439.7" font-size="28" text-anchor="middle" textLength="53.9" lengthAdjust="spacingAndGlyphs" fill="#231f20" stroke="#231f20" stroke-width="0.55">ppm</text>
<rect x="1162.40" y="1455.5" width="117.80" height="49.299999999999955" fill="#f8f5c6"/>
<rect x="1279.60" y="1455.5" width="117.80" height="49.299999999999955" fill="#f4e29c"/>
<rect x="1396.80" y="1455.5" width="117.80" height="49.299999999999955" fill="#f2cd73"/>
<rect x="1514.00" y="1455.5" width="117.80" height="49.299999999999955" fill="#f1a94c"/>
<rect x="1631.20" y="1455.5" width="117.80" height="49.299999999999955" fill="#ed863d"/>
<rect x="1748.40" y="1455.5" width="117.80" height="49.299999999999955" fill="#e5502d"/>
<rect x="1865.60" y="1455.5" width="117.80" height="49.299999999999955" fill="#d42420"/>
<rect x="1982.80" y="1455.5" width="117.80" height="49.299999999999955" fill="#ad1b25"/>
<rect x="2100.00" y="1455.5" width="117.80" height="49.299999999999955" fill="#761625"/>
<line x1="1279.60" y1="1455.5" x2="1279.60" y2="1504.8" stroke="#2a2220" stroke-width="2.4"/>
<line x1="1396.80" y1="1455.5" x2="1396.80" y2="1504.8" stroke="#2a2220" stroke-width="2.4"/>
<line x1="1514.00" y1="1455.5" x2="1514.00" y2="1504.8" stroke="#2a2220" stroke-width="2.4"/>
<line x1="1631.20" y1="1455.5" x2="1631.20" y2="1504.8" stroke="#2a2220" stroke-width="2.4"/>
<line x1="1748.40" y1="1455.5" x2="1748.40" y2="1504.8" stroke="#2a2220" stroke-width="2.4"/>
<line x1="1865.60" y1="1455.5" x2="1865.60" y2="1504.8" stroke="#2a2220" stroke-width="2.4"/>
<line x1="1982.80" y1="1455.5" x2="1982.80" y2="1504.8" stroke="#2a2220" stroke-width="2.4"/>
<line x1="2100.00" y1="1455.5" x2="2100.00" y2="1504.8" stroke="#2a2220" stroke-width="2.4"/>
<rect x="1162.4" y="1455.5" width="1054.7999999999997" height="49.299999999999955" fill="none" stroke="#3a3532" stroke-width="3"/>
<text x="1279.6" y="1535.5" font-size="25" text-anchor="middle" textLength="40.0" lengthAdjust="spacingAndGlyphs" fill="#231f20" stroke="#231f20" stroke-width="0.55">500</text>
<text x="1396.8" y="1535.5" font-size="25" text-anchor="middle" textLength="53.4" lengthAdjust="spacingAndGlyphs" fill="#231f20" stroke="#231f20" stroke-width="0.55">1000</text>
<text x="1514.0" y="1535.5" font-size="25" text-anchor="middle" textLength="53.4" lengthAdjust="spacingAndGlyphs" fill="#231f20" stroke="#231f20" stroke-width="0.55">1500</text>
<text x="1631.2" y="1535.5" font-size="25" text-anchor="middle" textLength="53.4" lengthAdjust="spacingAndGlyphs" fill="#231f20" stroke="#231f20" stroke-width="0.55">2000</text>
<text x="1748.4" y="1535.5" font-size="25" text-anchor="middle" textLength="53.4" lengthAdjust="spacingAndGlyphs" fill="#231f20" stroke="#231f20" stroke-width="0.55">2500</text>
<text x="1865.6" y="1535.5" font-size="25" text-anchor="middle" textLength="53.4" lengthAdjust="spacingAndGlyphs" fill="#231f20" stroke="#231f20" stroke-width="0.55">3000</text>
<text x="1982.8" y="1535.5" font-size="25" text-anchor="middle" textLength="53.4" lengthAdjust="spacingAndGlyphs" fill="#231f20" stroke="#231f20" stroke-width="0.55">3500</text>
<text x="2100.0" y="1535.5" font-size="25" text-anchor="middle" textLength="53.4" lengthAdjust="spacingAndGlyphs" fill="#231f20" stroke="#231f20" stroke-width="0.55">4000</text>
<text x="1627.0" y="1442.2" font-size="28" text-anchor="start" textLength="34.0" lengthAdjust="spacingAndGlyphs" fill="#231f20" stroke="#231f20" stroke-width="0.55">gC</text>
<text x="1671.5" y="1442.2" font-size="28" text-anchor="start" textLength="22.2" lengthAdjust="spacingAndGlyphs" fill="#231f20" stroke="#231f20" stroke-width="0.55">m</text>
<text x="1693.0" y="1430.5" font-size="16" text-anchor="start" textLength="13.5" lengthAdjust="spacingAndGlyphs" fill="#231f20" stroke="#231f20" stroke-width="0.55">-2</text>
<text x="1716.5" y="1442.2" font-size="28" text-anchor="start" textLength="22.2" lengthAdjust="spacingAndGlyphs" fill="#231f20" stroke="#231f20" stroke-width="0.55">yr</text>
<text x="1738.0" y="1430.5" font-size="16" text-anchor="start" textLength="13.5" lengthAdjust="spacingAndGlyphs" fill="#231f20" stroke="#231f20" stroke-width="0.55">-1</text>
<rect x="51.10" y="2234" width="81.80" height="51.19999999999982" fill="#0f0203"/>
<rect x="132.30" y="2234" width="81.80" height="51.19999999999982" fill="#430408"/>
<rect x="213.50" y="2234" width="81.80" height="51.19999999999982" fill="#73161c"/>
<rect x="294.70" y="2234" width="81.80" height="51.19999999999982" fill="#a31c22"/>
<rect x="375.90" y="2234" width="81.80" height="51.19999999999982" fill="#d81719"/>
<rect x="457.10" y="2234" width="81.80" height="51.19999999999982" fill="#e6301a"/>
<rect x="538.30" y="2234" width="81.80" height="51.19999999999982" fill="#ea5c1c"/>
<rect x="619.50" y="2234" width="81.80" height="51.19999999999982" fill="#ef8c21"/>
<rect x="700.70" y="2234" width="81.80" height="51.19999999999982" fill="#f4c01f"/>
<rect x="781.90" y="2234" width="81.80" height="51.19999999999982" fill="#f0e637"/>
<rect x="863.10" y="2234" width="81.80" height="51.19999999999982" fill="#efe461"/>
<rect x="944.30" y="2234" width="81.80" height="51.19999999999982" fill="#f6f1a5"/>
<rect x="1025.50" y="2234" width="81.80" height="51.19999999999982" fill="#ffffff"/>
<line x1="132.30" y1="2234" x2="132.30" y2="2285.2" stroke="#2a2220" stroke-width="2.4"/>
<line x1="213.50" y1="2234" x2="213.50" y2="2285.2" stroke="#2a2220" stroke-width="2.4"/>
<line x1="294.70" y1="2234" x2="294.70" y2="2285.2" stroke="#2a2220" stroke-width="2.4"/>
<line x1="375.90" y1="2234" x2="375.90" y2="2285.2" stroke="#2a2220" stroke-width="2.4"/>
<line x1="457.10" y1="2234" x2="457.10" y2="2285.2" stroke="#2a2220" stroke-width="2.4"/>
<line x1="538.30" y1="2234" x2="538.30" y2="2285.2" stroke="#2a2220" stroke-width="2.4"/>
<line x1="619.50" y1="2234" x2="619.50" y2="2285.2" stroke="#2a2220" stroke-width="2.4"/>
<line x1="700.70" y1="2234" x2="700.70" y2="2285.2" stroke="#2a2220" stroke-width="2.4"/>
<line x1="781.90" y1="2234" x2="781.90" y2="2285.2" stroke="#2a2220" stroke-width="2.4"/>
<line x1="863.10" y1="2234" x2="863.10" y2="2285.2" stroke="#2a2220" stroke-width="2.4"/>
<line x1="944.30" y1="2234" x2="944.30" y2="2285.2" stroke="#2a2220" stroke-width="2.4"/>
<line x1="1025.50" y1="2234" x2="1025.50" y2="2285.2" stroke="#2a2220" stroke-width="2.4"/>
<rect x="51.1" y="2234" width="1055.6000000000001" height="51.19999999999982" fill="none" stroke="#3a3532" stroke-width="3"/>
<text x="132.3" y="2316.3" font-size="25" text-anchor="middle" textLength="55.8" lengthAdjust="spacingAndGlyphs" fill="#231f20" stroke="#231f20" stroke-width="0.55">-0.84</text>
<text x="213.5" y="2316.3" font-size="25" text-anchor="middle" textLength="42.2" lengthAdjust="spacingAndGlyphs" fill="#231f20" stroke="#231f20" stroke-width="0.55">-0.8</text>
<text x="294.7" y="2316.3" font-size="25" text-anchor="middle" textLength="55.8" lengthAdjust="spacingAndGlyphs" fill="#231f20" stroke="#231f20" stroke-width="0.55">-0.76</text>
<text x="375.9" y="2316.3" font-size="25" text-anchor="middle" textLength="55.8" lengthAdjust="spacingAndGlyphs" fill="#231f20" stroke="#231f20" stroke-width="0.55">-0.72</text>
<text x="457.1" y="2316.3" font-size="25" text-anchor="middle" textLength="55.8" lengthAdjust="spacingAndGlyphs" fill="#231f20" stroke="#231f20" stroke-width="0.55">-0.68</text>
<text x="538.3" y="2316.3" font-size="25" text-anchor="middle" textLength="55.8" lengthAdjust="spacingAndGlyphs" fill="#231f20" stroke="#231f20" stroke-width="0.55">-0.64</text>
<text x="619.5" y="2316.3" font-size="25" text-anchor="middle" textLength="42.2" lengthAdjust="spacingAndGlyphs" fill="#231f20" stroke="#231f20" stroke-width="0.55">-0.6</text>
<text x="700.7" y="2316.3" font-size="25" text-anchor="middle" textLength="55.8" lengthAdjust="spacingAndGlyphs" fill="#231f20" stroke="#231f20" stroke-width="0.55">-0.56</text>
<text x="781.9" y="2316.3" font-size="25" text-anchor="middle" textLength="55.8" lengthAdjust="spacingAndGlyphs" fill="#231f20" stroke="#231f20" stroke-width="0.55">-0.52</text>
<text x="863.1" y="2316.3" font-size="25" text-anchor="middle" textLength="55.8" lengthAdjust="spacingAndGlyphs" fill="#231f20" stroke="#231f20" stroke-width="0.55">-0.48</text>
<text x="944.3" y="2316.3" font-size="25" text-anchor="middle" textLength="55.8" lengthAdjust="spacingAndGlyphs" fill="#231f20" stroke="#231f20" stroke-width="0.55">-0.44</text>
<text x="1025.5" y="2316.3" font-size="25" text-anchor="middle" textLength="42.2" lengthAdjust="spacingAndGlyphs" fill="#231f20" stroke="#231f20" stroke-width="0.55">-0.4</text>
<text x="579.0" y="2221.7" font-size="28" text-anchor="middle" textLength="53.9" lengthAdjust="spacingAndGlyphs" fill="#231f20" stroke="#231f20" stroke-width="0.55">ppm</text>
<rect x="1162.40" y="2234" width="81.74" height="51.19999999999982" fill="#0f0203"/>
<rect x="1243.54" y="2234" width="81.74" height="51.19999999999982" fill="#430408"/>
<rect x="1324.68" y="2234" width="81.74" height="51.19999999999982" fill="#73161c"/>
<rect x="1405.82" y="2234" width="81.74" height="51.19999999999982" fill="#a31c22"/>
<rect x="1486.95" y="2234" width="81.74" height="51.19999999999982" fill="#d81719"/>
<rect x="1568.09" y="2234" width="81.74" height="51.19999999999982" fill="#e6301a"/>
<rect x="1649.23" y="2234" width="81.74" height="51.19999999999982" fill="#ea5c1c"/>
<rect x="1730.37" y="2234" width="81.74" height="51.19999999999982" fill="#ef8c21"/>
<rect x="1811.51" y="2234" width="81.74" height="51.19999999999982" fill="#f4c01f"/>
<rect x="1892.65" y="2234" width="81.74" height="51.19999999999982" fill="#f0e637"/>
<rect x="1973.78" y="2234" width="81.74" height="51.19999999999982" fill="#efe461"/>
<rect x="2054.92" y="2234" width="81.74" height="51.19999999999982" fill="#f6f1a5"/>
<rect x="2136.06" y="2234" width="81.74" height="51.19999999999982" fill="#ffffff"/>
<line x1="1243.54" y1="2234" x2="1243.54" y2="2285.2" stroke="#2a2220" stroke-width="2.4"/>
<line x1="1324.68" y1="2234" x2="1324.68" y2="2285.2" stroke="#2a2220" stroke-width="2.4"/>
<line x1="1405.82" y1="2234" x2="1405.82" y2="2285.2" stroke="#2a2220" stroke-width="2.4"/>
<line x1="1486.95" y1="2234" x2="1486.95" y2="2285.2" stroke="#2a2220" stroke-width="2.4"/>
<line x1="1568.09" y1="2234" x2="1568.09" y2="2285.2" stroke="#2a2220" stroke-width="2.4"/>
<line x1="1649.23" y1="2234" x2="1649.23" y2="2285.2" stroke="#2a2220" stroke-width="2.4"/>
<line x1="1730.37" y1="2234" x2="1730.37" y2="2285.2" stroke="#2a2220" stroke-width="2.4"/>
<line x1="1811.51" y1="2234" x2="1811.51" y2="2285.2" stroke="#2a2220" stroke-width="2.4"/>
<line x1="1892.65" y1="2234" x2="1892.65" y2="2285.2" stroke="#2a2220" stroke-width="2.4"/>
<line x1="1973.78" y1="2234" x2="1973.78" y2="2285.2" stroke="#2a2220" stroke-width="2.4"/>
<line x1="2054.92" y1="2234" x2="2054.92" y2="2285.2" stroke="#2a2220" stroke-width="2.4"/>
<line x1="2136.06" y1="2234" x2="2136.06" y2="2285.2" stroke="#2a2220" stroke-width="2.4"/>
<rect x="1162.4" y="2234" width="1054.7999999999997" height="51.19999999999982" fill="none" stroke="#3a3532" stroke-width="3"/>
<text x="1243.5" y="2316.3" font-size="25" text-anchor="middle" textLength="55.8" lengthAdjust="spacingAndGlyphs" fill="#231f20" stroke="#231f20" stroke-width="0.55">-0.84</text>
<text x="1324.7" y="2316.3" font-size="25" text-anchor="middle" textLength="42.2" lengthAdjust="spacingAndGlyphs" fill="#231f20" stroke="#231f20" stroke-width="0.55">-0.8</text>
<text x="1405.8" y="2316.3" font-size="25" text-anchor="middle" textLength="55.8" lengthAdjust="spacingAndGlyphs" fill="#231f20" stroke="#231f20" stroke-width="0.55">-0.76</text>
<text x="1487.0" y="2316.3" font-size="25" text-anchor="middle" textLength="55.8" lengthAdjust="spacingAndGlyphs" fill="#231f20" stroke="#231f20" stroke-width="0.55">-0.72</text>
<text x="1568.1" y="2316.3" font-size="25" text-anchor="middle" textLength="55.8" lengthAdjust="spacingAndGlyphs" fill="#231f20" stroke="#231f20" stroke-width="0.55">-0.68</text>
<text x="1649.2" y="2316.3" font-size="25" text-anchor="middle" textLength="55.8" lengthAdjust="spacingAndGlyphs" fill="#231f20" stroke="#231f20" stroke-width="0.55">-0.64</text>
<text x="1730.4" y="2316.3" font-size="25" text-anchor="middle" textLength="42.2" lengthAdjust="spacingAndGlyphs" fill="#231f20" stroke="#231f20" stroke-width="0.55">-0.6</text>
<text x="1811.5" y="2316.3" font-size="25" text-anchor="middle" textLength="55.8" lengthAdjust="spacingAndGlyphs" fill="#231f20" stroke="#231f20" stroke-width="0.55">-0.56</text>
<text x="1892.6" y="2316.3" font-size="25" text-anchor="middle" textLength="55.8" lengthAdjust="spacingAndGlyphs" fill="#231f20" stroke="#231f20" stroke-width="0.55">-0.52</text>
<text x="1973.8" y="2316.3" font-size="25" text-anchor="middle" textLength="55.8" lengthAdjust="spacingAndGlyphs" fill="#231f20" stroke="#231f20" stroke-width="0.55">-0.48</text>
<text x="2054.9" y="2316.3" font-size="25" text-anchor="middle" textLength="55.8" lengthAdjust="spacingAndGlyphs" fill="#231f20" stroke="#231f20" stroke-width="0.55">-0.44</text>
<text x="2136.1" y="2316.3" font-size="25" text-anchor="middle" textLength="42.2" lengthAdjust="spacingAndGlyphs" fill="#231f20" stroke="#231f20" stroke-width="0.55">-0.4</text>
<text x="1689.0" y="2221.7" font-size="28" text-anchor="middle" textLength="53.9" lengthAdjust="spacingAndGlyphs" fill="#231f20" stroke="#231f20" stroke-width="0.55">ppm</text>
</svg>
</body></html>
